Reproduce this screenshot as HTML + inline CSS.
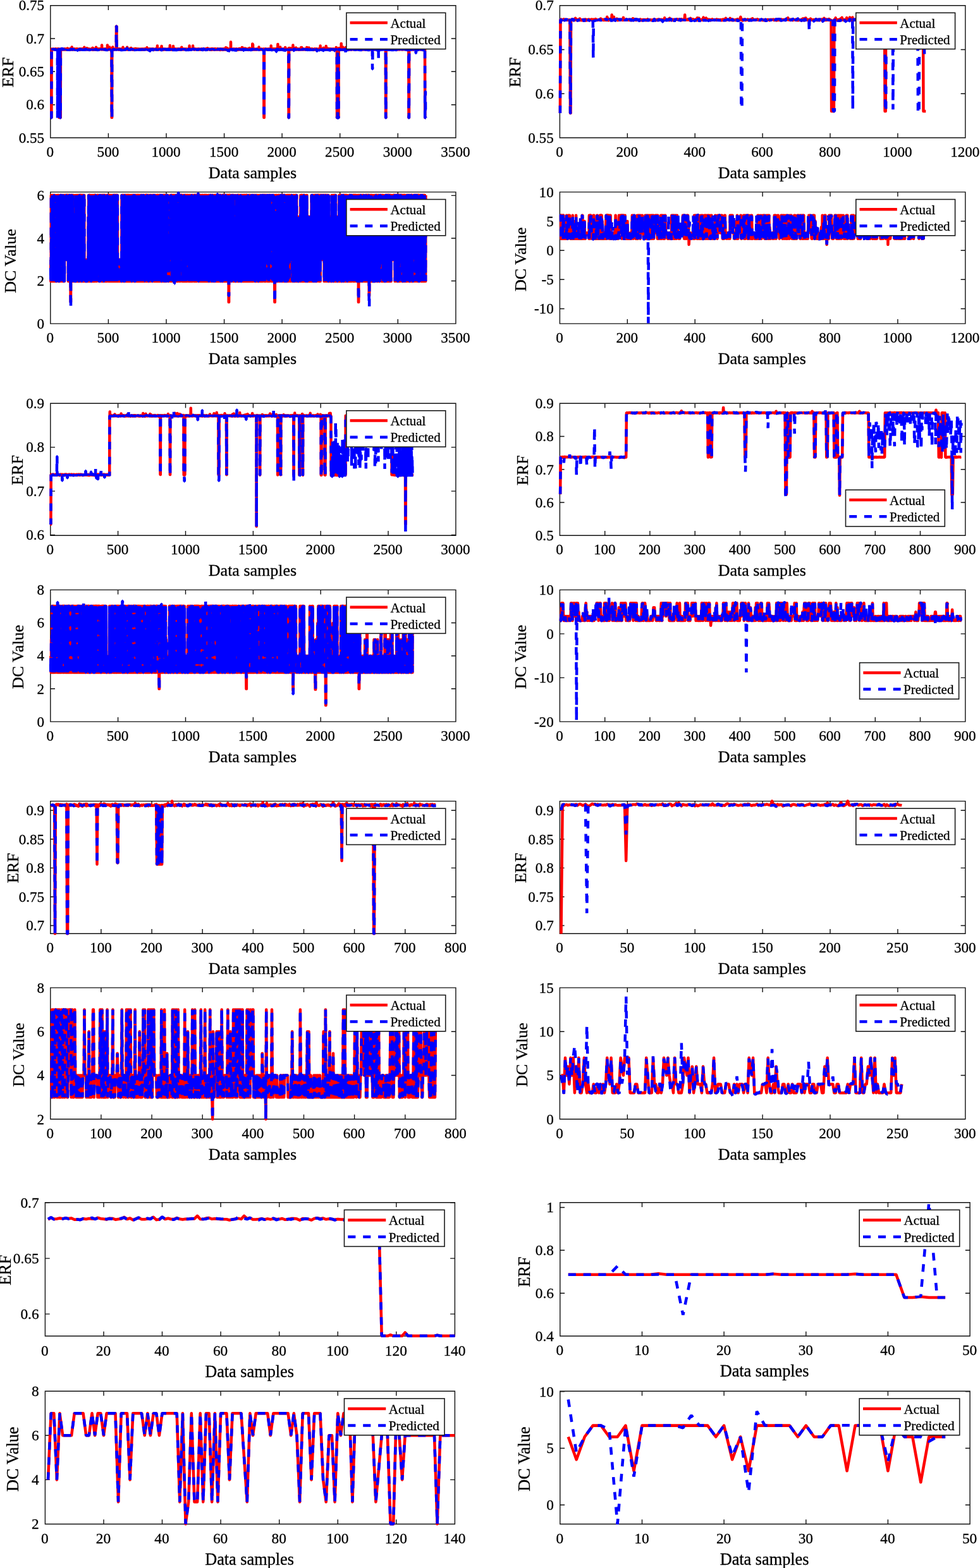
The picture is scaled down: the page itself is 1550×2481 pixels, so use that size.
<!DOCTYPE html>
<html><head><meta charset="utf-8"><title>Actual vs Predicted</title>
<style>html,body{margin:0;padding:0;background:#fff}svg{display:block}text{stroke:#000;stroke-width:0.3px}</style></head>
<body><svg width="1550" height="2481" viewBox="0 0 1550 2481" font-family='"Liberation Serif", "DejaVu Serif", serif'>
<rect width="1550" height="2481" fill="#fff"/>
<clipPath id="c0"><rect x="77.5" y="6.4" width="645.7" height="213.9"/></clipPath>
<path d="M79.8 8.7H720.9V218H79.8ZM79.8 218v-7.2 M79.8 8.7v7.2M171.4 218v-7.2 M171.4 8.7v7.2M263 218v-7.2 M263 8.7v7.2M354.6 218v-7.2 M354.6 8.7v7.2M446.1 218v-7.2 M446.1 8.7v7.2M537.7 218v-7.2 M537.7 8.7v7.2M629.3 218v-7.2 M629.3 8.7v7.2M720.9 218v-7.2 M720.9 8.7v7.2M79.8 218h7.2 M720.9 218h-7.2M79.8 165.7h7.2 M720.9 165.7h-7.2M79.8 113.3h7.2 M720.9 113.3h-7.2M79.8 61h7.2 M720.9 61h-7.2M79.8 8.7h7.2 M720.9 8.7h-7.2" fill="none" stroke="#111" stroke-width="1.4"/>
<g clip-path="url(#c0)" fill="none" stroke-width="4.5">
<path d="M80 186.1h1.4l.2-108l.2-.6l.2 1.1l.2-.5h.2l.1-.5l.2 .7l.2-.3l.2 .3l.2-.3l.2-.2l.1 .5l.2-.7l.2 .1l.2 .1l.2-.1l.2 .5l.1-.2l.2 .3l.2-.2l.2-.3l.2 .4l.2-.1l.1 .1h.4l.2-.2l.2 .3l.2-.4l.1-.4l.2 .2l.2 .3l.2 .3l.2-.1l.2-.8l.1 .6l.2 .2l.2-.3l.2-.6l.2 .6l.2-.1l.1 .1l.2 .2l.2 .2l.2-.2l.2-.1l.2-.2l.1-.1h.2l.2 .2l.2-.2l.2 .5l.2-.6l.1 .2l.2 .3l.2-.3l.2 .2l.2-.4l.2-.1l.1-.2l.2 1.1h.2l.2-.3l.2-.2l.2-.2l.1 108.4h.4l.2-108.4l.2 .2l.2-.2l.1 .3h.2l.2-.1l.2 108.2h.5l.2-108.2h.2l.2-.3h.2l.2 .3l.1 .2l.2 .1l.2-.4l.2 .2l.2 .1l.2-.1l.1 .2l.2-.4l.2 .3l.2-.5l.2 .3l.1-.1l.2 .5l.2-.4l.2-.2l.2 .6l.2-.2l.1-.1l.2 .4l.2-.5l.2-.2l.2 .5l.2-.3l.1 .5l.2-.4l.2 .5l.2-.9l.2 .2l.2 .2l.1 .2l.2-.6l.2-.2l.2 1.2l.2-1l.2-.1l.1 .4l.2 .5l.2-.7l.2 .3l.2 .2l.2 .2l.1-.6l.2-.1l.2 .5l.2-.4l.2 .5l.2-.6l.1 .3h.4l.2-.3h.2l.2 .1l.1 .1l.2-1.5l.2 1.4l.2 .1l.2-.1l.2 .3l.1 .6l.2-1l.2-.4l.2 .5l.2 .2h.5l.2 .3l.2-.2l.2 .2l.2-.4l.1 .2l.2-.3l.2 .2l.2-.3l.2 .2l.2-.6l.1 1.3l.2-.4l.2-.5l.2-.5l.2 .9l.2-.1h.1l.2-.4l.2 .5l.2-.3l.2 .3l.2 .3l.1-.5l.2-.1l.2-.2l.2-3.2l.2 3.8l.2-.4l.1-1.6l.2 1.7l.2 .1l.2-.4l.2 .3l.2-.5l.1 .2l.2 .2l.2 .7l.2-.7h.2l.2-.1h.1l.2 .4l.2-.4l.2 .5l.2-.8l.2 1l.1 .1h.2l.2-.2h.2l.2-.9l.1 .7l.2 .3l.2-.8l.2 .6l.2 .2l.2-.7l.1 .1l.2 .3l.2-.6l.2 .4l.2-.4l.2 .3l.1-.3l.2 .4l.2 .5l.2-1.2l.2 .9l.2-.1l.1 .2l.2-.2l.2-.1h.2l.2-.1l.2-.4l.1 .6l.2 .4l.2-.1l.2-.1l.2 .3l.2-.8l.1 .4h.2l.2-.1l.2 .4l.2-.2l.2-.4h.1l.2 .3l.2-.7l.2 1l.2-.3h.2l.1 .8l.2-1.5l.2 .5l.2 .4l.2-1l.2 .5h.1l.2 .4l.2-.3l.2 .6l.2-.8l.2 .4l.1-.2l.2-.3l.2 .3h.4l.2 .3l.1-.5l.2-.2l.2 .2h.2l.2 .6h.2l.1 .1l.2-.8l.2 .5l.2-.6l.2 .7l.2-.1l.1-.2l.2-.2l.2 .3l.2-.1l.2 .1l.2-.1l.1 .4l.2-.3h.2l.2-3.2l.2 3l.2 .4l.1-.2l.2 .1l.2-.3l.2-.1l.2 .6l.2-.5l.1-.5l.2 1.1l.2-.2l.2 .1l.2-.2l.2-.6l.1 .5l.2 .2l.2-.4l.2 .4l.2-.6l.1 .3l.2-.4l.2 .7l.2-2l.2 1.5l.2 .1l.1 .2l.2 .2l.2 .1l.2-.3l.2 .2l.2-.3l.1 .3l.2-.4l.2-.1l.2 .5l.2-.6l.2 .5l.1-.5l.2 .2l.2-.2l.2 .7l.2-.3l.2-.5l.1 .7l.2 .4h.2l.2 .2l.2-.2l.2-.5l.1-.5l.2 .5l.2-.2l.2 .1h.5l.2-.2l.2 .5l.2-.6h.2l.2 .3l.1-.3l.2 .5l.2-.1l.2-.2l.2 .1l.2 .1l.1 .1h.2l.2-.5l.2 .9l.2-2.8l.2 2.3l.1-.4l.2 .1l.2 1.1l.2-1.1l.2 .1l.2 .1l.1 .1l.2-.4l.2 .4l.2-.7l.2 .4l.2-.5l.1 .9l.2 .3l.2-.7l.2-.1l.2 .3l.2 .5l.1-.4l.2-.3l.2 .2h.4l.2 .3l.1-.2l.2 .3l.2-1l.2 .7l.2-3.4l.2 3.6l.1-.6l.2 .9l.2-.9l.2 .3l.2-.7l.2 1.1l.1-.4l.2-.1l.2-.3l.2 .5l.2-.1l.2 .7l.1-.5l.2-.4l.2-.2l.2 .5l.2-.8l.1 .1l.2 .6l.2 .7l.2-.2l.2-.3l.2-.6l.1 .3l.2 .7l.2-.5l.2-.6l.2 .6l.2 .1l.1-.9l.2 .7l.2 .1l.2-.2l.2 .1l.2 .1l.1-.5h.2l.2 .1l.2 .3l.2-.4l.2 .4l.1-.2l.2-.1h.2l.2-.3l.2 .4l.2 .7l.1-.2l.2-6.8l.2 6.6l.2-.2l.2 .3l.2-.5l.1 .4l.2-.6l.2 .6l.2-.5l.2 .2l.2 .4l.1-.6l.2 .7l.2-.1l.2-.4l.2 .4h.2l.1-.1l.2 .2l.2-.6l.2 .1l.2 .2h.2l.1-.2l.2-.4l.2 .3l.2 .4l.2-.4l.2 .3h.1l.2-.6l.2 .7h.2l.2 .5l.2-.2l.1-.6l.2 .4l.2-.4l.2 .5l.2-.1l.2-.4l.1-.3l.2 .3l.2-.2l.2-.2l.2 .3l.2-1.4l.1 1.7l.2-6.5l.2 6.6l.2-.3l.2 .7l.2-.3l.1-.4l.2 .9l.2-.4l.2-.3l.2 .5l.2-.5l.1-3.3l.2 3.4h.2l.2-.2l.2 .3l.2-.2l.1 .2l.2-3.7l.2 2.9l.2 .5h.2l.2 .4l.1-2l.2 1.9h.2l.2-.4l.2 .1l.1-.3l.2-.1l.2 .6l.2-.2l.2-.5l.2 .3l.1 .1l.2-.2l.2 .6l.2 107.9h.4l.1-107.9l.2-.1l.2-.2l.2 .2h.2l.2-.3l.1-3.4l.2 4.1l.2-.6l.2 .2l.2 .1l.2 .3l.1-.8l.2 1l.2-.2l.2-.4l.2-.5h.2l.1 .7l.2-.3l.2 .5l.2-.8l.2 .7l.2-.4l.1-.3l.2 .3l.2-.5l.2 .8l.2-.4l.2-.2l.1 .3l.2-.5l.2 .3l.2 .7l.2-1.8l.2-1.1l.1 2.3l.2-36.2h.4l.2 36.1l.2 .1l.1-.5l.2 .5l.2-.1l.2 .1l.2 .1h.2l.1-.4l.2 .1l.2 .5l.2 .1l.2-.3l.2-.4l.1 .4l.2-.6l.2 .8l.2-.3l.2 .9l.2-.6l.1-.1l.2-.3l.2-.4l.2 .6l.2-.5l.2 .3l.1-.1l.2 .4l.2-.6l.2 .8l.2-.5l.2 .5l.1-.2l.2 .3l.2-.3l.2-.2l.2 .1l.2 .4l.1-.9l.2 .4l.2-.2h.2l.2 .5l.2 .4l.1-.3l.2-.7l.2 .7l.2-.6l.2 .5l.1-.3l.2 .7l.2-1l.2 .4l.2-.3l.2-3l.1 3l.2 .3l.2-.3l.2 .8l.2-.2l.2-.5l.1 .2l.2 .1l.2-.1l.2-.2l.2 .4l.2-.4l.1 .5l.2-.2l.2-.4l.2-.1l.2 .7l.2-.6l.1 .6l.2-.6l.2 .9l.2-.3l.2-.2l.2-.1l.1-.5l.2 .2l.2-.2l.2 .1l.2 .5h.2l.1-.5l.2 .4h.2l.2 .4l.2-.4l.2-3.3l.1 3.4l.2 .2l.2-.5l.2 .3h.2l.2-.5l.1 .7l.2-.4l.2 .7l.2-.6l.2-.2l.2-.1l.1 .6l.2-.4h.2l.2 .1l.2-.1l.2-.1l.1 .1l.2 .4l.2 .1l.2-1.2l.2 .2l.2 1l.1-.6h.2l.2-.1l.2 .2l.2 .4l.2-.3l.1 .1l.2-.2l.2 .2l.2-2.1l.2 1.7l.2-.1l.1 .7l.2-.2l.2 .1l.2-.6l.2 .4l.2-.5l.1 .6l.2-.1l.2 .4l.2-.8l.2 .5l.2 .3l.1-.2l.2 .5l.2-.7l.2-.1h.2l.2-.4l.1 .6l.2-.4l.2 .2l.2 .1l.2 .6l.1-.9l.2 .4l.2-.1l.2 .4l.2-.5h.2l.1 .1h.2l.2-.4l.2 .1l.2 .1l.2-.9l.1 1.3l.2-.1l.2 .2l.2-.5l.2 .4l.2 .6l.1-.4l.2-.4l.2-.3l.2 .8l.2-.3l.2-.2l.1 .2l.2-.4l.2 .2l.2-.1l.2 .3l.2-.7l.1 .5l.2-.4l.2 .5l.2-.3l.2 .4l.2 .1l.1-.1l.2-.2h.2l.2-.5l.2 .8h.2l.1-.9l.2 .4l.2 .8l.2-.8l.2 .1l.2 .8l.1-.6l.2-.1l.2-.3h.2l.2 .2l.2-.2l.1 .3l.2 .2l.2 .1l.2-.5l.2 .8l.2-.8l.1 .5l.2-.2l.2-.3l.2-.2l.2 1l.2-.4l.1-.2l.2 .2l.2-.5l.2 .9l.2-.7l.2-.1l.1 .2l.2-.4l.2 .8l.2-.8l.2 .6l.2-.4l.1 .3l.2-.4h.2l.2 .7l.2-.4h.2l.1 .1l.2 .1l.2-.8l.2 .5l.2-.4l.2 .7l.1 .1l.2-.4l.2 .3l.2-1l.2 .7l.2-.3l.1 .4l.2 .1l.2-.1l.2-.1l.2-.2l.2 .3l.1 .2l.2 .1l.2-.3l.2-.2h.2l.1 .2l.2 .2l.2-.3l.2-.1l.2-2.6l.2 2.7l.1 .1l.2-.3l.2 .4l.2-.2h.2l.2-.1l.1-.3l.2 .3h.2l.2 .6l.2-.6l.2-.5l.1 .9l.2 .1l.2-.3l.2-.3l.2 .1l.2 .3l.1-.1l.2-.3l.2 .1l.2-.6l.2 .5l.2 .2l.1-.1l.2 .3l.2 .2l.2-.4l.2-.1l.2 .6l.1-.3h.2l.2-.2l.2 .2l.2-.3l.2 .1l.1-.3l.2 .9l.2-1h.2l.2 .5l.2-.2h.1l.2 .4l.2-.3l.2-.2l.2 .2l.2-.3l.1 .3l.2 .1l.2 .2l.2-.1h.2l.2-.7l.1 .5l.2 .4l.2-.4l.2 .1l.2 .9l.2-1.1l.1 .7l.2-.7l.2 .5l.2 .1l.2-.6l.2 .6l.1-.3l.2-.2l.2-.1l.2-.1l.2 .3l.2 .2l.1-.8l.2 .8l.2-.8l.2 .7l.2-.5h.2l.1 .7l.2-.4l.2-.2l.2 .1l.2 .2l.2-.1l.1 .2l.2 .2l.2-.6l.2-2.6l.2-2.6l.2 5.3l.1 .5l.2-.3l.2 .1l.2 .2l.2-.5l.1 .3l.2-.6l.2 .2l.2 .6l.2-.3h.2l.1 .5l.2-.8h.4l.2 .4l.2-.5l.1 .4l.2-.3l.2-.3l.2 .5l.2 .5l.2-.3l.1-.3l.2-1.4l.2 1.9l.2-.3l.2-.1l.2-.1l.1-.1l.2 .6l.2-.2l.2-.4l.2 .2l.2-.1l.1-4.7l.2 4.8l.2-.1l.2 .3l.2 .3h.2l.1-.4h.2l.2 .2l.2-.3l.2 .4l.2-.4l.1 .1l.2 .2l.2 .5l.2-1.2l.2 .4l.2 .9l.1-.7l.2-.2l.2 .1l.2-.2l.2 .5l.2-.4l.1 .1h.4l.2-.1l.2-.2l.2 .4h.1l.2-.2l.2 .1l.2-.1l.2-.1l.2-.2l.1 .4l.2 .7l.2-.7l.2-.1l.2 .1h.2l.1 .7l.2-.9l.2 .3l.2 .4l.2-.2l.2-.1l.1-.4h.2l.2-.3l.2 .3l.2 .6h.2l.1-.8l.2-.1l.2 .6l.2-.3l.2 .7l.2 .1l.1-.3l.2-.2h.6l.2-.3l.1-.3l.2 .5l.2-.7l.2 .9l.2-.1l.1-.2l.2-5.9l.2 5.6l.2 .6l.2-.6l.2 .3l.1-.7l.2 .9l.2-.1l.2-.1l.2 .8l.2-.9h.1l.2 .1l.2 .6h.2l.2-.7l.2-.2l.1-.1l.2 .8h.2l.2-.2l.2 .5l.2-.4l.1-.5l.2-.2l.2 .4l.2-.4l.2 .3l.2-4.7l.1 4.9l.2-.1l.2 .2l.2-.1l.2 .2l.2-.3l.1 .1l.2 .4l.2-.3l.2 .1l.2 .4l.2-.8l.1-.3l.2-.3l.2 .3l.2 .8l.2-.7h.2l.1 1l.2-.9l.2 .1l.2 .1h.2l.2 .1l.1-.5l.2 .6l.2-.1h.2l.2-.1l.2 .6l.1-1l.2 .4l.2-.1l.2 .1l.2 .1l.2 .1l.1-.2h.2l.2-.3l.2 .3l.2 .1l.2-.6l.1 1h.2l.2-.5l.2 .1l.2 .5l.2-.4l.1 .1l.2-.6l.2 .6l.2-.6l.2 .2l.2 .2h.1l.2-.2l.2 .9l.2-.8l.2 .2l.2-.7l.1 .8l.2-.6l.2 1.2l.2-1.1l.2 .2l.2 .2l.1-.1l.2 .1l.2-.3l.2 .2l.2 .5l.2-.5l.1-3.3l.2 3.3l.2-.1l.2 .2l.2-.2h.1l.2 .2l.2-.4l.2 .6l.2-.3l.2-.2l.1 .3l.2 .3l.2-.6l.2 .5l.2-.2l.2 .1l.1-.2l.2 .1h.2l.2-.3l.2-.4l.2 .7l.1-.3l.2 .3l.2-.2l.2-.3l.2 .4l.2 .2h.3l.2-.2l.2-.3l.2 .7l.2-.1h.1l.2 .2l.2-.9l.2 .4l.2-.6l.2 1l.1-.8l.2 .6l.2-.1l.2 .2h.2l.2 .1l.1-.5l.2 .5l.2-.3l.2-.1l.2-.2l.2 .1h.1l.2-.1l.2 .2l.2-.1l.2 .4l.2-.1l.1-.8l.2 .6l.2 .2l.2-.7l.2 .5l.2 .2l.1 .2l.2-.7l.2-5.2l.2 5.6l.2-.3l.2 .1l.1 .1h.2l.2-.4l.2-.3l.2 .9l.2-.4l.1-.4l.2 .2l.2 .6l.2-.1l.2 .1l.2 .1l.1-.1l.2-.3l.2 .3l.2-.5l.2 .2l.2 .2l.1-.4l.2 .2h.2l.2-.2l.2 .1l.2 .2l.1-.3l.2 .2l.2-5.4l.2 5.1h.4l.1 .4l.2-.4l.2 .4l.2 .2h.2l.1-.4l.2 .7l.2-.6l.2 .3l.2-.4l.2 .4l.1-.8l.2 .3l.2 .7l.2-1l.2 .6l.2 .2l.1 .1l.2-.5l.2-.3l.2 .7l.2 .1h.2l.1-.8h.2l.2 .6l.2-.3l.2 .2h.2l.1-.3l.2 .1l.2 .1l.2 .2l.2-.4l.2 .4l.1-.1l.2-.1l.2 .5l.2-.3h.2l.2-.2l.1 .4l.2 .1l.2-.9l.2 .1l.2 .1l.2-.3l.1 .4l.2 .2l.2-.2l.2 .8l.2-.3l.2-.6l.1 .3l.2 .4l.2-.6l.2-.1l.2 .1l.2 .2l.1 .2l.2-.3l.2-.1l.2 .3l.2-.3l.2 .1h.1l.2 .7l.2-1l.2-.2l.2 .7l.2 .3l.1-.6l.2 .3l.2 .2l.2-.7l.2 .8l.2-.6l.1 .6l.2-.9l.2 .3l.2 .3l.2-.2l.2-.1l.1-.1h.2l.2 .1l.2 .3l.2-.3l.2 .6l.1-.7h.2l.2-.2l.2 .7l.2-.3l.2-.2l.1 .2l.2 .2l.2-.2l.2 .1l.2-.3l.2 .5l.1-.3h.2l.2-.2l.2 .3l.2-.1l.1 .1h.4l.2 .1l.2-1l.2 1.1l.1 .1l.2-.1h.2l.2-.2l.2-.5l.2-.1l.1 .5l.2 .9l.2-.9l.2 .5l.2-2.2l.2 2.1l.1-.5l.2 .4l.2-.5l.2 .1l.2 .3l.2-.1l.1-.3l.2 .4l.2-.4l.2 .3l.2-.1l.2-.2l.1-.1l.2 .2l.2 .2l.2-.2l.2 .7l.2-1l.1 .9l.2-.7l.2 .5l.2-.4l.2 .2l.2-.1l.1 .3l.2 .5l.2-.8l.2 .3h.4l.1-.8l.2 .8l.2-.3l.2 .4l.2-.8l.2 .7l.1 .6l.2-1.7l.2 1.2l.2-.7l.2 .1l.2 .1l.1 .3l.2-.2l.2-.3l.2 .5l.2-.2l.2-.2l.1 .3l.2 .1l.2-.6l.2 .4l.2 .1l.2 .2l.1 .1l.2-.6h.2l.2 1l.2-.5l.2-.5l.1-.5l.2 .1l.2 .4l.2-.2l.2 .6l.2-.4l.1 .7l.2-.2l.2-.3l.2-.6l.2 .4l.2 .2l.1 .1l.2 .4l.2-.6l.2 .3l.2-.2l.2 .4l.1-.4l.2 .6l.2-.7l.2-.2l.2 .1l.2-.4l.1 .6l.2-.1h.2l.2 .5l.2-1l.1 .4l.2 .4l.2 .2l.2-.5l.2-.1l.2 .2h.1l.2 .1h.2l.2-.4l.2-.1l.2 .9l.1-.5l.2 .5h.2l.2-.6l.2 .4l.2 .8l.1-1.2l.2-.2l.2-.3l.2 .8l.2-.6l.2 1.3l.1-.5l.2-.5h.2l.2-.2l.2 .1l.2 .3l.1-.5l.2 .3l.2-.4l.2 .8l.2-.3l.2 .2l.1-.4l.2 .3l.2 .1l.2 .3l.2-.5l.2-.3l.1 .1l.2 1.2l.2-.4l.2-1.2l.2 .7h.2l.1-.4l.2 .3l.2 .3l.2-.2l.2-.6l.2 1l.1-.8l.2 .5h.2l.2-.7l.2 .8l.2-.5l.1 .4l.2 .3l.2-.4l.2-.4l.2 .4l.2-.2l.1 .1l.2-2.6l.2 2.8l.2-.2l.2 .7l.2-.5l.1 .4l.2-.6h.2l.2 .3l.2-.5l.2 .2l.1-1.8l.2 2l.2-.3l.2-.2l.2 .6h.2l.1-.6l.2 1.1l.2 .1l.2-.3l.2-.6h.2l.1-.1l.2 .2l.2-.5h.2l.2 .1l.2 .7l.1-.4l.2 .4l.2-.2l.2 .2l.2-.3l.1-.2l.2 .2l.2 .4l.2 .1l.2-.3h.2l.1-.5l.2 .4l.2-.1l.2-11.4l.2 11l.2-.1l.1 .3l.2 .3l.2-.6l.2 .3l.2 .3l.2-.4l.1 .2l.2 .5l.2-.6l.2 .1l.2 .7l.2 .1l.1-.8l.2-.1h.2l.2 .6l.2-.3l.2-.3l.1 .7l.2-.5l.2-.1l.2-.2l.2 1l.2-.8l.1-.6l.2 .9l.2-.1l.2-.4l.2 .5l.2-.6l.1 .2l.2 .7l.2-.6l.2 .5l.2-.7l.2 .8h.1l.2-.2l.2-.1l.2-.6l.2 .4l.2-.1l.1-.3l.2 .6h.4l.2-.5l.2-.2l.1 .4l.2 .3l.2-.1l.2 .2l.2-.6l.2 .6l.1-.2l.2 .2l.2 .3l.2 .2l.2-.5l.2-.4l.1 .2l.2-.1l.2 .3h.4l.2-.4l.1-.6l.2 .7l.2 .4l.2-.8l.2 .7l.2-.5l.1 .3l.2-.1l.2-1.1l.2 1.3h.2l.2-.3l.1 .1l.2 .1l.2 .1l.2-.4l.2-.2l.2 .7h.1l.2-.9l.2 1l.2-.6h.2l.1 .5l.2-.6l.2 .6h.2l.2 .1l.2-3.4l.1 3.1l.2-.5l.2 .6l.2-3l.2 2.3l.2 .5l.1 .3l.2-.2l.2-.5l.2 .1l.2 .4l.2 .4l.1-.7l.2-.3h.2l.2 .3l.2 .2l.2 .2h.1l.2 .3l.2-1.2l.2 .7l.2-.8l.2 .8l.1 .5l.2-2.1l.2 1.8l.2-.1l.2-.6h.2l.1 1.1l.2-.6l.2 .3l.2-.5l.2-.4l.2 .7l.1-.6l.2 .8l.2-1l.2 .9l.2-.1l.2-.2l.1 .5l.2-.9l.2 .8l.2-.5l.2 .6l.2-.5l.1 .1l.2 .1l.2-.3l.2 .5l.2-.8l.2 .4l.1 1l.2-1.6l.2 .5l.2-.3l.2 .5l.2 .7l.1-.6l.2 .3l.2-.4l.2-2.1l.2 2l.2 .6l.1-.5l.2 .1l.2-.3l.2 .7l.2-.4l.2-.6l.1 .8l.2-.6l.2-.1l.2 .4l.2-.3h.2l.1-.2l.2 .6l.2-.1l.2-.3l.2 .5l.2-.2l.1 .2l.2 .5l.2-.8l.2-.5l.2 .7l.2-8.7l.1 8.7l.2 .1l.2-.3l.2-7.5l.2 6.9l.2 .4l.1 .6l.2 .1l.2-.8l.2 .3l.2 .3l.1 .1l.2-.1l.2-.6l.2 .4l.2 .4l.2-.7l.1 .2l.2 .2l.2-.3l.2 .4l.2-.5l.2 .7l.1-.1l.2 .1l.2-.3l.2 .1l.2-.1l.2-.1l.1-.2l.2 .1h.2l.2-.4l.2 .6l.2 .3l.1-.7l.2-.3l.2 .5l.2-.2l.2 .5l.2-.3l.1-.1l.2 .1l.2 .2l.2-.6l.2 .4l.2-.2l.1 .2l.2-.2h.2l.2 .3l.2-.3l.2-.4l.1 .1l.2 .3l.2-3.2l.2 3.9l.2-.9l.2 .5l.1 .5l.2-.6l.2-.2l.2 .5l.2-.8l.2 .2l.1 .8l.2-.7l.2 .2l.2 .3l.2-.1h.2l.1 .3l.2-.3l.2-.3l.2-.3h.2l.2 .7l.1-.2l.2 .2l.2-.5l.2 .8l.2-.1l.2-.2l.1-.3l.2 .2l.2-.1h.2l.2-.1l.2 .4l.1-.2l.2-.3l.2 .1l.2-.3l.2 .6l.2-.5l.1-.2l.2 .5l.2-.1l.2 108.2h.4l.1-108.6l.2 .3l.2-.1l.2 .2l.2 .4l.2-.5l.1 .3l.2 .1l.2 .1l.2-.3l.2 .2l.1-.9l.2 .2l.2 .6l.2-.3l.2-.2l.2 .4l.1-.6l.2 .3l.2 .3l.2 .5l.2-.2l.2-.4l.1 .2l.2-.1l.2 .2l.2-.3l.2 .2l.2 .4l.1-.4l.2 .1l.2 .3l.2-1l.2 .5l.2 .1l.1-.4l.2 .3l.2-.3l.2 .7l.2-.1l.2-.5l.1-.3l.2 .5l.2-.1l.2 .3l.2-.2l.2 .2l.1-.2l.2-.2l.2 .8l.2-.7l.2 .3h.2l.1-.6l.2 .3l.2-.2l.2 .8l.2-.4h.2l.1-5.6l.2 5.3l.2-.1l.2 .6h.2l.2 .1l.1-.8l.2 .5l.2-.1l.2 .1l.2 .2l.2-.4h.1l.2-.2l.2 .3l.2 .1l.2 .1l.2-.7l.1 .2l.2 .3l.2-.2l.2 .4l.2-.9l.2 .9l.1-.1h.2l.2-.7l.2 .5l.2-.3l.2 .4l.1 .4l.2-.7l.2 .5l.2 .2l.2-.3l.2-.3l.1-.4l.2 1l.2 .3l.2-1l.2 .2l.2 .3l.1-.4l.2-.1l.2-.3l.2 .6l.2-.4l.2 .5h.1l.2-.3l.2 .5l.2 .1l.2-.7l.1 .9l.2-.7l.2-1.9l.2 2.1l.2 .3l.2-8.5l.1 8.3l.2 .1l.2-.2l.2-.1l.2 .2l.2 .1l.1-.4l.2 .3l.2 .1l.2-.2l.2-.2l.2-.6l.1 .2l.2 .9h.2l.2-.4l.2-.2l.2 .2l.1-.7l.2 .3l.2-3.2l.2 3.7l.2 .2h.2l.1-.3l.2 .4l.2-.2l.2-.1l.2-.4l.2 .4l.1 .3l.2-.3l.2-.2l.2-.1l.2 .5l.2-.5l.1-.3l.2 .3l.2 .1l.2 .2l.2 .1l.2 .4l.1-.8l.2 .3l.2-.2l.2-.1l.2 .4l.2-.5l.1 .2l.2-.4l.2 .4h.2l.2 .2l.2-.6l.1 1.1l.2-.5h.2l.2 .4l.2-.3l.2 .5l.1-.8l.2 .5l.2-.5l.2-2.8l.2 3.1l.2 .3l.1-.3l.2-.3l.2 .1l.2-.2l.2 .4l.2-.7l.1 .6l.2 .1l.2-.6h.2l.2 .4l.2 .1l.1-.4l.2 .6l.2-.6l.2 .7l.2-.4h.2l.1-.4l.2 1l.2-.7l.2 .1h.2l.2 .3l.1 .1l.2-.3h.2l.2 108h.3l.2-108.3l.2-1.7l.2 1.7l.2-.1h.2l.1 .4l.2 .3l.2-.1l.2-.4l.2-1.7l.2 1.4l.1-.1l.2 .2l.2 .3l.2-.1l.2 .2l.2-.5l.1 .2l.2 .1l.2 .5l.2-.8l.2 .9l.2-.9l.1 .1l.2 .8l.2-.5l.2 .4l.2-2.5l.2 1.9l.1 .2l.2 .4l.2-.5h.2l.2 .1l.2-6.5l.1 6.6l.2-.2l.2 .1l.2-.7l.2 .6l.2 .1l.1-.2l.2 .5l.2-.5l.2-.3l.2-1.6l.2 2l.1-.2l.2 .8l.2-1l.2 .8l.2-.2l.2-.2l.1 .2l.2-.4l.2 .2l.2-.1l.2 .2l.2-.5l.1 1.1l.2-3l.2 2.5l.2 .2l.2-.1h.2l.1-.4l.2 .5l.2-.3l.2-.1l.2 .4l.2-.7l.1-.4l.2 1l.2-.5l.2 .4l.2-.3l.2 .2l.1-.7l.2 .8l.2-.4l.2 .1l.2 .5l.2 .4l.1-.9l.2-.1l.2 .4l.2 .1l.2-.5h.3l.2 .2l.2 .3l.2 .2l.2 .2l.2-.6l.1-.6l.2 .4l.2 .2l.2 .5l.2-.3l.2-.2h.1l.2-.3l.2-2.5l.2 2.6l.2 .2h.1l.2-.4l.2 .6l.2-3.1l.2 3.3l.2-.5l.1-.3l.2 .2l.2-.1l.2-.1l.2 .2l.2-.1l.1 .2l.2 .4l.2-.5l.2-.1l.2 .6l.2-.4l.1-.3l.2 .5l.2 .3l.2-.4l.2-.5l.2 .8l.1-.3l.2 .2l.2-.1l.2-.2l.2-.4l.2 .7h.1l.2 .1h.2l.2 .2l.2-.3l.2-.2h.1l.2-.4l.2 .6h.4l.2-.3l.1 .1l.2-.3l.2 .5l.2-.5h.2l.2-2.8l.1 3.3l.2-.3l.2 .3l.2-.8l.2 .5l.2-.2l.1 .7l.2 .1l.2-.7h.2l.2 .4h.3l.2-.3l.2-.2l.2 .8l.2-.7l.2-2.4l.1 2.7l.2-.1l.2 .4l.2-1.3l.2 .1l.2 .5l.1 .1l.2 .5l.2-1.1l.2 .8h.2l.2-.4l.1 .3l.2 .3l.2-.2l.2 .1l.2-.1l.2-.2h.1l.2-.2l.2 .4l.2-.3l.2-.3l.2 1l.1-.6l.2 .5l.2 .2l.2-1l.2 .1l.2 .2l.1 .3l.2-.6l.2 .9l.2-.4l.2-.2l.1-.2l.2 .9l.2 .4l.2-1h.4l.1 .4l.2-.3l.2 .5l.2-.7l.2-.1l.2 .5l.1 .4l.2-.6h.4l.2-.4l.2 .3l.1-.6l.2 .6l.2 .4l.2-.7l.2 .4l.2 .1l.1-.2h.2l.2 .6l.2-.3l.2-.6l.2 .3l.1-.1l.2-.1l.2-.3l.2 .8h.2l.2 .1l.1-.1l.2 .1l.2-.3h.2l.2-.2l.2 .6l.1-.2l.2-.3l.2-.1l.2 .9l.2-.5l.2-.1l.1 .5l.2-.8l.2-.2l.2 1l.2-.1l.2-.8l.1-.1l.2 .8l.2-.1l.2-.5l.2 .3h.2l.1-.6l.2 .4l.2 .6l.2-6l.2 5.9l.2-.7h.1l.2 .1l.2-.1l.2-.3l.2 .4l.2 .3l.1 .2l.2-.4l.2 .4l.2 .1l.2-.3l.2 .4l.1-.1l.2-.6l.2 .3h.2l.2-.1l.2 .6l.1-.7l.2 .1h.2l.2-.1l.2 .8l.2-1.3l.1-1.6l.2 2.6l.2-.5l.2 .5l.2-.4l.2-.2l.1 .6l.2-.7l.2 .2h.4l.1-.1l.2-.2l.2 .1l.2 .1l.2 .4l.2-.3l.1 .3l.2 .2l.2-.4l.2 .3l.2-.7l.2 .4l.1-4.9l.2 4.6l.2 .4h.2l.2-.5l.2 .8l.1-.1l.2-.3l.2-.3l.2 .2l.2 .4h.2l.1-.9l.2 .5l.2 .3l.2-.1l.2-1.3l.2 .8l.1 .9l.2-.4l.2-.3l.2 .3l.2-.5l.2-.2l.1 .6l.2-.1l.2 .1l.2-.3l.2-.2l.2 .2l.1 .6l.2-.6l.2 .5l.2-.8l.2 .4l.2-.2l.1 .4h.2l.2-.2l.2 .2l.2-.5l.2 .8l.1-.5l.2 .4l.2-.5l.2 .8l.2-.9l.2 .5l.1 .3l.2-.6l.2 .2l.2-.1l.2-.3l.2 .7l.1-.1l.2-.2l.2-.2l.2 .4h.2l.2-.5h.1l.2-.2l.2 .6l.2 .7l.2-1l.2-.1l.1 .7l.2-.5h.4l.2 .2l.2-.1l.1-.2l.2 .7l.2-.8l.2 .4l.2-.4l.2 .5l.1 .3l.2-.9l.2-.1l.2 1.1l.2-.2l.2-.5l.1 .4l.2-.6l.2 .5l.2-3.3l.2 3l.2 .8l.1-.6l.2-.8l.2 .5l.2 .5l.2 107.8h.9l.2-107.8l.1-.3l.2 108.1h1.1l.2-108.5l.2-1.4l.2 1.6l.2 .6l.1-.2l.2-.1h.2l.2-.1l.2-.1l.2 .1l.1-.2l.2 .3l.2-.5l.2 .4l.2 .2l.2 .2l.1-2.6l.2 2.3l.2-.5l.2 .8l.2-.7l.2 .3l.1-9.1l.2 9.5l.2-.6l.2 .8l.2-.5h.2l.1-.1l.2-.2l.2-2.7l.2 2.8l.2 .5l.2-.4l.1-.2l.2-3.3l.2 3.4l.2-2.3l.2 2.5l.2-.1h.1l.2 .6l.2-.2l.2-.6l.2 .8l.2-1l.1 .8l.2-.4l.2-.2l.2 .4l.2-.6l.2 .8l.1-.7l.2 .2l.2 .1l.2-.3l.2 .1l.2 .6l.1-.9l.2 .2l.2 .2l.2-3l.2 2.7l.2-.1l.1 .3l.2 .5l.2-.4l.2-.2l.2 .5l.2 .2l.1-.4l.2-.1h.2l.2-.3l.2 1.1l.2-.8l.1 .1h.2l.2-.1l.2-.2l.2 .1l.2 .2h.1l.2-.1l.2 .1l.2-.4l.2 1l.1-.2l.2-.9l.2 .3h.2l.2-.2l.2 1l.1-1.1l.2 .8h.2l.2-.6l.2 .6l.2-.5l.1-.3l.2 .7h.2l.2-.4l.2-2.5l.2 2.6l.1 .6l.2-1l.2 .3l.2 .9l.2-.4h.2l.1-.1l.2-.3l.2 .3l.2-.6h.2l.2 .4l.1 .3l.2-.3l.2-.1l.2-.3l.2 .5l.2-.1l.1 .3l.2-.2l.2-.5l.2-.1l.2 .6h.2l.1 .1l.2 .3l.2-.6l.2-.1h.2l.2 .2l.1-.2l.2 .1l.2-.3l.2 .3l.2-.4l.2 .1l.1 .3l.2 .5l.2-.6l.2 .1l.2-.5l.2 .3l.1 .6l.2-.1l.2-.5l.2 .3l.2 .4l.2-.6h.1l.2 .2l.2-.3l.2 .3l.2-.6l.2 .9l.1-.6h.2l.2-.1l.2 .4l.2 .1l.2-.7l.1 .4l.2 .4l.2-.5l.2-.2l.2 .3l.2 .4l.1-.5l.2 .8l.2-.8h.2l.2 .3l.2-.1h.1l.2 .2l.2 .1l.2-.1l.2 .1l.2-.7l.1 .9l.2-1l.2 .7l.2 .1l.2-.1l.1 .2l.2 .3l.2-.9l.2 .3l.2 .2l.2 .2l.1-.2l.2 .2l.2-.8l.2 1l.2-.3h.2l.1-.5l.2 .1l.2 .1h.2l.2-.1l.2 .3l.1-.4l.2 .6l.2-.6l.2 .3l.2-.5l.2 .8l.1-.3l.2 .1l.2-.5l.2 .7l.2-.7l.2 .1h.1l.2 .4l.2-.4l.2-.4l.2 .8l.2-.3l.1 .2l.2 .2l.2-.1l.2-.4l.2 .2l.2 .7l.1-.9l.2 .3l.2-.4l.2 .5l.2-.9l.2 1l.1-.6l.2 .6l.2-.4l.2 .4l.2-.7l.2 .4l.1-.5l.2 .5l.2 .5l.2-.3l.2-.1l.2-.6l.1-.4l.2 .9l.2-.1l.2-.3l.2 .7l.2-.2l.1-.3l.2 .1l.2 .1l.2 .3l.2-.4l.2-.1l.1 .4l.2-.2l.2-.7l.2 .5l.2-1.8l.2 2.3l.1-.1l.2-.1l.2 .1l.2 .2l.2 .1l.2-.5l.1-.3l.2 .1h.2l.2-.1l.2 .5h.2l.1-.1l.2 .2l.2-.4l.2 .3l.2-1.8l.2 1.9l.1-.5l.2-.3l.2 .9l.2-.2h.2l.2-3l.1 2.7l.2-.1l.2 .4l.2-.1l.2-.2h.1l.2 .4l.2-1l.2 .8l.2-.1l.2 .2l.1-.1l.2 .2l.2-.8l.2 1.1l.2-.6l.2-.2l.1 .7l.2-.7l.2-.2l.2 .3l.2 .1h.2l.1 .1l.2-.3l.2 .4l.2-.3l.2 .2l.2 .1l.1 .1l.2-.5l.2 .4l.2-.6l.2 .4h.2l.1 .3h.2l.2-.5l.2 .2h.2l.2-.2h.1l.2 .3l.2-1l.2-.1l.2 .8l.2 .6l.1-.1l.2-.5l.2 .4l.2-.2l.2 .6l.2-.8l.1-.2l.2 .8l.2-.3h.2l.2 .7l.2-.7l.1 .1l.2 .2l.2-.1l.2-.4h.4l.1 .3h.2l.2-.3l.2 .2l.2-.4l.2-.1l.1 .5l.2 .4l.2-.6l.2 .3l.2-2.4l.2 2l.1 .5l.2-.7l.2-.1l.2 .4l.2-.1l.2 .3l.1 .1l.2-.6l.2 .3l.2 .1h.2l.2-.3l.1 .3l.2 .1h.2l.2-.1l.2 .1l.2-.1l.1 .1h.2l.2-.7l.2 .6l.2-.6l.2 .9l.1-.6l.2 .3l.2-.6l.2 .7l.2-.7l.1 .8l.2-.2l.2 .3l.2-.3h.2l.2 .3l.1 .3l.2-.9l.2 .1l.2 .4l.2 107.9h.3l.2-108.2h.2l.2 .2l.2-.1l.2-.2l.1 .4h.2l.2-.2l.2-.2l.2 .3l.2-.4l.1 .3l.2 .2l.2-.3l.2 .5l.2 .2l.2-.7l.1 .6l.2-.3l.2-.5l.2 .2l.2 .3l.2-.2l.1 .4l.2-.1l.2-.3l.2-.2l.2 .2h.2l.1 .2l.2-.2l.2-.3l.2-.1l.2 .3h.3l.2-.1l.2 .3h.2l.2 .1h.2l.1-.8l.2 .3l.2 .5l.2-.2l.2-.1l.2 .1l.1 .3l.2-.8l.2 .9l.2-.7l.2 .3l.2 .2l.1-.2l.2 .6l.2-.7l.2-.2l.2 .4l.2-.2l.1 .9l.2-.7l.2 .3l.2-.7l.2 .2l.2 .1h.1l.2 .1l.2-.4l.2 .6l.2-.6l.2 .1l.1-.1l.2 .4l.2-.5l.2 .1l.2 .1l.2-.2l.1 .5l.2-.1l.2-.4l.2-.3l.2 1.2l.2-.8l.1 .7l.2-.5l.2 .3l.2-.3l.2 .2l.1-.2l.2-.1l.2 .3l.2-.3l.2 .3l.2-.3l.1-.2l.2 .3h.2l.2 .6l.2-.3h.2l.1-.2l.2 .4h.2l.2-.4l.2-.1l.2-.2l.1-.2l.2 .3l.2 .3l.2-.3l.2 .4l.2-.3l.1-.5l.2-1.8l.2 2.5l.2-.4l.2 .4l.2 .1l.1 .3l.2-.7l.2 .1l.2-.2h.2l.2 .4l.1-.4l.2-.3l.2-.1l.2 .4l.2 .2h.2l.1 .1l.2 .2l.2-.7l.2 .2l.2 .2l.2-.4l.1 .2l.2 .7l.2-.8l.2 .5l.2 .3l.2-.5l.1 .2l.2 .1l.2-.7l.2 .5h.2l.2 .1h.1l.2-.2l.2 .2l.2-1.1l.2 1.3l.2-.4l.1 .2l.2 .1h.2l.2-1.9l.2 1.4l.2-.1l.1 .2l.2 .3l.2-.7h.4l.2-2.9l.1 3.3h.8l.2 .3l.1-.5l.2-.1l.2 .3l.2 .2l.2-.1l.2-.3l.1 .4l.2-.2l.2 .4l.2-.3l.2 .5l.2-.1l.1-1l.2 .6l.2-.3l.2 1.2l.2-.7l.2-.1l.1 .2l.2-.3l.2 .4l.2-.7l.2 .2l.1 .5l.2 107.8h.4l.2-108.5l.2 .7l.1-.1l.2-.5l.2 .7l.2-.6l.2 .4l.2-3.7l.1 3.3l.2 .1l.2 .3l.2-.2l.2-.4l.2 .4l.1-.2l.2-.3l.2-.1l.2 .1l.2 .4h.2l.1-2.5l.2 2.7l.2-.1l.2 .4l.2-.6l.2 .3l.1-.5h.2l.2-.1l.2 .7l.2-.2l.2 .2l.1 .3l.2-.3h.2l.2-.6l.2 1.2l.2-1l.1 .3h.4l.2-.3l.2 .2l.2-.8l.1 .7l.2 .2h.2l.2-.1l.2-.5l.2 .3l.1-.3l.2 .9l.2-.3l.2-.1h.2l.2-.2l.1-.2l.2 .5l.2 .8l.2-.6l.2 .1l.2-.6l.1-.5l.2 .6l.2-.5l.2 .5l.2-.3l.2 .3l.1-.2l.2 .6l.2-.2l.2-.6l.2 .2l.2 .7l.1-.8h.2l.2 .5l.2-.2l.2 .3l.2-.3h.1l.2 .2l.2-.1l.2 .1l.2-.3l.2 .4l.1-.3h.2l.2 .3l.2-.1l.2-.2l.2-.4l.1 .7l.2-.2h.2l.2 .5l.2-.5l.1-.3h.2l.2 .4l.2-.3l.2 .3l.2-.2l.1-.2l.2 .5l.2-.4l.2 .7l.2-.8l.2 .8l.1-.5h.2l.2-.3l.2-.3l.2 .6h.2l.1 .3l.2-.5l.2-.1l.2-.1l.2 .7h.2l.1-.6h.2l.2 .9l.2-.4l.2 .5l.2-.7l.1-.1h.2l.2-.1h.2l.2 .2l.2 .5l.1-.6l.2-.2l.2 .7l.2-.1l.2 107.8h1.4" stroke="#f00" stroke-linejoin="round"/>
<path d="M80 186.6h1.4l.2-108.7l.2 1.8h.2l.2-2l.2-1l.1 1.3l.2 .2l.2-.6l.2-1l.2 2.2l.2 .8l.1-3.2l.2 .5l.2 3l.2-2.3l.2 .4l.2 .6l.1 1.2l.2 .3l.2-1l.2-.5l.2-2l.2 3.5l.1-2.8l.2 1l.2-.7l.2-1.4l.2 2.8l.2-.7l.1 2.1l.2-1.1l.2-2.6l.2-.5l.2 2.1l.2 .3l.1-.6l.2 .2l.2-2.2l.2 3.7l.2 .7l.2-1l.1 .7l.2-1.7h.2l.2 1.8l.2-1.7l.2 .3l.1-.6l.2 1l.2-.2l.2-.2l.2 107.8l.2-106.8l.1 106.8l.2-108.2l.2 .2l.2 108l.2-107.7l.2 107.7l.1-108.1l.2 1l.2 107.1l.2-108.1l.2 .9l.2-3.4l.1 110.6h.4l.2-110.4l.2 4.4l.2 106l.1-106.5l.2-1l.2-.2l.2 107.7h.5l.2-108.9l.2-.2l.2 .2l.2 2.4l.2-4.1l.1 .1l.2 3l.2-.1l.2 1l.2-2.2l.2 .7l.1-.6l.2 1.1l.2 1l.2-.4l.2-.4l.1-.9l.2 .5l.2-1.2l.2 .1l.2-.3l.2 .8l.1-1.8l.2-.4l.2 3.1l.2 .6l.2-2.1l.2 .2l.1-.2l.2 1.5l.2 .6l.2-1l.2-2.2l.2 2.2l.1-1l.2 1.4l.2 .4l.2-.1l.2 1.6l.2-1.7l.1-1.8l.2 1l.2 1l.2-.9l.2-.4l.2-.7l.1 1.8l.2-.8l.2-.4l.2-.8l.2 2.6l.2-1l.1 1.7l.2-1.1l.2-1.4l.2-1.6l.2 2.3l.2 .2l.1 .7l.2 .4l.2-.6l.2-1.7l.2 3.1l.2-2.2l.1 .6l.2 .4l.2-1.5l.2 1.2l.2 .4l.2-.6l.1 1.1l.2 .1l.2-1l.2 .4l.2-2.3l.2 1.1l.1 1.2l.2-1.2l.2-.9l.2 .1l.2-1.3l.2 2.9l.1-2.4l.2 1.9l.2-.5l.2 1.1l.2 .2l.2-3.3l.1-.1l.2 1.9l.2-.7l.2 .8l.2-1.6l.2 3.9l.1-4l.2 3.8l.2-3.7l.2-.7l.2 3.9l.2-.6l.1-.8l.2-1l.2 3.5l.2-2.3l.2-1l.2-.1l.1 .2l.2 1.2h.2l.2 .2l.2-3.2l.2 3.7l.1-1.5l.2 .7l.2-.2l.2-.6l.2 1.1l.2-.7l.1 .5l.2-1.3l.2 1.3l.2-.6l.2 .1l.1-2.2l.2 .1l.2 3.5l.2-.5l.2 .8l.2-1.3l.1-.3l.2 .7l.2-1.2l.2 1l.2-.5l.2 2.1l.1-2.9l.2 1.9l.2-.6l.2-1.3l.2 2.4l.2-2.8l.1 .8h.2l.2 2l.2-.1l.2-1.6l.2 .4l.1 .3l.2-.5l.2 .9l.2-.9l.2-.8l.2 1.7l.1-.1l.2-.8l.2 .4l.2-.5l.2-.1l.2 2l.1-3.8l.2 2.1l.2-.3l.2 1.4l.2-1.1l.2 .1l.1 .9l.2-1l.2 1.5l.2-4.3l.2 2.3l.2-.3l.1 .2l.2 1.3l.2-1l.2 2.5l.2-1.3l.2-1.8l.1 1l.2 2.1l.2-.8l.2-2.6l.2 3l.2-2.1l.1 2.2l.2-3.2l.2 .4l.2-.4l.2 1.4l.2-.8l.1 .2l.2 1.7l.2-1.6l.2 .9l.2 .6l.2-.1l.1-2.6l.2 .4l.2 1.3l.2 2l.2-3.1l.2-.6l.1 .6l.2 1l.2 1.4l.2-1.6l.2 1l.2-.2l.1-.8l.2 .7l.2-.9l.2-1l.2 2.8l.2-2l.1-.2l.2 .9l.2 2l.2-1.4l.2-3.5l.2 1.7l.1 2.2l.2-.9h.2l.2-.6l.2-.2l.1-.6l.2 .8l.2 1.1l.2-2l.2 1.9l.2-1.5l.1-1.5l.2 2l.2 2l.2-2.6l.2 .3l.2 1.6l.1-1.9l.2 .7l.2 1.3l.2-1.5l.2 .4l.2 1.9l.1-2.3l.2 2.1l.2-2.4l.2 2.2l.2-2.2l.2 .4l.1 1.8l.2-2.2l.2-.7l.2 3l.2-.7l.2 .2l.1-.8l.2-2.1l.2 1.7l.2-1.6l.2 1.8l.2-1.6l.1 2.1l.2-.2l.2 1.4l.2-2.8l.2 1.1l.2 .4l.1 .6l.2-1.9l.2 .3l.2 1.6l.2-2.8l.2 1.6l.1 .2l.2-2.3l.2 2.2h.2l.2 .3l.2-3h.1l.2 1.4l.2 1.3l.2 .6l.2-1.3l.2 .5l.1 1.8l.2-3.1l.2 1.9l.2-1.3l.2 .8h.2l.1 1.4l.2-.5l.2-.2l.2-.8l.2-.4l.2 .7l.1 .6l.2-2.1l.2 1.2l.2-.5l.2 .1l.2 1.4l.1-.3l.2-1.7l.2-1.2l.2 1.7l.2 1.3l.2-2.2l.1 3.3l.2-.9l.2-2.5l.2 2l.2-2.2l.2 3.7l.1-1.2l.2-1.2l.2 .2l.2-.1l.2 .3l.2 .7l.1-1.8l.2 1.9l.2 .6l.2-1.3l.2 2.4l.1-3.5l.2 .4l.2 .7l.2 .7l.2 1.3l.2-.1l.1-2.8l.2 .7l.2-.3l.2 .6l.2-.5l.2 2.1l.1-2.5l.2 .3l.2-.6l.2 .9l.2 1.3l.2-1.7l.1 1.9l.2-2.5l.2 .7l.2 1.2l.2-1.2l.2-1.4l.1 2.9l.2-3.1l.2 1.9l.2-1.2l.2 1l.2-.3l.1-1.5l.2 1.9l.2 .4l.2-.4l.2-1.1l.2 1.5l.1 .9l.2-.8l.2-1l.2 .7l.2-.5l.2 1.4l.1-2.5l.2 1.2h.2l.2 .4l.2-.7l.2 .8l.1 .1l.2-1.1l.2 1.2l.2-.2l.2 1.5l.2-1.3l.1 1.1l.2-.3l.2-.3l.2-3l.2 .9l.2 .9l.1 .1l.2-1.1l.2 3.8l.2-1l.2-1.3l.2 .8l.1 .6l.2-1l.2-1.2l.2-.4l.2 1.2l.2-.4l.1-.4l.2 3.2l.2-3.2l.2 3.1l.2-2.8l.2-.2l.1-.1l.2 1.4l.2-1.4h.2l.2-.4l.2 2.9l.1-.8l.2-1.4l.2 .7l.2-1.1l.2 .3l.2 .3l.1-.3l.2 .3l.2 1.2l.2-1.6l.2 1.3l.2-2.5l.1 .6l.2 2l.2-1l.2 1.8l.2-1.7l.2-1.7l.1 1.6l.2-.9l.2-.3l.2 1.2l.2-1.1l.1 1.5l.2-.5l.2 2l.2-.9l.2-.4l.2-1l.1 1.9l.2-1.5l.2 2l.2 106.3h.4l.1-107.2l.2-.7l.2-1.2l.2 1.8l.2-1.3l.2 .6l.1 1l.2-.2l.2-1.8l.2 1.6l.2-1.6l.2 .9l.1 1l.2-.9l.2-2.5l.2 2.3l.2 1l.2-1.3l.1 .8l.2 1.2l.2-2l.2 1.5l.2-2.5l.2 .1l.1 .5l.2 .8l.2 1l.2-1.3l.2 1.2l.2-2.1l.1 2.8l.2-3.3l.2 1.8l.2 .7l.2 .5l.2-2l.1 .2l.2-36.5h.4l.2 36.9l.2 1.5l.1-1.2l.2 .8l.2-2.5l.2 1l.2 1l.2 .1l.1-1.8l.2 1.9l.2-.5l.2-.8l.2 1.5l.2-2.4l.1 1.2l.2-1.5l.2 1.8l.2-2.5l.2 2l.2 .3l.1 1.7l.2-1.8l.2 1.9l.2-1.3l.2 .1l.2-1.4l.1 1.4l.2-.1l.2 .6l.2-.5l.2 .2l.2-2.7l.1 3.1l.2 .3l.2-.6l.2-2l.2 3.5l.2-3.8l.1 2.7h.2l.2 .4l.2-2l.2 1.3l.2-1l.1 .2l.2 2.5l.2-2.4l.2-.5l.2 1.9h.1l.2-1.4l.2-1.9l.2 .2l.2-.4l.2 3l.1-1.6l.2 1.2l.2-1.4l.2 .9l.2 2l.2-2.8l.1 3.1l.2-4.9h.2l.2 3.3l.2-.7l.2-.2l.1-.3l.2-.3l.2 2.6l.2-.7l.2-2.2l.2 .5l.1 1.3l.2 .7l.2-1.9l.2 .9l.2-1.6l.2-.1l.1 .4l.2 .4l.2 .1l.2-.7l.2 1.8l.2 1l.1-2.5l.2 .4h.2l.2 .5l.2 2.3l.2-5h.1l.2 3.1l.2-1.6l.2 .9l.2-.2l.2-.1l.1-.8l.2 2l.2-1.6h.2l.2 3.3l.2-4.2l.1 .9l.2 1.5l.2-.8l.2-.5l.2 .9l.2-.9l.1 3l.2-2.6l.2-1.1l.2 .4l.2 .7l.2 1.1l.1-1l.2 1.5l.2-1.5l.2 .3l.2-.8l.2-1l.1 .6l.2 2l.2 .1l.2-.1h.2l.2 .2l.1-3.5l.2 .8l.2 2.2l.2-.8l.2-2.4l.2 4.5l.1-2.5l.2-1.8l.2 2.1l.2 .8l.2-2.1l.2-1l.1 2.7l.2-1.6l.2 2.5l.2-1.4l.2-.4l.2 1.2l.1 .1l.2-1.3l.2-.3l.2 2.2l.2-.5l.1-1.2l.2 2.3l.2-.6l.2-1.6l.2-.5l.2 .6l.1 .4l.2-2l.2 1.7l.2 .8l.2 1.8l.2-3l.1 1.1l.2-.1l.2-.3l.2 .9l.2-1.5l.2 .7l.1-2.7l.2 3.3l.2-1.1l.2 1l.2-1.5l.2 1.8l.1-1.1h.2l.2-.4l.2 2.7l.2-2.9l.2 .6l.1-1.3l.2 2.3l.2-.8l.2 1l.2-.1l.2-1.7l.1 .1l.2 .8l.2-.4l.2-.2l.2-.5l.2 .2l.1-1.4l.2 2.1l.2-1.7l.2 2.1l.2-1l.2 .3l.1-.6l.2 .9l.2-2l.2 4.3l.2-3.3l.2 .2l.1-.1l.2-1.1l.2 .5l.2 3.1l.2-2.9l.2 1.8l.1-.8l.2-.2l.2 1.5l.2 .6l.2-1.8h.2l.1 .9l.2 .4l.2-1.1l.2 .3l.2-.2l.2-2.2l.1 1.4l.2-.8l.2 2.2l.2-2.5l.2 1.8l.2-.2l.1 .1l.2-.3l.2 2.2l.2-1.8l.2-.8l.2-.8l.1 1.1l.2 1.3l.2 .8l.2-2l.2 2.5l.2-1.9l.1-.8l.2 .5l.2 .4l.2 1.9l.2-2.1l.2-1.3l.1 1.5l.2 .2l.2-1l.2-.3l.2-.2l.2 2l.1-.4l.2-.9l.2-.8l.2-.5l.2 2.3l.1-1.7l.2-.5l.2 1.2l.2 .6l.2 .8l.2-2.3l.1 1.2l.2-1.7l.2-.4l.2 3.6l.2-1l.2-.4l.1 1.1l.2-.3l.2-2.6l.2 2.4l.2-1l.2 2.5l.1-1.4l.2 .1h.2l.2-.8l.2 .1l.2 1.5l.1-1.1l.2-1.5l.2 2.2l.2-3.7l.2 .9l.2 2l.1 2h.2l.2-1.6l.2-.1l.2 .3l.2-3.1l.1 .9h.2l.2 1.9l.2-1.8l.2 1l.2-.1l.1-.4l.2-2l.2 4.2l.2-1.5l.2 1.9l.2-2.8l.1 .5l.2-2.3l.2 1.8l.2 2.4l.2-.3l.2-3.5l.1 4.6l.2-3.6l.2 2.2l.2-.8l.2-.3l.2 1.4l.1-.5l.2-.8l.2-2.1l.2 1.2l.2 1.7l.2-.9l.1 .9l.2-1.1l.2 1.4l.2-.8l.2-2.4l.2 3.4l.1-2.3l.2 1.2l.2-1.1l.2 1l.2-.2h.2l.1-1.6l.2 .4l.2 1l.2-1.5l.2 .3l.2 .1l.1-.1l.2 2.9l.2-3.5l.2 3.4l.2-1.3l.2-.9l.1 3.2l.2-2.5l.2-1.1l.2 .9l.2-.6l.2 1.5l.1 1.2l.2-1.9l.2 1.5l.2-1.1l.2 .7l.1-1.3l.2 1.3l.2-.5l.2-3l.2 2.5l.2 .2l.1-1.6l.2 .8l.2-1l.2 1.1l.2 .1l.2 .7l.1-2l.2 1.3l.2 .4l.2-2.4l.2 4.8l.2-1.7l.1-1.7l.2 1.9l.2-.1l.2-1.5l.2 .6l.2-.7l.1 1.5l.2-.7l.2 .6l.2 .5h.2l.2-2l.1 3.4l.2-2.1l.2 .8l.2-1.6l.2 .8l.2-1.1l.1 .2l.2 2.6l.2-2.7l.2 1.1l.2-.5l.2 .3l.1-.9l.2-1.9l.2 2.6l.2-2.6l.2 3.2l.2-.3l.1-1.8l.2 1.2l.2-.6l.2 .4l.2-1.5l.2 3.5l.1-.5l.2-1.6l.2-2l.2 3.2l.2-1.3l.2-1.5l.1 1l.2-1.4l.2 4.3l.2-.5l.2 1l.2-1.7l.1-.9l.2 1.3l.2-1.3h.2l.2 1.1l.2-1.4l.1 1.3l.2 .2l.2-2.2l.2-.9l.2 1.1l.2 1.7l.1-1.2l.2-.5l.2 .5l.2 .8l.2 2.3l.2-3.3l.1 .8l.2-.1l.2 .8l.2 1.8l.2-2.3l.2-1.5l.1 .5l.2 1.5l.2-.8l.2 .5l.2 1.9l.2-2.5l.1-1.5l.2-.5l.2 2.5l.2-1l.2 2.8l.1-.7l.2-1.9l.2-.1l.2 2.4l.2-.8l.2-.1l.1-1.8l.2 1.2l.2-.3l.2-1.3l.2 .7l.2 1.8l.1-1.3l.2 1.3l.2-1.3l.2-1.3l.2 .4l.2 .2l.1 .3l.2-.6l.2 .8l.2-.6l.2 .7l.2-.4l.1 .3l.2-.8l.2-.1l.2 1.8l.2 .6l.2-1l.1-2.4l.2 1.4l.2 3.3l.2-3.3l.2 1.9l.2-1.2l.1 1.9l.2 .7l.2-4.5l.2 .8l.2-.6l.2 1.1l.1 2.4l.2-4.1l.2 4.9l.2-2.4l.2 .7h.2l.1 1.7l.2-.8l.2-1.2l.2-2.1l.2 2.7l.2-1.7h.1l.2-.5l.2 1.8l.2-2.1l.2 2.7l.2-2l.1 1.5l.2 .1l.2-.2l.2 1.1l.2-.7l.2-1.5l.1-.4l.2 .9l.2-1.3l.2 3l.2-1.7l.2-.9l.1-.2l.2 1l.2-2.5l.2 2.2l.2 1.6l.2-1.6l.1 2l.2-2.9l.2 1.6l.2 .1l.2-.8l.2 .4l.1 2.2l.2 .2l.2-2.1l.2-.6l.2-.4l.2 .9l.1 .7l.2-1.1l.2 1.1l.2-1l.2 1.8l.2-1.4l.1 1.8l.2-4.3l.2 2.6l.2-1.6l.2 1.6l.2-.5l.1-.1l.2 1l.2-.4l.2-.1l.2-1.1l.1 1.6l.2-1.3l.2-.3l.2 1.5l.2-.9l.2-.6l.1 .1l.2 .2l.2-1.4l.2 2.9l.2-3.4l.2 3.5l.1-.4l.2-1.5l.2-1.8l.2 3.5l.2 .7l.2-1.7l.1 .6l.2-2.9l.2 1.8l.2 1.3l.2-1.8l.2 .2l.1 2.5l.2-4.2l.2 1.9l.2 .6l.2 .1l.2-2.3l.1 1.8l.2 .1l.2 2.4l.2-1.4l.2 1.2l.2-2.1l.1-.4l.2 3.1l.2-2.3l.2 1.8l.2-2.6l.2 .1l.1 1.8l.2-1.3l.2-.3h.2l.2-2.1l.2 2l.1 1.9l.2-1.6l.2-.1l.2 .3l.2 .2l.2-1.4l.1-1.2l.2 .6l.2 2.5h.2l.2-1.5l.2 .4l.1-2.1l.2 1.8l.2 1.6l.2 .7l.2-1.9l.2-1.8l.1 2.9l.2-.9l.2-.2l.2 .9l.2-1.9l.2-.3l.1 1.5l.2 2.1l.2-1.5l.2-.5l.2-.2l.2 .1l.1-.1l.2 .9l.2-.8l.2-.9l.2 1.7l.2-1.5l.1 .1l.2-.5l.2 1.4l.2 1.9l.2-2.7l.2-1.4l.1 .1l.2 .7l.2-.9l.2 2.4l.2-1.5l.2 1.8l.1-.1l.2-1.1l.2 .9l.2 .6l.2-1.9l.1 .7l.2-1.4l.2 3.1l.2-1l.2 .1l.2-.3l.1-1.1l.2 2.1l.2-2.5l.2 1.8l.2-1.9l.2-.4l.1-.4l.2 3.3l.2-.8l.2-1.3l.2-.2l.2 1.6l.1-1.4l.2 .8l.2 .7l.2 .1l.2-2.1l.2 1.5l.1 .3l.2-2.6l.2 2l.2 1.6l.2-1.5l.2 .4l.1 .1l.2-.8l.2 2.9l.2-2.8l.2 1.4l.2-1.7l.1-.1l.2 3.2l.2-3.1l.2-.1l.2 .4l.2 1.2l.1-2.3l.2 .4l.2 2.1l.2-1.3l.2-1.4l.2 .3h.1l.2 1.5l.2-1.6l.2-.4l.2-.6l.2 1.6l.1 .3l.2-.1l.2 .7l.2-.1h.2l.2 .6l.1-.6l.2 .2l.2-.7l.2 .6l.2-.5l.2-.1l.1 .2l.2-2.2l.2 1.4l.2 2.9l.2-.3l.2-2.6l.1-.2l.2 1.6l.2-.6l.2 .4l.2 .1l.2-1.1l.1 2l.2-.3l.2-1.6l.2 1.6l.2-.8l.2-.4l.1 2.7l.2-3.1l.2 .8l.2-2.2l.2-.3l.2 4.3l.1-1.8l.2 .5l.2-.4l.2 1.2h.2l.2 1l.1-1.5l.2-1.3h.2l.2-2l.2 .8l.1 2.9l.2-1l.2-1.9l.2 .9l.2 .5l.2 1.6l.1-1.1l.2 2.3l.2-4.1l.2 .8l.2 .1l.2 1l.1 1.1l.2-1.3l.2-.9l.2-1l.2 2.3l.2 1.2l.1-2.4l.2-.4l.2 1.2l.2-.8l.2-1.4l.2 2.5l.1-1.1l.2 .1l.2-.2l.2 .5l.2-.9l.2 1.3l.1 1.7l.2-2.2h.2l.2 .5l.2 .3l.2-.7l.1 2l.2-3.2l.2 1.8h.2l.2 .1l.2 1.2l.1-2l.2 .2l.2-.9l.2 .9l.2-.1l.2-1.9l.1 2.5l.2-.5l.2 .8l.2-.2l.2-.4l.2 1.7l.1-1.4l.2-.9l.2-.7l.2 .6l.2-1.6l.2 1.5l.1 1.5l.2-.5l.2-1.4l.2-.9l.2 .7l.2 .7l.1-1.1l.2 1.2l.2 .1l.2-.7l.2 1l.2 .6l.1 1.1l.2-.6l.2-1.2l.2 .5l.2-2.3l.2 3.1l.1 1.5l.2-1l.2-.7l.2 .3l.2-.5l.2-.9l.1 .6l.2 .2l.2-.7l.2 .7l.2-1.3l.2 .7l.1 .4l.2-.9l.2 1.6l.2-.5l.2 .7l.2-.8l.1 .4l.2-.7l.2 1.1l.2 .1l.2-3.2l.2-.6l.1 .7l.2 1.6l.2 2.5l.2-3.4l.2 1.2l.1 .4l.2-1.1h.2l.2-1.2l.2-.6l.2 2l.1 1.1l.2-.9l.2 1.7l.2-1.1l.2 .8l.2-2.3l.1-.4l.2 1.8l.2-.9l.2 .2l.2-.5l.2 .9l.1-1.2l.2 1.8l.2-1.8l.2-.2l.2 1.4l.2-.5l.1 .4l.2-.6l.2-.1l.2 .5l.2 .6l.2-1.2l.1 .4l.2-2l.2 3.7l.2-3.4l.2 1.7l.2-.4l.1 1.6l.2-.2l.2-.9l.2 .4l.2 1.6l.2-1.7h.1l.2 .6l.2-1.7l.2-.2l.2 2.3l.2-.6l.1 .3l.2-.8l.2-1l.2 .7l.2 .7l.2 .4l.1-2.4l.2 .3l.2 .9l.2 2l.2-2.5l.2 .9l.1 1.3l.2-2.7l.2 1l.2 2.1l.2-1.2l.2-.1l.1 .4l.2-1.3l.2-.5l.2 1.6l.2-2.7l.2 2l.1-1.8l.2 1.5l.2-.6l.2-.5l.2 2.4l.2-2l.1 2.2l.2-.9l.2-.1l.2-.9l.2 3l.2-2.2l.1 .2l.2 1.9l.2 .1l.2-1.7l.2 1.4l.2-2l.1 1.5l.2-.7l.2 .2l.2-1l.2-.2l.2 2.9h.1l.2-3.3l.2 2.1l.2-1.7l.2 .1l.1 .2l.2 .1l.2-.4l.2 1.8l.2-1.4l.2-.4l.1-.4l.2 .1l.2 1l.2-.4h.2l.2 1l.1-1l.2-.1l.2 .7l.2-.6l.2-1.1l.2 2l.1-3.2l.2 2.3l.2-.5l.2-.5l.2 .8l.2 1.1l.1-.5l.2-1l.2 .3l.2 3l.2-4.5l.2 2.3l.1 .4l.2-1.4l.2 1.6l.2-1.5l.2 1.6l.2-.9l.1-.1l.2-1.1l.2 .3l.2 1.1l.2 2.1l.2-1.5l.1-1.4l.2-.4l.2 2.1l.2-1.4l.2 .5l.2-2l.1 .3l.2 .9l.2 2.8l.2 2.2h.2l.2-4.6l.1 1.8l.2-3.1l.2-.4l.2 2.1h.2l.2 .2l.1-.5l.2-.7l.2-1.1l.2 1.7l.2 .1l.2-1.6l.1 2.9l.2-2.4l.2-.1l.2 .4l.2 1.5l.2-1.4h.1l.2-1.3l.2 2.2l.2-1l.2 2.1l.2-1.6l.1 .3l.2 .7l.2-.3l.2-2.6l.2 1.6l.2 .5l.1 1.4l.2-.7l.2-1l.2 .1l.2-1.4l.2 1.7l.1 .2l.2-.2l.2-.1l.2 .2l.2-.3l.2-.6l.1-.7l.2 2l.2 1l.2-2.2l.2-1.1l.1 1.9l.2-.9l.2 1.6l.2-1l.2 .7l.2-.1l.1 .3l.2-.2l.2-.1l.2-.6h.2l.2-.9l.1 1.2l.2 1l.2-.8l.2 1l.2-2.4l.2-.1l.1 2.7h.2l.2-2.9l.2 1.9l.2-.6l.2 2.6l.1-3.9l.2-.7l.2 1.7l.2 1.5l.2-3l.2 1.7l.1 .5l.2-2.6l.2 3.4l.2-1.8l.2 2.1l.2-2.3l.1 1.5l.2 .8l.2-3.7l.2 2.2l.2 1.2l.2 .7l.1-.9l.2-2.2l.2 1.4l.2 1.2l.2-3.1l.2 3l.1-1.1l.2-.6l.2 .6l.2-.3l.2 2.7h.2l.1-2.9l.2 1.7l.2-2.2l.2 2l.2 .7l.2-1.6l.1 .3l.2-.5l.2-1.7l.2 2.6l.2-.6l.2-1.5l.1 1.7l.2 .7l.2-1.4l.2-.4l.2 3.1l.2-1.7l.1-1.5l.2 .1l.2 .2l.2 .6l.2 1.3l.2-1.3l.1-2.1l.2 .9l.2 3.3l.2-1.2l.2 .1l.2-2.2l.1 .2l.2-1.2l.2 .6l.2 2.7l.2-1.4l.2 .8l.1 1.1l.2-2.6l.2-.3l.2 1.5l.2-2.2l.2 .3l.1 1.8l.2 .1l.2-1.5l.2-.1l.2 1.8l.2-.5l.1-1.1l.2-1.1l.2 1.4l.2-1.1l.2 1.1l.1 1.6l.2-2.1l.2-1.3l.2 3.6l.2-2.4l.2 2.6l.1-.5l.2-1.5l.2-1l.2 1.4l.2 .9l.2-1.9l.1 .5l.2 .4l.2 2.2l.2-1.9l.2 1l.2 .9l.1-1.5l.2-2.5l.2 1.3l.2 .9l.2-.1l.2 .2l.1-.6l.2 .8l.2 .9l.2-.5l.2-1.4l.2 .1l.1 1.8l.2-1.1l.2-.8l.2 1.6l.2-2.8l.2 2.9l.1-.6l.2-2.3l.2 2.4l.2 1.2l.2-.8l.2-.1l.1-1.8l.2 .7l.2 .5l.2-.1l.2-.3l.2-1.3l.1 1.9l.2 .5l.2-.6l.2 .2l.2-.9l.2 .8h.1l.2 .4l.2 .1l.2-.3l.2-.9l.2-.4l.1 .4l.2 2l.2-3l.2-1.2l.2 2.8l.2 .9l.1-1.5l.2-1l.2 1.8l.2-1.3l.2 .8l.2-1.5l.1 .9l.2 .2l.2 2.2l.2-1.3l.2-.9l.2-2.1l.1 1.6l.2 .3l.2 1.9l.2-1.1l.2 2.1l.2-.5l.1-.6l.2-.2l.2-.4l.2 107.5h.4l.1-108.9l.2 1.8l.2-.8l.2 .1l.2 .7l.2-1.6l.1 1.5l.2-1.3l.2 1.1l.2-.7l.2 .7l.1-2.6l.2 .9l.2-1.5l.2 4.1l.2-3.6l.2 1.5l.1-.2l.2 .7l.2-.1l.2 .4l.2-1.4l.2 1.1l.1-.9l.2 .5l.2-1.8l.2 1.8l.2-1l.2 1.8l.1 .4l.2-1.2l.2 .5h.2l.2 .3l.2 .1l.1-2.6l.2 3l.2-1.2l.2 2.7l.2-3.4l.2 .4l.1-.6l.2 2l.2 1l.2-1.4l.2-2.9l.2 2.6l.1-.5l.2 .7l.2-1.3l.2 2.1l.2-1.2l.2-.2l.1-1.2l.2-.5l.2 4.5l.2-2.2l.2 1.5l.2-1l.1-1.6l.2-.5l.2-.1l.2 3.6l.2-.7h.2l.1-.6l.2-.9l.2-.5l.2 .6l.2 .4l.2-1.9l.1 2.5l.2-.8l.2 1.1l.2-.8l.2-1.3l.2 2.8l.1-1.3l.2-.1l.2-.2l.2-.5l.2 .6l.2 .2l.1-.7l.2 .1l.2 1.6l.2 .2l.2-1.3l.2-1.5l.1 1l.2 .7l.2-2l.2 3.6l.2-3.4l.2 .1l.1-.4l.2 1.3l.2 .2l.2 .4l.2-2.3l.2 2.7l.1-1.7l.2-.3l.2 .6l.2 3.8h.2l.2-3.8l.1 .5l.2 .4l.2 .3l.2-2l.2-.7l.1 .2l.2 1.8l.2 1.7l.2-1.3l.2-1.2l.2 .4l.1 .6l.2 .9l.2-.8l.2-1.6l.2 2.2l.2-.6l.1-1.3l.2 2l.2 .8l.2-2.6l.2-.2l.2 .6l.1 1.9l.2-1.6l.2-1.9l.2 3.5l.2-2l.2 1l.1-.9l.2 1.6l.2 .5l.2-2.5l.2 .4l.2-.1l.1 2l.2-2.2l.2-1l.2 2.1l.2-1l.2 1l.1-1.6l.2 2l.2-.9l.2-1.1l.2 .5l.2 1.6l.1-1.1l.2-2.5l.2 2.6l.2-2.6l.2 3l.2 .2l.1-1.1l.2-1l.2 2.5l.2-.8l.2-2.4l.2 2.4l.1-1.7l.2-1l.2 4.7l.2-2.4l.2 2.6l.2-.4l.1-1.8l.2-1.7l.2 2.1l.2-2.4l.2 1.8l.2-.4l.1 .3l.2-1.3l.2 1.4l.2-1.6l.2 2.5h.2l.1-.8l.2 1.1h.2l.2-2l.2 .5l.2 1.4l.1-2.6l.2 2.1l.2-1l.2 1.7l.2-.9l.2-1.7l.1-.3l.2 2.7l.2-.6l.2-.1l.2 .2l.2-1.6l.1 1.3l.2-1.9l.2 3.4l.2-2.4l.2-.6l.2 2l.1-.5l.2 .9l.2-.4l.2 107.2h.3l.2-110.1l.2 .7l.2 2l.2-.5l.2 1.3l.1 .5l.2-2.9l.2 .4l.2 .2l.2-1.3l.2 1.6l.1 .1l.2-.1l.2-1.4l.2 2.9l.2-1.3l.2-2.5l.1 2.1l.2 .8l.2-2.7l.2 2.1l.2-1.3l.2 1.7l.1-1.3l.2 1.4l.2-1.1l.2-.5l.2 2.5l.2-.6l.1-1.3l.2-.3l.2 1.2l.2-1.4l.2-.9l.2 2.3l.1 .7l.2-1.6l.2 .6l.2-.3l.2-1.1l.2 1.6l.1-1.4h.2l.2 1.8l.2 1.2l.2 .1l.2-3.6l.1-.9l.2 2l.2-.1l.2-.3l.2 1.2l.2-.4l.1 .9l.2-1.4l.2-.3l.2 .1l.2 2.1l.2-2.8l.1 .8l.2 .7l.2-.1l.2 1.5l.2-1.3h.2l.1-1.5l.2 1.3l.2 .2l.2-.2h.2l.2 .8l.1-1.2l.2 1.4l.2-.5l.2 1.4l.2-2.1l.2 .2l.1 1.3l.2-.7l.2-1.8l.2 1.6l.2 1.6l.2-3.8l.1 .4l.2 1.6l.2 .5l.2 .5l.2-1h.2l.1 1.6l.2-1.8l.2-.1l.2-.8l.2 1l.2 2.4l.1-2l.2 1.2l.2-1.7l.2 .6l.2-1.1l.2-.2l.1 .7l.2 1.9l.2-2.9l.2 2.9l.2-1.4l.1 1.2l.2-1.4l.2-1.9l.2 .8l.2 .5l.2 .8l.1-.9l.2 2.5l.2-.5l.2-2.4l.2 1.4l.2-2l.1 3l.2-3.1l.2 1.3l.2-.5l.2 .4l.2-2.1l.1 3.8l.2-.4l.2-.1l.2-2.8l.2 1.4l.2 .6l.1 1.9l.2-2.9l.2-.1l.2-1l.2 2.4l.2 .6l.1-1l.2 .4l.2 1l.2-2.6l.2-1l.2 1.4l.1 1.2l.2 .5l.2-1.2l.2 1.7l.2-2.1l.2 1.1l.1 .5l.2-1.2l.2 .4l.2 .5l.2-1.3l.2 1.5l.1 .4l.2 .8l.2-4.4l.2 3.7l.2-1.7l.2-.9l.1 3.5l.2-1.5l.2-1.9l.2 1.6l.2-1.6l.2 1.5l.1-.5l.2-1.4l.2 3.1l.2 .7l.2-3.3l.2-1.2l.1 2.6l.2-.4l.2 .9l.2-1.6l.2 .1l.2 .1l.1 2.1l.2-.9l.2-.8l.2-1.3l.2 2.7l.2 1.1l.1-3h.2l.2 1.1l.2 .9l.2 1.3l.2-2.4l.1-.5l.2 1.2l.2-.6l.2 1.1l.2-.8l.2-.1l.1 .7l.2-.5l.2 .4l.2-2l.2 .4l.2 1.8l.1 .4l.2-2.6l.2 .2l.2 1.2l.2 1l.1 .3l.2-.9l.2-.7l.2 .4l.2-1.2l.2 1.3l.1-.2l.2-2.9l.2 3.2l.2-1l.2 1.2l.2-2.1l.1 2.3l.2-1.1l.2-.1l.2-1.5l.2 2.9l.2-1.1l.1 1.4l.2-3.1l.2 .2l.2 .4l.2 2.2l.2-2.7l.1 1l.2-1.4l.2 1.6l.2-1.1l.2 1.6l.2-.7l.1 .6l.2 .6l.2-1.6l.2-.1l.2 3.4h.2l.1-4.6l.2 .4l.2 1.5l.2 .2l.2-1.4l.2 1.5l.1-2l.2 .7l.2 .3l.2 1.5l.2-1.5l.2 2.2l.1-2.1l.2 .9l.2 1.3l.2-.1l.2-1.5l.2 .6l.1-1l.2 .3l.2 1.4l.2-.9l.2-1l.2 .5l.1 .4l.2-1.3l.2-.2l.2 .5l.2 2.2l.2-1l.1-.8l.2 2.5l.2-2.6l.2 .9l.2-2.2l.2 1.2l.1 .6l.2-.4l.2 1.2l.2-1.6l.2-1.2l.2-.2l.1 2.1l.2 .7l.2-2.1l.2 1.6l.2-.1l.2 1l.1-2.3l.2 3.9l.2-.2l.2-1.5l.2-.6l.2 .9l.1-.2l.2-1.4l.2-1.5l.2 3.8l.2-2.5l.2 .3l.1-1.2l.2 2.7l.2 .1l.2-.4l.2 .2l.1-.7l.2-1.1l.2 1.4l.2-.1l.2-1.9l.2 2.9l.1-1.2l.2 .6l.2 1.1l.2-1.8l.2 .4l.2-.3l.1-.3l.2 1.7l.2-1.3l.2 .4l.2 .1l.2-1.2l.1 1.7l.2-.8l.2 .2l.2-.8l.2-2.3l.2 2.7l.1-.9l.2 .5l.2 1.4l.2-.2l.2-2.3l.2 1.3l.1 .7l.2-1.1l.2 1.4l.2-1.6l.2 .8l.2-.5l.1 2.1l.2-2.2l.2-1.5l.2 .4l.2 1.2l.2 .7l.1-.2l.2 .8l.2-1.4l.2 1.6h.2l.2-1.2l.1-.8l.2-.2l.2 .9l.2-.7l.2-.5l.2 1.8l.1-.2l.2 .6l.2-.6l.2-1.7l.2 2.7l.2-3.8l.1 3.9l.2-1.9l.2-1l.2-.2l.2 1.5l.2-2l.1 2l.2-1.7l.2 1l.2-.2l.2 1.2l.2-.7l.1-.4l.2 .8l.2 2l.2-1.7l.2-.1l.2 .6l.1-3.3l.2 2.9l.2 1.4l.2-1.9l.2 1.4l.2-1.3l.1-.4l.2 2.3h.2l.2-2.3l.2-1l.2 1.6l.1 1l.2-1.7l.2 1.5l.2-.2l.2-2.7l.2 1.9l.1-.2l.2-.3l.2 .1l.2 1.1l.2-1.4l.2 1.4l.1-1.4l.2 2l.2-1.6l.2 1.1l.2 107.3h.9l.2-108.7l.1 3l.2 105.7h1.1l.2-108.3l.2-1l.2 .9l.2 .5l.1-1l.2-1.5l.2 3l.2-1l.2 .3l.2 2.5l.1-4.3l.2 .3l.2 1l.2 .2l.2-.1l.2 .3l.1 .2l.2 1.1l.2-1.5l.2 .8l.2-.6l.2-1.5l.1 2.4l.2-.7l.2 1.7l.2-2.3l.2 .3l.2 .6l.1 .4l.2-2.4l.2 1.5l.2 1.7l.2-1.8l.2 .4l.1-.8l.2 .6l.2-.4l.2 1.1l.2-1.4l.2-.3l.1-1.5l.2 4.7l.2-1.5l.2-.9l.2 1.2l.2-1.4l.1 .4l.2 1.5l.2-1.5l.2 2.1l.2-1.9l.2 .8l.1-1.6l.2 2.4l.2-3.9l.2 1.6l.2 .7l.2-.8l.1-1.1l.2 1.6l.2 5.6h.2l.2-5.2l.2 .8l.1-.7l.2-.6l.2 .2h.2l.2 1h.2l.1-2l.2 1.6l.2 1.9l.2-2.8l.2 1.2l.2-2.3l.1 1.2l.2-.7l.2 1.1l.2 1.8h.2l.2-1.3l.1-2l.2 .6l.2 1.7l.2 1.3l.2-3.1l.1 .3l.2 1.5l.2-1.8l.2-1.5l.2 3.7l.2-2l.1 .5l.2-.5l.2 3.1l.2-4.4l.2 3.6l.2-2.4l.1 .8l.2-.1l.2-2.2l.2 4.1l.2-1.8l.2 .5l.1 .9l.2-.4l.2 .1l.2-.8l.2 1.2l.2-1.1l.1 1.2l.2-.8l.2-1.6l.2 .4l.2 1.1l.2-.7l.1 1.1l.2-2.2l.2 .9l.2 .2l.2-1.5l.2 1.2h.1l.2-.5l.2 1.9l.2-2.2l.2-.5l.2 2.1l.1-.5l.2 .3l.2-.3l.2-.8l.2 1.2l.2 1.1l.1-1.5l.2 1.1l.2-2.2l.2 1.2l.2 1l.2-1.8l.1 2.7l.2-.9l.2-.5l.2 .1l.2-1.6l.2 1.5l.1-.5l.2-.7l.2 .1l.2 2.6l.2-2.1l.2-1.4l.1 .2l.2 1.5l.2-.8l.2-1.1l.2 2l.2-.4l.1 1.7l.2-2.4l.2-.9l.2 1.5l.2 1.6l.2-1l.1 1.1l.2-2.2l.2 .1l.2 .9l.2-2.2l.2 1l.1 2.5l.2 .4l.2-2.9l.2-.1l.2 2.3l.2-.6l.1 1.5l.2-4.6l.2 3.8l.2-1.5l.2 .8l.2-.7l.1-.5l.2 2.2l.2 .6l.2-3.1l.2 2.2l.1-1l.2-1.3l.2 3.2l.2-3.2l.2 .8l.2-1.7l.1 1.7l.2 .1l.2-.6l.2-1.6l.2 1.3l.2 .3l.1 .1l.2 1.9l.2-.3l.2-2.8l.2 1.3l.2 1.8l.1-1.4l.2 .7l.2-.5l.2-1.6l.2 2.1l.2-.4l.1-.5l.2 .2l.2 1l.2-1.4l.2-.2l.2 .8l.1-2.9l.2 4.3l.2-1.2l.2-.1l.2-2.9l.2 3.3l.1-.5l.2-2.4l.2 2.7l.2-.5l.2 2.3l.2-4.5l.1 2.8l.2-.6l.2-.7l.2 1.9l.2-1.7l.2-.5l.1 2.9l.2-3.1l.2 1l.2 1.3l.2-1.6l.2 .2l.1 .9l.2-1.4l.2 1.4l.2-1.5l.2-.3l.2 .4l.1 .8l.2-.2l.2 .6l.2-.8l.2 .6l.2-.1l.1-.4h.2l.2-.8l.2 1.8l.2 1.6l.2-2.8l.1 1.1h.2l.2-.6l.2 .2l.2-1.5l.2 .8l.1 .9l.2 .2l.2 .1l.2-1.2l.2 2.8l.2-3.4l.1 1.2l.2 .5l.2-2.1l.2 1l.2-.6l.2 1.6l.1-2.1l.2 1.7l.2-.2l.2-1l.2 1.2l.2 1.6l.1-2.2l.2 1.1l.2-.7l.2-2.6l.2 3.7l.2-1.1l.1 1.3l.2 29.3h.2l.2-31.9l.2 .6l.1-.4l.2-1.5l.2 2.6l.2 1.4l.2-.9l.2-.9l.1 .1l.2-.7l.2 2.5l.2-2.8l.2 .2l.2 1.6l.1-.3l.2 .2l.2-2.5l.2 2.5l.2-.7l.2 1.7l.1-2.6l.2 .6l.2 .6l.2 .1l.2 .7l.2-.4l.1-.2l.2-.9l.2-1.4l.2 2.1l.2 1l.2-.1l.1-1.8l.2-.8l.2-.4l.2-.1l.2 2.5l.2-.6l.1 .7l.2-.1l.2-.1l.2-.7l.2-.4l.2 1.5l.1-.9l.2 .4l.2 .8l.2 .6l.2-1.4l.2-.5l.1-.7l.2 14.9h.2l.2-15.2l.2 1l.2 1.8l.1-1.4l.2-.3l.2 .2l.2-1.3l.2 1.9l.2-.9l.1-2l.2 2.1l.2 .4l.2-1.8l.2 2l.2 1.3l.1-2.3h.2l.2 1.5l.2-.6l.2 .1l.2 .5l.1-.5l.2-.4l.2 2l.2-2.4l.2 .3l.2-2l.1 2.9l.2-.5l.2 .3l.2 .9l.2-.3l.2-1.5l.1 .2l.2-.9l.2 1.6l.2 .8l.2-1.8l.2 .3l.1 .8l.2-1.2l.2 1.1l.2 1.1l.2-2.4l.2 2.1l.1-1.9l.2 1.3l.2-1.6l.2-.3l.2 2.4l.1-1.2l.2-.4l.2-2.2l.2 3.8l.2-3.7l.2 1.5l.1 1.8l.2-2.5l.2 3.3l.2-3l.2 109.4h.3l.2-106.8l.2-1.1l.2 2l.2-2.4l.2 .1h.1l.2 1.7l.2-1.9l.2-1.6l.2 1.1l.2-.1l.1 .1h.2l.2 .9l.2-1.3l.2 2.5l.2-1.1l.1 .7l.2 .1l.2-.2l.2-1.4l.2-.2l.2-1l.1 1.6l.2-.1l.2 .8l.2-.7l.2-1.6l.2 1.8h.1l.2 2.2l.2-1.7l.2 1.6l.2-2.6l.2 2.3l.1-3.5l.2 2.1l.2 1.5l.2-.8l.2 .7l.2-2.3l.1 .3h.2l.2 .7l.2-1.7l.2 .8l.2 1.6l.1-.4l.2-2.5l.2 3.6l.2-1l.2-2.1l.2 2.7l.1-1.6l.2 .7l.2 1.9l.2-1.5l.2-.5l.2-.8l.1 1.1l.2-.2l.2 .6l.2-1.9h.2l.2 .7l.1-.7l.2-.6l.2 1.8l.2-1.4l.2 1.3l.2-1l.1-.5l.2 .9l.2 .2l.2 1l.2 1.1l.2-3.6l.1 1.1l.2 1l.2-1.4l.2 2l.2-.5l.2-1.7l.1 3.5l.2-2.8l.2 .1l.2-1.4l.2 1.3l.1 1.8l.2-3l.2 .9l.2-.8l.2-1l.2 3.6l.1-1.8l.2 1.1l.2 .1l.2-.9l.2-.7l.2 2.5l.1-2.7l.2 .5l.2 2.4l.2-1.6l.2 1.4l.2-.4l.1 .1l.2-1.1l.2-.4l.2 .8l.2-1.6l.2 2.1l.1-1.7l.2-.1l.2-1.2l.2 2.5l.2-2.4l.2 .3l.1 2.3l.2-.5l.2-.7l.2 .6l.2-.7l.2 .2l.1 1.3l.2-2.3l.2 1.3l.2 .4l.2-.1l.2-1.3l.1 .4l.2-.8l.2 .8l.2-.3l.2 .7l.2 1.5l.1-1.4l.2 1.1l.2-1.7l.2-.6l.2 1.6l.2-.4l.1 .9l.2 .9l.2-1.9l.2 1.4l.2 1.4l.2-2.5l.1 .3l.2-2.3l.2 2.6l.2-1.5l.2 .7l.2 1.4l.1-1.9l.2 .9l.2 .7l.2-1.2l.2-.2l.2 .1l.1-1.9l.2 1.5l.2 1.1l.2 1.3l.2-1l.2-1.7l.1-.2l.2-.9l.2-.3l.2 1.9h.2l.2 1l.1-.9l.2-.2l.2 1.5l.2 1.1l.2-2.4l.2-1.8l.1 2.6l.2-1.4l.2 .5l.2-1l.2 2.9l.2 1.2l.1-3.9l.2-.5l.2 3.6l.2-1l.2-.1l.2 .6l.1 1.3l.2-1.4l.2 .2l.2-1.6l.2-2.2l.1 .4l.2 110.2h.4l.2-108.1l.2 .5l.1-.5l.2-2l.2 3l.2-.3l.2-1.2l.2 .3l.1 .8l.2 .3l.2-.9l.2 .5l.2 1.7l.2-4.1l.1 2.7l.2-1.8l.2 1.7l.2 1.1l.2-3.5l.2 2.4l.1-1.2l.2-.5l.2 .3l.2 .1l.2 2.1l.2-3.9l.1 1.8l.2 1.3l.2-.4l.2-.3l.2 1.7l.2-1.2l.1-.6l.2 .3l.2-1.3l.2 1.7l.2 .4l.2-1.7l.1 1.5l.2-1.7l.2-.2l.2 1.4l.2 .4l.2-1l.1 .4l.2 1l.2-1l.2 .1l.2 .2l.2-.5l.1-2.4l.2 4l.2-.9h.2l.2-2.2l.2 1.3l.1-.3l.2-.8l.2 6.9h.2l.2-6.7l.2 3.4l.1-4.6l.2 2.2l.2 .9l.2-1.3l.2-1.1l.2 .6l.1 .7l.2 .6l.2-1.6l.2 3l.2-1.3l.2-.7l.1 .7l.2 .6l.2 .1l.2 .1l.2-.5l.2-.3l.1-.7l.2 1.7l.2 1.2l.2-2.2l.2-1.5l.2 1.2l.1 .9l.2-.3l.2 .5l.2-2.3l.2-.3l.2 .8l.1-1.7l.2 3.6l.2-2.2l.2 .8l.2 1.2l.1-2l.2 .1l.2 2.1l.2-1.9l.2 2.2l.2-1.8l.1 .5l.2-1.1l.2 1.4l.2-1l.2 2.2l.2-1.3l.1 1.1l.2-1l.2-.4l.2-.5l.2 1l.2-2.1l.1 1.9l.2 .8l.2-3l.2 1.1l.2 .7h.2l.1-.8l.2-.3l.2 .1l.2 3.5l.2-3.2l.2 1.2l.1-2.2l.2 2.7l.2-1l.2 .1l.2-1.1l.2 1.8l.1-1l.2 1.9l.2-1.9l.2-1l.2 109.3h.3l.2-41.9h.2l.2 41.9h.5" stroke="#00f" stroke-dasharray="12 11.6" stroke-linejoin="bevel"/>
</g>
<g font-size="23.1" fill="#000">
<g text-anchor="middle">
<text x="79.3" y="248.1">0</text>
<text x="170.9" y="248.1">500</text>
<text x="262.5" y="248.1">1000</text>
<text x="354.1" y="248.1">1500</text>
<text x="445.6" y="248.1">2000</text>
<text x="537.2" y="248.1">2500</text>
<text x="628.8" y="248.1">3000</text>
<text x="720.4" y="248.1">3500</text>
</g><g text-anchor="end">
<text x="70.1" y="225.7">0.55</text>
<text x="70.1" y="173.4">0.6</text>
<text x="70.1" y="121">0.65</text>
<text x="70.1" y="68.7">0.7</text>
<text x="70.1" y="16.4">0.75</text>
</g></g>
<g font-size="26" fill="#000" text-anchor="middle">
<text x="399.5" y="281.7">Data samples</text>
<text transform="translate(21.4 114.4) rotate(-90)">ERF</text>
</g>
<rect x="547.9" y="20.3" width="156.8" height="57.3" fill="#fff" stroke="#1c1c1c" stroke-width="1.6"/>
<path d="M553.6 36.1h59.3" stroke="#f00" stroke-width="4.5" fill="none"/>
<path d="M553.6 62.3h59.3" stroke="#00f" stroke-width="4.5" stroke-dasharray="12 11.7" fill="none"/>
<g font-size="21" fill="#000"><text x="617.4" y="43.8">Actual</text><text x="617.4" y="69.8">Predicted</text></g>
<clipPath id="c1"><rect x="883.1" y="6.4" width="646" height="213.9"/></clipPath>
<path d="M885.4 8.7H1526.8V218H885.4ZM885.4 218v-7.2 M885.4 8.7v7.2M992.3 218v-7.2 M992.3 8.7v7.2M1099.2 218v-7.2 M1099.2 8.7v7.2M1206.1 218v-7.2 M1206.1 8.7v7.2M1313 218v-7.2 M1313 8.7v7.2M1419.9 218v-7.2 M1419.9 8.7v7.2M1526.8 218v-7.2 M1526.8 8.7v7.2M885.4 218h7.2 M1526.8 218h-7.2M885.4 148.2h7.2 M1526.8 148.2h-7.2M885.4 78.5h7.2 M1526.8 78.5h-7.2M885.4 8.7h7.2 M1526.8 8.7h-7.2" fill="none" stroke="#111" stroke-width="1.4"/>
<g clip-path="url(#c1)" fill="none" stroke-width="4.5">
<path d="M885.9 178.9l.6-147.6l.5 .9l.5-1.6l.6 1.5l.5-.4l.5-.6l.6 .7l.5-.1h.5l.6-.6l.5-.8l.5 1l.6 .5l.5-.7l.6 .5l.5-.3l.5-.5l.6 .8l.5-.3l.5 .4l.6-.3l.5-.2l.5 .5l.6-.3h.5l.5 .2l.6 .2l.5 .1l.5-.5l.6 147.5h.5l.5-146.6l.6-1l.5-.2l.5-.4l.6 .4l.5 .6l.5-.4l.6-.2l.5 .3l.5-.4l.6 1.1l.5-1.5l.6 .1l.5-2l.5 2.3l.6 .3l.5 .4l.5-.4l.6-.4l.5 .6h.5l.6-.2l.5-.2l.5-.3l.6 .8l.5-.5l.5-1.6l.6 2.6l.5-.6l.5-.1l.6-.1l.5-.1l.5 1l.6-.9l.5 .3l.5 .3l.6-.8l.5-.1l.5 .6l.6-.6l.5 .5l.6-.2l.5 .5l.5-1.2l.6 1.8l.5-1.1l.5-.3l.6 1.2l.5-.8l.5-.1l.6-.3l.5-.2l.5 .7l.6 .4l.5-1.2l.5 .1l.6 .7l.5-.3l.5-.1h.6l.5 .1l.5-.5l.6 1.3l.5-1.1l.5 .2l.6 .3l.5-.6l.5 1.5l.6-1.5l.5 .3l.6 .7l.5-.7l.5 .3l.6-1.2l.5 .3l.5 .6l.6 .5l.5-.1l.5-.1l.6 .1l.5 .2l.5-.1l.6-.2l.5 .1l.5 .1l.6 .1l.5-1.5l.5 1.7l.6-2.4l.5 1.6l.5 .3l.6-.3l.5-.1l.5-.2l.6 .2l.5 .7l.6-.9l.5 1.2l.5-.6l.6 .1l.5 .2l.5-.6l.6 .3l.5-.5l.5 1l.6-.9l.5 .1l.5-4.3l.6 5.1l.5-.5l.5 .6l.6 .2l.5-2.3l.5 1l.6-.3l.5 .9l.5-.5h.6l.5 .1l.5 .2l.6 .1l.5-8l.5 7.6l.6 .1l.5-.3l.6 .6l.5-.8l.5-3.8l.6 5l.5-.9l.5 .6l.6 .3l.5-.5l.5-.3l.6 .2l.5-.1l.5-1.5l.6 1.4l.5-.3l.5 1.4l.6-.9l.5-.2l.5 .5l.6 .2l.5-.6l.5 .3l.6 .2l.5-.8l.5-.1l.6 .5l.5 .3l.5-.4l.6-.1h.5l.6 .9l.5-4.2l.5 3.5l.6-.2l.5-.1l.5 .1l.6 .8l.5-.2l.5 .2l.6-1.3l.5 .7l.5-.1l.6-.2l.5 .5l.5 .4l.6-.3l.5-.1l.5-.7l.6 .2l.5 .9l.5-.8h.6l.5 .7l.5-.4l.6 .8l.5-.9l.5 .2l.6 .5l.5-.3l.6-2.3l.5 2.2l.5-.3l.6-.1l.5 .6l.5-.3l.6-1l.5 .9l.5 .4l.6-.4l.5 .6l.5-1.1l.6 .3l.5-.3l.5 .1l.6 .2l.5-.2l.5 .3l.6 .4l.5 .1l.5-.2l.6 .9l.5-1.9l.5 1.5l.6-.7l.5 .6l.5 .3l.6-.9l.5 .1h.6l.5-.3l.5 .5l.6-.5h.5l.5 .3h.6l.5-.3l.5 .2l.6-.1l.5 1.1l.5-1l.6-.2l.5 .3l.5-.2l.6-.7l.5 .8l.5-.3l.6 .7h.5l.5-.2l.6 .2l.5-.4l.5 .4l.6-.3l.5 .5l.5 .1l.6-.4l.5 .2l.6-.2h.5l.5-.1l.6-.6l.5-.2l.5 .3l.6 .5l.5-.8l.5 1.2l.6 .3l.5-1l.5 .1l.6 .1l.5-.1l.5 .7l.6-.2l.5-1l.5 .1l.6 .7l.5-1.1l.5 1.3l.6-.3l.5-.3l.5 .6l.6-.3l.5-.1l.6 .1l.5-.6l.5 .2l.6 .7l.5-.2l.5-.4l.6 .1l.5 .3l.5-.5l.6-.1l.5-2.7l.5 2.7l.6 1h.5l.5-.9l.6 .6h.5l.5-.3l.6 .2l.5-.4l.5 .7l.6-.4l.5-1.5l.5 1.3l.6 .8l.5-3.3l.5 2.3l.6-.4l.5 .5l.6 .4l.5-.9l.5 .3l.6 1.1l.5-1.1l.5 .4l.6-.6l.5 .7l.5-.5l.6 .2l.5-.1l.5 .2l.6 .2l.5-.2l.5-.3l.6 .1l.5-.5l.5 .5l.6-.1l.5-.6l.5 .9l.6-.2l.5 .5l.5-.3l.6-.7l.5 .6l.5-.5l.6 1.1l.5 .1l.6-.7l.5 .7l.5-1.7l.6 .6l.5 1l.5-.4l.6 .1l.5-.4l.5 .2l.6-.4l.5-.2l.5 .7l.6-8l.5 7.7l.5 .3l.6-.6l.5 .6l.5-.4l.6 .2l.5 .2l.5 .1l.6-.5l.5-.8l.5 .8l.6 .4l.5-.4l.5 .3l.6 .5l.5-.6l.6-2.3l.5 2.5l.5 .4l.6-.7l.5-.6l.5 .4h.6l.5-.6l.5 .3l.6 .4l.5 .4l.5-.2l.6 .1l.5-.4l.5 .8l.6-1l.5 .5l.5 .3l.6-.5l.5 1.2l.5-3.9l.6 3.3l.5-.6l.5 .5l.6-.8l.5-2.1l.5 2.5l.6 .5l.5-.8l.6 .6l.5-.3l.5 .4l.6 .3l.5-.4l.5-.6l.6 .9l.5 .2l.5-2.9l.6-1.4l.5 4.1l.5-.2l.6-.3l.5 .2l.5-.2l.6-.4l.5 .5l.5-2.9l.6 2.6l.5 .3l.5 .4h.6l.5 .1l.5-1.3l.6 .8l.5-.2l.5-.1l.6 .7l.5-.7l.6 .5l.5 .7l.5-.8l.6 .4l.5-.4l.5-.2l.6-.9l.5 1.2l.5-.1l.6-.3l.5 .1l.5 .2l.6 .4l.5-.1l.5-.3l.6 .4l.5-.2l.5 .2l.6-1l.5 1.1l.5-1.4l.6 1l.5 .2l.5 .1l.6-.8l.5-.1l.5 .8l.6-.5l.5 .2h.6l.5-.2l.5-.2l.6 1.1l.5 .1l.5-1l.6 .1l.5-.3l.5 1l.6-.3l.5-1l.5 1.2l.6-.7l.5 .4l.5-.1l.6 .4l.5-1.1l.5-2.1l.6 3.1l.5-.1l.5-.9l.6 .4l.5-.2l.5 .3l.6-.1l.5-.1l.5-.4l.6 .5l.5 .7l.6-1.1l.5-1.9l.5 2.9l.6-.4l.5 .3l.5-1.3l.6 1l.5 .7l.5-.9l.6 .5l.5-.9l.5 .4l.6 .8l.5-.5l.5 .3l.6-.2h.5l.5 .5l.6-.9l.5 .5h.5l.6-.7l.5-.5l.5 1.1l.6-1.1l.5 1.7l.6-1.1l.5 .4l.5-.2l.6 .4l.5-.1l.5-3.1l.6-1.7l.5 4.3l.5-.8l.6 1.3l.5-.2l.5 .6l.6 .4l.5-1.7l.5 1.2l.6-.3l.5-.3l.5-.4l.6 .3l.5-.7l.5 .9l.6 .7l.5-.9l.5 .1l.6 .3l.5-.2l.5 .1l.6-.9l.5 1l.6 .3l.5-.7l.5 .9l.6-1h.5l.5 .6l.6-.2l.5 .1l.5-1l.6 .5l.5 .7h.5l.6-2.5l.5 2l.5 .3l.6-.4l.5 .2l.5-.5l.6 .2l.5 .2l.5-.1l.6 .5l.5-.8l.5 .2l.6 .4l.5-.2l.5 .2l.6-1.2l.5 1.2l.6-.4l.5 .1l.5 .4l.6-.3l.5 .1l.5-.2h.6l.5-.2h.5l.6 .5h.5l.5 .1l.6 .1l.5 .3l.5-.9l.6 .2l.5 .1l.5 .6l.6-.1l.5 .5l.5-1.1l.6-.3l.5 .1l.5 .2l.6 .5l.5-.5h.5l.6-.3h.5l.6 .4l.5-.1l.5-.3l.6 .1l.5 .3l.5 .8l.6-.6l.5-.6l.5 .2l.6-.3l.5 .5l.5-.1l.6-.3h.5l.5 .1l.6-.3l.5-.1h.5l.6 1.3l.5-.5l.5-.1l.6 .1l.5 .5l.5-1.2l.6 .9l.5-.4l.5 1l.6-.8l.5-.1l.6 .3l.5-.7l.5-.7l.6 1.4h.5l.5-1.1l.6 .5l.5 .3l.5 .4l.6-.8l.5 .2l.5-.5l.6 1l.5-.3h1.1l.5-.5l.5 .1l.6 .6l.5-.3l.5 .1l.6-.5l.5 .5l.5 .4l.6-.4l.5-.1l.5-.4l.6-.1h.5l.6 .4l.5-3l.5 2.9l.6 .3l.5 .2l.5-.4l.6-.1l.5-.2l.5 .8l.6 .3l.5-.9l.5 .6l.6-.8l.5 .9l.5-.2l.6 .5l.5-1.6l.5 1l.6-.2l.5 .2l.5-.1l.6-.4l.5 .3h.5l.6-.5l.5 1.1l.6-1.1l.5-.2l.5 1.3l.6-.7l.5 .7l.5 .3l.6-.5l.5-.6l.5-.1l.6 .5l.5 .2l.5-.2l.6 .1h.5l.5 .7l.6-.9h.5l.5-1l.6 .6l.5 .4l.5-2l.6 1.8l.5 .4l.5 .6l.6-.6l.5-.2l.5-2.7l.6 2.9l.5-3.2l.6 3l.5-.1l.5-.2l.6 .3l.5-.3l.5 .6l.6-.7l.5 .3l.5 .6l.6-.5l.5-.1l.5 .5l.6-.8l.5-1.4l.5 1.5l.6 .6l.5-.5l.5-.2l.6 .5l.5-.1l.5 .2l.6-.4l.5 .1l.5-.2l.6 .2l.5 .5l.5 .1l.6-.4l.5-.4l.6-.7l.5 .5l.5 .7l.6 .6l.5-1.1l.5 .2l.6 .5l.5-.9l.5 .4l.6 .2l.5 .6l.5-1.2l.6 .4l.5 .1l.5 .3l.6-.2l.5-.7l.5 .3l.6-.6l.5 .4l.5 .3l.6-.3l.5 .3l.5 .7l.6-3.2l.5 2.5l.5 .5l.6-.2l.5 .3l.6-1.2l.5 1.3l.5-.2h.6l.5-.8l.5-.1l.6 .7l.5-.4l.5 .6l.6-.4l.5-1.1l.5 .7l.6 .4l.5 .6l.5-.5l.6 .5l.5 .3l.5 143.9h3.8l.5-145l.5-.2l.6-.4l.5 .7l.6-3l.5 3.6l.5-.6l.6 .5l.5 .2l.5-.5l.6-.4l.5 .4l.5 .3l.6-.5l.5 .6l.5 .1l.6-1.2l.5 .5l.5-.7l.6-.9l.5 1.3l.5 .5l.6-1.2l.5-2.5l.5 3.8l.6-.4l.5 .1l.5 .3l.6-.6l.5 .1l.5-.1l.6 .2l.5 .5h.6l.5-.5l.5 .6l.6-1.1l.5-2.6l.5 3.6l.6-.7l.5 .4l.5-.5l.6 .4l.5-.6l.5 .9l.6 .7l.5-4.7l.5 4.5l.6-.9l.5-.6l.5 .9l.6 .5l.5-.9l.5 .1l.6-3.6l.5 3.6l.5 .2l.6 .5l.5-.8l.5 .5l.6 .2l.5-.3l.6-.8l.5-.1l.5 .2l.6 .8l.5 .2l.5-.5l.6 .2l.5-.2l.5 .6l.6-.1l.5 .1l.5-.8l.6-.1l.5 .7l.5-.5l.6-.1l.5 .6l.5-.3l.6-.3l.5 .7l.5-.9l.6 .6l.5-.1l.5 .1l.6 .5l.5-.7l.5 .1l.6 .2l.5-.1l.6-.3l.5 .3l.5 .1l.6-.2l.5-.3l.5 .3l.6 .3l.5-.6l.5 .4l.6-.3l.5 .3l.5 .3l.6 .1l.5-.1l.5-.3l.6 .8l.5-1.1l.5-.3l.6 .6l.5 .4l.5 .2l.6-.8l.5-.1l.5 .2l.6-.3l.5 .6l.6-.2l.5-.2l.5 .2l.6-.3h.5l.5 .3l.6 .3l.5-.1l.5-.8l.6 1l.5-.5l.5 .4l.6-1.4l.5 1.3l.5-.6l.6 .7l.5-1.7l.5 1.9l.6-.7l.5 .6l.5-.8l.6 .8l.5-.3l.5 .5l.6-.5l.5-.2l.5-.7l.6 1.7l.5-1.2l.6 .2l.5 .3l.5-.2l.6-.3l.5 145h1.1l.5-144.6l.5-.4l.6 .6l.5-.2l.5-.2l.6-.1l.5-.1l.5 .3l.6 .8l.5-1.2l.5-.1l.6-.1l.5 .4l.5-.2l.6 .4l.5 .4l.5-.4h.6l.5-.5l.5-1.3l.6 1.9h.5l.6-.2h.5l.5-.6l.6 .8l.5-.7l.5 1.1l.6-.3l.5-1l.5 .5l.6 .2l.5-.2l.5 .3l.6-.1l.5-.1h1.1l.5 .4l.5-.4l.6 .4l.5-.5l.5 .3l.6-.2h.5l.5 .4l.6-.1l.5-.1l.5-.3l.6-.2l.5 .4l.6 .3l.5-.4l.5 .1l.6-.3l.5-.2l.5-.3l.6 1.5l.5-.5l.5-.2l.6-.3h.5l.5-1.8l.6 1.8l.5 .5h.5l.6-.3l.5 .6l.5-1.1l.6 .9l.5 .2l.5-.6l.6 .9l.5-.6l.5-.1l.6-.6l.5-.8l.5 1.2l.6 .6l.5-.6l.6-.2l.5 .7l.5-.5l.6-.5l.5 .4l.5 .5l.6-.1l.5 .5l.5-.5l.6 .1l.5-.9l.5 1.3h.6l.5-.8l.5-.1l.6 .4l.5-.3l.5-.2h.6l.5 .2l.5-.1l.6 .9l.5-1l.5 .3l.6 .4l.5-.2l.5-.1l.6 .1l.5-.1l.6 .1l.5 .4l.5 144.2h3.8" stroke="#f00" stroke-linejoin="round"/>
<path d="M885.9 178.9l.6-147l.5-.6l.5-1.5l.6 4.6l.5-1.8l.5 .7l.6-.4l.5-2.2l.5-.3l.6 1.5l.5-1.9l.5 2.6l.6-.2l.5-1l.6-.4l.5 .8l.5 1.3l.6-2.3l.5-1.6l.5 2.9l.6-.5l.5 1.5l.5-1.5l.6 1.3l.5-1.5l.5-2l.6 1.5l.5 1.7l.5-2.1l.6 148.4h.5l.5-147.7l.6 1.9l.5-1.1l.5 .9l.6-4.1l.5 2l.5 2.2l.6-.5l.5-1.1l.5 1l.6-1.1l.5-.2l.6 2.5l.5-2.9l.5-1.4l.6 1.9l.5-.5l.5 1.6h.6l.5-1.1l.5 1.6l.6 1l.5-3.3l.5 2l.6-1.2l.5 .1l.5-.4l.6-.2l.5 .1l.5 1.1l.6-1.5l.5 1.6l.5-1l.6 1.4l.5-1l.5 1.3l.6-3.1l.5 1.4l.5 1.5l.6 1.5l.5-1.5l.6-2.8l.5 2.7l.5-2.3l.6 1.7l.5 .2l.5 1l.6-1.9l.5-1l.5 .3l.6 .4l.5 2.2l.5-1.6l.6 1.7l.5-.4l.5-1.7l.6 2l.5-2.1l.5 1.1l.6-2.5l.5 2.3l.5-.9l.6-.7l.5 .6l.5-.1l.6 3.3l.5 57.5l.5-57.7l.6-1.3l.5 1.8l.6-2.2l.5 .4l.5-.6l.6 1.1l.5-1.2l.5 .8l.6-.7l.5-1.4l.5 3.8l.6-2.6l.5 .1l.5 2l.6-1.6l.5-2.6l.5 1.5l.6 1.3l.5-1.8l.5 .5l.6 2.3l.5-1.3l.5-.4l.6-.1l.5-.5l.5 .5l.6-.1l.5 .8l.6-.2l.5 .2l.5-1.4l.6 .9l.5 .6l.5-1.8l.6-1.9l.5 3.1l.5-2l.6 2.5l.5-1l.5-1l.6-.3l.5-1.3l.5 3.5l.6-.8l.5-1.8l.5 .1l.6 3l.5-1.2l.5-1.4l.6-.3l.5 3l.5-1.8l.6 3.3l.5-4.2l.5-1.1l.6 4l.5-1.2l.6 1.7l.5-1.4l.5-1.4h.6l.5 .2l.5 2.5l.6-.7l.5-3.8l.5 2.3l.6 .9l.5-1l.5 1.2l.6-1l.5 1.2l.5-.1l.6 1.3l.5-4.7l.5 1.5l.6 .1l.5-.3l.5 1.4l.6 1.3l.5-2.2l.5-.3l.6 .2l.5 1.3l.5 1.6l.6-3.2l.5 .5l.6 .7l.5 .2l.5-.1l.6 .6l.5 1.2l.5-1.9l.6 .5l.5-1.1l.5 .9l.6-.8l.5 2.1l.5-2.3l.6-2.2l.5 2.9l.5-1l.6-.3l.5 .7l.5 .1l.6 2.6l.5-1.1l.5-3.3l.6 1.9h.5l.5-2.4l.6 5.1l.5-3.9l.5 .6l.6 3.6l.5-1.8l.6-1.5l.5 1.6h.5l.6-1.9l.5 1.1l.5-.5l.6 .5l.5-.4l.5-.2l.6-2.4l.5 2.2l.5 1.6l.6-1.6l.5 .2l.5-2.4l.6 4.8l.5-3l.5 .6l.6-1.8l.5 3.6l.5 .3l.6-2.2l.5-.7l.5 .6l.6-.3l.5 .9l.5-1.4l.6 1.2l.5 .9l.6-2.8l.5 3.3l.5 1l.6-1.7l.5-.3l.5-.1l.6 .3l.5-.9l.5 1l.6 .7l.5-3.2l.5 2.2l.6-1.7l.5 1.2l.5-.4l.6-1.5l.5 4.8l.5-4.2l.6 1.5l.5-1.1l.5 1.8l.6-.6l.5 .2l.5 1.3l.6-1.4l.5-2.6l.5 .7l.6-.2l.5 2.3l.6-.1l.5 .4l.5 2.2l.6-2.5l.5 .7l.5-2.2l.6-.1l.5 .7l.5 1.8l.6-.4l.5-2.7l.5 1.4l.6-.9l.5 2l.5-2l.6 1.8l.5 .3l.5-1.1l.6 1.4l.5 .6l.5-3.5l.6 .9l.5 1.6l.5-.6l.6-1.6l.5 2.3l.6 2.1l.5-5.6l.5 4.8l.6-1.4l.5 2.2h.5l.6-3.3l.5 2.3l.5-2.7l.6 1.1h.5l.5-1.1h.6l.5-1l.5 3.8l.6-.9l.5-2l.5-.1l.6 1.8l.5 1l.5-1.7l.6 2.8l.5-.5l.5-3.9l.6 3.4l.5-4.6l.5 2.6l.6-.2l.5-2.4l.6 1.5l.5 1.7l.5 .4l.6 .1l.5 1.9l.5-3.3l.6 .5l.5 1l.5-2.2l.6 2l.5 1.7l.5-1l.6-1.4l.5-.5l.5-2.2l.6 3.2l.5-1.3l.5-.7l.6 .6l.5 .4l.5 2l.6-1l.5-3.4l.5 2.6l.6 .3l.5 1.6l.5-2l.6-2.1l.5 3.3l.6 .4l.5-1.2l.5 .6l.6 .3l.5-3.8l.5 1.8l.6 3l.5-1.8l.5-1.4l.6 1.7l.5-1.6l.5 2.8l.6-2.4l.5 .8l.5-.8l.6 .9l.5 .8l.5-1.5l.6-.1l.5-.2l.5 2.8l.6-1.2l.5-.4l.5 .1l.6 .1l.5-.6l.5-1.8l.6-.5l.5 .8l.6 .8l.5 3.5l.5-1.8l.6-1.7l.5 2.1l.5-2.9l.6 2.5l.5-1.1l.5 .8l.6-1l.5 2.4l.5-1.6l.6 .8l.5 .3l.5 .8l.6-3.7l.5 2.9l.5-2.5l.6 1.2l.5-.8l.5 .6l.6 .1l.5 1.7l.5-4.7l.6 1.5h.5l.5 4.1l.6-1.7h.5l.6-1.2l.5 1.2l.5-1.8l.6 .7l.5-1l.5-.4l.6 2.7l.5-.3l.5 .4l.6-2.4l.5 1.3l.5 .5l.6 1.1l.5-2.2l.5 .5l.6-.2l.5 .7l.5 1.5l.6-3.8l.5 1.7l.5-.3l.6 1.4l.5-2.9l.5 3l.6-.5l.5 .6l.5 .3l.6-2.6l.5 1.7l.6 .8l.5-1.2l.5 .2l.6-.5l.5 .9l.5-1.2l.6 2.7l.5-1.1l.5-2.2l.6-.2l.5 3.6l.5-3l.6 .6l.5-1.6l.5 3l.6-2l.5-.6l.5 3l.6-.9l.5-2.3l.5 1.7l.6-1.6l.5 1l.5 2.1l.6-2l.5-.4l.5 1.3l.6-2.2l.5 3.3l.6-1.8l.5 .4l.5 .7l.6 .8l.5 .7l.5-1l.6-1.4l.5 .5l.5-.6l.6 .1l.5 .4l.5-1l.6-.8l.5 3.2l.5-2.4l.6 2.6l.5-5.2l.5 4.2l.6-.7l.5-1.8l.5 .6l.6-.7l.5-.7l.5 2.4l.6-3.1l.5 3.6l.5-.5l.6-1.6l.5 3.9l.6-1.8l.5-.6l.5-1.4l.6 2.1l.5-2.2l.5 2.6l.6-2.8l.5 .3l.5 1.8l.6-.3l.5-.2l.5 .3l.6 .3l.5-2.7l.5 1.3h.6l.5 2.7l.5-2.1l.6-1.5l.5 1.3l.5 .9l.6-.6l.5-1.2l.5 1.3l.6 2.5l.5-1.7l.6-1.2l.5 2.3l.5-2.1l.6-.7l.5-2.2l.5 .8l.6 1.5l.5 3l.5 137.2h1.1l.5-141.2l.6 2.7l.5-2.1l.5 .7l.6-1l.5 1.5h.5l.6-2.4l.5 1.2l.5 .4l.6 .5l.5-.7l.5 .9l.6-1l.5 1l.5 2.2l.6-.1l.5-1.3l.6-3.8l.5 .9l.5 2.5l.6 .5l.5-.4l.5-.4l.6-2l.5 2.5l.5 1.3l.6-1.4l.5 1l.5-3.8l.6 2.3l.5-.3l.5 .2l.6 2.6l.5-3l.5-.4l.6 1.3l.5-1.1l.5 1l.6-.3l.5-1.3l.5 1.7l.6-1.3l.5 .6l.5 .1l.6 .7l.5 .3l.6-1l.5-1.7l.5 1.2l.6-1.2l.5 1.7l.5 2.2l.6-3.9l.5 1.8l.5-1.7l.6 .5l.5-.1l.5 .5l.6 3.5l.5-4l.5 .8l.6-.7l.5-.2l.5 .8l.6-.4l.5 2.9l.5-2.2l.6-.8l.5 .1l.5 2.1l.6 1.3l.5-1.7l.5-.9l.6-.3l.5-1.9l.6 .6l.5 2.7l.5-1.9l.6 1.5l.5-1.7l.5 2l.6-2.7l.5 2.6l.5-.3l.6 .8l.5-2.5l.5 1.1l.6-.5l.5-.5l.5 2.3l.6-3.5l.5 1.2l.5 .8l.6 .3l.5 .3l.5 .4l.6-2l.5 1l.5 .3l.6 .8l.5-1.1l.5-2.5l.6 2.1l.5 3.4l.6 .1l.5-3.8l.5 2.9l.6-2.3l.5-.5l.5-.1l.6-1.8l.5 3.3l.5-.8l.6 1.1l.5 1l.5-.7l.6-3.2h.5l.5 3.2l.6-2.3l.5 1.4l.5-1.5l.6 2.5l.5-1.7l.5 .3l.6 1.4l.5-.5h.5l.6-.8l.5-2.3l.5 .1h.6l.5 1.4l.6-.5l.5 2.7l.5-1.4l.6-1.5l.5 1l.5 1.5l.6-1.6l.5 .3l.5 .1l.6 1l.5-1.7l.5 1.2l.6 .8l.5-1.1l.5-.8l.6-1.1l.5 .3l.5 4.1l.6-4l.5 .7l.5 .2l.6-1.3l.5-.4l.5 1.4l.6 1.1l.5 .6l.6-1.1l.5-.3l.5 1.5l.6-3.3l.5 .2l.5 1l.6-1.5l.5 1.4l.5 1.8l.6-1.8l.5-1.4l.5 3l.6 1.4l.5-3.1l.5 3.7l.6-.9l.5-1.9l.5 1l.6-2.9l.5 2.3l.5-.8l.6-.7l.5 1.5l.5-.7l.6 3.3l.5-5.2l.5 2.6l.6 .4l.5 .6l.6-1.2l.5 1.1l.5-1.1l.6 1.2l.5 1.1l.5-.9l.6 .1l.5-1.7l.5 .4l.6 17.8l.5-18.1l.5 1.3l.6-.8l.5 .4l.5-1l.6 1.8l.5-1l.5-.2l.6 1.5l.5-1.6l.5 .1l.6-1.3l.5 2.8l.5 .5l.6 .2l.5-2.5l.5 1l.6 .7l.5-1.7l.6-.9l.5-1.4l.5 .9l.6 2.6l.5-2.9l.5 3l.6-1.6l.5-.5l.5 3.1l.6-2.2h.5l.5-2.6l.6 3.6l.5-1.9l.5 1.3l.6-.3l.5 1.4l.5-2.7l.6-.4l.5 .1l.5 4.1l.6 .2l.5-2.5l.5-1.7l.6 .5l.5 1.4l.5 .6l.6-3.3l.5 .4l.6 3l.5-.9h.5l.6-2.9l.5 1.8l.5-.6l.6 2.8l.5-1.6l.5 .5l.6-.3l.5-.4l.5 .7l.6 1.4l.5-3.1l.5 2.9l.6-.2l.5 1.4l.5-3l.6 .3l.5 1.1l.5 .3l.6-1.5l.5 144.8h2.1l.6-145.7l.5 .8l.6-1.8l.5 .9l.5 1.7l.6-2l.5 1.1l.5 1.2l.6 .2l.5-.5l.5 2.3l.6-1.7l.5-.3l.5 1.4l.6-.9l.5 .2l.5 .7l.6-1.9l.5-.5l.5-.2l.6-1.1l.5 1.8l.5 .4l.6-.6l.5-1.8l.5-.4l.6 3l.5-1.4l.5 .8l.6-1l.5 3.6l.6-2.2l.5 2l.5 .2l.6-3.3l.5 1.8l.5-3.1l.6 .7l.5-.7l.5 .6l.6 1.8l.5-1.1l.5 2.6l.6-.4l.5-2.4l.5-1.8l.6 2.2l.5 1.9l.5-1.5l.6-1l.5-.6l.5 1.3l.6-2.2l.5 144.1l.5-142.3l.6 1.1l.5-3.3l.5 3.4l.6-.2l.5 .8l.6-1.6l.5 2.8l.5-3.2l.6 3.1l.5-3.2l.5 2.9l.6-.2l.5-.7l.5-1.3l.6 .6l.5 1l.5-1.1l.6-1.1l.5 3.4l.5-4.3l.6 1.8l.5 2.7l.5-3l.6 .5l.5 .4l.5-.2l.6 .1l.5-1.6l.5 .7l.6-.6l.5 1.2l.5-2.1l.6 2l.5-1l.6 1h.5l.5-1.5l.6 .1l.5 1.1l.5-.1l.6 .7l.5-1.4l.5 .4l.6-.7l.5 .9l.5 .3l.6-1.2l.5 1.4l.5-1.3l.6-.4l.5-.6l.5 1.8l.6-.2l.5-.8l.5 1l.6-.6l.5 .6l.5 .3l.6 .9l.5-1.2l.6-.6l.5 .4l.5 .7l.6-.7l.5-1.7l.5 2.1l.6 .8l.5-3.2l.5 3l.6-2.7l.5 1.2l.5 2.7l.6-1.7l.5 .1h1.1l.5-1.2l.5 .4l.6-1.4l.5 2.1l.5-.2l.6-1l.5 1l.5 .5l.6-1.1l.5 1.9l.5 .1l.6-.9l.5-1.3l.6-.4l.5 2.5l.5-.6l.6-1.2l.5 .1l.5 145.1h1.1l.5-144.6l.6 .7l.5-2.4l.5 .1l.6 1.8l.5-2l.5 .3l.6 .4l.5 1l.5-1.2l.6 2.1l.5-.2l.5-.4l.6-1.1l.5-1l.5 4.3l.6-2.3l.5 .8l.5-1.6l.6 2.5l.5 140l.6-141.1l.5-2.7l.5 3.7l.6-2.4l.5-1.6l.5 .5l.6 3.3l.5 .1l.5 .5l.6-2.7l.5 2.6l.5-4.5l.6 1.4l.5-.9l.5 2.6l.6-.4l.5-.3l.5 2h.6l.5-2.1l.5 .7l.6-.4l.5 1.5l.5-2.4l.6-1l.5 1.3l.5 1.2l.6-1.8h.5l.6 .8l.5 1.6l.5 1.4l.6-5.2l.5 1.9l.5 1.2l.6 .4l.5 1.9l.5-4.3l.6 1.6l.5-.5l.5 .5h.6l.5-.9l.5 2.6l.6-.9l.5-1.7l.5-.8l.6 1l.5-.1l.5 1.9l.6-.3l.5-1.3l.5 .2l.6 .4l.5-.2l.5 2.2h.6l.5-3.1l.6 .8l.5 1.2l.5-1.5l.6-2.4l.5 3.6l.5-1.4l.6 .6l.5 .8l.5 .2l.6-2.6l.5 2.3l.5 1.7l.6-4.9l.5 3.4l.5-2l.6 148.4h1.6l.5-147.7l.5-.2l.6 2.6l.5-.9l.5-2.3l.6-1.6l.5 1.8l.5 3.8l.6-4.4l.5 3.9l.6-1.1l.5-1.2l.5-.3l.6 .5l.5 .2l.5 53.4l.6-51.8l.5-2.4l.5-1.1l.6 .5" stroke="#00f" stroke-dasharray="12 11.6" stroke-linejoin="bevel"/>
</g>
<g font-size="23.1" fill="#000">
<g text-anchor="middle">
<text x="884.9" y="248.1">0</text>
<text x="991.8" y="248.1">200</text>
<text x="1098.7" y="248.1">400</text>
<text x="1205.6" y="248.1">600</text>
<text x="1312.5" y="248.1">800</text>
<text x="1419.4" y="248.1">1000</text>
<text x="1526.3" y="248.1">1200</text>
</g><g text-anchor="end">
<text x="875.7" y="225.7">0.55</text>
<text x="875.7" y="155.9">0.6</text>
<text x="875.7" y="86.2">0.65</text>
<text x="875.7" y="16.4">0.7</text>
</g></g>
<g font-size="26" fill="#000" text-anchor="middle">
<text x="1205.3" y="281.7">Data samples</text>
<text transform="translate(822.7 114.3) rotate(-90)">ERF</text>
</g>
<rect x="1353.8" y="20.3" width="156.8" height="57.3" fill="#fff" stroke="#1c1c1c" stroke-width="1.6"/>
<path d="M1359.5 36.1h59.3" stroke="#f00" stroke-width="4.5" fill="none"/>
<path d="M1359.5 62.3h59.3" stroke="#00f" stroke-width="4.5" stroke-dasharray="12 11.7" fill="none"/>
<g font-size="21" fill="#000"><text x="1423.3" y="43.8">Actual</text><text x="1423.3" y="69.8">Predicted</text></g>
<clipPath id="c2"><rect x="77.5" y="301.6" width="645.7" height="212.8"/></clipPath>
<path d="M79.8 303.9H720.9V512.1H79.8ZM79.8 512.1v-7.2 M79.8 303.9v7.2M171.4 512.1v-7.2 M171.4 303.9v7.2M263 512.1v-7.2 M263 303.9v7.2M354.6 512.1v-7.2 M354.6 303.9v7.2M446.1 512.1v-7.2 M446.1 303.9v7.2M537.7 512.1v-7.2 M537.7 303.9v7.2M629.3 512.1v-7.2 M629.3 303.9v7.2M720.9 512.1v-7.2 M720.9 303.9v7.2M79.8 512.1h7.2 M720.9 512.1h-7.2M79.8 444.5h7.2 M720.9 444.5h-7.2M79.8 377h7.2 M720.9 377h-7.2M79.8 309.4h7.2 M720.9 309.4h-7.2" fill="none" stroke="#111" stroke-width="1.4"/>
<g clip-path="url(#c2)" fill="none" stroke-width="4.5">
<path d="M80 411h.2l.1 34l.2-34l.2 34l.2-136l.2 136h.3l.2-34l.2 34l.2-34l.2-102l.2 136l.1-136l.2 34l.2 102l.2-68l.2 68l.2-34l.1 34l.2-136l.2 102l.2 34l.2-68l.2-68l.1 102l.2 34l.2-34l.2-102h.7l.2 102l.2 34l.2-136l.2 68l.1 34l.2 34l.2-34h.2l.2 34h.2l.1-34l.2-102l.2 34l.2 102h.2l.2-34l.1 34h.2l.2-34l.2 34l.2-34h.2l.1-102h.6l.2 102l.2-102l.1 102l.2-34l.2 34h.2l.2 34h.2l.1-136l.2 136l.2-136h.4l.2 102l.1-68l.2 102h.9l.2-68l.2 68l.2-136h.2l.2 68l.1-68l.2 136l.2-136h.4l.2 102l.1-102h.6l.2 34l.2 68l.1-34l.2 68h.2l.2-136h.5l.2 68l.2 68l.2-34l.2-102h.1l.2 102h.2l.2 34h.4l.1-136h.2l.2 136l.2-34l.2 34h.2l.1-136h.2l.2 102h.2l.2-102h.2l.1 102h.6l.2-102l.2 68l.1-68l.2 102h.2l.2-102h.2l.2 102h.1l.2-102l.2 102l.2-102l.2 102l.2-102h.3l.2 102l.2-102l.2 102h.3l.2-102l.2 136l.2-136h.4l.1 102l.2 34h.2l.2-136h.4l.1 102l.2 34l.2-136h.2l.2 136h.2l.1-136h.2l.2 102l.2 34l.2 33h.3l.2-169l.2 68l.2-68l.2 136l.2-136h.1l.2 102l.2-102h.4l.2 136h.1l.2-136l.2 102h.2l.2 34l.2-136l.1 102l.2-102l.2 136l.2-34l.2 34l.2-136l.1 102l.2 34h.2l.2-68l.2 68h.2l.1-34h.2l.2-68h.2l.2 68l.1-68l.2 102h.2l.2-136l.2 136h.3l.2-34l.2 34h.2l.2-34l.2 34l.1-136h.2l.2 68l.2-68l.2 102l.2 34l.1-34h.2l.2-68l.2 102h.2l.2-136l.1 136l.2-34l.2-102l.2 136h.2l.2-136l.1 68l.2-34l.2 102l.2-34l.2 34h.2l.1-136l.2 136h.2l.2-136h.2l.2 102l.1-102l.2 34l.2 68l.2-102l.2 136l.2-136l.1 136l.2-136h.2l.2 102l.2-102l.2 102l.1-102l.2 136l.2-34l.2-102h.2l.2 136h.1l.2-136l.2 102l.2 34l.2-136l.2 102l.1-102l.2 102h.4l.2 34l.2-136h.5l.2 136l.2-136h.2l.1 102l.2-34l.2 68l.2-136l.2 136l.2-34l.1 34h.2l.2-34h.2l.2 34h.2l.1-34l.2 34h.9l.2-34h.4l.2 34h.1l.2-34l.2 34h.7l.2-34l.2 34h.2l.2-34h.5l.2 34l.2-102l.2 102l.2-136h.1l.2 136l.2-68l.2-68l.2 136l.2-34l.1-102l.2 136l.2-136l.2 68l.2-68l.2 68l.1-68l.2 102l.2-34l.2 68l.2-68l.2 34l.1-102h.2l.2 136h.6l.1-136l.2 68h.2l.2 34l.2 34l.2-34l.1-102h.2l.2 68l.2 68l.2-136l.2 102l.1-68l.2 102l.2-34h.4l.2 34l.1-136l.2 136l.2-102h.2l.2-34l.2 136h.1l.2-136l.2 102l.2 34l.2-136l.2 136l.1-136l.2 136l.2-34l.2-102l.2 102l.2-102l.1 102l.2-102h.2l.2 102l.2 34l.2-34h.1l.2 34l.2-68l.2 68l.2-34l.2-34l.1-68h.4l.2 102h.2l.2-102l.1 102l.2-102h.4l.2 68l.1 34l.2-68l.2-34l.2 68l.2 34h.2l.1 34h.4l.2-136h.2l.2 136h.1l.2-136l.2 102h.2l.2 34h.2l.1-136l.2 34l.2-34h.2l.2 102l.2-68l.1 68h.4l.2-102l.2 34l.2 102l.1-136h.4l.2 68l.2 68l.2-136h.3l.2 102h.2l.2-102l.2 136l.1-136l.2 102l.2 34l.2-136l.2 102l.2 34h.1l.2-136l.2 136l.2-136h.2l.2 136l.1-34l.2-102l.2 102l.2-102l.2 102l.2-68l.1 102l.2-136h.2l.2 68l.2 34h.2l.1-68l.2 102l.2-34l.2 34l.2-34h.2l.1-102l.2 136h.6l.2-34l.1-102h.2l.2 102h.2l.2-102l.2 68h.1l.2-68l.2 136l.2-136l.2 136l.2-68l.1-68l.2 68l.2 34l.2-102h.2l.2 34l.1 102l.2-136l.2 136l.2-136h.2l.2 136l.1-68l.2-68l.2 136h.9l.2-136h.7l.2 136l.2-68l.2 68l.2-34l.1-102l.2 102l.2 34h.2l.2-34l.2-102h.7l.2 136l.2-34l.1-102h.4l.2 102l.2 34l.2-136l.1 136l.2-136l.2 136l.2-136l.2 102l.2-102l.1 136l.2-34l.2 34l.2-136h.2l.2 102l.1-102h.2l.2 136l.2-68l.2-68l.2 34l.1 102l.2-136l.2 136l.2-136l.2 102l.2 34l.1-136l.2 136l.2-136l.2 34l.2-34h.2l.1 102l.2 34h1.1l.2-34h.6l.1 34l.2-34l.2 34l.2-34l.2 34l.2-34l.1 34l.2-34l.2 34h.7l.2-34h.4l.2 34l.2-34h.3l.2 34l.2-34l.2 34l.2-136h.1l.2 136l.2-34l.2-102h.2l.1 68l.2 68l.2-34l.2-102l.2 102l.2-102h.1l.2 102l.2 34l.2-136l.2 102l.2-34l.1 68h.2l.2-34l.2-102l.2 136l.2-136h.5l.2 136h.2l.2-34l.1 34l.2-34l.2-102l.2 136l.2-136l.2 102l.1 34l.2-136l.2 102h.4l.2-102h.1l.2 136l.2-136l.2 136l.2-34h.2l.1-102l.2 136l.2-136l.2 102l.2 34l.2-136h.3l.2 136l.2-136l.2 102l.2-102l.1 68l.2 68l.2-136l.2 68l.2 34l.2-68l.1 68l.2 34l.2-136l.2 136h.4l.1-136h.2l.2 102l.2-102l.2 102h.2l.1 34h.2l.2-68l.2 34l.2 34l.2-136l.1 102h.2l.2 34h.2l.2-136l.2 102l.1-102l.2 136l.2-136l.2 136h.4l.1-34h.4l.2-102l.2 68l.2-68h.1l.2 102l.2-102l.2 136l.2-34l.1-102l.2 68l.2 68h.2l.2-136h.3l.2 136l.2-136l.2 68l.2 68h.2l.1-102l.2-34l.2 34l.2 102l.2-136l.2 136l.1-136l.2 102l.2 34l.2-34h.2l.2-102h.1l.2 102l.2-102l.2 136l.2-136l.2 34h.1l.2 102l.2-136l.2 68l.2-68l.2 136l.1-136h.2l.2 34l.2 102l.2-136l.2 68l.1 68l.2-102l.2-34l.2 136l.2-68l.2-34l.1-34l.2 136l.2-34l.2-102h.5l.2 34h.2l.2 102l.2-136l.2 102l.1 34l.2-136h.4l.2 136l.2-136l.1 102l.2-102l.2 136l.2-34l.2 34h.2l.1-34l.2-102l.2 102l.2 34l.2-136h.3l.2 102l.2 34l.2-136l.2 136l.2-136h.3l.2 68l.2 34l.2 34h.2l.1-34h.2l.2 34l.2-136h.2l.2 136l.1-102l.2-34l.2 34l.2 68l.2-102l.2 68l.1-34l.2-34l.2 136l.2-136l.2 136l.1-136l.2 136l.2-136l.2 102l.2-102l.2 136l.1-136h.4l.2 68h.2l.2 68l.1-136h.2l.2 102h.2l.2-102l.2 68l.1 68h.2l.2-136l.2 68h.2l.2 34l.1 34l.2-136l.2 102h.4l.2 34l.1-136h.2l.2 136h.2l.2-34l.2-102l.1 102l.2-102l.2 102h.2l.2-102h.2l.1 102h.2l.2-68l.2 68l.2 34h.2l.1-136l.2 136h.4l.2-136h.2l.1 102l.2 34l.2-34l.2-102l.2 68l.2-68h.5l.2 102l.2 34l.2-136h.3l.2 136l.2-136h.7l.2 136l.2-68l.2-68h.3l.2 34h.2l.2 68l.2 34l.2-136l.1 34l.2 68h.2l.2 34h.2l.2-136l.1 136l.2-34l.2-102l.2 136l.2-136l.2 102l.1-102h.4l.2 136l.2-136l.1 102h.4l.2-102l.2 102h.2l.1 34h.2l.2-102l.2-34l.2 136l.2-136l.1 34l.2-34l.2 102l.2 34h.2l.2-136h.3l.2 136l.2-34l.2 34l.2-136l.1 136l.2-136h.2l.2 68l.2 68h.2l.1-68l.2-68l.2 136l.2-136h.7l.2 136h.2l.2-136l.2 102l.1 34l.2-102l.2 68l.2 34l.2-136l.2 102l.1-102l.2 136h.2l.2-136l.2 136l.2-136l.1 102l.2-102l.2 136h.2l.2-136h.9l.2 136h.3l.2-102l.2 68l.2 34h.4l.1-34h.2l.2-34l.2-68h.2l.2 102l.1-102l.2 102h.4l.2-102h.2l.1 102h.2l.2 34h.4l.2-34l.1 34l.2-68h.2l.2 34h.4l.1-34h.6l.2 34l.1-34l.2 34l.2-34h.2l.2-68l.2 34l.1 102l.2-34l.2-68l.2-34h.2l.2 102l.1-102l.2 34l.2-34l.2 34l.2 102l.2-136l.1 136l.2-34l.2-102h.4l.2 102h.3l.2-102l.2 102l.2 34h.3l.2-136l.2 136h.2l.2-136l.2 102l.1-102l.2 136h.4l.2-34h.2l.1-102l.2 136h.2l.2-136h.2l.2 68l.1 68h.2l.2-68l.2 68l.2-136h.3l.2 34l.2-34l.2 68l.2 68h.3l.2-102l.2-34l.2 34l.2 102l.2-136h.1l.2 102l.2-34l.2 68l.2-102l.2 102l.1-34l.2-102l.2 34l.2 68l.2-102l.2 34l.1-34l.2 102l.2-102h.2l.2 136h.5l.2-136h.6l.1 136l.2-136l.2 68l.2 34l.2-102h.2l.1 34l.2-34h.2l.2 102l.2-102l.2 102l.1-102h.2l.2 34l.2-34l.2 102l.1 34l.2-68l.2 34l.2-102l.2 136l.2-102l.1 34l.2 68l.2-136l.2 68l.2 34l.2-102l.1 136l.2-102l.2 102l.2-34h.2l.2-102h.1l.2 136l.2-34l.2-102l.2 136l.2-34l.1-102l.2 136l.2-102l.2-34h.2l.2 136l.1-136l.2 136h.2l.2-68l.2 68l.2-34l.1-102l.2 68l.2-34l.2-34l.2 136l.2-136h.3l.2 136l.2-136l.2 102h.2l.1-68l.2 68l.2-102h.2l.2 102l.2 34l.1-34l.2-102l.2 102h.2l.2 34l.2-34l.1-102l.2 102l.2 34l.2-102l.2-34l.2 102l.1 34l.2-34l.2-102l.2 102l.2 34l.2-136l.1 136l.2-68l.2 34l.2 34l.2-34l.2 34l.1-68l.2 68l.2-136h.4l.2 136l.1-136h.2l.2 136h.6l.1-136h.2l.2 68l.2 34l.2-102h.2l.1 102h.8l.1 34l.2-136l.2 68l.2-68l.2 102l.2-102l.1 136l.2-136h.2l.2 136l.2-34l.2 34l.1-136l.2 68l.2 68l.2-136h.2l.2 136l.1-136l.2 136l.2-136l.2 102l.2 34l.2-34l.1-34l.2 68l.2-136l.2 102h.2l.2-102h.7l.2 34h.2l.1-34l.2 136l.2-136l.2 136h.2l.2-102l.1 34h.2l.2-68l.2 136h.4l.1-68l.2 34l.2-102l.2 102l.2 34l.2-136l.1 102h.2l.2 34l.2-136l.2 34l.2 102l.1-34l.2-102l.2 136h.7l.2-34l.2-102h.4l.2 102l.1-102l.2 136l.2-136l.2 136l.2-136l.2 136l.1-34h.2l.2-68l.2 68l.2 34l.2-68l.1-68l.2 102l.2-102l.2 102h.4l.1-102l.2 136l.2-102l.2 34l.2-68l.2 136l.1-136l.2 102l.2-102l.2 136l.2-136l.1 102l.2 34h.4l.2-136l.2 102h.1l.2-102l.2 68l.2-68l.2 136h.3l.2-34h.2l.2-102l.2 102h.2l.1 34l.2-34l.2-34l.2 68l.2-136h.2l.1 68l.2 34l.2-102l.2 136h.2l.2-136h.1l.2 102l.2 34l.2-102l.2 68l.2-102l.1 136l.2-68l.2 68l.2-136h.2l.2 34l.1-34h.4l.2 136l.2-34l.2-102l.1 136l.2-34l.2-102l.2 102l.2-34l.2 68h.1l.2-136h.2l.2 136l.2-136h.2l.1 102l.2-102l.2 136h.2l.2-136l.2 68l.1 34h.2l.2 34h.2l.2-34h.2l.1 34l.2-136l.2 136h.2l.2-136l.2 102l.1 34l.2-34l.2 34h.2l.2-136l.2 136l.1-136l.2 102l.2 34l.2-136l.2 68l.2 68l.1-34l.2-68l.2 68l.2 34l.2-34h.3l.2-102h.2l.2 68l.2-68l.2 136l.1-102l.2-34l.2 136l.2-68l.2 34l.1 34l.2-136l.2 102l.2-34l.2 68l.2-34h.1l.2-102l.2 136l.2-136l.2 136l.2-136h.1l.2 34l.2 68h.2l.2-102l.2 102l.1 34l.2-136h.2l.2 136h.2l.2-136l.1 102l.2 34l.2-136l.2 136l.2-34l.2-34l.1 34l.2 34h.2l.2-34l.2 34l.2-136l.1 136h.6l.2-136l.2 102l.1-102h.2l.2 136l.2-102l.2-34l.2 136l.1-136l.2 68l.2 34l.2-102l.2 136l.2-136l.1 136l.2-68l.2 68l.2-34l.2 34l.2-136h.1l.2 136h.2l.2-136h.7l.2 68l.2 68l.2-136l.2 68l.1 34l.2 34h.2l.2-34l.2-102l.2 34l.1-34l.2 102l.2-102l.2 136h.2l.2-68l.1 68l.2-136l.2 136l.2-34l.2-102l.2 102l.1-34l.2-68l.2 169h.4l.2-169l.1 102l.2-102l.2 136l.2-34l.2-102l.1 136l.2-136l.2 136l.2-136l.2 102l.2-102l.1 136h.6l.2-34l.2 34h.1l.2-136h.2l.2 102l.2 34h.2l.1-136l.2 102l.2-68l.2-34l.2 34l.2-34l.1 68l.2 34h.2l.2-102h.2l.2 102l.1 34l.2-136l.2 136l.2-136l.2 136l.2-102l.1 68l.2 34h.2l.2-34h.7l.2 34l.2-136h.2l.2 102h.1l.2 34h.4l.2-34l.2 34l.1-34h.2l.2-34l.2-68l.2 68l.2 68l.1-34h.2l.2-34l.2 34h.2l.2-102h.3l.2 136l.2-136l.2 102h.2l.1 34l.2-136l.2 136l.2-136l.2 102l.2-102l.1 136h.2l.2-34l.2-68l.2-34l.2 136l.1-102l.2 68l.2 34h.4l.2-136l.1 136l.2-68l.2 68l.2-136h.2l.2 136h.1l.2-136l.2 136h.2l.2-102l.1 102h.2l.2-102l.2-34l.2 136l.2-136l.1 34l.2-34l.2 102h.2l.2-34l.2 68l.1-34l.2 34l.2-136l.2 102l.2 34l.2-136l.1 136h.2l.2-34l.2-102l.2 68l.2-68l.1 102l.2-102l.2 34l.2 102l.2-136l.2 136l.1-34l.2-68l.2-34l.2 102l.2 34l.2-136h.1l.2 102h.2l.2-102l.2 68l.2-68l.1 136l.2-136l.2 136l.2-34l.2-102l.2 68l.1-68l.2 34l.2-34l.2 136l.2-34h.2l.1 34l.2-34l.2-102h.2l.2 68l.2 68l.1-34h.2l.2 34l.2-34h.2l.2-102l.1 102l.2-102l.2 102l.2-102l.2 136l.2-102l.1 102h.2l.2-136l.2 68l.2 34l.2 34l.1-136h.2l.2 136l.2-34h.2l.2 34h.1l.2-136h.2l.2 102l.2 34l.2-34l.1-102h.8l.2 136l.1-136h.2l.2 102l.2 34l.2-136h.2l.1 68l.2 68l.2-34h.2l.2-102h.1l.2 102h.2l.2-68h.2l.2-34l.1 136l.2-34l.2-102l.2 68l.2 34l.2 34h.3l.2-136l.2 68l.2-68h.2l.1 34l.2 102l.2-34h.2l.2 34l.2-34l.1-102h.2l.2 136l.2-136l.2 136h1.1l.2-136h.1l.2 68l.2 68h.4l.2-136l.1 102l.2 34l.2-68l.2 68l.2-102l.2 68l.1-68l.2-34l.2 102l.2 34l.2-34l.2-34l.1 68l.2-136h.2l.2 136l.2-136h.2l.1 34l.2 68h.2l.2 34h.2l.2-136l.1 102l.2-34l.2-34l.2-34h.2l.2 102l.1-34l.2 68l.2-136l.2 34l.2 102l.2-136h.5l.2 34l.2-34h.2l.1 102l.2-102h.2l.2 102h.2l.2-34l.1 68l.2-136l.2 136l.2-136l.2 102l.2 34l.1-136h.2l.2 102l.2-102l.2 136l.1-34h.2l.2-68l.2 68l.2 34l.2-136l.1 102l.2-102l.2 68l.2 34h.2l.2-102h.1l.2 102h.2l.2 34l.2-136h.5l.2 136l.2-34l.2 34h.2l.1-34l.2-34l.2-68h.2l.2 136l.2-136h.1l.2 34l.2-34h.2l.2 68l.2 68h.1l.2-102l.2-34l.2 102h.2l.2-102h.3l.2 34l.2-34l.2 102h.2l.1-68h.2l.2 102l.2-34l.2 34l.2-136l.1 136l.2-34l.2-102h.9l.2 136l.2-102l.2 68h.2l.1-102h.2l.2 136l.2-68l.2-68l.2 68l.1 34l.2 34l.2-136h.2l.2 102l.2 34h.1l.2 33h.4l.2-67l.2-68l.1-34h.4l.2 102l.2-68l.2-34h.1l.2 136h.2l.2-34l.2 34h.2l.1-136l.2 34l.2-34l.2 68l.2 68l.1-34l.2 34h.2l.2-136l.2 102l.2-68l.1 102h.6l.2-136h.2l.1 102l.2-102l.2 136l.2-136l.2 136l.2-68l.1 34l.2 34l.2-102l.2 102l.2-136h.3l.2 136h.2l.2-34l.2-102h.5l.2 102h.2l.2-102h.3l.2 136l.2-34l.2 34h.2l.2-34l.1-102h.4l.2 34l.2 34l.2 68l.1-136l.2 102l.2-102l.2 68l.2 34l.2-102l.1 136l.2-34l.2 34l.2-34h.2l.2-102l.1 136l.2-136h.2l.2 136h.2l.2-136l.1 136h.4l.2-102l.2 68l.2 34h.1l.2-136l.2 102l.2 34l.2-68l.2 34l.1 34h.2l.2-136h.2l.2 136h.3l.2-34l.2-102l.2 68l.2 68l.2-136l.1 136l.2-34l.2-102l.2 34l.2 68l.2-34l.1-34l.2 102l.2-136l.2 102h.3l.2-102l.2 102l.2-102l.2 102l.2-102h.1l.2 136l.2-68l.2 68l.2-34h.3l.2-102l.2 102h.2l.2-34l.2 68l.1-136h.2l.2 34l.2-34l.2 102h.3l.2-102h.2l.2 136h.2l.2-34l.1-34l.2 34h.2l.2 34h.2l.2-136h.1l.2 102l.2 34h.4l.2-136l.1 102l.2-34l.2 68l.2-136l.2 136h.7l.2-102l.2-34l.2 136h.3l.2-68l.2-68l.2 68l.2 68l.1-136l.2 136h.2l.2-136l.2 136h.2l.1-136h.2l.2 102h.2l.2 34l.2-102l.1 68l.2 34h.2l.2-102l.2 102h.3l.2-102h.2l.2 34l.2 68h.5l.2-34h.2l.2-68l.2 102h.1l.2-102l.2 102l.2-68h.4l.1-34l.2 68l.2 34h.2l.2-136l.2 102l.1 34l.2-34l.2 34l.2-136l.2 136l.1-102l.2-34l.2 136l.2-136l.2 102l.2-102l.1 102h.2l.2-102h.2l.2 136l.2-34h.5l.2 34l.2-136l.2 136l.1-68l.2-68l.2 136l.2-136h.2l.2 136l.1-102l.2 34l.2-68h.2l.2 102l.2-102l.1 102l.2 34h.4l.2-34h.2l.1 34h.2l.2-34h.4l.2 34h.1l.2-34l.2 34l.2-34l.2-102l.2 136l.1-136h.2l.2 136l.2-68l.2 68h.3l.2-68l.2 68l.2-34h.2l.2-68h.5l.2 68l.2 34l.2-102l.1 102l.2-102h.2l.2 102l.2-34l.2-34l.1 34l.2-68l.2 102l.2-68l.2 68l.2-34l.1-68h.2l.2 102l.2-102l.2 102l.2-102l.1 68l.2 34l.2-102l.2 102l.2-136h.3l.2 102l.2 34l.2-136h.5l.2 34l.2 102l.2-136h.2l.1 136h.4l.2-136l.2 34l.2 102l.1-68l.2 34l.2-102l.2 34l.2 68l.2 34h.1l.2-136l.2 34l.2 102l.2-136l.2 136l.1-136l.2 136l.2-136l.2 136h.2l.2-34l.1-102h.4l.2 136l.2-136l.2 136h.1l.2-136l.2 68l.2-68l.2 34l.2 102h.1l.2-136l.2 102l.2-102h.2l.2 102l.1-102l.2 68l.2-68l.2 102l.2-102l.2 68l.1-68h.4l.2 102l.2 34h.2l.1-136l.2 136l.2-136l.2 102h.2l.2-102l.1 68l.2 68l.2-136l.2 136l.2-68l.2-68l.1 102l.2-102l.2 102h.2l.2-102h.2l.1 68l.2 34h.2l.2-102l.2 102l.2-102l.1 102l.2-68l.2 68l.2-34l.2-68l.2 102l.1-34l.2 34l.2-102h.2l.2 102l.2-102h.1l.2 34l.2-34h.6l.1 136h.2l.2-136h.2l.2 136l.1-34h.2l.2-102l.2 102l.2-102h.2l.1 102l.2-102h.2l.2 136l.2-34l.2 34l.1-136l.2 136l.2-136l.2 102l.2-68l.2 68l.1-102h.4l.2 102l.2 34l.2-136l.1 136l.2-102l.2 102l.2-136h.4l.1 68l.2 68h.2l.2-136l.2 136h.3l.2-68l.2-34l.2 102h.4l.1-102l.2 68l.2 34h.2l.2-102h.2l.1 68l.2-68l.2 102l.2-34l.2-34l.2-34l.1 102l.2-102l.2 102h.7l.2-136l.2 136l.2-136l.2 34l.2 102l.1-34l.2-34l.2-68l.2 102l.2 34h.2l.1-34l.2-34l.2-68l.2 136h.2l.2-34l.1-102l.2 102h.2l.2-102l.2 136h.3l.2-136l.2 136l.2-34l.2-102l.2 102h.1l.2-102l.2 102l.2 34l.2-136h.2l.1 136l.2-68l.2 68l.2-34l.2-68l.2 68h.1l.2 34h.6l.1-102h.2l.2 102h.2l.2-102h.2l.1 102l.2-102h.2l.2 68l.2 34h.5l.2-34l.2-34l.2 34l.2 34l.1-136l.2 102l.2-102l.2 102l.2 34l.2-136l.1 136l.2-136l.2 136l.2-136l.2 102l.2-102l.1 136l.2-136l.2 136l.2-102l.2 68l.2 34l.1-136l.2 136h.2l.2-136h.2l.2 136h.1l.2-34l.2 34l.2-34l.2-102h.2l.1 34l.2 102l.2-68l.2-68h.7l.2 136h.2l.2-136l.2 68l.1-68l.2 136l.2-68l.2 34l.2-102l.2 136l.1-34l.2-102l.2 136l.2-34h.4l.1-102l.2 102l.2-102l.2 68l.2 68l.2-136l.1 102l.2 34l.2-34l.2-102h.2l.2 34l.1 102l.2-34l.2-102l.2 136h.2l.2-34h.1l.2 34h.4l.2-34l.2 34h.1l.2-34h.4l.2-34l.1 68h.2l.2-34h.2l.2-102l.2 136l.1-136l.2 136l.2-68l.2-68h.2l.2 136l.1-136l.2 136l.2-34l.2-102h.2l.2 102l.1 34l.2-34h.2l.2-102l.2 136l.2-136h.1l.2 136l.2-136h.2l.2 102h.3l.2-34l.2-34l.2 68l.2-102l.2 102l.1-102l.2 68l.2 68h.2l.2-68l.2-68l.1 136l.2-136l.2 136l.2-136l.2 136l.2-102l.1-34l.2 136l.2-34l.2 34l.2-136l.2 102l.1-102l.2 102l.2-102l.2 34l.2 68l.2-102h.1l.2 102l.2 34l.2-136l.2 136l.2-34l.1-102l.2 136l.2-34l.2 34h.2l.2-102l.1 102h.2l.2-136l.2 136l.2-34l.2-68l.1-34l.2 102l.2-68l.2-34l.2 68l.2 101h.3l.2-67l.2-102l.2 34l.2-34l.1 34l.2 68l.2-102l.2 136l.2-34h.2l.1 34h.2l.2-34l.2-102h.2l.1 136l.2-136h.4l.2 136l.2-136l.1 136l.2-34h.4l.2-34l.2-68l.1 136h.4l.2-34l.2-102l.2 34l.1 68l.2-102h.4l.2 136h.3l.2-136h.2l.2 102l.2-68l.2 68l.1-102h.2l.2 102l.2 34l.2-68l.2 68l.1-68l.2 34l.2-34l.2 68l.2-34l.2-102l.1 136h.6l.2-136l.2 136l.1-136h.2l.2 68l.2-68l.2 136h.2l.1-34l.2 34l.2-136l.2 102l.2-102l.2 68h.1l.2 68l.2-136l.2 136l.2-102l.2-34h.1l.2 136l.2-136h.4l.2 34l.1-34h.2l.2 159h.4l.2-23l.1-136l.2 102l.2-34l.2 68h.2l.2-34l.1-68l.2-34h.2l.2 68l.2-68l.2 136l.1-68h.2l.2-68l.2 68l.2 68l.2-136h.1l.2 34l.2-34h.2l.2 102h.2l.1 34l.2-68l.2 68l.2-34l.2-102l.1 34l.2 68l.2 34h.6l.1-34l.2 34l.2-68l.2-68l.2 102h.2l.1 34h.2l.2-68l.2 34h.2l.2-102l.1 136h.4l.2-136l.2 136h.2l.1-68l.2 34l.2-102h.2l.2 102h.2l.1-102l.2 102l.2-102h.2l.2 136h.5l.2-136l.2 136h.2l.2-34l.1-102l.2 102h.2l.2 34l.2-136l.2 34l.1 68l.2 34h.4l.2-136l.2 136l.1-136h.2l.2 136h.6l.1-102l.2 34l.2 34l.2-102h.2l.2 34l.1-34h.2l.2 68l.2-68l.2 68l.2 34l.1-102h.2l.2 136h.9l.2-136l.2 102h.2l.2-102l.1 136h.2l.2-136l.2 102l.2 34l.2-136l.1 102l.2 34h.2l.2-34l.2 34h.2l.1-102l.2 34l.2 68h.2l.2-34l.1 34h.2l.2-102l.2 102l.2-34l.2-102h.1l.2 136l.2-136h.2l.2 136h.2l.1-136h.2l.2 136l.2-136l.2 136l.2-136h.1l.2 136l.2-136h.2l.2 102l.2-68l.1-34h.2l.2 136l.2-136l.2 136l.2-136h.1l.2 68l.2-68l.2 136l.2-136l.2 136l.1-136h.4l.2 136l.2-136h.2l.1 136h.4l.2-136h.2l.2 136l.1-136l.2 102l.2-102l.2 136h.4l.1-102l.2-34l.2 136l.2-102l.2 34h.2l.1 34h.2l.2-102l.2 102l.2-68l.2 68h.3l.2-34l.2 34h.2l.2-102l.1 102h.2l.2-34l.2-68h.4l.1 102l.2-102l.2 102l.2-102l.2 102l.2-68l.1-34l.2 102l.2-102h.2l.2 102l.2 34l.1-136l.2 68l.2 68l.2-136h.2l.2 34l.1 68h.2l.2-102h.2l.2 102h.1l.2-102h.2l.2 102l.2 34l.2-136h.1l.2 34l.2-34l.2 136l.2-136l.2 68l.1-34l.2 102h.4l.2-136h.5l.2 136l.2-136l.2 102h.2l.1 34l.2-34l.2-102l.2 68l.2-68l.2 136l.1-34l.2-102l.2 136l.2-136l.2 34l.2 68l.1-102h.6l.2 102l.2-34l.1-68h.2l.2 102h.2l.2-102l.2 34l.1-34l.2 136l.2-136h.2l.2 102l.2-102l.1 136h.4l.2-34l.2 34h.2l.1-136l.2 136l.2-34l.2-102l.2 136l.2-136l.1 136l.2-34l.2-102l.2 136l.2-136l.2 102l.1-102h.2l.2 136h.2l.2-136l.2 34l.1 68l.2 34l.2-136l.2 68l.2 68l.2-34l.1-68l.2 34l.2 68l.2-34l.2 34l.2-136l.1 102l.2-102h.2l.2 136l.2-136l.2 102h.1l.2-102h.4l.2 102l.2-68l.1 68l.2-102h.2l.2 136h.2l.1-102l.2-34l.2 136l.2-136h.4l.1 136l.2-136l.2 136h.4l.2-136l.1 102l.2 34h.2l.2-102l.2 68l.2 34l.1-136h.2l.2 102l.2-102h.2l.2 136l.1-136l.2 34l.2-34l.2 102l.2-68l.2-34l.1 136h.2l.2-136l.2 136l.2-34l.2 34h.5l.2-102l.2 68l.2-34l.1-68l.2 102l.2-102h.4l.2 34l.1 102l.2-34l.2-102h.2l.2 102l.2-102l.1 102l.2-102h.4l.2 136l.2-136h.1l.2 102l.2-102l.2 68l.2-68h.2l.1 102h.2l.2-102h.4l.2 136l.1-102l.2-34h.2l.2 102l.2-102l.2 136h.1l.2-136l.2 136l.2-102l.2-34l.2 136l.1-136l.2 136h.2l.2-136l.2 136l.2-136l.1 34l.2-34l.2 136h.4l.2-68l.1 34l.2-102l.2 102h.2l.2-34l.1-68l.2 102l.2-102h.2l.2 136l.2-136l.1 68l.2 34l.2-68l.2 102l.2-136h.3l.2 136l.2-34l.2-102h.2l.2 136l.1-136h.2l.2 102h.2l.2-102l.2 68l.1 68l.2-34h.2l.2-102l.2 136l.2-136h.3l.2 136l.2-136l.2 68l.2 68l.1-102l.2-34l.2 102l.2-102l.2 102l.2 34l.1-102l.2 68h.2l.2 34l.2-136" stroke="#f00" stroke-linejoin="round"/>
<path d="M80 424l.2 21h.1l.2-34h.2l.2-102l.2 136l.2-68l.1 68l.2-68l.2 68l.2-34l.2-102l.2 136l.1-136l.2 34l.2 102l.2-68l.2 68l.2-34l.1 34l.2-136l.2 102l.2 34l.2-68l.2-68l.1 102l.2 34l.2-34l.2-102h.7l.2 102l.2 34l.2-136l.2 68l.1 34l.2 34l.2-34h.2l.2 34h.2l.1-34l.2-102l.2 34l.2 102h.2l.2-34l.1 34h.2l.2-34l.2 34l.2-34h.2l.1-102h.6l.2 102l.2-102l.1 102l.2-34l.2 34h.2l.2 34h.2l.1-34l.2 34l.2-136h.4l.2 102l.1-68l.2 102h.4l.2-102l.2 102h.1l.2-68l.2 68l.2-136h.2l.2 68l.1-68l.2 136l.2-136h.2l.2 136l.2-34l.1-102h.6l.2 34l.2 68l.1-34l.2 68h.2l.2-136h.5l.2 68l.2 68l.2-34l.2-102h.1l.2 102h.2l.2 34h.4l.1-136h.2l.2 136l.2-34l.2 34h.2l.1-34l.2-102l.2 102h.2l.2-102h.2l.1 102h.6l.2-102l.2 68l.1-68l.2 102h.2l.2-102h.2l.2 102h.1l.2-102l.2 102l.2-102l.2 102h.2l.1-102h.2l.2 102l.2-102l.2 102h.3l.2-102l.2 136l.2-136h.4l.1 102l.2 34l.2-102l.2-34h.4l.1 102l.2 34l.2-136h.2l.2 136h.2l.1-136h.2l.2 102l.2-34l.2 110h.3l.2-178l.2 68l.2-68l.2 136l.2-136h.1l.2 102l.2-102h.4l.2 136h.1l.2-136l.2 102h.2l.2 34l.2-102l.1 68l.2-102l.2 136l.2-34l.2 34h.2l.1-34l.2 34h.2l.2-68l.2 68h.2l.1-34h.2l.2-68h.2l.2 68l.1-68l.2 102h.2l.2-136l.2 136h.3l.2-34l.2 34h.2l.2-136l.2 136l.1-136h.2l.2 68l.2-68l.2 102l.2 34l.1-34h.2l.2-68l.2 102h.2l.2-136l.1 136l.2-34l.2-102l.2 102l.2 34l.2-136l.1 68l.2-34l.2 102l.2-34l.2 34h.2l.1-136l.2 136h.2l.2-136h.2l.2 136l.1-136l.2 34l.2 68l.2-102l.2 136l.2-136l.1 136l.2-136h.2l.2 102l.2-102l.2 102l.1-102l.2 136l.2-34l.2-102h.2l.2 136h.1l.2-136l.2 102l.2 34l.2-136l.2 102l.1-102l.2 102h.4l.2 34l.2-136h.5l.2 136l.2-136h.2l.1 102l.2-34l.2 68l.2-136l.2 136h.7l.2-34l.2 34l.2-34h.1l.2 34h.9l.2-34h.4l.2 34h.1l.2-34l.2 34h.2l.2-34l.2 34h.1l.2-34l.2 34l.2-34h.2l.2 34l.1-34h.4l.2-68l.2 102l.2-136h.1l.2 136l.2-68l.2-68l.2 136l.2-34l.1-102l.2 136l.2-136l.2 68l.2-68l.2 68l.1-68l.2 102l.2-34l.2 68l.2-68l.2 34l.1-102h.2l.2 136h.6l.1-136l.2 68h.2l.2 34l.2 34l.2-34l.1-102h.2l.2 68l.2 68l.2-136l.2 102l.1-68l.2 102l.2-34h.4l.2 34l.1-136l.2 136l.2-102h.2l.2-34l.2 136h.1l.2-136l.2 102l.2 34l.2-136l.2 136l.1-136l.2 136l.2-34l.2-102l.2 102l.2-102l.1 102l.2-102h.2l.2 102l.2 34l.2-34h.1l.2 34l.2-68l.2 68l.2-34l.2-34l.1-68h.4l.2 102h.2l.2-102l.1 102l.2-102h.4l.2 68l.1 34l.2-68l.2-34l.2 68l.2 34h.2l.1 34h.4l.2-136h.2l.2 136h.1l.2-136l.2 102h.2l.2 34h.2l.1-136l.2 34l.2-34h.2l.2 102l.2-68l.1 68h.4l.2-102l.2 34l.2 102l.1-136h.4l.2 68l.2 68l.2-136h.3l.2 102h.2l.2-102l.2 136l.1-136l.2 102l.2 34l.2-136l.2 102l.2 34h.1l.2-136l.2 136l.2-136h.2l.2 136l.1-34l.2-102l.2 102l.2-102l.2 102l.2-68l.1 102l.2-136l.2 68h.2l.2 34h.2l.1-102l.2 136l.2-34l.2 34l.2-34h.2l.1-102l.2 136h.6l.2-34l.1-102h.2l.2 102h.2l.2-102l.2 68h.1l.2-68l.2 136l.2-136l.2 136l.2-68l.1-68l.2 68l.2 34l.2-102h.2l.2 34l.1 102l.2-136l.2 136l.2-136h.2l.2 136l.1-68l.2-68l.2 136h1.1l.2-136h.5l.2 136l.2-68l.2 68l.2-34l.1-102l.2 102l.2 34h.2l.2-34l.2-102h.7l.2 136l.2-34l.1-102h.4l.2 102l.2 34l.2-136l.1 136l.2-136l.2 136l.2-136l.2 102l.2-102l.1 136l.2-34l.2-34l.2-68h.2l.2 102l.1-102h.2l.2 136l.2-68l.2-68l.2 34l.1 102l.2-136l.2 136l.2-136l.2 102h.2l.1-102l.2 136l.2-136l.2 34l.2-34h.2l.1 102l.2 34h1.1l.2-34h.6l.1 34l.2-34l.2 34h.4l.2-34h.3l.2 34h.7l.2-34h.8l.1 34l.2-34l.2 34h.4l.2-136h.1l.2 136l.2-34l.2-102h.2l.1 68l.2 68l.2-34l.2-102l.2 102l.2-102h.1l.2 102l.2 34l.2-136l.2 102l.2-34l.1 68h.2l.2-34l.2-102l.2 136l.2-136h.5l.2 136h.2l.2-34l.1 34l.2-34l.2-102l.2 136l.2-102l.2 68l.1 34l.2-136l.2 102h.4l.2-102h.1l.2 136l.2-136l.2 136l.2-34h.2l.1-102l.2 136l.2-136l.2 102l.2 34l.2-136h.3l.2 136l.2-136l.2 102l.2-102l.1 68l.2 68l.2-68h.2l.2 34l.2-68l.1 68l.2 34l.2-136l.2 136h.4l.1-136h.2l.2 136l.2-136l.2 102h.2l.1 34h.2l.2-68l.2 34l.2 34l.2-136l.1 102h.2l.2 34h.2l.2-136l.2 102l.1-102l.2 136l.2-136l.2 136h.4l.1-34h.4l.2-102l.2 68l.2-68h.1l.2 102l.2-102l.2 136l.2-34l.1-102l.2 68l.2 68h.2l.2-136h.3l.2 136l.2-136l.2 68l.2 68h.2l.1-102l.2-34l.2 34l.2 102l.2-136l.2 136l.1-136l.2 102l.2 34l.2-34h.2l.2-102h.1l.2 102l.2-102l.2 136l.2-136l.2 34h.1l.2 102l.2-136l.2 68l.2-68l.2 136l.1-136h.2l.2 34l.2 102l.2-136l.2 68l.1 68l.2-102l.2-34l.2 136l.2-68l.2-34l.1-34l.2 136l.2-34l.2-102h.5l.2 34h.2l.2 102l.2-136l.2 102l.1 34l.2-136h.4l.2 136l.2-136l.1 102l.2-102l.2 136l.2-34l.2 34h.2l.1-34l.2-102l.2 102l.2 34l.2-136h.3l.2 136h.2l.2-136l.2 136l.2-136h.3l.2 68l.2 34l.2 34h.2l.1-34h.2l.2 34l.2-136h.2l.2 136l.1-102l.2-34l.2 34l.2 68l.2-102l.2 68l.1-34l.2-34l.2 136l.2-136l.2 136l.1-136l.2 136l.2-136l.2 102l.2-102l.2 136l.1-136h.4l.2 68h.2l.2 68l.1-136h.2l.2 136l.2-34l.2-102l.2 68l.1 68h.2l.2-102l.2 34h.2l.2 34l.1 34l.2-136l.2 102h.4l.2 34l.1-136h.2l.2 136h.2l.2-34l.2-102l.1 102l.2-102l.2 102h.2l.2-102h.2l.1 102h.2l.2-68l.2 68l.2 34h.2l.1-136l.2 136h.4l.2-136h.2l.1 102l.2 34l.2-34l.2-102l.2 68l.2-68h.5l.2 102l.2 34l.2-136h.3l.2 136l.2-136h.4l.1 34l.2-34l.2 136l.2-68l.2-68h.3l.2 34h.2l.2 68l.2 34l.2-136l.1 34l.2 68h.2l.2 34h.2l.2-136l.1 136l.2-34l.2-102l.2 136l.2-136h.7l.2 136l.2-136l.1 102h.4l.2-102l.2 102h.2l.1 34h.2l.2-102l.2-34l.2 136l.2-136l.1 34l.2-34l.2 102l.2 34h.2l.2-136h.3l.2 136l.2-34l.2 34l.2-136l.1 136l.2-136h.2l.2 68l.2 68h.2l.1-68l.2-68l.2 136l.2-136h.2l.2 34l.1-34h.2l.2 68l.2 68l.2-136l.2 102l.1 34l.2-102l.2 68l.2 34l.2-136l.2 102l.1-102l.2 136h.2l.2-136l.2 136l.2-136l.1 102l.2-102l.2 136h.2l.2-136h.9l.2 136h.2l.1-136l.2 34l.2 68l.2 34h.4l.1-34h.2l.2-34l.2-68h.2l.2 102l.1-102l.2 102h.4l.2-102h.2l.1 102h.2l.2 34h.4l.2-34l.1 34l.2-68h.2l.2 34h.4l.1-34h.6l.2 34l.1-34l.2 34l.2-34h.2l.2-68l.2 34l.1 102l.2-34l.2-68l.2-34h.2l.2 102l.1-102l.2 34l.2-34l.2 34l.2 102l.2-136l.1 136l.2-34l.2-102h.4l.2 102h.3l.2-102l.2 102l.2 34h.3l.2-136l.2 136h.2l.2-136l.2 102l.1-102l.2 140h.4l.2-38h.2l.1 34h.4l.2-136l.2 102l.2-34l.1 68h.2l.2-68l.2 68l.2-136h.3l.2 34l.2-34l.2 68l.2 68h.3l.2-102l.2-34l.2 34l.2 68l.2-34l.1-68l.2 102l.2-34l.2 68l.2-102l.2 102l.1-34l.2-106h.4l.2 4l.2 34l.1-34l.2 102l.2-102h.2l.2 136h.5l.2-136h.6l.1 136l.2-136l.2 68l.2 34l.2-102l.2 102l.1-68l.2-34h.2l.2 102l.2-102l.2 102l.1-102h.2l.2 34l.2-34l.2 102l.1 34l.2-68l.2 34l.2-102l.2 136l.2-102l.1 34l.2 68l.2-136l.2 68l.2 34l.2-102l.1 136l.2-102l.2 102l.2-34h.2l.2-102h.1l.2 136l.2-34l.2-102l.2 136l.2-34l.1-102l.2 136h.2l.2-136l.2 68l.2 68l.1-136l.2 136h.2l.2-68l.2 68l.2-34l.1-102l.2 68l.2-34l.2-34l.2 102l.2-102h.3l.2 136l.2-136l.2 102h.2l.1-68l.2 68l.2-102h.2l.2 102l.2 34l.1-34l.2-102l.2 102h.2l.2 34l.2-34l.1-102l.2 102l.2 34l.2-102l.2-34l.2 102l.1 34l.2-34l.2-102l.2 102l.2 34l.2-136l.1 136l.2-68l.2 34l.2 34l.2-34l.2 34l.1-68l.2 68l.2-136h.4l.2 136l.1-136h.2l.2 136h.6l.1-136l.2 136l.2-68l.2 34l.2-102h.2l.1 102h.8l.1 34l.2-136l.2 68l.2-68l.2 102l.2-102l.1 136l.2-136h.2l.2 136l.2-34l.2 34l.1-136l.2 68l.2 68l.2-102l.2-34l.2 136l.1-136l.2 136l.2-136l.2 102l.2 34l.2-34l.1-34l.2 68l.2-136l.2 102h.2l.2-102h.7l.2 34l.2-37h.3l.2 3l.2 136h.2l.2-102l.1 34h.2l.2-68l.2 136h.4l.1-68l.2 34l.2-102l.2 102l.2 34l.2-136l.1 102h.2l.2 34l.2-136l.2 34l.2 34l.1 34l.2-102l.2 136h.7l.2-34l.2-102h.4l.2 102l.1-102l.2 136l.2-136l.2 136l.2-136l.2 136l.1-34h.2l.2-68l.2 68l.2 34l.2-68l.1-68l.2 102l.2-102l.2 102h.4l.1-102l.2 136l.2-102l.2 34l.2-68l.2 136l.1-136l.2 102l.2-102l.2 136l.2-136l.1 102l.2 34h.4l.2-136l.2 102h.1l.2-102l.2 68l.2-68l.2 136h.3l.2-34h.2l.2-102l.2 102h.2l.1 34l.2-34l.2-34l.2 68l.2-136h.2l.1 68l.2 34l.2-102l.2 136h.2l.2-136h.1l.2 102l.2 34l.2-102l.2 68l.2-102l.1 136l.2-68l.2 68l.2-136h.2l.2 34l.1-34h.4l.2 136l.2-34l.2-102l.1 136l.2-34l.2-102l.2 102l.2-34l.2 68h.1l.2-136h.2l.2 136l.2-136h.2l.1 102l.2-102l.2 136l.2-34l.2-102l.2 68l.1 34h.2l.2 34h.2l.2-34h.2l.1 34l.2-136l.2 136h.2l.2-136l.2 102l.1 34l.2-34l.2 34h.2l.2-136l.2 136l.1-136l.2 102l.2 34l.2-136l.2 68l.2 68l.1-34l.2-68l.2 68l.2 34l.2-34h.3l.2-102h.2l.2 68l.2-68l.2-2h.3l.2 138l.2-68l.2 34l.1 34l.2-136l.2 102l.2-34h.2l.2 34h.1l.2-102l.2 136l.2-136l.2 136l.2-136h.1l.2 34l.2 68h.2l.2-102l.2 102l.1-102h.4l.2 136h.2l.2-136l.1 102l.2 34l.2-136l.2 136l.2-34l.2-34l.1 34l.2-68l.2 102l.2-34l.2 34l.2-136l.1 136h.6l.2-136l.2 102l.1-102h.2l.2 136l.2-102l.2-34l.2 136l.1-136l.2 102h.2l.2-102l.2 136l.2-136l.1 136l.2-68l.2 68l.2-34l.2 34l.2-136h.1l.2 136h.2l.2-136h.7l.2 68l.2 68l.2-136l.2 68l.1 34l.2 34h.2l.2-34l.2-102l.2 34l.1-34l.2 102l.2-102l.2 136h.2l.2-68l.1 68l.2-136l.2 136l.2-34l.2-102l.2 102l.1-34l.2-68l.2 159h.4l.2-159l.1 102l.2-102l.2 34l.2 68l.2-102l.1 136l.2-136l.2 136l.2-136l.2 102l.2-102l.1 136h.6l.2-34l.2 34h.1l.2-136h.2l.2 102l.2 34h.2l.1-136l.2 102l.2-68l.2-34l.2 34l.2-34l.1 68l.2 34h.2l.2-102h.2l.2 102l.1 34l.2-136l.2 136l.2-136l.2 136l.2-102l.1 68l.2 34h.2l.2-34h.7l.2 34l.2-136h.2l.2 102h.1l.2 34h.4l.2-34l.2-34l.1 34l.2-34h.2l.2-68l.2 68l.2 68l.1-34h.2l.2-34l.2 34h.2l.2-102h.3l.2 136l.2-136l.2 102h.2l.1 34l.2-136l.2 136l.2-136l.2 102l.2-102l.1 136h.2l.2-34l.2-68l.2-34l.2 136l.1-102l.2 68l.2 34l.2-34l.2 34l.2-136l.1 136l.2-68l.2 68l.2-136h.2l.2 136h.1l.2-136l.2 136h.2l.2-102l.1 102h.2l.2-102l.2-34l.2 136l.2-136l.1 34l.2-34l.2 102h.2l.2-34l.2 68l.1-34l.2 34l.2-136l.2 102l.2 34l.2-136l.1 136h.2l.2-34l.2-68l.2 34l.2-68l.1 102l.2-102l.2 34l.2 102l.2-136l.2 136l.1-34l.2-68l.2-34l.2 102l.2 34l.2-136h.1l.2 102h.2l.2-102l.2 68l.2-68l.1 136l.2-136l.2 136l.2-34l.2-102l.2 68l.1-68l.2 34l.2-34l.2 136l.2-34l.2 34h.1l.2-34l.2-102h.2l.2 68l.2 68l.1-34h.2l.2 34l.2-34h.2l.2-102l.1 102l.2-102l.2 102l.2-102l.2 136l.2-102l.1 102h.2l.2-136l.2 68l.2 34l.2 34l.1-136h.2l.2 136l.2-34h.2l.2 34l.1-102l.2-34h.2l.2 102l.2 34l.2-34l.1-102h.8l.2 136l.1-136h.2l.2 102l.2 34l.2-136h.2l.1 68l.2 68l.2-34h.2l.2-102h.1l.2 102h.2l.2-68h.2l.2-34l.1 136l.2-34l.2-102l.2 68l.2 34l.2 34h.3l.2-34l.2-34l.2-68h.2l.1 34l.2 102l.2-34h.2l.2 34l.2-34l.1-102h.2l.2 136l.2-136l.2 136h1.1l.2-136h.1l.2 68l.2 68h.4l.2-136l.1 102l.2 34l.2-68l.2 68l.2-102l.2 68l.1-68l.2-34l.2 102l.2 34l.2-34l.2-34l.1 68l.2-136h.2l.2 68l.2-68h.2l.1 34l.2 68h.2l.2-68l.2 102l.2-136l.1 102l.2-34l.2-34l.2-34h.2l.2 102l.1-34l.2 68l.2-136l.2 34l.2 102l.2-136h.5l.2 34l.2-34h.2l.1 102l.2-102h.2l.2 102h.2l.2-34l.1 68l.2-136l.2 136l.2-136l.2 102l.2 34l.1-136h.2l.2 102l.2-102l.2 136l.1-34h.2l.2-68l.2 68l.2-68l.2-34l.1 102l.2-102l.2 68l.2 34h.2l.2-102h.1l.2 102h.2l.2-68l.2-34h.5l.2 136l.2-34l.2 34h.2l.1-34l.2-34l.2-68h.2l.2 136l.2-136h.1l.2 34l.2-34h.2l.2 68l.2 68h.1l.2-102l.2-34l.2 102h.2l.2-102h.3l.2 34l.2-34l.2 102h.2l.1-68h.2l.2 102l.2-34l.2-68l.2-34h.1l.2 34l.2 34l.2-68h.7l.2 136l.2-102l.2 68h.2l.1-102h.2l.2 136l.2-102l.2-34l.2 68l.1 34l.2 34l.2-136h.2l.2 34l.2 102h.1l.2 33h.4l.2-67l.2-68l.1-34h.4l.2 102l.2-68l.2-34h.1l.2 136l.2-102l.2 68l.2 34h.2l.1-136l.2 34l.2-34l.2 68l.2-34l.1 68l.2 34h.2l.2-136l.2 102l.2 34h.7l.2-136h.2l.1 102l.2-102l.2 136l.2-136l.2 136l.2-68l.1 34l.2 34l.2-102l.2 102l.2-136h.3l.2 136h.2l.2-34l.2-102h.5l.2 102h.2l.2-102l.2 34l.1-34l.2 136l.2-34l.2 34h.2l.2-34l.1-102h.4l.2 34l.2 34l.2 68l.1-136l.2 102l.2-102l.2 68l.2 34l.2-102l.1 136l.2-34l.2 34l.2-34l.2-102h.7l.2 136h.2l.2-136l.1 136h.4l.2-102l.2 68l.2 34h.1l.2-136l.2 102l.2 34l.2-68l.2 34l.1 34h.2l.2-136h.2l.2 136h.3l.2-34l.2-102l.2 68l.2 68l.2-136l.1 136l.2-34l.2-102l.2 34l.2 68l.2-34l.1-34l.2 102l.2-136l.2 102l.2-102l.1 102l.2-102l.2 102l.2-102l.2 102l.2-102h.1l.2 136l.2-68l.2-34l.2 68h.3l.2-102l.2 102h.2l.2-34l.2-34l.1-34h.2l.2 34l.2-34l.2 102h.3l.2-102h.2l.2 102l.2 34l.2-34l.1-34l.2 34h.2l.2 34h.2l.2-136h.1l.2 102l.2 34l.2-68l.2 68l.2-136l.1 102l.2-34l.2 68l.2-136l.2 136h.3l.2-68l.2 68l.2-102l.2-34l.2 136h.3l.2-68l.2-68l.2 68l.2 68l.1-34l.2 34h.2l.2-136l.2 136h.2l.1-136h.2l.2 102h.2l.2 34l.2-102l.1 68l.2 34l.2-68l.2-34l.2 102h.3l.2-102h.2l.2 34l.2 68h.5l.2-34h.2l.2-68l.2 102h.1l.2-102l.2 102l.2-68h.4l.1-34l.2 68l.2 34h.2l.2-136l.2 102l.1 34l.2-34l.2 34l.2-136l.2 136l.1-102l.2-34l.2 136l.2-136l.2 102l.2-102l.1 102h.2l.2-102h.2l.2 136l.2-34h.7l.2-102l.2 136l.1-68l.2-68l.2 136l.2-136h.2l.2 136l.1-102l.2 34l.2-68h.2l.2 136l.2-136l.1 102l.2 34h.4l.2-34l.2-68l.1 102h.2l.2-34h.4l.2 34h.1l.2-34l.2 34l.2-34l.2-102l.2 136l.1-136l.2 34l.2 102l.2-68l.2 68h.3l.2-68l.2 68l.2-34h.2l.2-68h.5l.2 68l.2 34l.2-102l.1 102l.2-102h.2l.2 102l.2-34l.2-34l.1 34l.2-68l.2 102l.2-68l.2 68l.2-34l.1-68h.2l.2 102l.2-102l.2 102l.2-102l.1 68l.2 34l.2-102l.2 102l.2-136h.3l.2 102l.2 34l.2-136h.5l.2 34l.2 102l.2-136h.2l.1 136h.4l.2-136l.2 34l.2 102l.1-68l.2 34l.2-102l.2 34l.2 68l.2 34h.1l.2-136l.2 34l.2 102l.2-136l.2 136l.1-136l.2 136l.2-136l.2 136h.2l.2-34l.1-102h.4l.2 136l.2-136l.2 136h.1l.2-136l.2 68l.2-34h.2l.2 102h.1l.2-136l.2 102l.2-102h.2l.2 102l.1-102l.2 68l.2-68l.2 102l.2-102l.2 68l.1 34l.2 34l.2-136l.2 102l.2 34h.2l.1-136l.2 136l.2-136l.2 102h.2l.2-102l.1 68l.2 68l.2-68l.2 68l.2-68l.2 34h.1l.2-102l.2 102h.2l.2-102h.2l.1 68l.2-68l.2 102l.2-102l.2 102l.2-102l.1 102l.2-68l.2 68l.2-34l.2-68l.2 102l.1-34l.2 34l.2-102h.2l.2 102l.2-102h.1l.2 34l.2-34h.6l.1 136h.2l.2-136h.2l.2 136l.1-34h.2l.2-102l.2 102l.2-102h.2l.1 102l.2-102h.2l.2 136l.2-34l.2 34l.1-136l.2 136l.2-136l.2 102l.2-68l.2 68l.1-102h.4l.2 102l.2 34l.2-136l.1 136l.2-102l.2 102l.2-136h.4l.1 68l.2 68h.2l.2-136l.2 136l.2-136l.1 136l.2-68l.2-34l.2 102h.4l.1-102l.2 68l.2 34h.4l.2-102l.1 68l.2-68l.2 102l.2-34l.2-34l.2-34l.1 102l.2-102l.2 102h.7l.2-136l.2 136l.2-136l.2 102l.2 34l.1-34l.2-34l.2-68l.2 102l.2 34h.2l.1-34l.2-34l.2-68l.2 136h.2l.2-34l.1-102l.2 102h.2l.2-102l.2 136h.3l.2-136l.2 136l.2-34h.5l.2-102l.2 102l.2 34l.2-136h.2l.1 136l.2-68l.2 68l.2-34l.2-68l.2 68h.1l.2 34h.6l.1-102h.2l.2 102h.2l.2-102h.2l.1 102l.2-102h.2l.2 68l.2 34h.5l.2-34l.2-34l.2 34l.2 34l.1-136l.2 102l.2-102l.2 102l.2 34l.2-136l.1 136l.2-136l.2 136l.2-136l.2 102l.2-102l.1 136l.2-136l.2 136l.2-102l.2 68l.2 34l.1-136l.2 136h.2l.2-136h.2l.2 136h.1l.2-34l.2 34l.2-34l.2-102h.2l.1 34l.2 102l.2-68l.2-68h.7l.2 136h.2l.2-136l.2 68l.1-68l.2 136l.2-68l.2 34l.2-102l.2 136l.1-34l.2-102l.2 136l.2-34h.4l.1-102l.2 102l.2-102l.2 68l.2 68l.2-136l.1 102l.2 34l.2-34l.2-102h.2l.2 34l.1 102l.2-34l.2-102l.2 136h.2l.2-34h.1l.2 34h.4l.2-34l.2 34h.1l.2-34h.4l.2-34l.1 68h.2l.2-34h.2l.2-102l.2 136l.1-136l.2 136l.2-68l.2-68h.2l.2 136l.1-136l.2 136l.2-34l.2-102h.2l.2 102l.1 34l.2-34h.2l.2-102l.2 136l.2-136h.1l.2 136l.2-136h.2l.2 102h.3l.2-34l.2-34l.2 68l.2-102l.2 102l.1-102l.2 68l.2 68h.2l.2-68l.2-68l.1 136l.2-136l.2 136l.2-136l.2 136l.2-102l.1-34l.2 136l.2-34l.2 34l.2-136l.2 102l.1-102l.2 102l.2-102l.2 34l.2 68l.2-102h.1l.2 102l.2 34l.2-136l.2 136l.2-34l.1-102l.2 136l.2-34l.2 34h.2l.2-102l.1 102h.2l.2-136l.2 136l.2-136l.2 34l.1-34l.2 102l.2-68l.2-34l.2 68l.2 98h.3l.2-64l.2-102l.2 34l.2-34l.1 34l.2 68l.2-102l.2 136l.2-34h.2l.1 34h.2l.2-34l.2-102h.2l.1 136l.2-136h.4l.2 136l.2-136l.1 136l.2-34h.4l.2-34l.2-68l.1 136h.4l.2-34l.2-102l.2 34l.1 68l.2-102h.4l.2 136l.2-136l.1 136l.2-136h.2l.2 102l.2-68l.2 68l.1-102h.2l.2 102l.2 34l.2-68l.2 68l.1-68l.2 34l.2-34l.2 68l.2-34l.2-102l.1 136h.6l.2-136l.2 136l.1-136h.2l.2 68l.2-68l.2 136h.2l.1-34l.2 34l.2-136l.2 102l.2-102l.2 68h.1l.2 68l.2-136l.2 136l.2-102l.2-34h.1l.2 136l.2-136h.4l.2 34l.1-34h.2l.2 177h.4l.2-41l.1-136l.2 102l.2-34l.2 68h.2l.2-34l.1-68l.2-34h.2l.2 68l.2-68l.2 136l.1-68h.2l.2-68l.2 68l.2 68l.2-136h.1l.2 34l.2-34h.2l.2 102h.2l.1 34l.2-68l.2 68l.2-34l.2-102l.1 102h.2l.2 34l.2 5h.4l.1-73l.2 68l.2-68l.2 34h.4l.1 34h.2l.2-68l.2 34h.2l.2-102l.1 136h.4l.2-136l.2 136h.2l.1-68l.2 34l.2-102h.2l.2 102h.2l.1-102l.2 102l.2-102h.2l.2 136h.5l.2-136l.2 136h.2l.2-34l.1-102l.2 102h.2l.2 34l.2-136l.2 34l.1 68l.2 34h.4l.2-136l.2 136l.1-136h.2l.2 136h.6l.1-102l.2 34l.2 34l.2-102h.2l.2 34l.1-34h.2l.2 68l.2-68l.2 68l.2 34l.1-102h.2l.2 136h.9l.2-136l.2 102h.2l.2-102l.1 136h.2l.2-136l.2 102l.2 34l.2-136l.1 102l.2 34h.2l.2-34l.2 34h.2l.1-102l.2 34l.2 68h.2l.2-34l.1 34h.2l.2-102l.2 102l.2-102l.2-34h.1l.2 136l.2-136h.2l.2 136h.2l.1-136h.2l.2 136l.2-136l.2 34l.2-34h.1l.2 136l.2-136h.2l.2 102l.2-68l.1-34h.2l.2 136l.2-136l.2 68l.2-68h.1l.2 68l.2-68l.2 136l.2-102l.2 102l.1-136h.2l.2 68l.2 68l.2-136h.2l.1 136h.4l.2-136h.2l.2 136l.1-136l.2 102l.2-102l.2 136h.4l.1-102l.2-34l.2 136l.2-102l.2 34h.2l.1 34h.2l.2-102l.2 102l.2-68l.2 68h.3l.2-34l.2 34h.2l.2-102l.1 102h.2l.2-34l.2-68h.4l.1 102l.2-102l.2 102l.2-102l.2 68l.2-34l.1-34l.2 102l.2-102h.2l.2 102l.2 34l.1-136l.2 68l.2 68l.2-136h.2l.2 34l.1 68h.2l.2-102h.2l.2 34l.1 68l.2-102h.2l.2 102l.2 34l.2-136h.1l.2 34l.2-34l.2 136l.2-136l.2 68l.1-34l.2 102h.4l.2-136h.5l.2 136l.2-136l.2 102h.2l.1 34l.2-34l.2-102l.2 68l.2-68l.2 136l.1-34l.2 34h.2l.2-136l.2 34l.2 68l.1-102h.6l.2 102l.2-34l.1-68h.2l.2 102h.2l.2-102l.2 34l.1-34l.2 136l.2-136h.2l.2 102l.2-102l.1 136h.4l.2-34l.2 34h.2l.1-136l.2 136l.2-34l.2-102l.2 136l.2-136l.1 136l.2-34l.2-102l.2 136l.2-136l.2 102l.1-102h.2l.2 136h.2l.2-136l.2 136l.1-34l.2-68l.2-34l.2 68l.2 68l.2-34l.1-68l.2 34l.2 68l.2-34l.2 34l.2-136l.1 102l.2-102h.2l.2 136l.2-136l.2 102h.1l.2-102h.4l.2 102l.2-68l.1 68l.2-102h.2l.2 136h.2l.1-102l.2-34l.2 136l.2-136h.4l.1 136l.2-136l.2 136h.2l.2-102l.2-34l.1 102l.2 34h.2l.2-102l.2 68l.2 34l.1-136h.2l.2 102l.2-102h.2l.2 136l.1-136l.2 34l.2-34l.2 102l.2-68l.2-34l.1 136h.2l.2-136l.2 136l.2-34l.2 34h.5l.2-102l.2 68l.2-34l.1-68l.2 102l.2-102h.4l.2 34l.1 102l.2-34l.2-102h.2l.2 102l.2-102l.1 102l.2-102h.4l.2 136l.2-136h.1l.2 102l.2-102l.2 68l.2-68h.2l.1 102h.2l.2-102h.4l.2 136l.1-136h.4l.2 102l.2-102l.2 136h.1l.2-136l.2 136l.2-102l.2-34l.2 136l.1-136l.2 136h.2l.2-136l.2 136l.2-136l.1 34l.2-34l.2 136h.4l.2-68l.1 34l.2-102l.2 102h.2l.2-34l.1-68l.2 102l.2-102h.2l.2 136l.2-136l.1 68l.2 34l.2-68l.2 102l.2-136h.3l.2 136l.2-34l.2-102h.2l.2 136l.1-136h.2l.2 102h.2l.2-102l.2 68l.1 68l.2-34h.2l.2-102l.2 136l.2-136h.3l.2 136l.2-136l.2 68l.2 68l.1-102l.2-34l.2 102l.2-102l.2 102l.2 34l.1-102l.2 68h.2l.2 34l.2-136" stroke="#00f" stroke-dasharray="12 11.6" stroke-linejoin="bevel"/>
</g>
<g font-size="23.1" fill="#000">
<g text-anchor="middle">
<text x="79.3" y="542.2">0</text>
<text x="170.9" y="542.2">500</text>
<text x="262.5" y="542.2">1000</text>
<text x="354.1" y="542.2">1500</text>
<text x="445.6" y="542.2">2000</text>
<text x="537.2" y="542.2">2500</text>
<text x="628.8" y="542.2">3000</text>
<text x="720.4" y="542.2">3500</text>
</g><g text-anchor="end">
<text x="70.1" y="519.8">0</text>
<text x="70.1" y="452.2">2</text>
<text x="70.1" y="384.7">4</text>
<text x="70.1" y="317.1">6</text>
</g></g>
<g font-size="26" fill="#000" text-anchor="middle">
<text x="399.5" y="575.8">Data samples</text>
<text transform="translate(24.7 413) rotate(-90)">DC Value</text>
</g>
<rect x="547.9" y="315.5" width="156.8" height="57.3" fill="#fff" stroke="#1c1c1c" stroke-width="1.6"/>
<path d="M553.6 331.3h59.3" stroke="#f00" stroke-width="4.5" fill="none"/>
<path d="M553.6 357.5h59.3" stroke="#00f" stroke-width="4.5" stroke-dasharray="12 11.7" fill="none"/>
<g font-size="21" fill="#000"><text x="617.4" y="339">Actual</text><text x="617.4" y="365">Predicted</text></g>
<clipPath id="c3"><rect x="883.1" y="301.6" width="646" height="212.8"/></clipPath>
<path d="M885.4 303.9H1526.8V512.1H885.4ZM885.4 512.1v-7.2 M885.4 303.9v7.2M992.3 512.1v-7.2 M992.3 303.9v7.2M1099.2 512.1v-7.2 M1099.2 303.9v7.2M1206.1 512.1v-7.2 M1206.1 303.9v7.2M1313 512.1v-7.2 M1313 303.9v7.2M1419.9 512.1v-7.2 M1419.9 303.9v7.2M1526.8 512.1v-7.2 M1526.8 303.9v7.2M885.4 488.5h7.2 M1526.8 488.5h-7.2M885.4 442.3h7.2 M1526.8 442.3h-7.2M885.4 396.2h7.2 M1526.8 396.2h-7.2M885.4 350h7.2 M1526.8 350h-7.2M885.4 303.9h7.2 M1526.8 303.9h-7.2" fill="none" stroke="#111" stroke-width="1.4"/>
<g clip-path="url(#c3)" fill="none" stroke-width="4.5">
<path d="M885.9 340.8h1.1l.5 36.9l.6-36.9l.5 36.9l.5-9.2h.6l.5-27.7l.5 36.9l.6-36.9l.5 27.7l.5 9.2l.6-9.2h.5l.6 9.2l.5-9.2h.5l.6 9.2l.5-36.9l.5 27.7h.6l.5 9.2h.5l.6-36.9h2.1l.5 27.7l.6 9.2h1.6l.5-9.2l.5 9.2l.6-9.2l.5-27.7l.5 36.9h.6l.5-27.7l.5 18.5l.6-9.2l.5 9.2l.6 9.2l.5-9.2l.5 9.2l.6-36.9l.5 27.7l.5 9.2l.6-9.2l.5 9.2l.5-9.2l.6 9.2l.5-9.2l.5 9.2l.6-9.2l.5 9.2h.5l.6-9.2h1l.6 9.2l.5-27.7l.5 27.7l.6-36.9h.5l.5 18.5l.6-9.3l.5 27.7l.5-27.7l.6 27.7l.5-27.7l.6 18.5l.5 9.2h.5l.6-9.2h4.2l.6 9.2l.5-36.9l.5 36.9h.6l.5-36.9l.5 27.7l.6-27.7l.5 9.2l.5 18.5l.6 9.2h2.1l.5-36.9h.6l.5 18.5l.6 9.2l.5 9.2h.5l.6-9.2l.5 9.2l.5-9.2h.6l.5-27.7h.5l.6 36.9h.5l.5-27.7l.6 27.7h1.6l.5-36.9l.5 9.2l.6-9.2h.5l.5 36.9l.6-36.9l.5 18.5l.5-9.3l.6 27.7l.5-9.2l.6 9.2h.5l.5-9.2l.6 9.2h.5l.5-9.2l.6 9.2l.5-18.4l.5-18.5h.6l.5 36.9l.5-36.9l.6 9.2l.5-9.2l.5 27.7l.6-27.7l.5 27.7l.5 9.2h.6l.5-36.9h1.1l.5 36.9h.5l.6-9.2l.5 9.2h.5l.6-9.2h1.6l.5 9.2h.6l.5-9.2h1.1l.5-27.7l.5 36.9h.6l.5-9.2h1.1l.5 9.2l.5-9.2l.6 9.2l.5-27.7l.5-9.2l.6 27.7l.5-18.5h.5l.6-9.2h1l.6 27.7l.5-27.7l.5 36.9l.6-9.2l.5-27.7l.6 27.7l.5-27.7h.5l.6 36.9h1l.6-36.9l.5 27.7h1.1l.5 9.2l.5-18.4l.6 18.4l.5-27.7l.5 27.7h.6l.5-9.2l.5 9.2h1.6l.6-9.2l.5 9.2h.5l.6-9.2l.5 9.2l.5-9.2l.6-27.7h.5l.6 27.7l.5 9.2l.5-27.7l.6-9.2h1l.6 18.5l.5 9.2l.5 9.2h.6l.5-18.4l.5 9.2l.6 9.2l.5-36.9l.5 27.7l.6 9.2l.5-9.2l.5-27.7h1.1l.5 27.7l.6-9.2l.5 18.4l.5-36.9l.6 9.2l.5 18.5l.5-18.5l.6 18.5l.5-27.7l.6 27.7h1l.6 9.2h1.6l.5-9.2l.5-27.7l.6 36.9l.5-27.7l.5 27.7l.6-36.9h.5l.5 36.9l.6-36.9l.5 36.9l.5-9.2l.6-27.7h.5l.5 36.9l.6-18.4l.5-18.5l.5 18.5l.6 18.4h.5l.5-36.9h1.1l.6 36.9l.5-36.9l.5 9.2l.6-9.2l.5 36.9l.5-9.2h1.6l.6-27.7l.5 18.5l.5-18.5h.6l.5 27.7l.5-27.7l.6 36.9l.5-36.9l.5 36.9l.6-9.2l.5-18.5l.5 27.7l.6-27.7l.5 18.5l.5-9.2l.6 18.4l.5-36.9h.6l.5 36.9l.5-36.9h.6l.5 27.7h.5l.6-27.7l.5 36.9h1.6l.5-36.9h.6l.5 18.5l.5 9.2h2.2l.5 9.2l.5-9.2l.6 9.2h.5l.5-9.2h.6l.5 9.2h1.6l.6-9.2l.5 9.2l.5-36.9l.6 36.9l.5-36.9h1.1l.5 18.5l.5-18.5l.6 36.9l.5-36.9l.5 27.7l.6 9.2l.5-36.9h.5l.6 9.2l.5 27.7l.5-36.9h.6l.5 9.2l.5 18.5h1.1l.5 9.2l.6-9.2h.5l.5 9.2l.6-9.2h3.7l.6-27.7l.5 27.7l.5-27.7l.6 27.7l.5 9.2l.5-36.9h1.1l.5 36.9l.6-18.4l.5 9.2l.5 9.2l.6-36.9l.5 9.2l.5-9.2h.6l.5 27.7l.5-18.5l.6 37l.5-9.3h1.6l.6-9.2h.5l.5 9.2h.6l.5-9.2h1.6l.5 9.2h1.1l.5-36.9l.6 36.9l.5-36.9h1.6l.5 27.7l.6-27.7l.5 36.9l.5-36.9h.6l.5 36.9l.5-9.2l.6-27.7l.5 36.9h1.6l.6-18.4l.5 18.4l.5-36.9l.6 27.7l.5 9.2l.5-36.9h.6l.5 27.7l.5 9.2h1.1l.5-9.2l.6-27.7h1l.6 36.9l.5-36.9h.5l.6 27.7l.5 9.2l.5-27.7l.6-9.2h.5l.5 36.9l.6-36.9h1l.6 27.7l.5 9.2h1.1l.5-36.9l.6 9.2l.5-9.2l.5 36.9h.6l.5-9.2h.5l.6 9.2l.5-9.2h1.1l.5 9.2h.5l.6-36.9l.5 9.2l.5 18.5h.6l.5-9.2l.5 9.2l.6 9.2l.5-36.9l.5 18.5l.6-9.3l.5-9.2h1.6l.6 27.7h1l.6-27.7h1.6l.5 18.5l.5 18.4l.6-18.4l.5 18.4l.5-9.2l.6 9.2l.5-18.4l.5-18.5h.6l.5 27.7h1.1l.5 9.2l.5-9.2h1.6l.6 9.2l.5-9.2h1.6l.6 9.2l.5-36.9l.5 27.7l.6-27.7h.5l.5 18.5l.6-18.5l.5 18.5l.5-18.5l.6 27.7h1.6l.5 9.2l.5-9.2l.6 9.2h.5l.5-9.2h.6l.5-18.5l.5 9.3l.6 18.4l.5-36.9l.5 9.2l.6 27.7l.5-27.7l.6 18.5l.5-18.5l.5 9.3l.6 9.2h1l.6-27.7h.5l.5 36.9h.6l.5-9.2h2.1l.6-27.7h.5l.5 36.9l.6-36.9l.5 36.9h.5l.6-36.9l.5 9.2h.5l.6-9.2h1l.6 36.9h1.1l.5-36.9l.5 9.2l.6 18.5l.5-18.5l.5 27.7l.6-9.2h.5l.5-27.7l.6 36.9l.5-36.9l.5 36.9h1.1l.5-9.2h1.6l.6 9.2h.5l.5-9.2l.6 9.2l.5-9.2l.5 9.2h.6l.5-9.2l.5 9.2l.6-9.2l.5-27.7l.6 36.9l.5-9.2l.5-27.7l.6 36.9h1l.6-18.4l.5-9.3l.5-9.2l.6 36.9h.5l.5-9.2h1.1l.5-27.7l.6 27.7l.5-27.7h.5l.6 27.7l.5 9.2l.5-36.9l.6 36.9h1.6l.5-36.9l.5 36.9l.6-9.2l.5-18.5l.6-9.2l.5 36.9l.5-27.7l.6-9.2l.5 36.9l.5-18.4l.6 9.2l.5 9.2h.5l.6-9.2h2.1l.5 9.2l.6-9.2h1l.6 9.2l.5-36.9h1.1l.5 9.2l.5-9.2l.6 36.9l.5-9.2h1.6l.6-27.7h.5l.5 18.5l.6 9.2h.5l.5 9.2l.6-9.2h1l.6-18.5l.5-9.2l.5 9.2l.6-9.2l.5 18.5l.5 18.4l.6-36.9l.5 18.5l.5 9.2l.6 9.2l.5-36.9l.5 9.2h.6l.5 27.7l.5-9.2l.6-27.7l.5 36.9h.5l.6-36.9l.5 36.9l.6-36.9h.5l.5 9.2l.6 9.3l.5-9.3l.5 27.7l.6-36.9l.5 9.2l.5 18.5l.6-27.7l.5 9.2l.5-9.2l.6 27.7l.5 9.2l.5-9.2h.6l.5 9.2l.5-9.2l.6 9.2h.5l.5-36.9l.6 36.9l.5-36.9l.5 18.5l.6 18.4l.5-9.2l.6 9.2h.5l.5-9.2l.6-27.7l.5 27.7l.5-27.7h.6l.5 27.7l.5-27.7l.6 27.7h.5l.5 9.2l.6-36.9l.5 36.9l.5-36.9h.6l.5 9.2l.5-9.2l.6 36.9l.5-36.9h.5l.6 36.9l.5-36.9l.5 27.7l.6 9.2l.5-9.2h1.1l.5 9.2h1.1l.5-9.2h.6l.5 9.2h.5l.6-27.7l.5 18.5l.5-27.7l.6 9.2l.5-9.2h2.1l.6 27.7l.5 9.2h1.1l.5-27.7l.5-9.2l.6 27.7l.5-27.7h1.1l.5 36.9h.5l.6-27.7l.5 18.5l.6 9.2h.5l.5-9.2h.6l.5 9.2l.5-9.2l.6 9.2h2.6l.6-9.2h.5l.5 9.2l.6-9.2l.5-9.2l.5 18.4h.6l.5-36.9l.5 36.9l.6-9.2h.5l.5 9.2h.6l.5-9.2l.5-27.7h1.1l.6 36.9h.5l.5-9.2l.6 18.5l.5-9.3l.5-9.2h.6l.5 9.2l.5-9.2l.6 9.2l.5-36.9l.5 27.7l.6-27.7l.5 18.5l.5-18.5h1.6l.6 27.7l.5 9.2l.5-9.2l.6 9.2h1l.6-9.2h1l.6-27.7h1.1l.5 18.5l.5-18.5l.6 36.9l.5-9.2l.5-9.2l.6 18.4l.5-36.9l.5 27.7l.6 9.2l.5-27.7l.5-9.2l.6 36.9l.5-18.4l.5 9.2l.6-27.7l.5 27.7l.5 9.2l.6-36.9l.5 18.5h1.1l.5 9.2l.5-27.7l.6 27.7l.5 9.2l.5-9.2h.6l.5 9.2l.6-9.2h.5l.5 9.2l.6-36.9h.5l.5 9.2l.6-9.2l.5 36.9l.5-9.2h2.7l.5 9.2h.6l.5-9.2h.5l.6-27.7l.5 36.9l.5-9.2l.6 9.2l.5-36.9h1.1l.5 36.9l.5-9.2h2.7l.6-27.7h1l.6 9.2l.5-9.2l.5 36.9l.6-9.2l.5 9.2l.5-27.7l.6 9.3l.5 18.4l.5-36.9h.6l.5 36.9l.5-36.9l.6 27.7l.5-27.7l.5 9.2l.6 9.3l.5 9.2l.5-27.7l.6 9.2l.5-9.2h.5l.6 36.9l.5-9.2h2.7l.5 9.2l.6-9.2l.5 9.2h1.1l.5-9.2l.5 9.2h.6l.5-9.2l.5-27.7l.6 36.9l.5-27.7l.5 18.5l.6-27.7h.5l.5 27.7h.6l.5 9.2h1.1l.5-9.2h.6l.5 9.2h1.1l.5-9.2l.5 9.2l.6-9.2l.5 9.2l.5-9.2l.6 9.2l.5-9.2h.5l.6-27.7l.5 27.7l.5-27.7l.6 27.7l.5-27.7l.5 18.5h.6l.5-18.5l.5 36.9h.6l.5-9.2l.5 9.2h.6l.5-9.2h1.1l.5 9.2l.6-36.9h.5l.5 27.7h.6l.5-27.7l.5 27.7l.6 9.2l.5-36.9l.5 27.7l.6 9.2l.5-36.9l.5 36.9l.6-36.9l.5 46.2l.5-18.5l.6-27.7l.5 9.2l.5 27.7l.6-36.9l.5 27.7l.5 9.2l.6-9.2l.5-18.5l.5-9.2l.6 9.2l.5 9.3l.5-18.5h.6l.5 18.5l.6 9.2h1l.6 9.2l.5-9.2h1.1l.5 9.2h.5l.6-9.2l.5 9.2l.5-9.2h.6l.5-18.5l.5 27.7l.6-9.2l.5-9.2l.5 18.4l.6-27.7l.5 27.7l.5-9.2l.6 9.2l.5-27.7l.5 27.7h.6l.5-36.9l.5 27.7l.6-9.2l.5 18.4h.6l.5-36.9l.5 27.7l.6-9.2l.5 18.4h.5l.6-27.7l.5-9.2h1.1l.5 27.7h3.2l.5 9.2h.6l.5-9.2l.5 9.2l.6-9.2l.5 9.2h.5l.6-9.2h.5l.5-18.5l.6-9.2h1.6l.5 36.9l.6-36.9l.5 27.7l.5-18.5l.6 18.5h.5l.5-9.2l.6-18.5l.5 27.7l.5-27.7h1.1l.5 27.7h.6l.5-27.7l.5 27.7l.6 9.2l.5-36.9l.5 27.7l.6-27.7h1.6l.5 18.5l.5-18.5l.6 36.9h.5l.6-9.2h.5l.5 9.2l.6-9.2h2.1l.5-18.5l.6 18.5" stroke="#f00" stroke-linejoin="round"/>
<path d="M885.9 341.1l.6 .1l.5-.9l.5 38l.6-37.3l.5 37.2l.5-9.2l.6-1l.5-28.1l.5 38.1l.6-37.3l.5 27.1l.5 9.3l.6-8.2l.5-1l.6 9.8l.5-8.3l.5-.6l.6 9.6l.5-38l.5 27.5l.6-.1l.5 10.1l.5 .2l.6-37.1l.5 36.7l.5-36.4l.6-.7l.5-.5l.5 29.7l.6 7.3h.5l.5 1.6l.6-4.1l.5-6.7l.5 9.6l.6-7.9l.5-28.9l.5 37l.6-.4l.5-26.9l.5 18.9h.6l.5-10.2l.6 19.2l.5-10l.5 8.2l.6-34.5l.5 26.7l.5 7.4l.6-7.9l.5 8.2l.5-8l.6 8.2l.5-8.9l.5-18.5l.6 20.1l.5 7.4l.5 1l.6-8.9l.5-28.6l.5 19.5l.6 18.9l.5-28.6l.5 27l.6-35.9l.5-.8l.5 17.9l.6-8.1l.5 27.7l.5-27.2l.6 27.5l.5-28l.6 20.2l.5 7.3l.5-1.2l.6-8l.5 .1l.5 .5l.6-1l.5 .7l.5-1.6l.6 1h.5l.5 .1l.6 9.8l.5-26.1l.5 26.2l.6-.9l.5-35l.5 26l.6-27.7l.5 9.1l.5 18.8l.6 9.1l.5 .5l.5-1.1l.6 1.8l.5-.1l.5-37.1l.6 9.2l.5 17.3l.6 .7l.5 8.4l.5 1.6l.6-9.9l.5-18.2l.5 27.1l.6-9.3l.5-27.7l.5 .6l.6 35.5l.5 1.2l.5-28.5l.6 27l.5 .3l.5 1.9l.6-2.3l.5-35.4l.5 8.5l.6-8.8l.5 .1l.5 36.9l.6-37.3l.5 18.2l.5-7.9l.6 28.3l.5-10.1l.6 9.8l.5-.3l.5-10.7l.6 9.6l.5 1l.5-9.3l.6 9.2l.5-18.6l.5-18.6l.6-.2l.5 36.3l.5-17.6l.6 19.6l.5-38.3l.5 27.9l.6-27.5l.5 8.3l.5 29.7l.6-.6l.5-37.1l.5-1.8l.6 38.8l.5-.4l.5-.6l.6-9l.5-16.8l.5 26l.6-8.8l.5-9.9l.6 8.9l.5 .5l.5 9.9l.6 1.3l.5-11.2l.5-.2l.6 .1l.5-26.2l.5 36.2l.6 .8l.5-10.6l.5 .6l.6-.8l.5 9.9l.5-8.6l.6 9.2l.5-29.2l.5 27.7l.6-8.4l.5 10l.5-28.1l.6-10.2l.5 .6l.5 .3l.6 26.4l.5-27.2l.5 37.8l.6-8.8l.5-30l.6 28.4l.5-26.6l.5-.8l.6 37.3l.5 .9l.5-1.1l.6-36.6l.5 27.2l.5 .8l.6-.9l.5 .1l.5-9.5l.6 19.3l.5-29.1l.5 28.8l.6-1.8l.5-7.8l.5 9.4l.6 .6l.5-10.6l.5 8.7l.6-8.3l.5 9.8l.5-.2l.6-10.3l.5 10.6l.5-9.5l.6-27.3l.5-.8l.6 27.8l.5 9.3l.5-27.6l.6-8.9l.5-.5l.5 .5l.6 19.5l.5-11.1l.5 29l.6-1.3l.5-18.1l.5 9l.6 9.8l.5-35.5l.5-1.3l.6 37.9l.5-11.2l.5-8.8l.6-16.7l.5-1.8l.5 28.2l.6-7.5l.5 17.2l.5-37l.6 8.5l.5 18.7l.5-16.9l.6 16.2l.5-26.5l.6 26.9l.5 .9l.5-1.1l.6 9.8l.5 .8h.5l.6-29l.5 18.6l.5-27l.6 36.1l.5-28.3l.5 28.9l.6-36.1l.5-1.9l.5 38.2l.6-37.1l.5 37.8l.5 132.7l.6-170.9l.5 .7l.5 36.2l.6-17.9l.5-18.3l.5 19.2l.6 16.5l.5 .6l.5-38l.6 .3l.5 1.2l.6 36.2l.5-35.9l.5 8.6l.6-10.4l.5 37.9l.5-9.3l.6 1l.5-.5l.5-.1l.6-28.2l.5 19.5l.5-18.6l.6-1.9l.5 27.8l.5-27.1l.6 38l.5-36.8l.5 36.6l.6-1.2l.5 .4h.5l.6-27.5l.5 18l.5-8.2l.6 17.8l.5-35.3l.6-.2l.5 36.3l.5-37.6l.6 .7l.5 26.8l.5 .1l.6-27.8l.5 37.8l.5-.9l.6-8.4l.5 8.7l.5-34.8l.6-2.2l.5 18.9l.5 8.7l.6 .6l.5-.6h.5l.6 1l.5 8.9l.5-7.8l.6 7.5l.5-36.6l.5 26.6l.6 9.9l.5 .5l.5 .7l.6-1.5l.5 .8l.6-9.5l.5 9.4l.5 .3l.6-.8l.5-37.5l.5 19.9l.6-19.1l.5 18.2l.5-17.8l.6 35.9l.5-36.6l.5 28l.6 9.4l.5-36.5l.5 .3l.6 7.9l.5 28.5l.5-37.6l.6 1.3l.5 8.7l.5 16.8l.6-27.2l.5 37.6l.5-.6l.6-8.9l.5-.4l.5 10.3l.6-7.9l.5-1.3l.6-18.8l.5 18.6l.5-1l.6 10.6l.5-9.9l.5 1.1l.6-29.3l.5 29.3l.5-29.7l.6 28.2l.5 10.8l.5-38.4l.6-.8l.5 19.9l.5-10l.6 9.9l.5 8.9l.5 8.9l.6-37.5l.5 8.5l.5-6.4l.6-.3l.5 27.2l.5-18.8l.6 9.9l.5 17l.5-25.8l.6 28l.5-1.4l.6-7.7l.5-1.6l.5 9.6l.6 1.2l.5-10.1l.5-.7l.6-.5l.5 .2l.5-26.7l.6 36.6l.5 .7l.5-29.9l.6 29.4l.5-37.8l.5-.2l.6 1.5l.5-1.1l.5 27.4l.6-28l.5 37.4l.5-37.8l.6 .5l.5 38.2l.5-10l.6-8l.5 19.1l.5-2.8l.6 1.2l.5 .3l.6-18.8l.5-.4l.5-16.8l.6 25.7l.5 9.9l.5-37l.6 8.9l.5 18.9l.5 9.9l.6 .2l.5-1.8l.5-8.4l.6-27.1l.5 .2l.5-.9l.6 36.2l.5-36.3l.5 .6l.6 27.8l.5 7.4l.5-24.1l.6-10.7l.5-.3l.5 19l.6-19.3l.5-.9l.5 .8l.6 29.1l.5 9.1l.6-.9l.5-.7l.5-37l.6 10.4l.5-10.2l.5 37.8l.6-35.9l.5 25.9l.5-27.2l.6 35.9l.5-7.4l.5-1.2l.6 .1l.5 9.8l.5 .5l.6-38.3l.5 28.2l.5-1.2l.6 1.8l.5-10.6l.5-7l.6 25.4l.5-35.6l.5 17.7l.6-9.4l.5-9.1l.5 .9l.6-1.1h.5l.6 28.1l.5-.2l.5 .9l.6-28.3l.5-.1l.5 1.1l.6-.7l.5 17.6l.5 19l.6-18.6l.5 19.4l.5-10.7l.6 10.3l.5-18.7l.5-17.8l.6-1.1l.5 28l.5 .7l.6-1.4l.5 9.8l.5-9l.6-1l.5 1.1l.5 .3l.6 7.1l.5-7.8l.5-.7l.6 .2l.5 1.7l.6 8.3l.5-37.1l.5 28.1l.6-28.3l.5-.6l.5 19.7l.6-18.9l.5 18.6l.5-18.6l.6 28.1l.5-.9l.5 1.6l.6-28.1l.5 37.1l.5-10.2l.6 8.7l.5-.1l.5-9.3l.6 1.7l.5-10.1l.5-.7l.6 19.2l.5-37.4l.5 9.1l.6 28.3l.5-18.1l.6 9.1l.5-19.8l.5-8.3l.6 28.2l.5 .1l.5-1.2l.6-7.7l.5-19.7l.5 35.8l.6 1.5l.5-8.4l.5 9.7l.6-11.1l.5 1.4l.5-1l.6-28.8l.5 19.4l.5 18.9l.6-36.9l.5 36.2l.5 1.1l.6-18.7l.5-10.1l.5-.3l.6-8l.5-1.1l.5 .6l.6 38.2l.5-1.2l.6 .1l.5-36.8l.5 9l.6 17.4l.5-8l.5 18l.6-10l.5-26.2l.5 .9l.6 8.9l.5-9l.5 35.1l.6-.4l.5 1.3l.5-10.6l.6 1.5l.5-.8l.5 .1l.6 .9l.5 8.8l.5-9.9l.6 10.8l.5-10.1l.5 9.7l.6-36.9l.5 26.7l.5 10.3l.6-10.8l.5-27l.6 37.6l.5-8.7l.5-29.2l.6 37.2l.5 1l.5-1.1l.6-17.9l.5 7.8l.5-26.9l.6 37.9l.5-.5l.5-10.4l.6 .2l.5 1.2l.5-26.9l.6 25.8l.5-26.3l.5-2.1l.6 30.1l.5 8.6l.5-38.4l.6 37.9l.5-19l.5 18.3l.6 2.4l.5-37.8l.5 35.8l.6-9l.5-17.8l.6-8.8l.5 26.8l.5-18.9l.6-9.2l.5 38.3l.5-18.9l.6 8l.5 9.3l.5 .4l.6-8.5l.5-1l.5 .8l.6 1.2l.5-.3l.5 9.6l.6-10.8l.5-.6l.5 .3l.6 9.4l.5-35.9l.5 35.7l.6-35.7l.5 8.9l.5-10.2l.6 37.1l.5-17.2l.5 8.4l.6 .2l.5-.1l.6-27.3l.5-.2l.5 18.3l.6 8.2l.5-.2l.5-17.4l.6 18.1l.5-.2l.5 1l.6-19.5l.5 28.1l.5-26.6l.6-10.4l.5 18.6l.5 18.9l.6-36.5l.5 18.4l.5 9.1l.6 6.5l.5-33.9l.5 8.6l.6-.4l.5 27.1l.5-35.5l.6 .6l.5 35.8l.5 1.3l.6-37.2l.5 35l.6-36.3l.5-1l.5 11.2l.6 8.7l.5-9.9l.5 27.2l.6-36.3l.5 9.6l.5 19.2l.6 8l.5-26.1l.5-11l.6 28l.5 9.1l.5-8.9l.6-1.4l.5-27.3l.5 27.5l.6 11.2l.5-1.2l.5-35.7l.6 36l.5-36.9l.5 18.3l.6 18.2l.5-9.2l.6 9.6l.5-.4l.5-8l.6-28.9l.5 27l.5-25.8l.6-1.4l.5 28.8l.5-28.6l.6 28.9l.5-1.4l.5 10.3l.6-38.1l.5 19.1l.5-18.4l.6-.3l.5 10.2l.5-9.2l.6 36.4l.5-37.2l.5 .3h.6l.5 .6l.5 26.5l.6 9.6l.5-8.7l.5-.5l.6-.4l.5 9.7l.6-.4l.5-.3l.5-9.1l.6 .6l.5 11.1l.5-2.3l.6-35.3l.5 26.7l.5-18.5l.6-.9l.5-8.8l.5 .6l.6-.1l.5-.7l.5 1.6l.6-2.5l.5 39l.5 .1l.6 .1l.5-30.1l.5-6.9l.6 26.9l.5-26.6l.5-1.8l.6 1.1l.5 36.8l.5 .2l.6-28.4l.5 18.2l.6 9.1l.5 .4l.5-17.4l.6 8.3l.5-8l.5-.4l.6 17.7l.5 .1l.5 .1l.6 .4l.5 .5l.5-.5l.6-9.7l.5 9.7l.5-.6l.6-8.9l.5-9.2l.5 18.1l.6 1l.5-9.5l.5 9.5l.6-11.5l.5 1l.5-18.3l.6 29.6l.5-10.5l.5-29.4l.6 1.2l.5 .6l.6 35.9l.5-1.1l.5-7.4l.6 18.2l.5-8.9l.5-9.4l.6 1l.5 9.4l.5-38.4l.6 37.8l.5-37l.5 27.5l.6-27.7l.5 18.6l.5-18.2l.6-1.4l.5 1l.5-.6l.6 26.5l.5 11.4l.5-11.2l.6 10.8l.5-.8l.5 .6l.6-10.3l.5-1.1l.5 1.7l.6-27.8l.5 28.1l.6-29.1l.5 21.5l.5-19.8l.6 36.6l.5-9.3l.5-10.4l.6 19.1l.5-35.8l.5 26.2l.6 10.8l.5-17.2l.5-1.8l.6-17.6l.5 17.5l.5 .3l.6 .3l.5 8.5l.5 9.3l.6-36.9l.5 18.3l.5 .1l.6 .6l.5-.9l.5-17.2l.6 27.1l.5 8.5l.5-8l.6-1l.5 9l.6 .1l.5-8.6l.5 8.3l.6-36.5l.5 2.4l.5 7.5l.6-9.5l.5 37.7l.5-9.5l.6-19.8l.5 19.4l.5-.5l.6-1.1l.5 2.2l.5 8.7l.6-8.7l.5 9.2l.5-29l.6-9l.5 38.4l.5-11.4l.6 9.8l.5-36.9l.5 .1l.6 .1l.5 37l.5-9l.6-.7l.5-1l.6 2.1l.5-.9h.5l.6-27.7l.5 1.3l.5-.9l.6 36.8l.5-36.6l.5 36.2l.6-37.5l.5 37.9l.5-27.7l.6 .5l.5 27.1l.5-36.3l.6-1.3l.5 38.2l.5-37l.6 26.5l.5-27.3l.5 8.1l.6 10.6l.5 19.2l.5-10.3l.6-17.2l.5-9.6h.5l.6 37l.5 .8l.6-10.9l.5 .3l.5-.4l.6 .9l.5-1.1l.5 10.6l.6-10.9l.5 9.3l.5 2.5l.6-2.9l.5-8.6l.5 9.9l.6 .1l.5-36.6l.5-1.7l.6 37.3l.5-25.8l.5 17.5l.6-9.6l.5-18.5l.5 19.8l.6 8.2l.5 8.8l.5 1.3l.6-.9l.5-8l.6-1.1l.5 8.7l.5-.1l.6 .3l.5-9.2l.5 9.3l.6-10.7l.5 10.3l.5-8.9l.6 8l.5-6.9l.5-1.4l.6-27.5l.5 28.5l.5-28.1l.6 38.7l.5-39.5l.5 20.3l.6-.7l.5-18.6l.5 35.2l.6-27l.5 18.3l.5 10.7l.6-.1l.5-10.9l.5-7.5l.6 8.9l.5 9.5l.6-38.7l.5 1.8l.5 27.2l.6 .4l.5-27.5l.5 10l.6 26.5l.5-36.8l.5 26.2l.6 10.4l.5-38.7l.5 37.8l.6-36l.5 36.6l.5-9.6l.6-27.8l.5 10.5l.5 26.9l.6-35.9l.5 26.5l.5 9.9l.6-9l.5-18.8l.5-8.1l.6 7.8l.5 10.6l.5-18.7l.6 .1l.5 17.5l.6 7.8l.5 .5l.5 .6l.6 10.6l.5-10.6l.5 .1l.6 .2l.5 8.8l.5 .1l.6-37.3l.5 37.9l.5-9.3l.6 .7l.5-19.1l.5 28.6l.6-10.2l.5-8.7l.5 18.9l.6-27.5l.5 27.1l.5-10.1l.6 8.7l.5-27.8l.5 27.8l.6 .9l.5-19.4l.5 9.8l.6-9.5l.5 19.2l.6 .6l.5-37.7l.5 28.1l.6-8.9l.5 18l.5-.4l.6-28.5l.5-8.7h1.1l.5 27.6l.5-.4l.6 1l.5-1.2l.5 1.1l.6-.2l.5 11.3l.5-3.2l.6 2.2l.5-10.2l.5 8.6l.6-9.2l.5 9.9l.5-.3l.6-9.7l.5 1.2l.5-20l.6-8.7l.5 1.3l.6-1.4l.5 .5l.5 36.2l.6-37.1l.5 28.1l.5-18.1l.6 19.4l.5-.2l.5-9.3l.6-19.3l.5-.7l.5 1.8l.6 1l.5-1.4l.5 27.5l.6-.6l.5-27.5l.5 35.8l.6 1.3l.5-35.3l.5 8.2l.6-9.9l.5 1.7l.5 17.5l.6-18.8l.5 18.9l.5-19.1l.6 36l.5 2.5l.6-10.4l.5-1.6l.5 11.3l.6-9.2l.5-.1l.5-1.7l.6 2l.5-1.8l.5-18.1l.6 18.7" stroke="#00f" stroke-dasharray="12 11.6" stroke-linejoin="bevel"/>
</g>
<g font-size="23.1" fill="#000">
<g text-anchor="middle">
<text x="884.9" y="542.2">0</text>
<text x="991.8" y="542.2">200</text>
<text x="1098.7" y="542.2">400</text>
<text x="1205.6" y="542.2">600</text>
<text x="1312.5" y="542.2">800</text>
<text x="1419.4" y="542.2">1000</text>
<text x="1526.3" y="542.2">1200</text>
</g><g text-anchor="end">
<text x="875.7" y="496.2">-10</text>
<text x="875.7" y="450">-5</text>
<text x="875.7" y="403.9">0</text>
<text x="875.7" y="357.7">5</text>
<text x="875.7" y="311.6">10</text>
</g></g>
<g font-size="26" fill="#000" text-anchor="middle">
<text x="1205.3" y="575.8">Data samples</text>
<text transform="translate(831.9 410.4) rotate(-90)">DC Value</text>
</g>
<rect x="1353.8" y="315.5" width="156.8" height="57.3" fill="#fff" stroke="#1c1c1c" stroke-width="1.6"/>
<path d="M1359.5 331.3h59.3" stroke="#f00" stroke-width="4.5" fill="none"/>
<path d="M1359.5 357.5h59.3" stroke="#00f" stroke-width="4.5" stroke-dasharray="12 11.7" fill="none"/>
<g font-size="21" fill="#000"><text x="1423.3" y="339">Actual</text><text x="1423.3" y="365">Predicted</text></g>
<clipPath id="c4"><rect x="77.5" y="635.9" width="645.7" height="213.7"/></clipPath>
<path d="M79.8 638.2H720.9V847.3H79.8ZM79.8 847.3v-7.2 M79.8 638.2v7.2M186.6 847.3v-7.2 M186.6 638.2v7.2M293.5 847.3v-7.2 M293.5 638.2v7.2M400.4 847.3v-7.2 M400.4 638.2v7.2M507.2 847.3v-7.2 M507.2 638.2v7.2M614 847.3v-7.2 M614 638.2v7.2M720.9 847.3v-7.2 M720.9 638.2v7.2M79.8 846.5h7.2 M720.9 846.5h-7.2M79.8 777.1h7.2 M720.9 777.1h-7.2M79.8 707.6h7.2 M720.9 707.6h-7.2M79.8 638.2h7.2 M720.9 638.2h-7.2" fill="none" stroke="#111" stroke-width="1.4"/>
<g clip-path="url(#c4)" fill="none" stroke-width="4.5">
<path d="M80 829.4l.2 .2l.2-.8l.3-77.5l.2-.1l.2-.4l.2 .7l.2-.1l.2-.2l.2 .1l.3 .3l.2-.3l.2 .1l.2-.3l.2 .6l.2-.2l.2-.6l.2-.2l.3 1l.2-.6l.2 .4h.4l.2-.1l.2-.4l.3 .1l.2 .1l.2 .2l.2-.1h.2l.2-.3l.2 .4l.3-.1h.4l.2-.1h.2l.2-.3l.2 .4l.2-.5l.3 .5l.2 .1l.2-.2h.4l.2-.3h.2l.3 .2l.2 .3l.2-.1l.2-.4l.2 .3l.2 .4l.2-.2h.3l.2-.5l.2 .4l.2-.7l.2 .5l.2 .1l.2 .2l.2-.4l.3 .3l.2 .2l.2-.4l.2 .2l.2-.4l.2 .4l.2 .8l.3-1.1l.2 .8l.2-1h.2l.2 .6l.2 .2h.2l.3-.6l.2 .3l.2 .1l.2-.1l.2-.6l.2 .5l.2-.2h.7l.2 .5l.2-.2l.2 .2h.2l.2-.6l.3 .5l.2-.1l.2 .1h.2l.2-.4l.2 .4h.2l.3-.3h.2l.2-.1l.2 .2l.2 .5l.2-.6h.2l.3-.1l.2 .5l.2-.9l.2 1l.2-.5l.2 .1l.2 .2l.2-.4l.3 .3l.2 .6l.2-.3l.2-.5l.2-.5l.2 1.1l.2-.4l.3-.4l.2 .2l.2 .3l.2 .3l.2 .1l.2-.3l.2-.1l.3 .5l.2-.2l.2-.5l.2 .2l.2 .1l.2-.1l.2 .1l.2-.5l.3-.2l.2-.1l.2 .4l.2-.1l.2-.1l.2-.1l.2 .1h.3l.2 .5l.2 .3l.2-.7l.2 .3h.2l.2 .2l.3 .1l.2-.7l.2 .2l.2 .5l.2-.5l.2 .1l.2-.1l.3-.5l.2 .7l.2 .3l.2-.4l.2 .2l.2-.3l.2 .1h.2l.3 .2l.2-.3l.2 .3l.2-.3l.2 .2l.2 .3l.2-.5l.3 .4l.2-.6l.2 .2h.2l.2 .1l.2 .1l.2 .6l.3-1l.2 .6l.2-.5l.2 .4l.2-.1h.2l.2 .2l.2-.2l.3-.2l.2 .3l.2 .2l.2-.2l.2-.2l.2-.3l.2 .1l.3 .2l.2 .3l.2-.5l.2 .3h.2l.2-.3l.2 .1h.3l.2 .5l.2-.2l.2 .3l.2-.5h.2l.2-.2l.2 .2l.3 .2l.2-.7l.2 .8l.2 .1l.2-.2l.2-.3l.2 .3h.3l.2 .2l.2-.8l.2 .6l.2 .2l.2-.3l.2 .2l.3-.2l.2-.4l.2 .5l.2-.1l.2 .1l.2-.1l.2-.3l.3 .1l.2 .3l.2 .1l.2-.2l.2-.3l.2 .3h.2l.2 .5l.3-.8l.2 .7l.2-.1l.2-.2l.2-.2h.2l.2 .3l.3-.2l.2 .1l.2 .4l.2-.5l.2 .1l.2-.3l.2 .2l.3-.3l.2 .1l.2-.1l.2-.1l.2 .2l.2 .2l.2-.4l.2 .6l.3-.2l.2-.3l.2 .3l.2-.2l.2 .4l.2-.1l.2-.3h.3l.2-.2l.2 .4l.2-.1l.2-.1h.2l.2 .5l.3-.2l.2-.5l.2 .7l.2-.5l.2 .3l.2-.4l.2 .5l.2-.3l.3 .6l.2-.5l.2-.3l.2 .7l.2-.8l.2 .6l.2-.2l.3 .7l.2-1l.2 .5l.2-.1l.2 .2l.2-.1l.2-.6l.3 .5l.2-.4l.2 .3l.2-.1l.2 .2l.2-.3l.2-.6l.3 .6h.2l.2 .3l.2-.4l.2-.1l.2 .8l.2-.1l.2-.9l.3 .4l.2 .1l.2-.1l.2-.1h.2l.2 .3l.2-.6l.3 .6l.2 .2l.2-.1l.2-.1l.2 .1l.2-.1l.2-.1l.3 1l.2-.7l.2-.5l.2 .1l.2 .3h.2l.2-.5l.2 .4l.3 .1l.2-.7l.2 .7l.2-.3l.2 .2l.2-.1l.2 .3h.3l.2-.6l.2 .7l.2-.4l.2 .4l.2-.3h.2l.3 .4l.2-.8l.2 .4l.2-.4l.2 .6l.2-.5l.2-.4l.2 .6l.3 .2l.2-.3l.2 .1l.2 .1h.2l.2 .1l.2-.3l.3 .3l.2 .1l.2-.5l.2 .3l.2-.8l.2 .8l.2 .2l.3-.1l.2-.2l.2 .3l.2 .1l.2-.8l.2 .8l.2-.8l.3 .4l.2 .4l.2-.8l.2 .5l.2 .2l.2-.3l.2-.3l.2 .2l.3-.1l.2-.2l.2 .4h.2l.2 .1l.2 .4l.2-.4l.3-.5l.2 .9l.2-.8l.2 .3l.2 .3l.2-.3l.2-.4l.3 .6l.2-.4l.2-.1l.2 .6l.2-.4h.2l.2 .3l.2-.3l.3 .3h.2l.2 .2l.2-.5l.2 .3h.2l.2 .2h.3l.2-.1l.2-.4l.2 .4l.2-.6l.2 .2l.2 .1l.3 .4l.2-.9l.2 1l.2-.6l.2-.3l.2 .5l.2 .1l.2-.1l.3-.3l.2-.1l.2 .2l.2 .5l.2-.2l.2-.2l.2 .4l.3-.3l.2-.7l.2 1l.2-94.1l.2 .6l.2-6.7l.2 6.5l.3 .4l.2-.4l.2-.4l.2 .2h.2l.2 .4l.2-.2l.3-.1l.2-.1l.2-.2l.2 .6l.2-.7l.2 .5h.2l.2 .3l.3-.3h.2l.2 .3l.2-.3l.2-.1l.2 .2l.2-.4l.3 .5l.2-.5l.2 .3l.2-.2l.2 .7l.2-.6l.2 .1l.3-.3l.2 .6l.2-.7l.2 .7l.2-.7l.2-2.1l.2 2.7l.2-.8l.3 .9l.2-.3l.2-.1l.2-.1l.2 .1l.2-.2l.2 .1l.3 .1l.2 .3l.2-.2l.2-.3l.2 .6l.2-.4l.2 .6l.3-.4l.2 .3l.2-.8l.2 .9l.2-.5l.2-.2h.2l.2-.1h.3l.2 .1l.2-.1l.2 .3h.2l.2 .4l.2-.5l.3-.3l.2 .6l.2 .1l.2-.4l.2-.3h.2l.2 .8l.3-.6l.2 .3l.2-.2l.2 .7l.2-.9l.2 .4l.2-.2l.3 .1l.2-3.5l.2 3.3l.2 .3h.2l.2-.3l.2 .2l.2 .1l.3-.4l.2 .4l.2-.1l.2-.3h.2l.2-.1l.2-.1l.3 .4l.2 .3l.2-.7l.2 .1l.2 .4l.2-.2l.2 .3l.3 .3l.2-.7l.2 .2h.2l.2-.4l.2 .1l.2 .5l.2 .2l.3 .2l.2-.5l.2 .1l.2-.2h.2l.2 .2h.2l.3 .3l.2-.8l.2 .5l.2-.3l.2 .3l.2-.2l.2-.1l.3 .2l.2 .2l.2-.9l.2 .7l.2-.2l.2 .2l.2-2.6l.3 2.2l.2 .2l.2 .1l.2 .7l.2-.7l.2-.2l.2 .2l.2 .1l.3-.4l.2 .3l.2-.1l.2-.1h.2l.2 .6l.2-.4l.3 .3l.2 .3l.2-.6l.2 .5l.2-.3l.2 .6l.2-.5l.3-.1l.2-.1l.2 .1l.2 .1h.2l.2-.7l.2 .6l.2-.1l.3-.6l.2 1l.2 .1l.2-.3l.2-.1l.2 .2l.2-.3h.3l.2 .4l.2-.5l.2 .5l.2-.6l.2 .1l.2-.6l.3 .4l.2 .3l.2-.1h.2l.2 .3l.2 .2l.2-.8l.2-.1l.3 .6l.2-.1l.2 .1l.2-.4l.2-.1l.2 .6l.2-.2l.3 .1l.2-.2l.2-.2h.2l.2 .3l.2 .2l.2-.4h.3l.2 .3l.2-.2h.2l.2-.2l.2 .2l.2-.1l.3 .1l.2 .3l.2-.4l.2 .1l.2-.2l.2 .6l.2-.2l.2-.2l.3 .5l.2-.4l.2 .1h.2l.2-.1l.2 .6l.2-.7h.3l.2-.2l.2-.1l.2 .3l.2-.2l.2 .9l.2-.8l.3-.2l.2 .1l.2 .2l.2 .2h.2l.2-.2l.2-.1h.2l.3 .2l.2 .3l.2-.9l.2 .8l.2 .5l.2-1.1l.2 .1l.3 .2l.2-.2l.2-3.7l.2 4.2l.2-.3l.2 .4l.2-.2l.3 .1l.2-.3l.2-.2l.2 .4l.2-.3l.2 .7l.2-.2l.2-.5l.3-.1h.4l.2 .7l.2-.3l.2 .6l.2-.7l.3-3.2l.2 3.2l.2 .2l.2-.4h.2l.2 .1l.2 .2l.3-.2h.4l.2-.1l.2 .2l.2 .4l.2-.4l.3-.2l.2 .3l.2-.2l.2 .2l.2-.5l.2 .2l.2 .1l.2-.2h.3l.2 .2l.2-.2l.2 .1l.2 .1l.2 .1l.2 .3l.3-.4h.2l.2 .3l.2-3.1l.2 2.9l.2 .3l.2-.2l.3-.1h.2l.2-2l.2 1.9l.2 .5l.2-.3l.2-.3l.2 .3l.3-.3l.2-.1l.2 .4l.2 .5l.2-.9l.2-.1l.2 .8l.3-.5h.2l.2 .5l.2-.3l.2-.5l.2 .3h.2l.3-.3l.2 .5l.2 .3l.2-.8l.2 .6l.2-.3l.2-.3l.2 .3h.3l.2 .2l.2-.3l.2-.5l.2 .8l.2 .2l.2-.4l.3 .2l.2-.2h.2l.2-.1l.2 .1h.2l.2-.3l.3 .6l.2-.3h.2l.2 .4l.2-.1l.2-.2l.2 .1l.3-.5l.2 .3l.2-.8l.2 .9h.2l.2-.7l.2 .8l.2-.8l.3 1.5l.2-.7l.2-.6h.2l.2 .3l.2 .3l.2-.1l.3-.3l.2 .1l.2-.1l.2 .4l.2-.4l.2-.1l.2 92.9l.3 .6l.2-93.4l.2 .5l.2 .1l.2 .3l.2-.8l.2-.4l.2 .6l.3 .6l.2-.7l.2 .1h.2l.2-.6l.2 .2l.2-.1l.3 .7l.2-.4l.2 .4l.2-.6l.2 .6l.2-.6l.2 .3h.3l.2 .4l.2-.6l.2 .7l.2-.1l.2-.1l.2-.8l.2 .5l.3 .2l.2-.3l.2-.5l.2 .7l.2 .2h.2l.2-.3l.3-.4l.2 .5h.2l.2 .2l.2 .1l.2-.7l.2 .2h.3l.2 .5l.2-.5h.2l.2-.3l.2 .1l.2 .4l.3-.2h.2l.2 .2l.2 .2l.2-.5l.2-.4l.2-2.1l.2 2.3l.3 .5h.2l.2-.1l.2 .1l.2-.3l.2-.1l.2 1.1l.3-1l.2 .1l.2-.3l.2 .7l.2-.3l.2 93.1l.2 .1l.3-93.6l.2 .7l.2-.1l.2-.3l.2 .5l.2-.5l.2-.1l.2 .1l.3 .5l.2-.2l.2-.1l.2-.2l.2 .1l.2 .2l.2 .3l.3 .1l.2-.3h.2l.2-.1l.2 .1l.2-.2l.2 .1l.3-.2l.2 .1l.2-.2l.2 .4h.2l.2 .1l.2-.4l.2-.2l.3-.1l.2 .3l.2 .1l.2-.3l.2-3.9l.2 4.4l.2-.5l.3-1.8l.2 2.5l.2-.4l.2 .2l.2-.2l.2 .2l.2-.2l.3 .1l.2-.1l.2-.2l.2 .1l.2 .1l.2-.3l.2 .6l.3-.4l.2-3.9l.2 3.8l.2-.2l.2 .6l.2-.6l.2 .5l.2-.5l.3 .3l.2-.2l.2 .5l.2-.2l.2 .5l.2-2.1l.2 1.3l.3 .1l.2-.2l.2 .2l.2 .1l.2-2.5l.2 2.7l.2-.4l.3 .2l.2-.1l.2 .2l.2 .1l.2 .1l.2-.2l.2-.3l.2 .7l.3-.5l.2-1l.2 1l.2 .1l.2-.2l.2 .2l.2-.1h.3l.2 .3l.2-.6l.2 .3l.2-.3l.2 .3l.2-.3l.3 .3l.2-.8l.2 .5l.2-.1l.2 .4l.2 93.8l.2-.3l.2-.2l.3 .1l.2 .2h.2l.2 .2l.2-.3l.2-.3l.2-93.4h.3l.2 .3l.2-.1h.2l.2-.1h.4l.3 .2l.2-.1l.2-.4l.2 .1l.2 .9l.2-.7h.2l.3-.1l.2 .8l.2-.1l.2-.3l.2-.2l.2 .4l.2-.7l.2 .1l.3 .1l.2-.1l.2 .6l.2-.3l.2 .6l.2-.9l.2-.1l.3 .3l.2 .3l.2-.2l.2-.3l.2 .6l.2-.4l.2-.1l.3 .4l.2-.1l.2-.5l.2 .1l.2-.1l.2 .3l.2-12l.2 12.1l.3-3.1l.2 3.1l.2-.2l.2-.3l.2 .4l.2-.5l.2 .9l.3-.3l.2-.1l.2 .6l.2-.1l.2-.4l.2-.1l.2-.1l.3 .1l.2 .1l.2 .3l.2-.4l.2-.4l.2 .3l.2 .3l.2-.2l.3-.1l.2-.2l.2 .5l.2-.3h.2l.2 .2h.2l.3 .1l.2-.2h.2l.2 .4l.2-.3l.2-.5l.2 .4l.3 .6l.2-1l.2 .5l.2-.1l.2-.1l.2 .2l.2 .2l.3-.1l.2-.2h.2l.2 .1l.2-.6l.2 .5l.2-.2l.2-.3l.3 .5l.2 .1h.2l.2-.1l.2-.5l.2 .2l.2 .4l.3 .1l.2-.4l.2-.3l.2 .7l.2-.6l.2 .3l.2 .1l.3 .1l.2 .1h.2l.2-.5l.2 .7l.2-.3l.2-.1l.2 .3l.3-.1l.2 .2l.2-.5h.2l.2 .5l.2-.7l.2 .6l.3 .3l.2-.1l.2-.6l.2 .8l.2-.6l.2-.1l.2-.2l.3 .3l.2-.4l.2 .5l.2-.4l.2 .5l.2-.3l.2 .1l.2-.1l.3-.6l.2 .6h.6l.2 .7l.2-.9l.3 .6l.2 .2l.2-.6l.2 .4l.2-.4l.2-.3l.2 .3l.3 .3l.2-.3l.2-.5l.2 .5l.2-.4h.2l.2 .8l.3-.6l.2 .6l.2-.5h.2l.2 .2l.2 .4l.2-.3l.2-.1l.3-.2l.2 .2l.2-.2l.2 .2l.2 .4l.2-.4l.2-.4l.3 .6h.2l.2 .3l.2-1.1l.2 .8l.2-.5l.2 .2l.3 .1l.2-2.4l.2 1.8l.2 .1l.2 .3l.2 .3l.2-.6l.2 .3l.3 .1l.2-.1l.2 .4l.2-.5l.2 .3h.2l.2 .3l.3-.4l.2-.1l.2 .6l.2-.5l.2-.1l.2-.2h.2l.3 .5l.2-.5l.2 .2l.2 .2l.2 .2l.2-.5h.2l.2 .4l.3-.2l.2-3.5l.2 3.8h.2l.2-.4l.2 .1l.2-.1l.3 .1h.2l.2-.2l.2 .7l.2-.7l.2 .6l.2-.3l.3-.1h.2l.2-.1l.2 .4l.2-.7l.2 .2l.2 .1l.3-4.9l.2 5.2l.2 .3h.2l.2-.6l.2 .9l.2-1.2l.2 .3l.3-1l.2 1.3l.2 .3l.2-.4l.2-.2l.2-.2l.2 94.1l.3-.6l.2 .2l.2 .1l.2-.1l.2-93.4l.2-.5l.2 .1l.3 .2l.2 .5l.2-.2l.2-.3l.2 .2l.2 .3l.2-.8l.2-.1l.3 .5l.2 .2l.2-.1l.2 .3l.2 .1l.2-.4l.2 .1l.3-.3l.2-.6l.2 .7l.2 .1h.2l.2-.1l.2-.3l.3 .4l.2-.2l.2 .5h.2l.2-.2l.2-.3l.2 .5l.2-.6l.3 .6l.2-.3h.2l.2-.4l.2 .7h.2l.2-.2l.3-.3l.2-3.4l.2 4l.2-.1l.2 .1l.2-.8l.2 .3h.3l.2 .7l.2-.6l.2 .1l.2-.3l.2 .7l.2-.9l.3 93.6l.2 .1l.2-92.9l.2-.9l.2 .4h.2l.2 .1l.2 .1l.3-.1h.2l.2-.3l.2 .2l.2 .3l.2-.2l.2-.3l.3 .5l.2-.2l.2-.3l.2 .2l.2 .2l.2-.3l.2-.1l.3 .1l.2 .2l.2-.5l.2 .9l.2-.5l.2-.1l.2 .5l.2-.1h.3l.2-.2h.2l.2-.1l.2-.2l.2 .5l.2-.2l.3-.1l.2 .7l.2-.5l.2 .4l.2-.2h.2l.2-.6l.3 .5l.2-2.5l.2 2.1l.2 .3l.2 .3l.2-.7l.2 .1l.2 .3l.3 .4l.2-.3l.2-3.5l.2 2.9l.2 .7l.2-.5l.2-.1l.3 .3h.2l.2-.3l.2 .1l.2 .7l.2-.7l.2 .9l.3-.5l.2-.4l.2 .8l.2-.8l.2-.3l.2 .6l.2 .5l.3-1l.2 .7l.2 .1h.2l.2-.2l.2 .1l.2-.8l.2 .8l.3 .3l.2-.1l.2-.3l.2-.6l.2 .9l.2-.4l.2-.2l.3 .3h.4l.2-.2l.2 .3l.2-.6l.2 .9l.3-.8h.2l.2 .3l.2-5l.2 4.6l.2 .6l.2-.2l.2 .2l.3-.3l.2 .3h.2l.2-.4l.2 .2l.2-.1l.2-.4l.3 1l.2-.4l.2-.1l.2-.4l.2 .7l.2-.3l.2-.2l.3 .5l.2-.2l.2-.1l.2 .1l.2-.3l.2-.1l.2 .4l.2-.3h.3l.2 .2l.2 .2l.2-.7l.2 .8l.2-.4l.2-.2l.3 1l.2-.6l.2 .4l.2-.5l.2-.2l.2-1.3l.2 1.4l.3-.1l.2 .4l.2-.2l.2 .3l.2-.5l.2 .2l.2-.4h.3l.2-1.6l.2 1.9h.6l.2 .1l.2-.3l.3 .1h.2l.2-2.4l.2 2.2l.2 .7l.2-.6l.2 .1l.3 .4l.2-.4l.2-.5l.2 .6l.2 .2l.2-.2l.2-.1l.3-.3l.2 .5l.2-.3l.2 .2l.2-.3l.2 .2l.2 .4l.2-.5l.3-.1l.2 .4l.2 .5l.2-.3l.2-.3l.2-.1l.2 .3l.3-.4l.2 .4l.2 .2l.2-.5l.2 .3l.2-.5l.2 .1l.3 .4l.2-4l.2 3.8l.2-.3l.2 .3l.2 .1l.2-.3l.3 .1l.2 .3h.2l.2 .5l.2-.6l.2 .1l.2-.3l.2 .3h.7l.2-.1l.2 .1l.2-.5l.2 .4l.3-.1h.2l.2 .4l.2 .2l.2-.2l.2-.2l.2-.1l.3 .3l.2-.5l.2 .3l.2 174.8l.2-174.7l.2 .6l.2-1h.2l.3-.5l.2 .6h.2l.2-.4l.2 1.2l.2-.3l.2 .1l.3-.6l.2 .1l.2-.2l.2 .6l.2-.2l.2-.2h.2l.3 .1l.2-.4l.2 .5l.2-.1h.2l.2-.3l.2 93.9h.2l.3-93.4l.2 .2l.2-.4l.2 .1l.2 .4l.2-.4l.2-.2l.3-.4l.2 .4l.2-.4l.2 .4l.2-.4l.2 .7l.2 .1l.3-.3h.2l.2-2l.2 1.8l.2 .4l.2-.4l.2 .3l.3-.7l.2 .6h.2l.2-.6l.2 .9l.2-.9l.2 .4l.2 .2h.3l.2-.1l.2-.1l.2 .3l.2-.3l.2-.1l.2 .2l.3-.4l.2 .6l.2-.2l.2-.3l.2 .2l.2-.3l.2 .1l.3 .6l.2-.7l.2 .5l.2-.4l.2 .3l.2-.3l.2 .9l.2-.8l.3 .2l.2-.5h.2l.2 .1l.2 .4l.2-.1l.2 .3l.3-.2l.2-.1l.2-.1l.2-.2l.2 .6l.2-.3l.2-.1l.3 .2l.2 .4l.2-.3h.2l.2 .2l.2-.4l.2 .2l.2-.1l.3-3.5l.2 3.5l.2-.2h.2l.2 .1h.2l.2-.1l.3 .3l.2-.4l.2-.1l.2 .4l.2-.4l.2 .2h.2l.3-.3l.2 .8l.2-.6l.2 .4l.2-.2l.2 .7l.2-.9l.3-.1l.2-2.8l.2 2.7l.2 .6l.2-.1l.2 .3l.2-.4l.2-2.7l.3 2.8h.2l.2 .3l.2-.4l.2 .2l.2-.5l.2 .4l.3-.1h.2l.2-.2l.2-.1l.2 .4l.2 .3l.2-.3l.3 .1l.2-.3l.2 .3l.2-2l.2 1.9h.2l.2 .3l.2-.6l.3 .5l.2 .3l.2-.3l.2-.1h.2l.2-.2l.2 93.7l.3-.2l.2-93.6l.2 .5l.2-.1l.2-.6l.2 .3l.2-.1l.3 .2h.4l.2 .2l.2-.5l.2 .6l.2-.1l.2 .1l.3-.8l.2 .7l.2-.5l.2 .7l.2-1l.2 93.3l.2 .7l.3-.4l.2-92.7l.2-.2l.2-.5l.2 .4l.2 .1l.2-.1l.3 .1l.2 .1l.2-.5l.2 .8l.2-.4l.2-.1l.2-.3l.3 .2l.2 .2l.2 .5l.2-1.4l.2 1l.2-.4l.2 .5l.2-2l.3 2.1l.2-.3l.2-.1l.2 .3l.2-.5l.2 .2l.2-.3h.3l.2 .4l.2 .2l.2-.2l.2-.4l.2 .7l.2-.7l.3 .7l.2-.6h.2l.2 .4l.2 .2l.2-.4l.2-.2l.2 .5l.3-.5l.2 .1l.2 .4l.2 .2l.2-.5l.2 .1l.2 .3l.3-.2l.2-.8l.2 .4h.2l.2 .4l.2-.2l.2-.3l.3 .5l.2-.1h.4l.2-.3l.2 .4l.2-.3h.7l.2 .5l.2-.1l.2 .2l.2-.6l.2-.1h.3l.2-.3l.2 .5l.2-.3l.2 .2l.2-.2l.2 .5l.3-.2l.2 .2l.2 .1l.2 .3l.2-.9l.2 .2l.2-.7l.3 .7l.2-.1l.2 .4l.2-.6l.2 .5l.2-.7l.2-.1l.2 1.2l.3 93l.2 .2l.2-93.5l.2 .1l.2-.5l.2-.2l.2 .3l.3-.3l.2-3.9l.2 3.9l.2-.1l.2 .7l.2-.7l.2 .7h.3l.2-.5l.2 .5h.2l.2-.5l.2 .3l.2 .1l.2 .1h.3l.2-.3l.2 .1l.2 .1l.2-.7l.2 .4l.2 .5l.3-.4l.2 .2h.2l.2-.7l.2 .2l.2 .3l.2-.3l.3 .8l.2-.6l.2-.1l.2 .5l.2 .2l.2-.6l.2 93.5l.2 .1l.3-.1l.2-93.4l.2-.2l.2-.2l.2 .6l.2-.5l.2 .5l.3 .1l.2-.2l.2-.2h.2l.2 .2l.2 .2l.2-.5l.3 .3h.2l.2 .2l.2-.7l.2 .6l.2 .2l.2-3.2l.3 2.9l.2 93.1h.2l.2 .8l.2-93.9l.2-.7l.2 .5h.2l.3-.1l.2-.1l.2 .3l.2-.2h.2l.2 .2l.2 .1l.3-.3l.2 .2l.2 .3l.2 .1l.2-.3h.2l.2-.4l.3 .4h.2l.2 .1l.2-.2l.2-.1l.2-.1l.2 .4l.2-.3l.3-.1l.2 .7l.2-.5l.2 .3l.2-.1l.2-.1h.2l.3 .2l.2-.3l.2-.1l.2 .2l.2 .3l.2-.2l.2-.6l.3 .3l.2 .3l.2 .2l.2-.4h.2l.2-.5l.2 1l.2-.6l.3-.1h.2l.2 .7l.2-.6l.2 .1h.2l.2-4l.3 4.3l.2-.4l.2 .4l.2 .2l.2-.3l.2-.2l.2-.4l.3 .6l.2-.5l.2 .6l.2-.1l.2 .3l.2-.4h.2l.3-.3l.2 .4l.2-.2l.2 .4l.2-.3l.2-.5l.2 .8l.2-.3l.3-.3l.2 .1l.2 .2l.2 .1l.2 .2l.2-.7l.2 .8l.3-.3l.2 .2l.2-.2l.2 .3l.2-.4l.2-.2l.2 .4l.3-.2h.2l.2 .1l.2-.6l.2 .8l.2-.2l.2-.4l.2 .2l.3 .1l.2-.3l.2 .9l.2-.7l.2-.3l.2 .7l.2-1.1l.3 .7h.2l.2-.1l.2-2.2l.2 1.7l.2 1l.2-.1l.3-.4h.2l.2 .5l.2-.6l.2 .6l.2-.2h.2l.2-.2l.3 .1l.2-.1l.2-.1h.2l.2 .4l.2-.1l.2-.5l.3 .2l.2-1.9l.2 2.4l.2 .6l.2-1.1l.2-.5l.2 94.6l.3-.6l.2-2.3l.2 2.9l.2-94.3l.2 .3l.2 .3l.2-.4l.3 .2l.2-.3l.2-.2l.2 .5l.2-.2l.2-.3l.2 .8l.2-.4l.3 .3l.2-.5l.2 .6l.2-.4l.2 .2l.2-.2l.2 .2l.3 .5l.2-.2l.2-.8h.2l.2 93.9l.2-.2l.2 .4l.3-.1l.2 .2l.2-93.7l.2-.6l.2 .8l.2-.6l.2 .1h.2l.3 .6l.2-.1l.2-.6l.2 .8l.2-.5l.2 .1l.2-.1l.3-.3l.2 .4l.2-.4h.2l.2 .7l.2-.4l.2 .1l.3-.1l.2 .2l.2-.2l.2-.4l.2 .3l.2 .4l.2-.4l.2-.1l.3 .6l.2-4.2l.2 3.9l.2-.3l.2 .3l.2-3.8l.2 3.5h.3l.2 .3l.2-4.3l.2 4l.2-.1l.2 .3h.2l.3 93.7l.2 .3l.2-1l.2 .4l.2-1.8l.2 1.8l.2-.3l.3 .2l.2-.3l.2 .8l.2-.4h.2l.2-.4l.2 .2h.2l.3-.2l.2 .2l.2 .6l.2-.8l.2 .2l.2 .2l.2-.2l.3-.3l.2 .2l.2 .3l.2-.2l.2 .4l.2-.4l.2 .2l.3-.2l.2 .7l.2-.1l.2-1.2l.2 .8h.2l.2-.2l.2 .2l.3-.1l.2 .5l.2-.4h.2l.2 .5l.2-.1l.2-.7l.3 .5h.2l.2-.4l.2 .3l.2 .5l.2-.5l.2-.1l.3 .1l.2-.5l.2 .2l.2 .4l.2-1l.2 .8l.2 .4l.2-.3l.3 .2l.2-.1l.2-.2l.2 .2l.2-.5l.2 .2l.2 .2h.3l.2-3.5l.2 3.4l.2 .2l.2-.4l.2 .7l.2-.6h.5l.2-3.9l.2 4.2l.2-.4l.2 .7l.2-.3l.3 .1l.2-.5l.2 .8l.2-.9l.2-3.1l.2 3.5l.2 .3l.2-.3l.3-.8l.2 1.3l.2-.5l.2-.3l.2 .1h.2l.2 .2l.3-.1l.2 .3l.2-.6l.2 .5h.2l.2-.4l.2 .3l.3-.4l.2 .4l.2 .1l.2-.1h.4l.2-93.6h.2l.3 .1l.2-.2l.2 .1l.2-.2l.2 .3l.2 .1l.2-.1l.3-.5h.2l.2 .4l.2 .3l.2-.4l.2-.2l.2-.1l.3 .3l.2 .5h.2l.2-.2l.2-.5l.2 .5l.2-.3l.2 .6l.3-4l.2 3.4l.2 .4l.2-.2l.2 .1l.2-.2l.2 .2l.3 .1l.2-.2l.2 .2l.2-.3l.2 .2l.2 .1h.2l.3-.1l.2-.1h.2l.2 .3l.2-.2l.2-.1l.2-.2l.3-.2l.2 .3l.2-.3l.2-.1l.2 .3l.2-.4l.2 1l.2-.5l.3 .1l.2 .1l.2 .1h.2l.2-.3l.2 .3l.2-.2l.3 .2l.2-.9l.2 .6l.2 .3l.2 .2l.2 .3l.2-.5l.3-.4l.2 .4l.2-.1l.2-.4l.2 .4l.2-.2l.2 .1l.2-.2l.3 .2l.2 .2l.2-.1l.2-.4l.2 .1h.2l.2-.3l.3 .6l.2-.4l.2 .8l.2-.6l.2 .2l.2-.1l.2 .1l.3-.6l.2 .4l.2-.2l.2 .4l.2-.2l.2 .1l.2 .2l.2-.2l.3-.2l.2-.3l.2 .4l.2 .4l.2-.7l.2 .5l.2-.3l.3 .4l.2-.3l.2-.1l.2 .1l.2-.2l.2 .5l.2-.6l.3 .7l.2-.8l.2 .1l.2 .2l.2 .6l.2-.6l.2 .3h.3l.2-.2l.2-.4l.2 .5l.2 .4l.2-.1l.2-.5l.2 .3h.3l.2-.6l.2 .5h.2l.2 .3h.4l.3-.4l.2-.4l.2 .7l.2-.3l.2-.1l.2 .5l.2-.2l.3-2.8l.2 2.6l.2 .3h.2l.2 .3l.2-.5l.2-.1l.2-.1l.3 .2l.2-.5l.2 .9l.2-.3l.2 .3l.2-.6l.2-.2l.3 .3l.2-.3l.2 .1l.2 .6l.2-.2h.4l.3 .3l.2-.1l.2-.9l.2-5.2l.2 5.8l.2-.1l.2 .8l.2-.3h.3l.2-.3l.2-.2l.2-.3l.2 .6l.2-.1l.2 .3l.3-.3l.2 .3l.2-.7l.2 .2l.2 .1l.2 .1l.2-.2l.3 .1l.2 .3l.2-.1l.2-.4l.2 .3l.2 .3l.2-.6l.3-.3l.2 .4l.2 .4l.2-.2l.2-.3h.2l.2 .1h.2l.3-.1h.2l.2 .4l.2 .4l.2-.6l.2-.2l.2-.2l.3 .6l.2-.1l.2 .2l.2-.1l.2-.5l.2-.4l.2 .6l.3-.1l.2-.1l.2 .5l.2-.3l.2-.3l.2 .8l.2-.8l.2-.1l.3 .1l.2 .1l.2 .4l.2-2.2l.2 2.7l.2-.3l.2-.5l.3 .1h.6l.2 .4l.2-.7l.2 .4l.3 .1l.2-.2l.2 .2l.2-.2l.2 .3h.2l.2 .3l.2-.2l.3-.2l.2 .1l.2-.8l.2 .5l.2-3.4l.2 3.2l.2-.1l.3 .2l.2 .5l.2-.1l.2-.5l.2 .7l.2-.2l.2 .2l.3-.3l.2 .2l.2-.2l.2-.2l.2 .5l.2-1.1l.2 .5l.3 .3l.2-.5l.2 .2l.2 .1h.2l.2 .1l.2 .1l.2-.1l.3-.2l.2 .1l.2-.1l.2 .2l.2-.2l.2-.1l.2 .4l.3 .1l.2-.6l.2 .4l.2-.2l.2 .2l.2 .3h.2l.3-.4l.2 .2h.4l.2-.6l.2 .2h.2l.2 .2l.3 .6l.2-.8l.2-.4l.2 .5l.2-.2l.2 .7l.2-.4l.3-.1l.2-.1l.2 .3l.2-.2l.2 .6l.2-.2l.2-.1l.3-.2l.2-.1l.2 .5l.2-.5l.2-1.8l.2 1.9l.2-.4l.2 .1h.3l.2 .3l.2 .3l.2-.1l.2-.4l.2-.2l.2 .5l.3-.4l.2 .9l.2-.5l.2-.2h.2l.2 .2l.2 .2l.3-.1l.2-.2l.2-.2l.2 .4l.2 .1l.2-.3l.2-.5l.3 .7l.2 .2l.2-.4l.2-.1l.2 93.6l.2-.3l.2 .2h.2l.3-97.7l.2 97.3l.2 .1l.2 .1l.2 .2h.4l.3 .1l.2-.2l.2 .3l.2-.4l.2 .2h.2l.2 .1l.3 .3l.2-.3l.2 .3l.2-.5l.2 .1l.2-.1l.2-.1l.2-.3l.3 .9l.2-.4h.2l.2-.1l.2-.3l.2 .5l.2-.5l.3 .2l.2 .8l.2-.1l.2-.3l.2-.2l.2-.2l.2-.1l.3-.1l.2 .1l.2 .7l.2-.6l.2 .2h.2l.2-.1l.3 .3l.2-.4l.2 .2l.2 .3l.2-.3l.2 .2l.2-.1l.2-.5l.3 .3l.2-.2l.2 .2l.2 .7l.2-1.1l.2 .5l.2 .1l.3 .8l.2-1l.2 .7l.2-.9l.2 .6l.2-.3l.2 .1l.3 .1l.2-.1l.2-.5l.2 .7l.2-.2l.2-.4l.2 .6l.2-.1l.3 .1h.2l.2-.5h.2l.2 .3h.2l.2 .4h.3l.2-.2l.2-.3l.2-.3l.2 .1l.2 .8l.2-.5l.3-.2l.2 .4l.2-.4l.2 .6l.2-.2h.2l.2-.4h.2l.3 .5l.2-.4l.2 77.8l.2 .2l.2 .1l.2-77.6l.2-.4l.3 .1l.2-.6l.2 .6l.2-.1l.2 .6l.2-.9l.2 .5l.3-.7l.2 .6l.2-.4l.2-.1l.2 .1l.2 .3l.2-.2l.3 .1l.2 .3l.2 .2l.2-.1l.2-.1l.2-.4l.2 .4l.2-.3h.3l.2 .2l.2-.3l.2 .2l.2 .1l.2-.1h.2l.3 .4l.2-.7l.2 .8l.2-.6l.2-.2l.2-.1l.2 .2l.3-.2l.2 .1l.2 .5l.2-.9l.2 .5l.2 .7l.2-.4l.2-.5l.3 .5l.2-.2l.2 .5l.2-.5l.2-.4" stroke="#f00" stroke-linejoin="round"/>
<path d="M80 827.9l.2-.3l.2 2.1l.3-78.9l.2 1.7l.2-1.2l.2-.7l.2 1.1l.2-.2l.2 1.1l.3-1.6l.2-.1l.2 1.9l.2-2.3l.2 .9l.2 .6l.2-1.8l.2 1l.3-1.7l.2 2.6l.2-.5l.2-.1l.2 2l.2-3.1l.2 1.2l.3 .3l.2-.8l.2 .1l.2 .4l.2 .8l.2-1.3l.2 .3l.3-.4l.2 .5l.2 1.9l.2-1.7l.2 .7l.2 1.1l.2-1.3l.2-1.5l.3 2.2l.2-.3l.2-1.4l.2 2.3l.2-2.5l.2 .1l.2 2.1l.3-31h.2l.2 30.6l.2-3.4l.2 3l.2 .3l.2-1.5l.3-.7l.2 1.5l.2-.7l.2-1.1l.2 .9l.2-.5l.2 2.3l.2-1.1l.3-1.1l.2 1.8l.2-.6h.2l.2-2.4l.2 2l.2 .1l.3-.8l.2 1.7l.2 .1l.2-.7l.2-1.9l.2 1h.2l.3 .1l.2 .5l.2 .3l.2-1.2l.2 .4l.2 .3l.2 .4l.3-.2l.2-1.2l.2 .9l.2 9.1h.2l.2-7.4l.2-2.6l.2 2.2l.3-2.4l.2 .2l.2 1.6l.2-1l.2-.6l.2 2.3l.2 .3l.3-2.7l.2 7.3h.2l.2-7.1l.2 2.1l.2-1.1l.2-.9l.3 1.9l.2-1.2h.2l.2 .2l.2 .5l.2-.7l.2 .4l.2-1l.3 1.5l.2-2l.2 1.5l.2-1.7h.2l.2 2l.2-1.3l.3 .4l.2 .1l.2-.5l.2 .6l.2 5h.2l.2-4.9l.3-1l.2 1.9l.2-1.6l.2-.5l.2 2.5l.2-.2l.2-1.9l.2 .6l.3 2.1l.2-3.4l.2 1.2l.2 2l.2-.8l.2-.8l.2 .2l.3-.7l.2 .6h.2l.2 .3h.2l.2-.6l.2 .8l.3-1.3l.2 .6l.2 2l.2-2.4l.2-.2l.2-1.4l.2 1.7l.3 .8l.2 .9l.2-1l.2-.8l.2-.4l.2 1.7l.2 .4l.2-1.7l.3 1.8l.2-.1l.2-1.6l.2 .2l.2 .1l.2-.1l.2 2.2l.3-1.8l.2 .2l.2-.7l.2 1.3l.2-.9l.2 .1l.2 1.8h.3l.2-2.6l.2 .1l.2-.1l.2 .2l.2 .6l.2-.8l.2 1l.3-.4l.2 .6l.2 1.2l.2-.5l.2-1.3l.2-1l.2 1.4l.3-.6l.2 .7l.2 1l.2-1.3l.2-.3l.2 .3l.2 .2l.3-.7l.2 .1l.2-.3l.2 .2l.2 .2l.2 .1l.2 .3l.2 .8l.3-1.8l.2 1.2l.2-1.3l.2 .5l.2 .2l.2 .9l.2 .8l.3-3.2l.2 2.7l.2-.8l.2-.1l.2 .2l.2 .2l.2 .3l.3-1.3l.2 .2l.2 .3l.2-.2l.2 .7l.2-.9l.2 .8l.3-1.6l.2-.1l.2 .8l.2 1.2l.2 .1l.2-1.1l.2-1.1l.2 1.8l.3-.7l.2-.9l.2 2l.2-1.8l.2-.5l.2 1.5l.2 .7l.3 .2l.2-1.6l.2 .8l.2-1.4l.2 .1l.2 .3l.2 .5l.3 .1l.2-.3l.2-1.3l.2 2.6l.2-1.9l.2 1.4l.2-1l.2 1.9l.3-7.6h.2l.2 6.6l.2 1.1l.2-1.2l.2 .5l.2-.6l.3-1.5l.2 1.2l.2 1.8l.2 .5l.2-1.9l.2 1.2l.2-2l.3 1l.2-.7l.2-1l.2 .5l.2 1l.2 .5l.2-2l.2 1.2l.3-.4l.2 .4l.2-1l.2 1l.2 .4l.2-1.3l.2 1l.3-.9l.2-.1l.2 1.4l.2-1.4l.2 .3l.2-.6l.2 1.3l.3-.4l.2 .1l.2-.8l.2 2.4l.2-6.2h.2l.2 4.5l.3-.4h.2l.2 2.1l.2-1.2l.2-1.5l.2 3.3l.2-2.6l.2 1.3l.3-.4l.2-.6l.2-.9l.2 .9l.2-1.2l.2 .8l.2 .5l.3-1.1l.2-.1l.2 1.2l.2 2.3l.2-3.1l.2 3.2l.2-.5l.3-.8h.2l.2-2.1l.2 .1l.2 .4l.2 .3l.2 2.1l.2-.2l.3-1.7l.2-9.4h.2l.2 10.5l.2-.9h.4l.3 5.7h.2l.2-6.3l.2-.1l.2 2.9l.2-1.9l.2-.6l.3-.4l.2 1.9l.2 .3l.2-.1l.2 5.6h.2l.2-5.6l.2-1.1l.3-.9l.2 1.4l.2 .3l.2-2.5l.2 2.4l.2-.2l.2-.6l.3-.1l.2-.4l.2 1.8l.2-1.2l.2 .6l.2 .6l.2-3l.3 1.7l.2-.5l.2 .3l.2 .7l.2-11.7h.2l.2 11h.3l.2-.3l.2 .7l.2-.1l.2 1.1l.2-2.6l.2 1.5l.2-.5l.3-.3l.2 1.1l.2 .4l.2-.9l.2 .1l.2-.8l.2 2.1l.3 .4l.2-1.6l.2 .2l.2-.3l.2 1.2l.2-.6l.2-2.4l.3 1.8l.2 .7l.2 3.4h.2l.2-2.7l.2-1.4l.2-.7l.2 2.1l.3 .6l.2-2l.2-.8l.2-1.2l.2 .8l.2-.9l.2 2.6l.3-.9l.2 1.6l.2-1.2l.2-1.5l.2 1.5l.2 .2l.2-1.1l.3 1.3l.2-.7l.2-.4l.2 1.9l.2-2.6l.2 .2l.2 .8h.2l.3 .3l.2 .1l.2-.1l.2-1.6l.2 .6l.2 .3l.2 1.9l.3-2.1l.2 .5l.2 2.3l.2-93.5l.2-1.7l.2 .2l.2 .6l.3-2.4l.2 1.6l.2-.8l.2 1.7l.2-1.6l.2-.3l.2 1.8l.3-2.2l.2 1.5l.2-.6l.2-.2l.2 1.7l.2-2.4l.2 3.4l.2-2.8l.3 1.1l.2 .1l.2 .7l.2-1l.2-2.2l.2 .3l.2 1.5l.3 2.1l.2-1l.2 .2l.2 .6l.2-1.6l.2 .7l.2-.6l.3-1.1h.2l.2 2.5l.2-.8l.2-1.1l.2-1.3l.2 .7h.2l.3-.1l.2-.7l.2 1.5l.2-.4l.2 .9l.2 .8l.2-.4l.3-1.2l.2 1.7l.2-1.1l.2 .9l.2-.7l.2-1.6l.2 1.7l.3 1.1l.2-2.6l.2 1.1l.2-.3l.2 1.5l.2-2.4l.2 2.4l.2-.1l.3-2.1l.2 2.1l.2-.1l.2-1.5l.2 1.8l.2-1.8l.2-1l.3 1.2l.2-.5l.2 1l.2-1.6l.2 1.3l.2 1.3l.2-2.5l.3 .8l.2-.7l.2 3.1l.2-1.3l.2-1.6l.2 2.1l.2 .1l.3-.3l.2-1.4l.2 .5h.2l.2 2.1l.2-1.8l.2-.7l.2 .7l.3-.6l.2 .1l.2 .7l.2 .2l.2-.2l.2-1.7l.2 .5l.3 .2l.2 1.6l.2-.2l.2-.8l.2 .6l.2 .8l.2-.4l.3-.5l.2-.6l.2-.1l.2 1.2l.2-1.5l.2 2.2l.2-2l.2 .1l.3 .3l.2 .6l.2-.4l.2-.3l.2-.2l.2 .5l.2 .2l.3 1l.2-1.6l.2-1h.2l.2 .5l.2-.1l.2 .2l.3-.4l.2 .4l.2 1.1l.2-1l.2-.7l.2 2.4l.2-1.1l.3-.7h.4l.2 .5l.2-8.8h.2l.2 8.4l.2-.1l.3 1.3l.2-1.7l.2 .1l.2 1.9l.2-.3l.2-.4l.2-.1l.3-.9l.2-1.4l.2 1l.2 1.8l.2-.5l.2 .3l.2-.1l.3 .1l.2-.3l.2 .2l.2-.5l.2 .1l.2-2l.2 1.8l.2-1.1l.3-.9l.2 3.1l.2-1.6l.2 .6l.2-.9l.2 2.5l.2-1l.3-.7l.2 1.6l.2-2.1l.2-1.5l.2 2.1l.2-1.2l.2 1.9l.3-1.3l.2-.5l.2 .4l.2 .2l.2 .7l.2-.8l.2 2.6l.2-1.5l.3-.9l.2 .1l.2-.9l.2 1.6l.2-2.2l.2 .7l.2 .6l.3 1.1l.2 .2l.2-1.5l.2 1.9l.2-1.2l.2-.1l.2-.2l.3 .5l.2-1.3l.2 2l.2-2.7l.2 .4l.2 .1l.2 2.1l.3-1.1l.2-.7l.2 .5l.2 .4l.2 .3l.2 .7l.2-.5l.2-1.5l.3 .3l.2 1.1l.2 1.1l.2-.7l.2-.2l.2 .2l.2-2.8l.3 .9l.2 .8l.2 .4l.2-.2l.2-.1l.2-.3l.2 1.6l.3-2.7l.2 3.2l.2-1.2l.2-1.1l.2 1.7l.2 .8l.2-.6l.2-.7l.3-.4l.2-2.1l.2 1.3l.2-.3l.2 .5l.2 1l.2-1.2l.3-.1l.2 1.1l.2-.9l.2-.4l.2 3.1l.2-1.2l.2-.7l.3 1.9l.2-2.1l.2-1.1l.2 1.6l.2 .9l.2-1l.2-1.9l.2 2h.3l.2-.6l.2-.6l.2 1.4l.2-.5l.2-.9l.2 .3l.3-.8l.2 1.9l.2-2l.2-.6l.2 .4l.2 1.6l.2-.9l.3-1.2l.2 3l.2-.8l.2 .3l.2-1.1l.2 .4h.2l.3-.2l.2-.3l.2 .4l.2 .9l.2-1.6l.2-.6l.2 1.6l.2 .3l.3-1.7l.2 1.8l.2-1.4l.2 1.4l.2-.1l.2-.2l.2 .1l.3 .4l.2 1.4l.2-3.4l.2-.3l.2 1.3l.2 1.7l.2-2.6l.3 .8l.2-1.1l.2 1.7l.2-.3h.2l.2 1.2l.2-.7l.2 .5l.3-.5l.2 .6l.2-.4l.2-1.5l.2 .8l.2 .8l.2-1.2l.3-.5l.2 1.6l.2 .5l.2 .6l.2-2l.2 .2l.2 2.2l.3-2.9l.2-.7l.2 .9l.2-1.2l.2 2.1l.2 1.2l.2-1.8l.2 .8l.3-.5l.2 .4l.2 1.8l.2-1.1l.2-.4l.2-.6l.2-.7l.3-.4l.2 .8l.2 .1l.2 .5l.2 .7l.2-.8l.2-.2l.3 .7l.2 .1l.2-1.2l.2 .5l.2-1.5l.2 1.8l.2 .5l.3-.3l.2-2.1l.2 1.4l.2 1.1l.2-1.5l.2 1.5l.2-.4l.2-.3l.3-.7l.2 1.6l.2-2.1l.2 1.3l.2 .4l.2-.8l.2-.7l.3-1.1l.2 3.1l.2-1.2l.2 .4l.2-1.2l.2-.3l.2 94.5l.3-1.3l.2-92.3l.2-1.3l.2 2l.2-2.1l.2 3.6l.2-.7l.2-1.9l.3-.5l.2 2.3l.2-.8l.2-.7l.2 .9l.2-1.7l.2 2l.3-2.2l.2-.2l.2 1.2l.2 1.1l.2-.6l.2 .6l.2 .1l.3 1.1l.2-3.7l.2 2.2h.2l.2 .4l.2-.7l.2-.1l.2 1.9l.3-3.1l.2 1h.2l.2 1.4l.2-1.1l.2 .2l.2-1.8l.3 2.1l.2-.9l.2 .6l.2 .1l.2-.2l.2 1.2l.2-1.7l.3-.5l.2 .2h.2l.2 .8l.2-.8l.2 .6l.2-.3l.3-.7l.2 .4l.2 .2l.2 1.5l.2 .8l.2-1.9l.2-.3l.2 .1l.3-.1l.2 1l.2 1.2l.2-2.5h.2l.2-.1l.2-.8l.3-.2l.2 .9l.2-.6l.2 .7l.2 1.3l.2 93l.2 .7l.3-93.9l.2-.7l.2 .3l.2-.2l.2 1.4l.2-.4l.2-1l.2-.7l.3-1.2l.2 3.5l.2-.5l.2-1.5l.2 .7l.2 7.7h.2l.3-7l.2-.1l.2-.6l.2-.5l.2-.2l.2-.3l.2 1.2l.3-.9l.2 .4l.2-1.5l.2 .3l.2 .6l.2-7.4h.2l.2 6.6l.3 2.6l.2-.2l.2-1.4l.2-.8l.2 1.4l.2 .3l.2 .1l.3-.9l.2 .1l.2-.2l.2 2l.2-2.6l.2 2l.2-.5l.3-.7l.2-.5l.2 .9l.2 1.2l.2-2l.2 .7l.2-.2l.3 .4l.2-.6l.2-.6l.2 .7l.2-.1l.2 1l.2-.7l.2 .9l.3 1l.2-1.7l.2 .5l.2 .2l.2 .3l.2-1.3l.2 .7l.3-1.3l.2 2.4l.2-2.6l.2 1.4l.2-.7l.2 .6l.2-.4l.3-.9l.2 .4l.2 1.2l.2-.9l.2 .7l.2 1.3l.2-1.5l.2-.8l.3-1h.2l.2 2.3l.2 .3l.2 .6l.2-1.2l.2 .9l.3-3l.2 1.7l.2-1.1l.2 .3l.2 .4l.2-.5l.2-.8l.3 .3l.2-.4l.2 2.1l.2-.3l.2-.2l.2 92.5l.2 1.8l.2-1.2l.3 .3l.2 10.1h.2l.2-9.6l.2-.4l.2 .3l.2-92.8l.3-2.3l.2 2.6l.2-1.7l.2 .5l.2-1.1l.2 .5l.2 .5l.3-1.2l.2 1.4l.2 .3l.2-.7l.2 .1l.2 .6l.2-1.6l.3-.8l.2 1.4l.2 1.6h.2l.2-.6l.2-.4l.2 .9l.2-1.4l.3 1.1l.2-1l.2 .5l.2-1.1l.2 1.8l.2-2.5l.2 2.2l.3-.8l.2 .5h.2l.2 .6l.2-.6l.2-.8l.2 1.2l.3-.8l.2-.3l.2 .6l.2 1.7l.2-.8l.2-1.9l.2 .4l.2 .3l.3-.5l.2 1.3l.2-1.7l.2 .3l.2 1.2l.2-.6l.2 .5l.3-.2l.2-1.2l.2 1.3l.2 1l.2-2.7l.2 1l.2-1.5l.3 2l.2 .7l.2-.5l.2-1.6l.2-.1l.2 .3l.2 .3l.2 .2l.3-.4l.2 1.6l.2-.9l.2 .4l.2-1l.2-.6l.2 1.8l.3 1.9l.2-1.7l.2 .6l.2-.5l.2-1.4l.2 1.6l.2 1l.3-2.5l.2 .2l.2-1.2l.2 1.6l.2 .7l.2-1.8l.2 1.9l.3-.4l.2-.3l.2 1.2l.2-3.1l.2 3.5l.2-.1l.2 5.2h.2l.3-7.2l.2 .4l.2-1.5l.2 2.4l.2-1.8l.2-.1l.2 .8l.3 .8l.2-.8l.2 1.3l.2-1.4l.2 .3l.2 .7l.2-.4l.3 .4l.2-2.1l.2 .6l.2 2.8l.2-1.4l.2-1.3l.2 .9l.2-.6l.3 .8l.2 .3l.2-1.3l.2 2.1l.2-.1l.2-3.2l.2 2.2l.3-1.3l.2 1l.2-8.6h.2l.2 9.1l.2-1l.2 .9l.3-.5l.2 .9l.2-1.5l.2 2.3l.2-.8l.2 .3l.2-.8l.2-1.1l.3 .3l.2 .9l.2-.9l.2 1l.2 .5l.2-.1l.2 .6l.3-.7l.2-1.5l.2 2.3l.2-2l.2 .2l.2-.4l.2 1.1l.3 .7l.2-1l.2 .8l.2-1.6l.2 .5l.2 .3h.2l.3 .6l.2-2.3l.2 2.8l.2-.5l.2 .2l.2-.3l.2-1.2l.2-.3l.3 .6l.2 .9l.2 1.5l.2-2.7l.2 .7l.2-.3l.2-.3l.3-.5l.2 1l.2-.8l.2 1.9l.2-1.8l.2 1.4l.2-.9l.3 .2l.2-.2l.2-1.3l.2 1l.2 .7l.2 .3l.2 .7l.2-1.5l.3 1.3l.2-1.7l.2 .5l.2 .6l.2-.9l.2 1.1l.2-.1l.3-.6l.2 .3l.2-1.4l.2 .6l.2 1.3l.2-2.2l.2 1.3l.3-.5l.2 .5l.2-1l.2 .6l.2-.5l.2 1l.2 .3l.2-.8l.3 1.6l.2 .6l.2-1.3l.2-.4l.2-.6l.2 .1l.2 .6l.3-1.4l.2 .7h.2l.2-1.1l.2 1.7l.2-1l.2 2.4h.3l.2-1.7l.2 .6l.2-.3h.2l.2 .5l.2 .3l.3-.9l.2 1.1l.2-.5l.2-.4l.2 .8l.2-.2l.2-1.3l.2-.2l.3 .7l.2 .2l.2-1.6l.2 2.4l.2-1.2l.2-.9l.2 94.8l.3-2.1l.2 11.4h.2l.2-9.6l.2-93.3l.2 1.6l.2-3.5l.3 .9l.2 2.2l.2 1l.2-.8l.2-1.7l.2-.6l.2 .8l.2 .2l.3-.4l.2 .7l.2 1.1l.2 .2l.2-1.7l.2 .8h.2l.3-1.3l.2 1l.2-.5l.2 2.2l.2-1.6l.2-1.4l.2 .7h.3l.2 .2l.2-.3l.2-.6l.2 2l.2-1.2h.2l.2-.2l.3-1.2l.2 2.3l.2 .2l.2-2.7l.2 2.6l.2-.9l.2 .8l.3 5.8h.2l.2-6.4l.2-.9l.2 1.2l.2-2.2l.2 1.7l.3-.5l.2 1.1l.2-.1l.2-2.3l.2 1.5l.2 .5l.2-1.2l.3 94.6l.2-.9l.2-92.1l.2-.7l.2-.3l.2 .9l.2 .1l.2-2.1l.3 .4l.2 2.4l.2-3.2l.2 2l.2 .2l.2 .8l.2-1.6l.3-.4l.2 1l.2-.7l.2 2.1l.2-1.6l.2 .6l.2-.2l.3-.8l.2-.3l.2 .8l.2-1.1l.2 .7l.2-1l.2 1.3l.2-1.2l.3 2.4l.2-1.7l.2 .9l.2 .4l.2 1.4l.2-.2l.2-2.9l.3 1.7l.2-1.5l.2-.2l.2 1.4h.2l.2-.1l.2-.7l.3 .9l.2-.8l.2 1.3l.2-3l.2 1.5l.2 1.7l.2-1.5l.2-.2l.3 .3l.2 1.7l.2-1.3l.2-.8l.2-.8l.2 .8l.2-1.1l.3 2.5l.2-1l.2-.4l.2-1.3l.2 2.6l.2 .1l.2-1h.3l.2 .6l.2 .4l.2-.6l.2-.3l.2 2l.2-1.2l.3-2.4l.2 1l.2 1.6l.2-10.3h.2l.2 10l.2-.5l.2 .9l.3-1.4l.2 .9l.2-.9l.2 1.5l.2-.5l.2-2.4l.2 2.8l.3 .4l.2-1.5l.2 .8l.2-1.3l.2 .1l.2 .4l.2 .2l.3-.3l.2 1.3l.2-1.2l.2-.9l.2 .9l.2-.3l.2-.4l.2 2.1l.3-1.4l.2 1.3l.2-1.4l.2 1.1l.2-.9l.2 1.2l.2-1.4l.3-.8l.2 .8l.2-.2l.2 .9l.2 1.4l.2-3.2l.2 .1l.3 1.1l.2 1.8l.2-1.2l.2-.4l.2-1.6l.2 2.9l.2 .2l.2-.6l.3-1.2l.2 .5l.2 1.1l.2-.4l.2-1.6l.2-.4l.2 .9l.3-.8l.2 1.7l.2 .4h.2l.2-1.8l.2 2.4l.2-1.3l.3-1.2l.2 .3l.2 .6l.2-1l.2 1.5l.2-1.8l.2 7h.3l.2-7.2l.2 1l.2 1l.2-.7l.2 .9l.2-.4l.2-.6l.3 .1l.2-.5l.2 .8l.2-.5l.2 1.3l.2-1.3l.2 .8l.3-.1l.2 .2l.2 .9l.2-1.4l.2-.3l.2-.3l.2 .2l.3 1.3l.2-2.6l.2 1.1l.2 1.3l.2-1.9l.2-4.9h.2l.2 7.1l.3 .2l.2-2.6l.2 1.3l.2-1l.2 .9l.2-1.2l.2 2.5l.3-1.7l.2 1.7l.2-.6l.2-2l.2 2.8l.2-2.2l.2 .4l.3 1.5l.2-1.1l.2 .5l.2-1l.2 .9l.2 .1l.2-.6l.3 .7l.2-1.2l.2 .7l.2-.6l.2 1.1l.2-1.1l.2-1.4l.2 1.7l.3 .3l.2 .5l.2 .2l.2-1.1l.2 1.3l.2-.3l.2-1.2l.3 .3l.2-.1l.2-1.8l.2 1.8l.2 .9l.2-1l.2 .6l.3 .3l.2-.6l.2 1.4l.2 174.6l.2-174.4l.2-1.8l.2-.2l.2 .2l.3-.8l.2 2.2l.2-1.7l.2-1.5l.2 3.8l.2-1.1l.2-.7l.3-.1l.2 .5l.2-1.7l.2 1.3l.2-.4h.2l.2 .9l.3 1.6l.2-1.2l.2-.4l.2-1.3l.2 1.4l.2-1.8l.2 94.7h.2l.3-93.8l.2-.9l.2 2l.2-2.6l.2 2.5l.2 .9l.2-1.5l.3-.7l.2 1.2l.2-.8l.2 .6l.2-.5l.2-.5l.2 .8l.3-1l.2 .9l.2-.7l.2 .4l.2 1.9h.2l.2-1.3l.3 1.7l.2-1.8l.2 .3l.2-1.2l.2 .1l.2 1.8l.2-.1l.2 .2l.3-.5l.2 .3l.2-1.5l.2 .7l.2-.6l.2 .3l.2-.7l.3-.1l.2 1.8l.2 .5l.2-.9l.2-1.8l.2 1.3l.2 .3l.3-1.2l.2 2.3l.2-2.7l.2 2.6l.2-1.4l.2 .1l.2 1.1l.2-1.2l.3 .9l.2-.9l.2-.9l.2 1.8l.2-2.4l.2 1.4l.2-.6l.3 .2l.2 .7l.2-1l.2-.2l.2 1.6l.2-1.6l.2 .3l.3 .3l.2-1.1l.2 2.1l.2-1l.2 1.1l.2-.5l.2-1.8l.2 2.6l.3-1.3l.2-.5l.2-.4l.2 .5l.2 1.2l.2-.7l.2-1.9l.3 2l.2 1.5l.2-1.2l.2-1.1l.2 1.5h.2l.2-1l.3 .6l.2 .2l.2 .4l.2-1.1h.2l.2-1.1l.2 1.2l.3 1.6l.2-.9l.2-1.7l.2 1l.2-8.6h.2l.2 8.9l.2-.2l.3-.5l.2 2.1l.2-2.9l.2 .5l.2 2.1l.2-1.3l.2-.5l.3 2.2l.2-2.9l.2 1.6l.2-1.1l.2 .2l.2 2.1l.2 .4l.3-2.4l.2 2l.2-3l.2 1.2l.2 .4l.2-.2l.2-.6l.2 .2l.3 .4l.2-.3l.2 .6l.2 .3l.2-.2l.2 1.4l.2 91.9l.3-.5l.2-93.2l.2 1.5l.2-1.5l.2 1.5l.2-.5l.2-.7l.3-.5l.2-1.1l.2-.7l.2 1.5l.2 .6l.2-1.3l.2 1.2l.2 .4l.3-1.5l.2 .6l.2 1.3l.2-.2l.2-.2l.2 92.7h.2l.3 1.5l.2-95.6l.2 .1l.2 .9l.2 1.1l.2-1l.2-.2l.3 .6l.2 1.1l.2-1.1h.2l.2 .6l.2-.9l.2-.4l.3 1.3l.2-.6l.2-.1l.2 .6h.2l.2 .1l.2-1l.2-2.1l.3 1.3l.2-1.1l.2 1.3l.2 .9l.2-1.3l.2 1.9l.2-.1l.3-2.6l.2 1.4l.2 1.1l.2 .7l.2-.2l.2-1.8l.2 .7l.3-.1l.2 1.1l.2-.5l.2-.6l.2 .6l.2-.1l.2-1.4l.2-.5l.3 .7l.2-.2l.2-.6l.2 2.3l.2 .3l.2-2l.2-1.1l.3 1.4l.2 .6l.2 1.1l.2-2.2l.2-4.9h.2l.2 6.1l.3 .6l.2-.8l.2 .7l.2-.6l.2-.2l.2-.3l.2-.2l.2 .8l.3-.7l.2 1.7h.2l.2-.5l.2 .5l.2-1.4l.2-.7l.3 .3l.2 1.7l.2-1.6l.2 1.1l.2-.7l.2-1.2l.2 2.8l.3-1l.2 .6l.2 .3l.2 .7l.2-2.6l.2 .6l.2 .3l.3-.4l.2 .1l.2 .2l.2-1.1l.2 .4l.2-.7l.2 .4l.2 .4l.3 105.8h.2l.2-105.5l.2 .6l.2-1.2l.2-.7l.2 2l.3-1.5l.2-.6l.2 1.1l.2 .6l.2-1.1l.2 .9l.2-1.4l.3 2.1l.2-1.3l.2-.5l.2 .2l.2 2.4l.2-1.1l.2-.3l.2 .6l.3-2.5l.2 2.3l.2-.9l.2 2.2l.2-.1l.2-2.5l.2 .3l.3 .4l.2 .4l.2-.6l.2 .4l.2 1.3l.2-.9h.2l.3-.7l.2 .7l.2 .2l.2-.4h.2l.2 .6l.2 92.5l.2 2l.3-.8l.2-94.5l.2 .8l.2-2l.2 .4l.2 1.2l.2-.3l.3-1.4l.2 2.7l.2-1.9l.2-.1l.2 .5l.2 .9l.2-1.2l.3 .3l.2 .5l.2 1.3l.2-1.1l.2-2.5l.2 1.9l.2 .7l.3-.8l.2 94.7l.2-1.3l.2-.6l.2-92.7l.2-.2l.2-.6l.2-.3l.3 .7l.2 1.9l.2-2.4l.2 2.2l.2-2.2l.2 .8l.2 .8l.3-.5l.2-.9l.2-.4l.2 .9l.2 .4l.2-1.1l.2 .7l.3 .2h.2l.2-.9l.2 1.3l.2-1.3l.2 .8l.2 1.3l.2-.5l.3-1.1h.2l.2 .7l.2-1.4l.2 1.4l.2 1.6l.2-1.4l.3-1.9l.2 .9l.2 .5l.2 .2l.2-.9l.2 .9l.2 .1l.3-1l.2 .9l.2-.4l.2-.2l.2 2.3l.2-2.4l.2 .7l.2-.1l.3-.1l.2 1.7l.2-1l.2-.9l.2-.4l.2-1h.2l.3 .7l.2-.4l.2 1.3l.2 1.7l.2-1.9l.2-.2l.2 .3l.3 .6l.2-1.3l.2 1.2l.2-.7l.2 1.2l.2-.7l.2-.4l.3 .4l.2-.6l.2 1.1l.2-.7l.2-1l.2 .6l.2-.1l.2 1.3l.3-1.3l.2-.3l.2 2l.2-1.2l.2 .6l.2 .2l.2-.3l.3 1.2l.2-3.2l.2-.5l.2 1.1l.2 1.9h.2l.2-1.5h.3l.2 .3l.2 .9l.2 .3l.2-.9l.2-1.4l.2 2.3l.2-.9h.3l.2-.7l.2 1.3l.2-.6l.2-.7l.2-1l.2 .6l.3 1.7l.2 1.2l.2-1.7l.2-2l.2 1.7l.2 1.2l.2-1.9l.3-.5l.2 .3l.2 1l.2-2.2l.2 2.5l.2 .3l.2-.3l.2-.6l.3-.6l.2 .6l.2-.4l.2 1.9l.2-.6l.2 1.3l.2-.3l.3-.4l.2-1.8l.2-.7l.2-.1l.2 1.3l.2 .3l.2 92.8l.3 .4l.2-1.3l.2 3.2l.2-95.2l.2 .3l.2-.5l.2-.7l.3 .5l.2 .7l.2-.6l.2-.5l.2 1.5l.2 1.1l.2-2.1l.2 1.6l.3-3.6l.2 2l.2 .7l.2-1.8l.2 .2l.2 1.5l.2-.3l.3-1l.2 1.9l.2 .9l.2-1.6l.2 94l.2-.4l.2 .4l.3-1.2l.2-.9l.2-91.6l.2 .3l.2-.9l.2-.3l.2 2.1l.2-2.4l.3-.7l.2 .8l.2 2.2l.2-1.7l.2-1h.2l.2 1.8l.3-.4l.2-1.1l.2 .1l.2 1.4h.2l.2 .3l.2-1.4l.3-.5l.2 .8l.2-1.3l.2 .9l.2 .4l.2 .1l.2 .6l.2-2.1l.3 .5l.2 1.4l.2-1.5l.2-1.2l.2 1.2l.2 1.2l.2 .5l.3-1.8l.2 2.6l.2-3.4l.2 3.4l.2-2.6l.2-.3l.2 .6l.3 91.8l.2-23.5l.2 28.5l.2-10.4l.2-7.3l.2 17.7l.2-6.7l.3 6.7h.2l.2-26.6l.2-2.1l.2-30.7l.2 46l.2 13.4l.2-13.5l.3 13.5l.2-51.8l.2 17.4l.2 8.8l.2-23.5l.2 49.1l.2-3.2l.3-18.2l.2 10.6l.2-36.7l.2 5.4l.2-14.5l.2 22.8l.2-11.7l.3 4.7l.2 32.6l.2-19.4l.2-11.1l.2-48.8l.2 31.9l.2 29l.2-54l.3 29.9l.2 46.3l.2-38.4l.2-5.9l.2 43.1l.2-25.6l.2 3.6l.3 17.6l.2-26.8l.2 .2l.2-20.5l.2 40.2l.2-18l.2-12.4l.3 47.3l.2-15.7l.2 12.7l.2-9.1l.2 8l.2-46.6l.2-.1l.2 39.2l.3-24l.2 29.8l.2-6.1l.2 11.9h.2l.2-27.5l.2-5.9l.3-4.3l.2 24.3l.2-2.6l.2 4.6l.2 7.7l.2 .4l.2-43l.3 13.7l.2 7.1l.2 25.5l.2-47.8l.2 34l.2-1.9l.2 15.7l.3-10.3l.2 1.6l.2 8.7h.2l.2-59.3l.2 20.7l.2 38.6l.2-53.3l.3 23.7l.2-14.3l.2 20.6l.2-21.5l.2 13.8l.2 5.2l.2 25.8l.3-24.1l.2-39.5l.2 38.5l.2-7.2l.2 29.6l.2-16.4l.2-19l.3 38.1l.2-38.7l.2-7.2l.2 45.9l.2-20.8l.2 20.8l.2-94.6l.2-1.8l.3 1.2l.2-1.1l.2 .4h.2l.2 .2l.2-.7l.2-.3l.3 16.5l.2-15l.2-2.1l.2 .4l.2-.3l.2 73.7l.2-73.8l.3 1.9l.2-1.2l.2 70.1l.2-70.2l.2-.5l.2 1.8l.2-1.2l.2-.4l.3 1.5l.2-2.6l.2 2.3l.2 16.8l.2 .1l.2-15.6l.2-2l.3 .2l.2 1.6l.2-2.4l.2 .4l.2-.5l.2 .6l.2-.2l.3 .2l.2 49.2l.2-49.5l.2 1.1l.2 .2l.2-.3l.2 78.4l.3-79.2l.2 40.8l.2-41.6l.2 27l.2-25.3l.2-1.6l.2 .9l.2 1.2l.3 .9l.2-2.1l.2-1.6l.2 2.5l.2-1.9l.2 1.8l.2 .3l.3 .5l.2 30.4l.2-31.3l.2 .3l.2 82.7l.2-82.2l.2 .9l.3-2.8l.2 .4l.2-.5l.2 1.6l.2-.3l.2-1.9l.2 87.1l.2-87.2l.3 2.9l.2-.7l.2-1h.2l.2-.3l.2 1.2l.2-.5l.3 .4l.2 1.1l.2-2.2l.2 64.7l.2-63.4l.2-2l.2 52.2l.3 9.8l.2-60.4l.2-.9l.2 2.4l.2-1.8l.2 46.9l.2-48.5l.2 15l.3 64.7l.2-80.1l.2 47.6l.2-32.4l.2 52.4l.2-28.5l.2-38.5l.3 1.4l.2 84.8l.2-8.9l.2-75.1l.2-.8l.2 76.2l.2-51l.3-25.2h.2l.2 27.3l.2-26.4h.2l.2 68.9l.2-68.3l.3-1.7l.2 .5l.2 1.4l.2-.9l.2 30.6l.2-31.5l.2 .7l.2-2.1l.3 2.2l.2 42.6l.2 11.7l.2-56.2l.2 2.2l.2-1.9l.2 .6l.3 .8h.2l.2 13.3l.2-13.6l.2-.2l.2 .4l.2 1l.3-2.2h.2l.2 .9l.2-1.2l.2 .8l.2 .4l.2 .1l.2 22.4l.3 53.6l.2-75.4l.2 82.8l.2-36.9l.2-45.8l.2 .3l.2-.5l.3 .2l.2-1.4l.2-1.1l.2 3l.2 .1l.2-1.2l.2-1l.3 .6l.2 .6l.2 18.5l.2-17.7l.2 68.6l.2-69.1l.2-1.6l.2 .2l.3-.2l.2 .1l.2 .4l.2 1.5l.2 31l.2-32.7l.2-.7l.3 .2l.2 .8l.2 52.2l.2-52.6l.2 .9h.2l.2 .4l.3-1.5l.2 .9l.2 .1l.2 1.2l.2-2.4l.2-.2l.2 .5l.3 .7l.2 .3l.2 1l.2-1.3l.2 35.4l.2-36.9l.2 22.4l.2-20.1l.3-1.5l.2 1.1l.2-1.2l.2 36l.2-33.6l.2-2.3l.2 1.4l.3 15.7l.2-16.6l.2 1l.2 57.5l.2-59.1l.2 1.5l.2 10.1l.3-11l.2 .5l.2-.3l.2 82.3l.2-2.3l.2-80.7l.2 .3l.2 .7l.3-.2l.2 75.2l.2-76l.2 1.5l.2 .7l.2-2.6l.2 .4l.3 1.4l.2-.9l.2 22.8l.2-23.4l.2 19l.2 37l.2-55.9l.3 59l.2-57.3l.2-.1l.2 42.3l.2-44.6l.2 1.7l.2 10l.2 62.1l.3-72l.2 .5l.2-.8l.2-.4l.2 .3l.2 .9l.2 .1l.3-1.7l.2-.6l.2 1.7l.2 1l.2-1l.2 45.8l.2-46.6l.3 15.6l.2-14.2l.2-1l.2 .3l.2 .6l.2 15.2l.2-14.7l.3 56.6l.2-18.8l.2-39.5l.2 1.6l.2-2l.2 50l.2-48.1l.2-.9l.3-.5l.2 1l.2-.2l.2-1.7l.2 1l.2 .4l.2 1.3l.3-1.2l.2 9l.2-9.4h.2l.2 46.4l.2-38.2l.2-8.5l.3-.1l.2 2.1l.2-1.7l.2 84l.2-82.4l.2-1.3l.2-1.5l.2 1.2l.3 1.1l.2 66.8l.2-65.8l.2 16.3l.2-19.4l.2 .4l.2 1.9l.3-.6l.2-2.5l.2-.2l.2 1.2l.2 .2l.2 66.8l.2-67.3l.3 2.6l.2-2.5l.2 2.6l.2-1.2l.2 .2l.2-.4l.2 68.1l.2-67.1l.3-1.1l.2 .1l.2 .1l.2-.4l.2 .5l.2 .7l.2 .3l.3-1.9l.2 17.7l.2 26.3l.2-41.9l.2-1l.2-.4l.2 1.1l.3-2.5l.2 69.3l.2-5.9l.2-62.9l.2 1.2l.2-.5l.2 .3l.3 .5l.2 18.7l.2-17.4l.2 72.6l.2-7.1l.2 22.4l.2-3.1l.2 6.8l.3-27.9l.2 18.7l.2 2.2l.2-56.1l.2 7.8l.2 29.7l.2 27l.3-27.1l.2 7.7l.2-8.3l.2 20.8l.2 5.3l.2-16.2l.2-8l.3 22.4l.2-9.7l.2 4.6l.2-27.6l.2 3.4l.2 14.1l.2 14.1l.2-28l.3 5.3l.2 2.7l.2 21l.2-6.6l.2-50.4l.2 50.1l.2-22.6l.3 4.6l.2 17.9l.2 8.2l.2-26.1l.2-23.2l.2-8.9l.2 61.6l.3-34.5l.2 4.3l.2 2l.2-4.3l.2 22.2l.2 10.3h.2l.3-12.9l.2-9.1l.2 22l.2-10.9l.2-8.2l.2-30.6l.2 49.7h.2l.3-46.4l.2 21.4l.2 22.7l.2-46.5l.2 38.1l.2-14.2l.2-8.6l.3 33.5l.2-10.9l.2-7.1l.2-2.4l.2-1.3l.2-18.6l.2 16.4l.3-20.3l.2 37.1l.2 7.1l.2-36.1l.2 11.7l.2 15.5l.2 8.9h.2l.3-27.6l.2 3.8l.2-25.7l.2 45.8l.2-9.3l.2-1.4l.2-50.7l.3 52.1l.2-11.5l.2 17.3l.2-16.6l.2 9.1l.2 11.2l.2-11l.3-13.2l.2 19.4l.2 8.3l.2-65.8l.2 65.8l.2-14.3l.2 14.3h.2l.3-27.3l.2 27.3l.2-23.6l.2 113.2l.2-101.9l.2-15.4l.2-12.3l.3 25.4l.2 14.6l.2-26.4l.2 26l.2 .4l.2-58l.2 58l.3-6.6l.2 4.4l.2-9.3l.2 11.5l.2-12.5l.2-.2l.2 4.2l.3-56.3l.2 13.7l.2 17.9l.2 15.1l.2-40.8l.2 51.6l.2-31.6l.2-7.9l.3 27.1l.2 19.7l.2-20.8l.2 11.3l.2 9.5l.2-6.1l.2 6.1l.3-39.7l.2 15.2l.2-26.4l.2 12.6l.2 38.3l.2-48.1l.2 16.3l.3 14.6l.2-13.2l.2-9.2l.2-22.1l.2 61.7l.2-28.7l.2 28.7l.2-49.1l.3 38.6l.2-21.4l.2 23.1l.2-7.6l.2 16.4" stroke="#00f" stroke-dasharray="12 11.6" stroke-linejoin="bevel"/>
</g>
<g font-size="23.1" fill="#000">
<g text-anchor="middle">
<text x="79.3" y="877.4">0</text>
<text x="186.1" y="877.4">500</text>
<text x="293" y="877.4">1000</text>
<text x="399.9" y="877.4">1500</text>
<text x="506.7" y="877.4">2000</text>
<text x="613.5" y="877.4">2500</text>
<text x="720.4" y="877.4">3000</text>
</g><g text-anchor="end">
<text x="70.1" y="854.2">0.6</text>
<text x="70.1" y="784.8">0.7</text>
<text x="70.1" y="715.3">0.8</text>
<text x="70.1" y="645.9">0.9</text>
</g></g>
<g font-size="26" fill="#000" text-anchor="middle">
<text x="399.5" y="911">Data samples</text>
<text transform="translate(36 744) rotate(-90)">ERF</text>
</g>
<rect x="547.9" y="649.8" width="156.8" height="57.3" fill="#fff" stroke="#1c1c1c" stroke-width="1.6"/>
<path d="M553.6 665.6h59.3" stroke="#f00" stroke-width="4.5" fill="none"/>
<path d="M553.6 691.8h59.3" stroke="#00f" stroke-width="4.5" stroke-dasharray="12 11.7" fill="none"/>
<g font-size="21" fill="#000"><text x="617.4" y="673.3">Actual</text><text x="617.4" y="699.3">Predicted</text></g>
<clipPath id="c5"><rect x="883.1" y="635.9" width="646" height="213.7"/></clipPath>
<path d="M885.4 638.2H1526.8V847.3H885.4ZM885.4 847.3v-7.2 M885.4 638.2v7.2M956.7 847.3v-7.2 M956.7 638.2v7.2M1027.9 847.3v-7.2 M1027.9 638.2v7.2M1099.2 847.3v-7.2 M1099.2 638.2v7.2M1170.5 847.3v-7.2 M1170.5 638.2v7.2M1241.7 847.3v-7.2 M1241.7 638.2v7.2M1313 847.3v-7.2 M1313 638.2v7.2M1384.3 847.3v-7.2 M1384.3 638.2v7.2M1455.5 847.3v-7.2 M1455.5 638.2v7.2M1526.8 847.3v-7.2 M1526.8 638.2v7.2M885.4 847.3h7.2 M1526.8 847.3h-7.2M885.4 795h7.2 M1526.8 795h-7.2M885.4 742.8h7.2 M1526.8 742.8h-7.2M885.4 690.5h7.2 M1526.8 690.5h-7.2M885.4 638.2h7.2 M1526.8 638.2h-7.2" fill="none" stroke="#111" stroke-width="1.4"/>
<g clip-path="url(#c5)" fill="none" stroke-width="4.5">
<path d="M886.1 782.2l.7-59l.7 .1l.8 .2l.7 .3l.7-.7h.7l.7 .5l.7-.6l.7 .4l.7-.6l.8 .4l.7 .2l.7-.4l.7 .3h2.1l.7-.1l.8-.1l.7 .1l.7-.3l.7 .7l.7-.2l.7-.3l.7 .4l.7-.5l.8 .2l.7 .1l.7-.1l.7 .2l.7 .2l.7-.5h.7l.7 .2h.8l.7 .4l.7-.2l.7-.1l.7-.1l.7-.3l.7 .4l.7 .1l.8-.4l.7 .2l.7 .3l.7-.6l.7 .5l.7-.1l.7 .1l.7-.3l.8-.1l.7 .3l.7-.2l.7 .2l.7-.6l.7 .2l.7 .4l.7-.2l.8-.1l.7 .1l.7 .3l.7-.2l.7-.1h.7l.7 .3l.7-.3l.8 .3l.7 .2l.7-.4l.7-.2l.7 .1l.7-.2l.7-.1l.7 .3l.8 .2l.7-.1l.7 .3l.7-.3h1.4l.7-.2l.8 .6l.7-.6l.7 .3l.7-.3l.7 .2l.7 .2l.7-.4l.7 .4l.8-.3l.7 .2h.7l.7-.1l.7-.4l.7 .3l.7 .1l.7-.3l.8 .3l.7 .1l.7 .1l.7-.2h.7l.7 .1l.7 .3l.7-.4h.8l.7 .1l.7 .1h.7l.7-.1l.7-.4l.7 .3l.7 .3l.8-.4l.7 .2l.7-.6l.7 .6l.7-.1h.7l.7-.1l.7 .1h1.5l.7 .1h.7l.7 .2l.7-.2h2.2l.7-.1l.7-.1l.7 .2l.7-.1l.7-.1l.7 .2l.7-.1l.8-.1l.7 .5l.7-.5l.7 .2l.7 .7l.7-.9l.7 .4l.7-.5l.8 .4l.7-70.2l.7-.2l.7 .3l.7 .1l.7-.2l.7-.3h1.5l.7 .2h.7l.7-.2l.7 .1l.7 .3l.7-.3l.8 .3h.7l.7-.2l.7 .1l.7-.2l.7 .1l.7 .1h.7l.8 .1l.7-.1l.7-.3l.7 .2l.7 .1h.7l.7 .1l.7-.1l.8 .3l.7-.5l.7 .2l.7-.2h.7l.7 .1l.7 .3h.7l.8-.4h.7l.7 .4h.7l.7-.5l.7 .2l.7-.4l.7 .3h.8l.7 .2h.7l.7 .3l.7 .2l.7-.8l.7 .1l.7 .3l.8-.4l.7 .6l.7-.7l.7 .3l.7-.3l.7 .7l.7-.6l.7 .1l.8 .1l.7 .2l.7-.2h.7l.7 .2l.7 .1h.7l.7-.1l.8-.4h.7l.7-.1l.7 .3l.7 .4l.7-.2l.7 .1l.8-.2l.7-.3l.7 .3h.7l.7-.2h1.4l.7 .4l.8-.1h.7l.7-.3l.7 .1l.7 .3l.7-.6l.7 .5l.7-.1h.8l.7 .1l.7-.1l.7-.1h1.4l.7 .2h.7l.8-.4l.7 .3l.7-.3l.7 .2l.7-.5l.7 .6l.7 .3l.7-.3l.8-.3l.7-.1h.7l.7 .2l.7-.2l.7 .6l.7-.1h.7l.8-.3l.7-.1l.7 .2h.7l.7 .1l.7-3.1l.7 3l.7-.3l.8 .2h.7l.7-.1l.7 .1l.7 .3l.7-.5l.7 .4l.7-.1l.8 .1l.7-.2l.7 .2l.7-.1l.7-.3l.7 .5l.7 .2l.7-.6l.8 .2l.7-.1h.7l.7 .2l.7-.1l.7 .4l.7-.3l.7-.1l.8 .3l.7-.1l.7-.1l.7-.1l.7 .1l.7-.3l.7 .1h.8l.7 .5l.7-.3l.7-.1l.7 .1l.7-.1l.7 .2h.7l.8-.1l.7-.1l.7 .1h.7l.7-.2h2.1l.8 .1l.7 .1l.7-.4l.7 .3l.7-.1l.7 .3l.7 .1h.7l.8-.2l.7 70.2l.7-.4l.7-69.8h.7l.7-.4l.7 .4l.7 70.1l.8-.7l.7 .5l.7-70l.7 .1l.7-.3h.7l.7 .7l.7-.4l.8-.1l.7-.1l.7 .4l.7-.3l.7-.3l.7 .1l.7 .4l.7-.2l.8 .2l.7-.3l.7 .7l.7-.8l.7 .2l.7-.2l.7 .5l.7-.2l.8 .2l.7-.4l.7 .1l.7-8.2l.7 8.1l.7 .6l.7-.5h.7l.8-.2l.7 .1l.7 .3l.7-.1l.7-.3l.7 .4l.7-.2l.7 .2l.8-.4h.7l.7 .2l.7 .2l.7-.1h1.4l.8-.1l.7 .3h.7l.7-.1l.7-.3l.7 .4l.7-.3l.7-.1l.8 .5l.7 .1l.7-.1l.7-.4h.7l.7 .1l.7 .2l.7-.3l.8 .4l.7-.4l.7 .1h.7l.7-.3l.7 .5h.7l.7-.3l.8-.2l.7 .5h.7l.7-.2l.7 69.9l.7 .3l.7-.4l.7-70.3l.8 .5l.7 .1l.7-.6l.7 .7l.7-.5l.7 .1l.7 .5l.7-.5l.8-.1l.7 .4l.7 .4l.7-.4l.7-.5l.7 .6l.7-.4l.7 .4l.8-.1h.7l.7-.1l.7-.1l.7 .1l.7 .1l.7-.1h1.5l.7 .1h.7l.7-.2l.7-.4l.7 .5l.7-.1l.7 .2h.8l.7-.4l.7 .3l.7-.1l.7-.1l.7 .3l.7-.4l.8 .1h.7l.7 .3l.7-.2l.7 .5l.7-.5h.7l.7 .2l.8-.2l.7 .4l.7-.2l.7 .2l.7-.4l.7 .2l.7-.3l.7 .3l.8-.2l.7 .1l.7-.1l.7-.1l.7-.1h.7l.7 .6l.7-.4l.8 .3l.7-.3l.7-2.5l.7 2.4h.7l.7 .2l.7 .2l.7 .1h.8l.7-.3l.7-.1l.7-.1h.7l.7 .4l.7-.2l.7-.2l.8 .1l.7 .1l.7 .3l.7-.7l.7 .4l.7 .3l.7-.4l.7 129h1.5l.7-128.7l.7-.5l.7 .3l.7 70.4l.7-.3l.7 .5l.8-.6l.7 .2l.7-70.3l.7-.1l.7 .2l.7-.5l.7 .4l.7-.1l.8 .2h.7l.7 .1l.7-.4l.7 .1l.7-.2l.7 .5h.8l.7-.1h1.4l.7 .4l.7-.4l.7-.1h.7l.8 .1h.7l.7-.3h.7l.7 .2l.7 .1h.7l.7-.2l.8 .1h.7l.7-.2l.7 .4l.7 .1l.7-.2l.7-.4l.7 .2l.8 .5l.7-.5l.7 .1h.7l.7 .4l.7-.2h.7l.7-.3l.8 .3h.7l.7 .2l.7-2.9l.7 2.6l.7-.2l.7 .2l.7-.2l.8 70.4l.7-.3l.7 .2l.7-70l.7-.3l.7 .4l.7-.3h2.2l.7-.2l.7 .4l.7-.5l.7 .1l.7 .2l.7 .1l.8 .2l.7-.1h.7l.7-.2l.7-.3l.7 .7l.7-.5l.7 .1h1.5l.7 .2l.7 70l.7-.1l.7-.2l.7-69.8l.7-.3h.8l.7 .3l.7-.1l.7-.2l.7 .5l.7-.1l.7-.3h.8l.7 .3l.7 .1l.7-.4l.7-.1l.7 70.4l.7 .1l.7-.4h.8l.7 .5l.7-70.2l.7-.1l.7-.3l.7 70.1l.7 .2l.7 .4l.8-.9l.7 60.9l.7-60.7h.7l.7 .2h.7l.7 .3h.7l.8-70.1l.7 .1l.7-.2l.7 .2l.7-.5l.7-.3l.7 1.1l.7-.3l.8-.4l.7 .1l.7 .1h.7l.7-.1l.7 .2l.7-.3l.7-.1h.8l.7-.1l.7 .3h.7l.7 .4l.7-.3l.7 .2l.7-.5l.8-.1l.7 .4h.7l.7 .1l.7-.1l.7 .1l.7-.3l.7 .2l.8-.4l.7 .2l.7 .2l.7 .1l.7-.3l.7-2.4l.7 2.9l.7-.3l.8 .1l.7-.6l.7 .5l.7 .1l.7 .3l.7-.7l.7 .2l.7 .1h.8l.7-.1l.7-.1l.7 .1l.7 .2l.7-.2l.7 .5l.8-.3l.7-.1l.7 .1l.7 70l.7-.2l.7 .1l.7 .3l.7-.4l.8-.1h.7l.7 .1l.7-.1l.7 .2l.7 .6l.7-.5l.7 .2l.8-.3l.7-.1l.7 .2l.7-.3l.7 .5l.7-.4l.7 .3h.7l.8 .1l.7-.3l.7-.3l.7 .4h.7l.7-.2l.7 .3l.7-.2l.8 .1l.7 .1l.7 .1l.7-.5l.7 .2l.7 .2l.7-.4l.7-69.8l.8 .2h.7l.7-.2l.7 .1l.7-.2l.7 .3l.7 .1l.7-.3l.8-.2l.7 .3l.7-.7l.7 .1l.7 .5l.7 .1l.7-.2l.7 .2l.8-.1l.7-.1h.7l.7 .4l.7-.7l.7 .5l.7-.1l.7-.2l.8 .1h.7l.7-.1l.7 .4l.7-.3l.7-.1l.7 .2l.8-.3l.7-.1l.7 .4l.7-.3l.7 .2l.7-.2l.7 .3l.7 .3l.8-.5h.7l.7 .1l.7 .2h.7l.7-.2h.7l.7 .2l.8-.1l.7-.2l.7 .3l.7-.1l.7 .1l.7-.3l.7 .2h.7l.8-.2l.7 .1l.7 .2l.7-.4l.7 .6l.7-.1l.7-.3l.7 .1l.8-.3l.7 .2h.7l.7-.1l.7 .3l.7 .2l.7-.5l.7 .3l.8-.2l.7 .2l.7-.1l.7 .1h1.4l.7-.2l.7 .1l.8-.2l.7 .3h.7l.7 .1h.7l.7-.2h.7l.7-.1l.8-.1l.7 .1l.7 .1l.7 .1l.7-.4l.7 .2l.7 .6l.7-.6l.8-.1l.7 .3l.7-.2l.7 .1l.7-.1l.7 .1l.7-.1l.8 .1l.7-.1l.7 .2l.7-.2l.7 .2l.7 .2l.7-.4h.7l.8 .3l.7-.5l.7-4.3l.7 4.4l.7 .2l.7-.1h.7l.7-.1l.8 70.4l.7 .1l.7-.6l.7 .3l.7-.4l.7 .4l.7 .3l.7-70.4l.8-.1l.7 .1l.7 .1l.7-.1l.7 .3l.7 .1l.7-.3l.7 69.9l.8 .6l.7-.5l.7 .1l.7 .1l.7-.2h1.4l.7-.1h.8l.7-.1h.7l.7 .3l.7-.1l.7 59.3l.7-.3l.7 .2l.8-59l.7-.1l.7-.2l.7 .2l.7-.6l.7 .5l.7 .3l.7-.7l.8 .5h.7l.7-.2l.7 .2l.7-.4l.7-.1l.7 .1l.7 .3l.8 .1l.7-.2l.7-.1" stroke="#f00" stroke-linejoin="round"/>
<path d="M886.1 781.8l.7-58.7l.7-.8l.8 1l.7 .7l.7 .2l.7-1.2l.7-.8l.7 10.1l.7-8.9l.7 .3l.8-1.2l.7 1.7l.7-.4l.7-1.5l.7 1.2l.7-.2l.7-.9h.7l.8 .6l.7-.6l.7-3.2l.7 4.8l.7-.7l.7 .7l.7-.3l.7 .2l.8-.7l.7 .6l.7 4.3l.7-4.8l.7-.9l.7 1.9l.7 .4l.7-1.3l.8-.1l.7 28.3l.7-28.8l.7 .9l.7-1.1l.7 .9h.7l.7-.8l.8 .1l.7 .4l.7 16.4l.7-17.7l.7 1.5l.7-.1l.7-.1l.7 .5l.8-1.3l.7-.2l.7 .8l.7 1.6l.7-.1l.7-1.2l.7 .5h.7l.8 13.7l.7-13.7l.7-.2l.7-.2l.7-.3l.7 .1h.7l.7 1.7l.8-1.1l.7-1.3l.7 .1l.7-.4l.7 1.7l.7-.1l.7-.3l.7-.8l.8 .7l.7-47.6l.7 65.9l.7-18.4l.7 .5l.7-.9l.7 2l.8-1.4l.7 .4l.7-.6l.7-.5l.7 .9l.7-1l.7 .7l.7-.3l.8 .4l.7-.3l.7-.7l.7 1.5h1.4l.7 .4l.7-.2l.8-1.6l.7 .9l.7-.6l.7 .4l.7-1.2l.7 1l.7 .1l.7-1.2l.8 2.2l.7-.2l.7-.1l.7 .4l.7-9.8l.7 8.7l.7-.8l.7 19.3l.8-19l.7-.4l.7 1.6l.7-.8l.7-.9l.7 1.7l.7-.6l.7-.1l.8 .4l.7-.2l.7 .4l.7 .5l.7-1.4l.7 .5l.7-.6l.7 .7l.8 .3l.7 .2l.7 .1l.7-.3l.7-.7l.7-.2l.7 .1l.7 .8l.8-.6l.7-.9l.7 1.1h.7l.7-.5l.7-.3l.7 1.5l.7-.8l.8-.5l.7-68.9l.7-.9l.7 .3h1.4l.7-.2l.8 .7l.7 .3l.7-1.2l.7-.3l.7-.6l.7 1.5l.7-.5l.7 .4l.8 .3l.7-.6l.7 .4l.7-.2l.7 .5l.7 .2l.7-.4l.7-1.2l.8 .6l.7-.2l.7 .8l.7 .5l.7-1.2l.7 .7l.7 .2l.7 .1l.8-1.2l.7-.2l.7-.1l.7-.5l.7 1.8h.7l.7 .2l.7-1.8l.8 1.9l.7-.9l.7-.4l.7 1.9l.7-2l.7-.1l.7 .7l.7 .7l.8-1.3l.7 .4l.7-.5l.7 1.1l.7 .9l.7-1.2l.7-.5l.7 1.5l.8-.4l.7 .2l.7-1.3l.7 1.8l.7-2.1l.7 1.5l.7-1.2l.7 .7l.8 .3l.7-.2l.7-.6l.7 .7l.7-.5l.7 .5l.7-.5l.7 .2l.8-.9l.7 1.8l.7-1.2h.7l.7 .7l.7 .2l.7-.8l.8-.5l.7 .4l.7-.3l.7 1.7l.7-2.3l.7 .5l.7 1l.7 .4l.8-1l.7-.2l.7 .6l.7 .1l.7-.5l.7 .1l.7-.4l.7-.3l.8 1l.7-.7l.7 1.1l.7-1.4l.7 1.9l.7-.6l.7-.1l.7-1l.8 1.2l.7-1.2l.7 .4l.7-.3l.7-.6l.7 1.5l.7-.2l.7-1.5l.8 .9l.7 1.4l.7-1.7l.7 .7l.7-.3l.7-.3l.7 .9l.7-1l.8 .3l.7 1.1l.7 .2l.7-1.2l.7-.3l.7 1.3l.7-1.3l.7 .3l.8-.6l.7 .1l.7 1.5l.7-2l.7 2l.7-.3l.7 .3l.7-.3l.8-.3l.7 .1h.7l.7 .1l.7 .5l.7-1.4l.7 .4l.7-.7l.8 1.1h.7l.7-.1l.7-1.1l.7 1l.7-.3l.7-.2l.7-.2l.8 1.7l.7-1.3l.7 .8l.7-.8l.7 .1l.7 .4l.7 .2l.8-1.1l.7 1.2l.7-1.1l.7-.1l.7 .7l.7 .1l.7 .3l.7 .6l.8-1l.7 .3l.7-1.7l.7 1.9l.7-.7l.7-.3l.7-.6l.7 .5l.8 .3l.7-.6l.7 .2l.7 .7l.7 .1l.7 .7l.7-.2l.7 .9l.8-.8l.7 69.8l.7-.7l.7-68.6l.7-1.7l.7-.3l.7 .3l.7 70.4l.8-.6l.7 .8l.7-71.2l.7 1.8l.7-.9l.7 .6l.7-1.3l.7 .2l.8-.2l.7 .8l.7-.4l.7 .4l.7 1l.7-1.4l.7 .4l.7 .4l.8 .8l.7-1.5l.7 .6l.7 .9l.7-.5l.7-.7l.7 .1l.7-.2l.8-.9l.7 1.5l.7 .4l.7-.1l.7 .5l.7-1.5l.7-.1l.7-1.2l.8 1.3h.7l.7 .9h.7l.7-1.2l.7-.1l.7 .6l.7 .6l.8-.8h.7l.7 .7l.7-.8l.7 .9l.7 .1l.7-.1l.8-.2l.7-.6l.7-.1l.7-.8l.7 .7l.7 1.7l.7-1l.7 .4l.8-1.2h.7l.7 .5l.7 .9l.7-.5l.7-.3l.7-.6l.7-.6l.8 1.8l.7-.6l.7 1.1l.7 .2l.7-2.2l.7 1l.7-.2l.7-.7l.8 .7l.7-.4l.7 .6l.7-.3l.7 69.7l.7 23.6l.7-21.5l.7-72.3l.8 1.2l.7-1.4l.7-.2l.7 .3l.7 1l.7 1.2l.7-1.6l.7-.7l.8 1l.7 .5l.7-.6l.7-1.1l.7 .7l.7-.1l.7-.1l.7 .9l.8-.6l.7-.1l.7 .6l.7 .2l.7-1.4l.7-.4l.7 .5l.7 .7l.8-.6l.7 .2l.7 .3l.7 .7l.7-.2l.7-1.1l.7 .9l.7-.7l.8 .6l.7 .6h.7l.7-.4l.7 .3l.7-.4l.7-1.6l.8 .5l.7 .3l.7 1.4l.7-1.3l.7 1l.7-.3l.7-.3l.7 .1l.8 24.3l.7-25.1l.7 .9l.7-1.5l.7 1.5l.7-.4l.7 .6l.7-.8l.8 1.5l.7-.2h.7l.7-.6l.7-.7l.7 1.1l.7-1.1l.7 .6l.8-.3l.7-.3l.7 .9l.7 .7l.7 .3l.7-.7l.7-1.3l.7 1.7l.8-1.3l.7 .1l.7-.5l.7 1.4l.7-1l.7 .8l.7-.9l.7 .4l.8 .2l.7-1.1l.7 1l.7-1.1h.7l.7 .6l.7-.1l.7 129.3l.8 6.8l.7-6.2l.7-129.5l.7 .6l.7-.6l.7 69.6l.7 .1l.7 1.9l.8-1l.7-.9l.7-69.1l.7-.5l.7 1.6l.7-1.5l.7-.5l.7 .8l.8-.5l.7 .6l.7 .4l.7 32.2l.7-31.9l.7-.6l.7-.7l.8-.8l.7 1.3l.7-1.8l.7 2l.7 .5l.7-1.5l.7 .6l.7-.3l.8-.4l.7 1.2l.7-1.3l.7 1.2l.7-2l.7 2.5l.7-1.5l.7-1.1l.8 1.6l.7-.1l.7-.6l.7 1.2l.7-1.5l.7 2.5l.7-1.8l.7 .6l.8-.4l.7-.8l.7 1.2l.7-1.2l.7 .4l.7-.3l.7 2.1l.7-.7l.8-.7h.7l.7-.6l.7 1.3l.7-.8l.7-.4l.7-.2l.7 .1l.8 71.9l.7-2.4l.7 1.4l.7-71.1l.7 1.2l.7 .5l.7-1.9l.7 1l.8 .3l.7 .7l.7-.7l.7-.8l.7 1l.7-.8l.7 1.1l.7-.9l.8-1.3l.7 1.6l.7-.6l.7 1l.7 .1l.7-.8l.7-.1l.7 .9l.8 .9l.7-9.3l.7 6.8l.7 71.3l.7-.4l.7-.5l.7-69.2l.7-.5l.8 .7h.7l.7-.6l.7 .5l.7 .4l.7-1.2l.7 .3l.8 1l.7-1.2l.7 .3l.7 .2l.7-1.1l.7 70.1l.7 .7l.7 1l.8-1.3l.7-.2l.7-69.6l.7 1.2l.7-1.3l.7 70.5l.7-.2l.7 .6l.8-2.1l.7 61.8l.7-59.4l.7-1.5l.7 1.3l.7-.8l.7 .6l.7-1.7l.8-68.5l.7-.3l.7-1l.7 1.1l.7-.6l.7 1.6l.7-.1l.7-.7l.8 .1l.7 .6l.7-.9l.7 .3l.7-1l.7 1.4l.7 .2l.7-.5l.8-.1l.7-.8l.7 .1l.7 .8l.7-1.6l.7 1.1l.7-.6l.7 .9l.8-.9l.7 .5l.7 .6l.7-.5l.7-1.2l.7 .6l.7 1.1l.7-.5l.8-.5l.7-.1l.7 1.4l.7-1.7l.7 1.3l.7-.9h.7l.7 1.6l.8-1l.7 .4l.7-.9l.7 1.3l.7-1.8l.7 1.1l.7-.9l.7 .3l.8 .3l.7 1.6l.7-1.7l.7-.8l.7 .8l.7-1.1l.7 1.1l.8-.2h.7l.7 .1l.7 70.2l.7-53.4l.7-1l.7 18.8l.7 1.2l.8-11.1l.7-2.7l.7 65.8l.7-50.4l.7 13.4l.7-16.2l.7-19.9l.7 40.6l.8-18.5l.7 16l.7 10l.7-48l.7 1.8l.7 16.5l.7 9.6l.7-4.6l.8-22l.7 40l.7-32l.7 12.6l.7 9.1l.7 9.1l.7 4.5l.7-35.5l.8 40.8l.7-20.8l.7-13.8l.7 3.6l.7 7.8l.7 1.2l.7 12.4l.7-18.7l.8-34.6l.7 19.1l.7-20.5l.7 35.1l.7-18.7l.7-16.1l.7-1l.7 27l.8-27.3l.7 1.1l.7 53.6l.7-15.5l.7-38.5l.7 .5l.7-.6l.7 1.2l.8 36l.7-36.4l.7 25.3l.7 13.1l.7 14.1l.7-54.3l.7 1.9l.7 .1l.8 .4l.7 18.8l.7-19.5l.7-1.4l.7 15.6l.7-14.3l.7-.9l.8 .6l.7 21.2l.7-20.8l.7-.6l.7 1l.7 47.2l.7-48.7l.7 .2l.8 6.9l.7-6.3l.7-.5l.7 52.5l.7-52.2l.7 1.5l.7-1.1l.7-.1l.8 19.5l.7-18.4l.7 13.9l.7-15.8l.7 1.4l.7 3.7l.7-4.1l.7-1l.8 18.1l.7-18l.7 1l.7 12l.7-12.9l.7-.2l.7-.9l.7 10.6l.8-8.7l.7 49.4l.7-11.4l.7-38.7l.7 .5l.7-.8l.7 1.3l.7-.2l.8 53.7l.7-1.4l.7-15.2l.7-37.9l.7 17.9l.7 22.8l.7-40l.7-.2l.8 57.9l.7-57.4l.7 26.9l.7-27l.7-1.4l.7 1.5l.7 .3l.7-.8l.8-.2l.7-.7l.7 18.4l.7-17.8l.7 .4l.7 12.2l.7 5.2l.7-17.5l.8 19.6l.7-19.3l.7 36.6l.7-36.6l.7-1.3h.7l.7 .2l.8 .5l.7 52.5l.7-43.2l.7-7.8l.7-1.1l.7 .5l.7-.9l.7 .3l.8-1.2l.7 50.7l.7-49.6l.7 12.8l.7-13.1l.7 .7l.7-.1l.7-1.2l.8 55.1l.7-26.3l.7-23l.7 32.6l.7-26.1l.7 18.6l.7 14.6l.7 9l.8 9.9l.7-28.4l.7-32.7l.7 43.9l.7 13l.7-11.8l.7 1.6l.7-32.5l.8 25.3l.7 16.7l.7-32.7l.7-25l.7 30.7l.7-19.9l.7-10.7l.7 10.1l.8 18.5l.7-9.4l.7 15.2l.7-7.2l.7-16.8l.7 32.5l.7 109.3l.7-88.2l.8-29.8l.7 26.4l.7-24.5l.7 29.8l.7-11.8l.7 5.2l.7-36.5l.7 35.9l.8 3.5l.7-60l.7 21l.7-15.4l.7 7.1l.7 48.2l.7-20.6l.7-31.7l.8 1.4l.7 50l.7-47.3" stroke="#00f" stroke-dasharray="12 11.6" stroke-linejoin="bevel"/>
</g>
<g font-size="23.1" fill="#000">
<g text-anchor="middle">
<text x="884.9" y="877.4">0</text>
<text x="956.2" y="877.4">100</text>
<text x="1027.4" y="877.4">200</text>
<text x="1098.7" y="877.4">300</text>
<text x="1170" y="877.4">400</text>
<text x="1241.2" y="877.4">500</text>
<text x="1312.5" y="877.4">600</text>
<text x="1383.8" y="877.4">700</text>
<text x="1455" y="877.4">800</text>
<text x="1526.3" y="877.4">900</text>
</g><g text-anchor="end">
<text x="875.7" y="855">0.5</text>
<text x="875.7" y="802.7">0.6</text>
<text x="875.7" y="750.5">0.7</text>
<text x="875.7" y="698.2">0.8</text>
<text x="875.7" y="645.9">0.9</text>
</g></g>
<g font-size="26" fill="#000" text-anchor="middle">
<text x="1205.3" y="911">Data samples</text>
<text transform="translate(834.9 744.1) rotate(-90)">ERF</text>
</g>
<rect x="1337.5" y="775.2" width="156.8" height="57.8" fill="#fff" stroke="#1c1c1c" stroke-width="1.6"/>
<path d="M1343.2 791h59.3" stroke="#f00" stroke-width="4.5" fill="none"/>
<path d="M1343.2 817.2h59.3" stroke="#00f" stroke-width="4.5" stroke-dasharray="12 11.7" fill="none"/>
<g font-size="21" fill="#000"><text x="1407" y="798.7">Actual</text><text x="1407" y="824.7">Predicted</text></g>
<clipPath id="c6"><rect x="77.5" y="931.1" width="645.7" height="213.1"/></clipPath>
<path d="M79.8 933.4H720.9V1141.9H79.8ZM79.8 1141.9v-7.2 M79.8 933.4v7.2M186.6 1141.9v-7.2 M186.6 933.4v7.2M293.5 1141.9v-7.2 M293.5 933.4v7.2M400.4 1141.9v-7.2 M400.4 933.4v7.2M507.2 1141.9v-7.2 M507.2 933.4v7.2M614 1141.9v-7.2 M614 933.4v7.2M720.9 1141.9v-7.2 M720.9 933.4v7.2M79.8 1141.9h7.2 M720.9 1141.9h-7.2M79.8 1089.8h7.2 M720.9 1089.8h-7.2M79.8 1037.7h7.2 M720.9 1037.7h-7.2M79.8 985.5h7.2 M720.9 985.5h-7.2M79.8 933.4h7.2 M720.9 933.4h-7.2" fill="none" stroke="#111" stroke-width="1.4"/>
<g clip-path="url(#c6)" fill="none" stroke-width="4.5">
<path d="M80 1038h.4l.3 26h.2l.2-52l.2 26l.2 26h.2l.2-26l.3-79h.2l.2 79l.2 26h.2l.2-105l.2 105l.2-26l.3-79l.2 105l.2-78l.2-27l.2 105l.2-52l.2-53l.3 105l.2-52l.2-53h.2l.2 79l.2 26l.2-26h.7l.2-79h.2l.2 79l.2-26l.2 52l.3-26h.2l.2-79l.2 79h.2l.2-79l.2 79l.3-79l.2 105l.2-105l.2 79h.2l.2-52l.2 26l.3 26l.2 26h.2l.2-105l.2 53l.2-53h.4l.3 105l.2-26l.2-52l.2 78l.2-105h.4l.3 79l.2-79l.2 105l.2-26h.2l.2-79l.2 79l.3 26l.2-26h.4l.2 26l.2-26h.2l.3-79h.2l.2 53l.2 26l.2-79h.9l.2 105l.2-105l.2 105l.2-26l.2-79h.2l.3 105l.2-105l.2 105l.2-26l.2-79l.2 79l.2-52l.3-27h.4l.2 105l.2-26h.2l.2 26l.2-52l.3-26l.2-27h.2l.2 105h.2l.2-105l.2 105h.3l.2-52l.2 52l.2-105h.2l.2 105l.2-52l.3-53h.2l.2 105h.2l.2-105h.2l.2 105l.2-26l.3-79h.2l.2 105l.2-105h.2l.2 53l.2 52h.5l.2-105l.2 105h.2l.2-26l.2 26h.5l.2-52l.2-53l.2 79l.2 26l.2-26l.3-52l.2-27h.2l.2 105h.2l.2-105h.2l.2 79l.3-79h.2l.2 27l.2-27l.2 105h.7l.2-105l.2 105l.2-105l.2 105l.2-26h.2l.3 26l.2-52h.2l.2 26l.2-79l.2 105h.2l.2-26h.3l.2 26l.2-105h.2l.2 105l.2-26l.2 26l.3-26l.2 26l.2-26l.2-79l.2 79l.2-79l.2 27l.3-27l.2 105l.2-105h.2l.2 27l.2 78l.2-105h.5l.2 105l.2-105h.2l.2 79l.2-52l.2 78l.3-105h.2l.2 27l.2-27l.2 105l.2-26l.2 26l.3-78l.2 78l.2-105l.2 79h.2l.2 26l.2-105h.3l.2 27l.2 78l.2-105l.2 105l.2-105l.2 27l.2 78l.3-26l.2-52l.2 78l.2-105l.2 79l.2-79h.2l.3 105l.2-105l.2 79l.2-79l.2 53l.2 26l.2-79l.3 105l.2-52l.2 26l.2 26l.2-105l.2 53l.2-53l.2 27l.3 52l.2-79l.2 105h.2l.2-105l.2 79h.2l.3-79l.2 79l.2-79h.2l.2 79l.2 26h.2l.3-105l.2 79l.2 26h.2l.2-105l.2 105l.2-105l.2 105l.3-105l.2 53l.2 52l.2-105l.2 79l.2-79l.2 53l.3 52h1l.2-105l.3 105l.2-26l.2 26h.2l.2-105h.2l.2 79l.3 26l.2-105l.2 105l.2-26l.2-26l.2-53h.2l.2 27l.3 52l.2-79h.6l.2 105h.2l.3-26h.2l.2-79l.2 105l.2-105l.2 79l.2-79l.3 105l.2-26l.2 26h.2l.2-105l.2 79l.2-79l.2 53l.3 52l.2-105l.2 105l.2-105l.2 105l.2-105l.2 105l.3-26l.2-79l.2 79l.2-79h.2l.2 105l.2-105h.3l.2 105l.2-52l.2 52l.2-105l.2 105l.2-26l.2-79h.3l.2 105l.2-105l.2 105l.2-105l.2 79l.2 26l.3-105h.6l.2 105h.4l.3-52l.2 26h.4l.2 26h.2l.2-26l.3 26l.2-26l.2-79l.2 105l.2-78l.2-27l.2 105l.2-26l.3-79l.2 79l.2-79h.2l.2 79l.2-79l.2 27l.3 52l.2-79l.2 79l.2-79l.2 105l.2-105l.2 53l.3 52l.2-26l.2-79h.2l.2 79h.4l.2-79l.3 105l.2-105h.2l.2 105l.2-26l.2-26l.2-53l.3 105l.2-26l.2 26h.2l.2-26l.2 26h2.4l.2-26h.2l.2 26l.2-26h.7l.2-79l.2 105h.2l.2-26l.2 26l.3-52l.2 52l.2-52l.2-53h.2l.2 105h.2l.3-26l.2-79l.2 79l.2 26l.2-26l.2 26l.2-105h.2l.3 79l.2-79l.2 79l.2-26l.2 26h.2l.2-79h.5l.2 105l.2-26h.2l.2 26l.2-26l.3 26h.2l.2-105h.4l.2 105h.9l.2-105h.2l.2 105h.2l.2-105l.3 53l.2 26h.2l.2 26l.2-78l.2-27l.2 79l.3-79l.2 105l.2-78l.2-27l.2 105l.2-26l.2-52l.2 52l.3-79l.2 79h.2l.2-79l.2 105l.2-105l.2 105l.3-26h.4l.2 26l.2-26h.2l.2-79h.3l.2 27l.2-27h.2l.2 79l.2 26l.2-78l.3 52l.2 26l.2-105h.2l.2 53l.2-26l.2-27h.2l.3 79l.2-52l.2 78h.2l.2-52l.2 52h.2l.3-26l.2-79l.2 105l.2-105h.6l.3 105h.2l.2-105h.2l.2 105l.2-105l.2 105h.7l.2-26l.2-79l.2 79l.2 26h.7l.2-26h.2l.2 26l.2-26l.2 26l.3-105l.2 79l.2 26l.2-26l.2 26h.4l.3-105l.2 105l.2-105l.2 79l.2 26l.2-105h.4l.3 105l.2-105h.2l.2 79h.2l.2-52l.2 78l.3-105h.4l.2 79h.2l.2 26l.2-26l.3-79h.2l.2 105h.4l.2-26l.2-79l.2 105l.3-26h.2l.2-79l.2 105h.2l.2-26h.2l.3 26l.2-105h.2l.2 105l.2-52l.2-53h.2l.3 105l.2-105l.2 105l.2-105l.2 27l.2-27l.2 27l.2 78l.3-105l.2 105l.2-105l.2 105l.2-26l.2-79l.2 105l.3-105h.6l.2 79l.2 26h.2l.3-26l.2 26l.2-105l.2 105h.2l.2-105h.2l.3 105l.2-26l.2-79l.2 27l.2 78l.2-26l.2-79l.2 105l.3-105l.2 53l.2 52l.2-105l.2 105l.2-26l.2-26l.3 52l.2-105h.2l.2 105h.4l.2-52l.3 52l.2-52l.2-53h.2l.2 105l.2-26h.9l.2-79l.2 79h.4l.2 26l.3-78l.2 52l.2-79h.2l.2 105h.2l.2-105l.3 53l.2 52l.2-78l.2 52l.2-79h.9l.2 105l.2-26l.2 26l.2-105l.2 105l.2-52l.3 26l.2-79l.2 79l.2 26l.2-26l.2 26l.2-26l.3-52l.2 78l.2-105l.2 53l.2 26l.2-79l.2 105l.3-26l.2-79l.2 105l.2-105l.2 105l.2-52l.2-53l.2 105l.3-26l.2-26l.2-26l.2 78l.2-26l.2-79l.2 79l.3-79l.2 105l.2-26h.2l.2-52l.2-27h.9l.2 79l.2-79l.2 79l.2 26h.2l.3-105l.2 27l.2 78l.2-78l.2 78l.2-26l.2-26l.3-53l.2 105h.2l.2-52l.2-53h.2l.2 79l.3-26l.2-53h.2l.2 79l.2-79l.2 79l.2 26h.2l.3-105h.2l.2 79l.2-79l.2 105l.2-26h.5l.2 26l.2-78l.2-27l.2 27l.2-27l.2 79l.3-79l.2 53l.2-53l.2 79l.2-79l.2 105h.2l.3-105l.2 79l.2 26l.2-78l.2-27h.6l.3 79l.2 26h.4l.2 26h.4l.3-131h.4l.2 105h.2l.2-105h.2l.3 79h.2l.2 26l.2-105h.6l.2 79l.3-79l.2 105l.2-105l.2 105l.2-26l.2-79l.2 79l.3-79l.2 27l.2 78h.4l.2-52l.2-53l.3 105l.2-26l.2-79l.2 79l.2-79h.2l.2 79l.2-52l.3 78l.2-26l.2-79l.2 105h.9l.2-105l.2 79l.2-26l.2 26l.2 26l.2-52l.3 52h.2l.2-26l.2 26l.2-26l.2 26l.2-26h.3l.2 26l.2-26l.2 26h.2l.2-26l.2 26l.2-26l.3 26l.2-26l.2 26l.2-26l.2 26l.2-26h.5l.2-79l.2 105l.2-105l.2 79h.2l.2-79l.3 105h.4l.2-105l.2 105l.2-26l.2 26l.2-52l.3 52l.2-105h.2l.2 79h.2l.2-52l.2-27l.3 105l.2-105h.4l.2 79l.2-79l.2 53l.3 52h.2l.2-78l.2 26l.2-53h.2l.2 105l.2-26l.3-79l.2 79l.2 26l.2-105l.2 79h.7l.2 26l.2-105h.2l.2 79l.2 26l.2-26h.5l.2 26l.2-105l.2 105h.2l.2-105h.3l.2 105h.2l.2-78l.2-27l.2 105l.2-52l.2 52l.3-105l.2 79h.2l.2-79l.2 53l.2 52l.2-26l.3-79h.2l.2 79l.2-79l.2 105l.2-26l.2-79l.3 105l.2-105h.4l.2 79l.2 26h.2l.2-105l.3 79l.2-79l.2 105l.2-105h.4l.2 105h.7l.2-105l.2 79l.2-79l.2 105l.3-26l.2-79h.2l.2 105l.2-105l.2 53l.2 52l.2-78l.3 78l.2-26l.2-79l.2 79l.2 26l.2-26l.2 26l.3-26h.2l.2 26h.6l.2-26h.3l.2 26l.2-26l.2 26l.2-26h.2l.2 26l.3-26l.2 26l.2-26h.2l.2 26h.2l.2-105l.2 105h.5l.2-26l.2-79h.2l.2 79l.2 26l.3-78l.2 26l.2 52l.2-78l.2-27l.2 105l.2-26l.3-79l.2 105h.4l.2-105l.2 105h.2l.2-78l.3-27h.2l.2 79l.2-79l.2 105l.2-26h.2l.3-26l.2 52h.2l.2-105l.2 79h.2l.2-79l.3 79h.2l.2-26l.2 52h.2l.2-78l.2 52l.2 26h.3l.2-105h.2l.2 79l.2 26l.2-105l.2 105l.3-105l.2 105l.2-105h.2l.2 79h.2l.2-26l.3-53l.2 53l.2-53l.2 105l.2-26l.2-79l.2 79l.3-79l.2 53l.2 26l.2-79l.2 79l.2-26l.2-53h.2l.3 105l.2-105l.2 53l.2 26h.2l.2-79h.2l.3 53l.2 26l.2-79l.2 105h.2l.2-26l.2-52l.3 78h1.2l.2-26l.3 26l.2-105l.2 79l.2 26l.2-105h.2l.2 79l.3 26l.2-105h.6l.2 27l.2 52l.3 26h.2l.2-105l.2 53l.2 52h.4l.2-105l.3 105h.2l.2-26h.2l.2-79l.2 53l.2 26l.3-79h.2l.2 105h.2l.2-26l.2 26l.2-105h.3l.2 105l.2-105l.2 53l.2 52l.2-78l.2-27h.7l.2 79h.2l.2 26l.2-26l.2 26h.3l.2-105l.2 105h.2l.2-105l.2 53l.2 26l.3-79l.2 105h.2l.2-26l.2 26l.2-105h.7l.2 105l.2-26l.2-79h.2l.2 27l.2-27l.3 105h.4l.2-105l.2 105l.2-105l.2 105l.3-105l.2 53l.2 52l.2-105h1.1l.2 79l.2-79l.2 79l.2 26l.2-105l.2 105l.3-26l.2-79h.2l.2 79l.2 26l.2-52l.2-26l.3-27l.2 105l.2-105h.8l.3 53l.2-53l.2 105l.2-105h.4l.2 105l.3-26l.2-79h.2l.2 105l.2-26l.2-79h.2l.2 79l.3 26h.8l.2-105h.2l.3 79l.2-79l.2 105h.2l.2-78l.2 26l.2 52l.3-105l.2 27h.2l.2 52l.2-52l.2 78l.2-26l.2-52h.3l.2 26l.2 52l.2-26l.2-79h.4l.3 105h.4l.2-105l.2 105h.4l.3-105l.2 53l.2-53l.2 105h.2l.2-105l.2 105l.2-105l.3 27l.2 78h.2l.2-105l.2 105l.2-105l.2 105h.3l.2-78l.2 78l.2-105l.2 79l.2 26h.2l.3-52l.2-53l.2 105l.2-26l.2-26l.2-53h.2l.3 79h.2l.2-79h.2l.2 79l.2-79l.2 105l.2-105h.3l.2 53l.2-53l.2 105l.2-105h.2l.2 53l.3-26l.2 78l.2-105l.2 53l.2-26l.2 78l.2-78l.3 78l.2-105l.2 105h.4l.2-26l.2-79l.2 105l.3-52l.2 52l.2-26l.2 26h.2l.2-26h.2l.3 26l.2-78l.2 78l.2-105l.2 105l.2-105l.2 105l.3-105l.2 105h.4l.2-105l.2 105h.2l.2-105l.3 105l.2-52l.2 26l.2 26l.2-105l.2 79l.2 26l.3-105h.2l.2 105h.2l.2-105l.2 79l.2-26l.3 26l.2-79l.2 79l.2-79l.2 53l.2 52l.2-26l.3-79l.2 53l.2 26l.2 26l.2-105l.2 79h.9l.2 26l.2-26l.2 26h.2l.2-26l.3-79l.2 79l.2-26l.2-53h.4l.2 27h.3l.2 78h.6l.2-78h.2l.2 78l.3-105l.2 79l.2-26l.2 52l.2-105l.2 105h.2l.3-26h.2l.2-26l.2-53l.2 105l.2-105l.2 79l.3-79h.8l.2 105l.2-52l.2-53h.5l.2 79l.2 26l.2-105l.2 105l.2-105l.3 105l.2-26l.2-52l.2 78l.2-26l.2 26l.2-105h.3l.2 27l.2 52l.2-79l.2 105l.2-105l.2 105l.3 26h.4l.2-131l.2 105l.2-105h.9l.2 105l.2-105l.2 79l.2 26l.2-105l.3 105l.2-26l.2-79l.2 105l.2-105h.4l.3 105l.2-105h.2l.2 105l.2-105h.2l.2 79l.2-79h.3l.2 105l.2-105h.4l.2 105l.2-26l.3-26l.2 26h.2l.2 26h.2l.2-26h.2l.3-26l.2-53l.2 105l.2-26l.2-79h.2l.2 105l.3-105l.2 105l.2-105l.2 105l.2-78l.2 52h.2l.2 26l.3-26l.2 26l.2-78l.2 52l.2-52l.2 26l.2-53h.3l.2 53h.2l.2-26l.2 26l.2 26l.2 26l.3-52l.2 52l.2-105h.6l.2 105h.5l.2-52l.2 52h.2l.2-105l.2 79l.2 26l.3-26l.2-79l.2 79l.2 26l.2-26l.2 26l.2-105h.3l.2 105l.2-52l.2-53h.2l.2 105h.2l.2-26l.3 26l.2-105l.2 79h.2l.2-79l.2 105l.2-26h.3l.2 26l.2-105h.2l.2 105l.2-26h.2l.3-79h.8l.2 79l.2-79l.3 79l.2-79h.2l.2 79l.2 26l.2-78h.2l.2-27l.3 105h.2l.2-52l.2-53l.2 105l.2-105h.2l.3 105l.2-105l.2 79l.2 26h.2l.2-26l.2 26l.3-105l.2 79h.2l.2-79h.2l.2 79h.2l.2-52l.3 52l.2-79l.2 105h.8l.3-105h.2l.2 27l.2-27l.2 27l.2-27l.2 105h.3l.2-78l.2-27l.2 105l.2-26l.2 26h.2l.2-52l.3-53h.2l.2 53l.2 52h.2l.2-105h.2l.3 105l.2-105h.2l.2 105l.2-105l.2 27l.2-27h.9l.2 79h.2l.2-79l.3 105l.2-26l.2 26l.2-26l.2-52l.2 78l.2-26l.2-52l.3 52l.2-79l.2 79h.2l.2-79l.2 53l.2 26l.3 26l.2-105l.2 105l.2-26l.2-52l.2-27l.2 79l.3 26l.2-105h.2l.2 79l.2-79l.2 79l.2-79l.2 105l.3-105h.2l.2 105l.2-105l.2 27l.2 52l.2 26l.3-105l.2 79l.2-26l.2 52h.4l.2-105l.3 105h.2l.2-78l.2 78l.2-26h.2l.2-79l.2 79l.3 26l.2-105l.2 105l.2-105l.2 27l.2 52l.2-79h.3l.2 79h.2l.2 26l.2-105h.2l.2 105l.3-26l.2-79h.8l.2 27l.3 78l.2-26l.2-79l.2 79l.2 26l.2-26l.2-26l.2 52l.3-105h.2l.2 105h.4l.2-26l.2-79l.3 79l.2-79l.2 105h.2l.2-26l.2 26h.2l.3-105l.2 79l.2-79l.2 105h.2l.2-105l.2 53l.2 52l.3-26l.2 26h.2l.2-52l.2 52h.7l.2-26l.2 26l.2-26h.2l.2 26h.5l.2-105l.2 79h.2l.2-79h.6l.3 53l.2 52l.2-78l.2 52l.2-79l.2 105l.2-105l.3 105l.2-26h.2l.2 26l.2-105h.2l.2 105l.3-105h.2l.2 27l.2 52l.2-79l.2 79l.2-26l.3-53l.2 105l.2-105l.2 133h.4l.2-133l.2 105l.3-26l.2-26l.2 52l.2-105l.2 53l.2 52l.2-105h.7l.2 79l.2-79l.2 79h.7l.2-79l.2 79h.6l.2 26l.3-26l.2 26l.2-26l.2 26l.2-26h.2l.2 26l.3-26h.2l.2 26l.2-26h.2l.2 26l.2-26l.3 26h.4l.2-26l.2 26h.2l.2-26l.2 26l.3-26l.2 26h.2l.2-105h.2l.2 105l.2-78l.3-27h.2l.2 27l.2 26l.2-26h.2l.2 78h.5l.2-105l.2 79l.2-52l.2-27l.2 105h.5l.2-105h.2l.2 105h.4l.2-105l.3 79l.2-79h.4l.2 53l.2 52l.2-26l.3 26h.2l.2-26h.2l.2 26l.2-26l.2 26h.3l.2-26l.2 26h.2l.2-26l.2 26l.2-26h.2l.3 26h.2l.2-26h.2l.2 26l.2-26l.2 26h.5l.2-26h.2l.2 26h.2l.2-26h.3l.2 26h.2l.2-26l.2 26l.2-26h.2l.2 26h.7l.2-105l.2 105l.2-52l.2 26h.5l.2-26l.2 52l.2-26h.2l.2 26l.3-52l.2 26l.2 26h.2l.2-26l.2-79h.2l.3 79l.2 26l.2-78l.2-27l.2 105l.2-26l.2 26l.2-52l.3 52l.2-26h.8l.2 26h.7l.2-26l.2 26l.2-26l.2 26l.3 27h.4l.2-53l.2 26l.2-52l.2 26l.2 26h.5l.2-26l.2 26h.6l.3-26l.2 26l.2-78l.2 78l.2-26h.2l.2 26l.3-105h.2l.2 79h.4l.2-79h.4l.3 79h.2l.2 26h.2l.2-105l.2 27l.2 52l.3 26l.2-105l.2 105l.2-105l.2 27l.2-27h.5l.2 53l.2 26l.2-79l.2 105h.2l.2-105h.5l.2 105l.2-105h.2l.2 79h.4l.3-52l.2 78h.2l.2-105l.2 79h.4l.3 26h.4l.2-105h.6l.3 105h.2l.2-105l.2 105l.2 52h.4l.2-78h.3l.2-26l.2 52l.2-105h1.3l.2 79l.2 26l.2-26l.2-26l.3-53h.2l.2 27l.2 78h.2l.2-105h.2l.2 79l.3 26h.4l.2-105l.2 79h.2l.2-79l.3 105l.2-52h.2l.2 26l.2 26l.2-26l.2 26l.3-26h.2l.2 26l.2-26l.2 26l.2-26h.2l.3 26h.2l.2-26h.2l.2 26l.2-26h.2l.2-52l.3 78h.8l.2-26h.2l.3-79l.2 105h.2l.2-52l.2 52l.2-105l.2 79l.3 26l.2-105l.2 105l.2-105l.2 79l.2 26l.2-78h.2l.3 78l.2-26h.2l.2-79l.2 105l.2-52l.2-53l.3 105l.2-105l.2 79h.2l.2 26l.2-26h.2l.3 26l.2-26h.6l.2 26h.4l.3-26l.2 26h1l.3-26h.2l.2 26h.6l.2-52l.3-53l.2 79l.2-79l.2 79l.2 26h.4l.3-26l.2-79l.2 79l.2-79h.6l.2 105l.3-105l.2 79l.2-79l.2 105h.4l.2-105l.3 105l.2-26h.4l.2 26l.2-105l.2 79l.3 26l.2-52l.2 52l.2-105l.2 105l.2-105l.2 105l.2-26l.3 26l.2-52l.2 26h.4l.2-52l.2 78l.3-26l.2 26h.2l.2-78l.2-27h.4l.3 105l.2-105l.2 105l.2-105h.2l.2 79l.2-79l.2 79l.3-26l.2 26l.2-79l.2 53l.2 26h.2l.2-79l.3 105l.2-78l.2 78h.4l.2-26l.2-79l.3 105h.2l.2-52l.2 52l.2-26h.2l.2 26l.3-105l.2 79l.2-52l.2 78l.2-105l.2 105l.2-26l.2 26h.5l.2-26l.2 26l.2-26l.2-26l.2 52l.3-105l.2 105l.2-52l.2-53l.2 27l.2 78h.7l.2-52l.2-53l.2 79l.2-79l.2 105l.2-105l.3 79l.2 26h.6l.2-105h.2l.3 105l.2-78l.2 52l.2 26l.2-105l.2 105l.2-52l.3 26h.2l.2-79h.2l.2 105l.2-105l.2 79l.2 26l.3-52l.2 78h.4l.2-26l.2-105l.2 105l.3-105h.2l.2 79h.2l.2 26l.2-26h.2l.3 26h.2l.2-26h.6l.2 26h.7l.2-26l.2 26h.4l.2-26h.3l.2 26l.2-26l.2 26l.2-26l.2 26l.2-26h.3l.2 26h.2l.2-26l.2 26h.4l.3-26l.2 26l.2-26l.2-26l.2 52h.2l.2-26h.2l.3 26h.2l.2-26h.2l.2-26l.2 52h.2l.3-26l.2 26l.2-78l.2-27h.2l.2 105h.2l.3-26l.2 26h.2l.2-26l.2 26h.2l.2-26l.2 26l.3-26l.2 26h.4l.2-26h.2l.2 26h.3l.2-26h.2l.2 26l.2-26h.4l.3 26h.2l.2-26h.4l.2 26l.2-26h.7l.2 26h.2l.2-26l.2 26l.2-26l.3 26h.8l.2-26l.2 26l.3-26l.2 26h.2l.2-26l.2-26h.2l.2 52l.3-26l.2 26h.4l.2-52h.4l.2 26h.5l.2 26h.6l.2-26h.7l.2 26h.9l.2-52l.2 52h.4l.2-26h.4l.3 26h1l.2-26h.5l.2 26h.2l.2-26l.2 26l.2-26l.3 26l.2-26l.2 26l.2-26l.2-52l.2-27h.2l.3 105l.2-26h.2l.2 26h.4l.2-26h.2l.3 26h.2l.2-26h.2l.2 26l.2-26l.2 26h.7l.2-26l.2 26l.2-26l.2 26l.3-26h.6l.2-79l.2 105l.2-26l.2-52l.3-27l.2 105l.2-26l.2 26h.2l.2-26l.2 26l.3-26l.2 26h.8l.2-26l.3 26h.2l.2-52l.2 52l.2-26l.2 26h.7l.2-26l.2 26l.2-52l.2 26l.2 26h.5l.2-26l.2 26l.2-26h.2l.2 26h.2l.3-26l.2 26h.2l.2-26l.2-79h.2l.2 105h.5l.2-26h.2l.2 26l.2-26l.2 26l.2-105l.3 105l.2-26l.2 26h.4l.2-26h.5l.2 26h.2l.2-26l.2 26h.2l.2-26h.3l.2 26h.2l.2-26l.2 26h.6l.3-26l.2 26h.2l.2-26l.2 26h.4l.3-26h.2l.2 26l.2-78l.2 78l.2-26l.2 26l.3-105l.2 79l.2 26l.2-26h.2l.2 26l.2-26l.3-79l.2 53l.2 52l.2-26l.2 26h.2l.2-52l.2 52h.3l.2-26l.2-26l.2 26h1.1l.2 26l.2-26h.2l.2 26h.2l.3-26l.2 26h.6l.2-52l.2 26h.9l.2 26l.2-26l.2 26l.2-26l.3 26l.2-105l.2 105h.2l.2-78l.2 52l.2-79l.3 105l.2-105l.2 105l.2-105h.4l.2 79l.2-79h.7l.2 105h.2l.2-26h.5l.2 26l.2-26h.4l.2 26h.2l.3-52l.2 52h.4l.2-26l.2 26h.9l.2-26l.2-26l.2 52l.2-26l.2-26l.3 52l.2-105h.6l.2 79h.9l.2-52h.2l.2 78l.2-105l.3 105h.2l.2-26l.2-79l.2 105l.2-105l.2 27l.2-27l.3 105l.2-105h.2l.2 105l.2-105" stroke="#f00" stroke-linejoin="round"/>
<path d="M80 1051l.2 13l.2-26h.5l.2-26l.2 26l.2 26h.2l.2-26l.3-79h.2l.2 79l.2 26h.2l.2-105l.2 105l.2-26l.3-79l.2 105l.2-78l.2-27l.2 105l.2-52l.2-53l.3 105l.2-52l.2-53h.2l.2 79l.2 26l.2-26h.7l.2-79h.2l.2 79l.2-26l.2 52l.3-26h.2l.2-79l.2 79h.2l.2-79l.2 79l.3-79l.2 105l.2-105l.2 79l.2-85h.4l.3 85l.2 26h.2l.2-105l.2 53l.2-53h.4l.3 105l.2-26l.2-52l.2 78l.2-105h.4l.3 79l.2-79l.2 105l.2-26h.2l.2-79l.2 79l.3 26l.2-26h.4l.2 26l.2-26h.2l.3-79h.2l.2 53l.2 26l.2-79h.9l.2 105l.2-105l.2 105l.2-26l.2-79h.2l.3 105l.2-105l.2 105l.2-26l.2-79l.2 79l.2-52l.3-27h.4l.2 105l.2-26h.2l.2 26l.2-52l.3-26l.2-27h.2l.2 105h.2l.2-105l.2 105h.3l.2-52l.2 52l.2-105h.2l.2 105l.2-52l.3-53h.2l.2 105h.2l.2-105h.2l.2 105l.2-26l.3-79h.2l.2 105l.2-105h.2l.2 53l.2 52h.5l.2-105l.2 105h.2l.2-26l.2 26h.5l.2-52l.2-53l.2 79l.2 26l.2-26l.3-52l.2-27h.2l.2 105h.2l.2-105h.2l.2 79l.3-79h.2l.2 27l.2-27l.2 105h.7l.2-105l.2 105l.2-105l.2 105l.2-26h.2l.3 26l.2-52h.2l.2 26l.2-79l.2 105h.2l.2-105l.3 79l.2 26h.2l.2-105l.2 105l.2-26l.2 26l.3-26l.2 26l.2-26l.2-79l.2 79l.2-79l.2 27l.3-27l.2 105l.2-105h.2l.2 27l.2 78l.2-105h.5l.2 105l.2-105h.2l.2 79l.2-52l.2 78l.3-105h.2l.2 27l.2-27l.2 105l.2-26l.2 26l.3-78l.2 78l.2-105l.2 79h.2l.2 26l.2-105h.3l.2 27l.2 78l.2-105l.2 105l.2-105l.2 27l.2 78l.3-26l.2-52l.2 78l.2-105l.2 79l.2-79h.5l.2-6h.4l.2 59l.2 26l.2-79l.3 105l.2-52l.2 26l.2 26l.2-105l.2 53l.2-53l.2 27l.3 52l.2-79l.2 105h.2l.2-105l.2 79h.2l.3-79l.2 79l.2-79h.2l.2 79l.2 26h.2l.3-105l.2 79l.2 26h.2l.2-105l.2 105l.2-105l.2 105l.3-105l.2 53l.2 52l.2-105l.2 79l.2-79l.2 53l.3 52h1l.2-105h.3l.2 79l.2 26h.2l.2-105h.2l.2 79l.3 26l.2-105l.2 105l.2-26l.2-26l.2-53h.2l.2 27l.3 52l.2-79h.6l.2 105h.2l.3-26h.2l.2-79l.2 105l.2-105l.2 79l.2-79l.3 105l.2-26l.2 26h.2l.2-105l.2 79l.2-79l.2 53l.3 52l.2-105l.2 105l.2-105l.2 105l.2-105l.2 105l.3-26l.2-79l.2 79l.2-79h.9l.2 105l.2-52l.2 52l.2-105l.2 105l.2-26l.2-79h.3l.2 105l.2-105l.2 105l.2-105l.2 79l.2 26l.3-105h.6l.2 105h.4l.3-52l.2 26h.4l.2 26h.2l.2-26l.3 26l.2-26l.2-79l.2 105l.2-78l.2-27l.2 105l.2-26l.3-79l.2 79l.2-79h.2l.2 79l.2-79l.2 27l.3 52l.2-79l.2 79l.2-79l.2 105l.2-105l.2 53l.3 52l.2-26l.2-79h.2l.2 79h.4l.2-79l.3 105l.2-105h.2l.2 105l.2-26l.2-26l.2-53l.3 79l.2 26h.4l.2-26l.2 26h1.1l.2-26l.2 26l.2-26l.2 26l.3-26l.2 26l.2-26h1.1l.2 26l.2-105l.2 105h.2l.2-26l.2 26l.3-52l.2 52l.2-52l.2-53h.2l.2 105h.2l.3-26l.2-79l.2 79l.2 26l.2-105l.2 105l.2-105h.2l.3 79l.2-79l.2 79l.2-26l.2 26h.2l.2-79h.5l.2 105l.2-26h.2l.2 26l.2-26l.3 26h.2l.2-105h.4l.2 105h.9l.2-105h.2l.2 105h.2l.2-105l.3 53l.2 26h.2l.2 26l.2-78l.2-27l.2 79l.3-79l.2 105l.2-78l.2-27l.2 105l.2-26l.2-52l.2 52l.3-79l.2 79h.2l.2-79l.2 105l.2-105l.2 105l.3-26h.4l.2 26l.2-26h.2l.2-79l.3 79l.2-52l.2-27h.2l.2 79l.2 26l.2-78l.3 52l.2 26l.2-105h.2l.2 53l.2-26l.2-27h.2l.3 79l.2-52l.2-35h.4l.2 113h.2l.3-26l.2-79l.2 105l.2-105h.6l.3 105h.2l.2-105h.2l.2 105l.2-105l.2 105h.7l.2-26l.2-79l.2 79l.2-26l.2 52h.5l.2-26h.2l.2 26l.2-26l.2 26l.3-105l.2 79l.2 26l.2-26l.2 26h.4l.3-105l.2 79l.2-79l.2 79l.2 26l.2-105h.4l.3 79l.2-79h.2l.2 79h.2l.2-52l.2 78l.3-105h.4l.2 79h.2l.2 26l.2-26l.3-79h.2l.2 105h.4l.2-26l.2-79l.2 105l.3-26h.2l.2-79l.2 105h.2l.2-26h.2l.3 26l.2-105h.2l.2 105l.2-52l.2-53h.2l.3 105l.2-105l.2 105l.2-105l.2 27l.2-27l.2 27l.2 78l.3-105l.2 105l.2-105l.2 105l.2-26l.2-79l.2 105l.3-105h.6l.2 79l.2 26h.7l.2-105l.2 105h.2l.2-26l.2-79l.3 105l.2-26l.2-52h.2l.2 78l.2-26l.2-79l.2 105l.3-105l.2 53l.2 52l.2-105l.2 105l.2-26l.2-26l.3 52l.2-105h.2l.2 105h.4l.2-52l.3-26l.2 26l.2-53h.2l.2 105l.2-26h.9l.2-79l.2 79h.4l.2 26l.3-78l.2 52l.2-79h.2l.2 105h.2l.2-105l.3 53l.2 52l.2-78l.2 52l.2-79h.9l.2 105l.2-26l.2 26l.2-105l.2 105l.2-52l.3 26l.2-79l.2 79l.2 26l.2-26l.2 26l.2-26l.3-52l.2 78l.2-105l.2 53l.2 26l.2-79l.2 105l.3-26l.2-79l.2 105l.2-105l.2 105l.2-52l.2-53l.2 105l.3-26l.2-26l.2-26l.2 78l.2-26l.2-79l.2 79l.3-79l.2 105l.2-78l.2 52l.2-52l.2-27h.9l.2 79l.2-79l.2 79l.2 26h.2l.3-105l.2 27l.2 78l.2-78l.2 78l.2-26l.2-26l.3-53l.2 105h.2l.2-52l.2-53h.2l.2 79l.3-26l.2-53h.2l.2 79l.2-79l.2 79l.2 26h.2l.3-105h.2l.2 79l.2-79l.2 105l.2-26h.5l.2 26l.2-78l.2-27l.2 27l.2-27l.2 79l.3-79l.2 53l.2-53l.2 79l.2-79l.2 105h.2l.3-105l.2 79l.2 26l.2-78l.2-27h.6l.3 79l.2 26h.4l.2 28h.4l.3-133h.4l.2 53l.2 52l.2-105h.5l.2 79l.2 26l.2-105h.6l.2-3h.5l.2 3l.2 105l.2-26l.2-79l.2 79l.3-79l.2 27l.2 78h.4l.2-52l.2-53l.3 105l.2-26l.2-79l.2 79l.2-79h.2l.2 79l.2-52l.3 78l.2-26l.2-79l.2 105h.9l.2-105l.2 79l.2-26l.2 26l.2 26l.2-52l.3 26l.2 26l.2-26l.2 26l.2-26l.2 26l.2-26h.3l.2 26l.2-26h.2l.2 26l.2-26l.2 26h.2l.3-26l.2 26h.2l.2-26l.2 26l.2-26l.2-52l.3 52l.2-79l.2 105l.2-105l.2 79h.2l.2-79l.3 105h.4l.2-105l.2 105l.2-26l.2 26l.2-52l.3 52l.2-105h.2l.2 79l.2-79l.2 27l.2-27l.3 105l.2-105h.4l.2 79l.2-79l.2 53l.3 52h.2l.2-78l.2 26l.2-53h.2l.2 105l.2-26l.3-79l.2 79l.2 26l.2-105l.2 27l.2 52h.5l.2 26l.2-105h.2l.2 27l.2 78l.2-26h.5l.2 26l.2-105l.2 105h.2l.2-105h.3l.2 105h.2l.2-78l.2-27l.2 105l.2-52l.2 52l.3-105l.2 79h.2l.2-79l.2 53l.2 52l.2-26l.3-79h.2l.2 79l.2-79l.2 105l.2-26l.2-79l.3 105l.2-105h.2l.2 79h.2l.2 26h.2l.2-105l.3 79l.2-79l.2 105l.2-105h.4l.2 105h.7l.2-105l.2 79l.2-79l.2 105l.3-26l.2-79h.2l.2 105l.2-105l.2 53l.2 52l.2-78l.3 78l.2-26l.2-79l.2 105h.9l.2-26h.2l.2 26h.2l.2-26h.5l.2 26l.2-26l.2 26l.2-26h.2l.2 26l.3-26l.2 26h.2l.2-26l.2 26h.2l.2-105l.2 105h.5l.2-26l.2-79h.2l.2 79l.2 26l.3-78l.2 26l.2 52l.2-78l.2-27l.2 105l.2-26l.3-79l.2 105h.4l.2-105l.2 105h.2l.2-78l.3-27h.2l.2 79l.2-79l.2 105l.2-26h.2l.3-26l.2-53l.2 105l.2-105l.2 79l.2-79h.2l.3 79h.2l.2-26l.2 52h.2l.2-78l.2 52l.2 26h.3l.2-105h.2l.2 79l.2 26l.2-105l.2 105h.5l.2-105h.2l.2 79h.2l.2-26l.3-53l.2 53l.2-53l.2 105l.2-26l.2-79l.2 79l.3-79h.2l.2 79l.2-79l.2 79l.2-26l.2-53h.2l.3 105l.2-105l.2 53l.2 26h.2l.2-79h.2l.3 53l.2 26l.2-52l.2 78h.2l.2-26l.2-52l.3 78h1.2l.2-26l.3 26l.2-105l.2 79l.2 26l.2-105h.2l.2 79l.3 26h.2l.2-105h.4l.2 27l.2 52l.3 26h.2l.2-105l.2 53l.2-53l.2 105h.2l.2-105l.3 105h.2l.2-26h.2l.2-79l.2 53l.2 26l.3-79h.2l.2 105l.2-115h.4l.2 10h.3l.2 105l.2-105l.2 53l.2 52l.2-78l.2-27h.7l.2 79h.2l.2 26l.2-26l.2 26h.3l.2-105l.2 105h.2l.2-105l.2 53l.2 26l.3-79l.2 105h.2l.2-26l.2 26l.2-105h.7l.2 105l.2-26l.2 26l.2-105l.2 27l.2-27l.3 105h.4l.2-105l.2 105l.2-105l.2 105l.3-105l.2 53l.2 52l.2-105h1.1l.2 79l.2-79l.2 79l.2-52l.2-27l.2 105l.3-26l.2-79h.2l.2 79l.2 26l.2-52l.2-26l.3-27l.2 105l.2-105h.8l.3 53l.2-53l.2 53l.2-53h.4l.2 105l.3-26l.2-79h.2l.2 105l.2-26l.2-79h.2l.2 79l.3 26h.8l.2-105h.2l.3 79l.2-79l.2 105h.2l.2-78l.2 26l.2 52l.3-105l.2 27h.2l.2 52l.2-52l.2 78l.2-26l.2-52h.3l.2 26l.2 52l.2-26l.2-79h.4l.3 105h.4l.2-105l.2 105h.4l.3-105l.2 53l.2-53l.2 105h.2l.2-105l.2 105l.2-105l.3 27l.2 78h.2l.2-105l.2 105l.2-105l.2 105h.3l.2-78l.2 78l.2-105l.2 79l.2 26h.2l.3-52l.2-53l.2 105l.2-26l.2-26l.2-53h.2l.3 79h.2l.2-79l.2 53l.2 26l.2-79l.2 105l.2-105h.3l.2 53l.2-53l.2 105l.2-105h.2l.2 53l.3-26l.2 78l.2-105l.2 53l.2-26l.2 78l.2-78l.3 78l.2-105l.2 105h.4l.2-26l.2-79l.2 105l.3-52l.2 52l.2-26l.2 26h.2l.2-26h.2l.3 26l.2-78l.2 78l.2-105l.2 105l.2-105l.2 105l.3-105l.2 105h.4l.2-105l.2 105h.2l.2-105l.3 105l.2-52l.2 26l.2 26l.2-105l.2 79l.2 26l.3-105h.2l.2 105h.2l.2-105l.2 79l.2-26l.3 26l.2-79l.2 79l.2-79l.2 53l.2 52l.2-78l.3-27l.2 53l.2 26l.2 26l.2-105l.2 79h.9l.2 26l.2-26l.2-26l.2 52l.2-26l.3-79l.2 79l.2-26l.2-53h.4l.2 27h.3l.2 78h.6l.2-78h.2l.2 78l.3-105l.2 79l.2-26l.2 52l.2-105l.2 105h.2l.3-26h.2l.2-26l.2-53l.2 105l.2-105l.2 79l.3-79h.8l.2 105l.2-52l.2-53h.5l.2 79l.2 26l.2-105l.2 105l.2-105l.3 105l.2-26l.2-52l.2 78l.2-26l.2 26l.2-105h.3l.2 27l.2 52l.2-79l.2 105l.2-105l.2 105l.3 8h.4l.2-113l.2 105l.2-105h.9l.2 105l.2-105l.2 79l.2 26l.2-105l.3 105l.2-26l.2-79l.2 105l.2-105h.4l.3 105l.2-111h.4l.2 6h.2l.2 79l.2-79h.3l.2 105l.2-105h.4l.2 105l.2-26l.3-26l.2 26h.2l.2 26h.2l.2-26h.2l.3-26l.2-53l.2 105l.2-26l.2-79h.2l.2 105l.3-105l.2 105l.2-105l.2 105l.2-78l.2 52h.2l.2 26l.3-26l.2 26l.2-78l.2 52l.2-52l.2 26l.2-53h.3l.2 53h.2l.2-26l.2 26l.2 26l.2 26l.3-52l.2 52l.2-105l.2 27l.2-27h.2l.2 105h.5l.2-52l.2 52h.2l.2-105l.2 79l.2 26l.3-26l.2-79l.2 79l.2 26l.2-26l.2 26l.2-105h.3l.2 105l.2-52l.2-53h.2l.2 105h.2l.2-26l.3 26l.2-105l.2 79h.2l.2-79l.2 105l.2-26h.3l.2 26l.2-105h.2l.2 105l.2-26h.2l.3-79h.8l.2 79l.2-79l.3 79l.2-79h.2l.2 53l.2 52l.2-78h.2l.2-27l.3 105h.2l.2-52l.2-53l.2 105l.2-105h.2l.3 105l.2-105l.2 79l.2 26h.2l.2-26l.2 26l.3-105l.2 79h.2l.2-79h.2l.2 79h.2l.2-52l.3 52l.2-79l.2 105h.8l.3-105h.2l.2 27l.2-27l.2 27l.2-27l.2 105h.3l.2-78l.2-27l.2 105l.2-26l.2 26h.2l.2-52l.3-53h.2l.2 53l.2 52h.2l.2-105h.2l.3 105l.2-105h.2l.2 105l.2-105l.2 27l.2-27h.9l.2 27l.2 52l.2-79l.3 105l.2-26l.2 26l.2-26l.2-52l.2 78l.2-26l.2-52l.3 52l.2-79l.2 79h.2l.2-79l.2 53l.2 26l.3 26l.2-105l.2 105l.2-26l.2 26l.2-105l.2 79l.3 26l.2-105h.2l.2 79l.2-79l.2 79l.2-79l.2 105l.3-105h.2l.2 105l.2-105l.2 27l.2 52l.2 26l.3-105l.2 79l.2-26l.2 52l.2-105l.2 105l.2-105l.3 105h.2l.2-78l.2 78l.2-26h.2l.2-79l.2 79l.3 26l.2-105l.2 105l.2-105l.2 27l.2 52l.2-79h.3l.2 79h.2l.2 26l.2-105h.2l.2 105l.3-26l.2-79h.8l.2 27l.3 78l.2-26l.2-79l.2 79l.2 26l.2-78l.2 26l.2 52l.3-105h.2l.2 105h.4l.2-105h.2l.3 79l.2-79l.2 105h.2l.2-26l.2 26h.2l.3-105l.2 79l.2-79l.2 105h.2l.2-105l.2 53l.2 52l.3-26l.2 26h.2l.2-52l.2 52h.7l.2-26l.2 26l.2-26h.2l.2 26h.5l.2-105l.2 105l.2-26l.2-79h.6l.3 53l.2 52l.2-78l.2 52l.2-79l.2 105l.2-105l.3 105l.2-26h.2l.2 26l.2-105h.2l.2 105l.3-105h.2l.2 27l.2 52l.2-79l.2 79l.2-26l.3-53l.2 105l.2-105l.2 139h.4l.2-139l.2 105l.3-26l.2-26l.2 52l.2-105l.2 53l.2 52l.2-105h.7l.2 79l.2-79l.2 79h.7l.2-79l.2 79h.6l.2 26l.3-26h.2l.2 26h.2l.2-26h.2l.2 26l.3-26h.2l.2 26h1.3l.2-26l.2 26h.2l.2-26h.4l.3 26h.4l.2-105h.2l.2 105l.2-78l.3-27h.2l.2 27l.2 26l.2-26h.2l.2 78h.5l.2-105l.2 79l.2-52l.2-27l.2 105h.3l.2-26l.2-79h.2l.2 105h.4l.2-105l.3 79l.2-79h.4l.2 53l.2 52l.2-26h.3l.2 26l.2-26h.2l.2 26l.2-26l.2 26h.3l.2-26l.2 26l.2-26h.4l.2 26l.2-26l.3 26h.8l.2-26l.2 26h.3l.2-26h.6l.2 26h.2l.3-26l.2 26h.2l.2-26l.2 26l.2-26h.4l.3 26h.4l.2-105l.2 105l.2-52l.2 26h.5l.2-26l.2 52l.2-26h.2l.2 26l.3-52l.2-53l.2 105h.2l.2-26l.2-79h.2l.3 79l.2 26l.2-78l.2-27l.2 105l.2-26l.2 26l.2-52l.3 52l.2-26h.2l.2 26l.2-26h.2l.2 26h.7l.2-26l.2 26l.2-26l.2 26l.3 27h.4l.2-53l.2 26l.2-52l.2 26l.2 26h.5l.2-26h.2l.2 26l.2-26l.2 26l.3-26l.2 26l.2-78l.2 78l.2-26h.2l.2 26l.3-105h.2l.2 79h.4l.2-79h.4l.3 79h.2l.2 26h.4l.2-78l.2 52l.3 26l.2-105l.2 105l.2-105l.2 27l.2-27l.2 105l.3-105l.2 53l.2 26l.2-79l.2 105h.2l.2-105h.5l.2 105l.2-105h.2l.2 79h.4l.3-52l.2 78h.2l.2-105l.2 79h.4l.3 26h.4l.2-105h.6l.3 105h.2l.2-105l.2 105l.2 49h.4l.2-75h.3l.2-26l.2 52l.2-105h1.3l.2 79l.2 26l.2-26l.2-26l.3-53h.2l.2 27l.2 78h.2l.2-105h.2l.2 79l.3 26h.2l.2-52l.2-53l.2 79h.2l.2-79l.3 105l.2-52h.2l.2 26l.2 26l.2-26l.2 26l.3-26h.2l.2 26h.2l.2-26h.4l.3 26h.2l.2-26l.2 26h.4l.2-26l.2-52l.3 78h1l.2-26l.3-79l.2 105h.2l.2-52l.2 52l.2-105l.2 79l.3 26l.2-105l.2 27l.2-27l.2 79l.2 26l.2-78h.2l.3 78l.2-26h.2l.2-79l.2 105l.2-52l.2-53l.3 105l.2-105l.2 79h.2l.2 26l.2-26h.2l.3 26l.2-26l.2 26l.2-26l.2 26l.2-26h.2l.2 26l.3-26l.2 26h.2l.2-26h.2l.2 26h.2l.3-26h.4l.2 26l.2-26l.2 26l.2-52l.3-53l.2 79l.2-79l.2 79l.2 26h.4l.3-26l.2-79l.2 79l.2-79h.6l.2 105l.3-105l.2 79l.2-79l.2 105h.4l.2-105l.3 105l.2-26h.4l.2 26l.2-105l.2 79l.3 26l.2-52l.2 52l.2-105l.2 105l.2-105l.2 105l.2-26l.3 26l.2-52l.2 26h.4l.2-52l.2 78l.3-26l.2 26h.2l.2-78l.2-27h.4l.3 105l.2-105l.2 105l.2-105h.2l.2 79l.2-79l.2 79l.3-26l.2 26l.2-79l.2 53l.2 26h.2l.2-79l.3 105l.2-78l.2 78h.4l.2-26l.2-79l.3 105h.2l.2-52l.2 52l.2-26h.2l.2 26l.3-105l.2 79l.2-52l.2 78l.2-105l.2 105l.2-26l.2 26h.5l.2-26l.2 26l.2-26l.2-26l.2 52l.3-105l.2 105l.2-52l.2-53l.2 27l.2 78h.7l.2-52l.2-53l.2 27l.2-27l.2 105l.2-105l.3 79l.2 26h.6l.2-105h.2l.3 105l.2-78l.2 52l.2 26l.2-105l.2 105l.2-52l.3 26h.2l.2-79h.2l.2 105l.2-105l.2 79l.2 26l.3-52l.2 73h.4l.2-21l.2-105l.2 105l.3-105h.2l.2 105h.4l.2-26h.2l.3 26l.2-26l.2 26h.4l.2-26l.2 26h.7l.2-26l.2 26h.4l.2-26l.3 26l.2-26h.6l.2 26h1.7l.3-26l.2 26l.2-26l.2-26l.2 52h.2l.2-26h.2l.3 26h.6l.2-52l.2 52h.2l.3-26l.2 26l.2-78l.2-27h.2l.2 79l.2 26l.3-26l.2 26h.2l.2-26l.2 26h.2l.2-26h.2l.3 26h.6l.2-26l.2 26h.2l.3-26h1.2l.3 26h.2l.2-26h.4l.2 26l.2-26h.7l.2 26h.6l.2-26h.5l.2 26l.2-26l.2 26l.2-26h.5l.2 26h.2l.2-26l.2-26h.2l.2 52l.3-26l.2 26h.4l.2-52h.4l.2 26h.5l.2 26l.2-26l.2 26l.2-26l.2 26l.3-26h.2l.2 26h.2l.2-26l.2 26h.2l.3-26l.2-26l.2 52l.2-26l.2 26l.2-26h.4l.3 26h1l.2-26h.5l.2 26h.2l.2-26l.2 26l.2-26l.3 26l.2-26l.2 26l.2-26l.2-52l.2-27h.2l.3 105l.2-26l.2 26h.6l.2-26h.2l.3 26h.2l.2-26l.2 26h.4l.2-26l.3 26h.4l.2-26l.2 26l.2-26l.2 26h.3l.2-26h.4l.2-79l.2 105l.2-26l.2-52l.3-27l.2 105l.2-26l.2 26h.2l.2-26h.5l.2 26l.2-26l.2 26h.4l.2-26h.5l.2-26l.2 52h1.1l.2-26l.2 26l.2-52l.2 26h.2l.2 26h.5l.2-26h.4l.2 26l.2-26h.3l.2 26h.2l.2-26l.2-79h.2l.2 105h.5l.2-26h.2l.2 26l.2-26l.2 26l.2-105l.3 105h.4l.2-26l.2 26h.2l.2-26h.3l.2 26h.2l.2-26h.2l.2 26l.2-26h.5l.2 26l.2-26l.2 26h.6l.3-26l.2 26h.6l.2-26l.2 26l.3-26h.2l.2 26l.2-78l.2 78l.2-26l.2 26l.3-105l.2 79l.2 26l.2-26h.2l.2 26l.2-26l.3-79l.2 53l.2 52h.2l.2-26l.2 26l.2-52l.2 52l.3-52l.2 26l.2-26l.2 26h.4l.2 26l.3-26l.2-26l.2 26h.2l.2 26h.2l.2-26l.3 26h.8l.2-52l.2 26l.2 26l.3-26l.2 26l.2-26l.2 26l.2-26l.2 26l.2-26l.3 26l.2-105l.2 105h.2l.2-78l.2 52l.2-79l.3 105l.2-105l.2 105l.2-105h.4l.2 79l.2-79h.7l.2 105h.4l.2-26h.3l.2 26l.2-26h.4l.2 26h.2l.3-52l.2 52h.6l.2-26l.2 26h.7l.2-26h.2l.2 26l.2-26l.2-26l.3 52l.2-105h.6l.2 79h.9l.2-52h.2l.2 78l.2-105l.3 105h.2l.2-26l.2-79l.2 105l.2-105l.2 27l.2-27l.3 105l.2-105h.2l.2 105l.2-105" stroke="#00f" stroke-dasharray="12 11.6" stroke-linejoin="bevel"/>
</g>
<g font-size="23.1" fill="#000">
<g text-anchor="middle">
<text x="79.3" y="1172">0</text>
<text x="186.1" y="1172">500</text>
<text x="293" y="1172">1000</text>
<text x="399.9" y="1172">1500</text>
<text x="506.7" y="1172">2000</text>
<text x="613.5" y="1172">2500</text>
<text x="720.4" y="1172">3000</text>
</g><g text-anchor="end">
<text x="70.1" y="1149.6">0</text>
<text x="70.1" y="1097.5">2</text>
<text x="70.1" y="1045.4">4</text>
<text x="70.1" y="993.2">6</text>
<text x="70.1" y="941.1">8</text>
</g></g>
<g font-size="26" fill="#000" text-anchor="middle">
<text x="399.5" y="1205.6">Data samples</text>
<text transform="translate(36.6 1039.4) rotate(-90)">DC Value</text>
</g>
<rect x="547.9" y="945" width="156.8" height="57.3" fill="#fff" stroke="#1c1c1c" stroke-width="1.6"/>
<path d="M553.6 960.8h59.3" stroke="#f00" stroke-width="4.5" fill="none"/>
<path d="M553.6 987h59.3" stroke="#00f" stroke-width="4.5" stroke-dasharray="12 11.7" fill="none"/>
<g font-size="21" fill="#000"><text x="617.4" y="968.5">Actual</text><text x="617.4" y="994.5">Predicted</text></g>
<clipPath id="c7"><rect x="883.1" y="931.1" width="646" height="213.1"/></clipPath>
<path d="M885.4 933.4H1526.8V1141.9H885.4ZM885.4 1141.9v-7.2 M885.4 933.4v7.2M956.7 1141.9v-7.2 M956.7 933.4v7.2M1027.9 1141.9v-7.2 M1027.9 933.4v7.2M1099.2 1141.9v-7.2 M1099.2 933.4v7.2M1170.5 1141.9v-7.2 M1170.5 933.4v7.2M1241.7 1141.9v-7.2 M1241.7 933.4v7.2M1313 1141.9v-7.2 M1313 933.4v7.2M1384.3 1141.9v-7.2 M1384.3 933.4v7.2M1455.5 1141.9v-7.2 M1455.5 933.4v7.2M1526.8 1141.9v-7.2 M1526.8 933.4v7.2M885.4 1141.9h7.2 M1526.8 1141.9h-7.2M885.4 1072.4h7.2 M1526.8 1072.4h-7.2M885.4 1002.9h7.2 M1526.8 1002.9h-7.2M885.4 933.4h7.2 M1526.8 933.4h-7.2" fill="none" stroke="#111" stroke-width="1.4"/>
<g clip-path="url(#c7)" fill="none" stroke-width="4.5">
<path d="M886.1 982h.7l.7-6.9l.8-20.9l.7 20.9l.7-13.9l.7-7l.7 20.9l.7 6.9l.7-6.9l.7 6.9l.8-6.9l.7 6.9h1.4l.7-6.9l.7 6.9h1.4l.8-6.9l.7 6.9h1.4l.7-6.9l.7-20.9l.7 20.9l.7-20.9l.8 27.8l.7-6.9h.7l.7-20.9h.7l.7 20.9h1.4l.8-20.9h.7l.7 27.8l.7-20.8l.7-7l.7 27.8l.7-13.8l.7 13.8h4.3l.7-6.9h1.5l.7 6.9h.7l.7-6.9l.7 6.9l.7-20.8l.7-7l.7 14h.8l.7 13.8h.7l.7-6.9h1.4l.7 6.9l.7-6.9h1.5l.7 6.9h.7l.7-6.9l.7 6.9h2.2l.7-6.9h.7l.7-6.9h.7l.7-7l.7-7l.8 14l.7-14h.7l.7 27.8l.7-20.8h.7l.7-7h.7l.8 20.9l.7 6.9h1.4l.7-6.9l.7 6.9l.7-6.9l.7 6.9l.8-27.8l.7 27.8l.7-27.8h1.4l.7 27.8l.7-13.8h.7l.8 13.8l.7-27.8h.7l.7 27.8l.7-20.8l.7 7l.7 6.9l.7-6.9l.8-7l.7-7l.7 27.8l.7-20.8l.7 7l.7 13.8h.7l.7-27.8h.8l.7 27.8h.7l.7-6.9l.7 6.9h2.1l.8-20.8l.7 20.8h.7l.7-13.8l.7 13.8l.7-27.8l.7 27.8h.7l.8-6.9l.7-20.9l.7 14h.7l.7 6.9l.7-20.9h1.4l.8 27.8h.7l.7-6.9h.7l.7 6.9h1.4l.8-6.9l.7 6.9l.7-6.9l.7-20.9l.7 20.9l.7-20.9l.7 20.9l.7-20.9h.8l.7 27.8l.7-27.8l.7 20.9h.7l.7-20.9h.7l.7 27.8l.8-27.8l.7 27.8l.7-6.9l.7 6.9l.7-6.9l.7 6.9h4.3l.7-20.8l.7-7h.7l.7 27.8h.8l.7-13.8l.7-14h.7l.7 7l.7 20.8h1.4l.8-6.9l.7 6.9h4.2l.8-6.9h1.4l.7 6.9h.7l.7-6.9l.7-13.9l.7 13.9l.8-13.9l.7 13.9h1.4l.7 6.9l.7-6.9l.7 6.9l.7-6.9h1.5l.7 6.9h.7l.7-6.9l.7 6.9l.7-6.9l.8-20.9l.7 27.8h.7l.7-27.8l.7 20.9l.7-20.9h1.4l.8 7l.7-7h.7l.7 20.9l.7-20.9l.7 7l.7-7h1.5l.7 7l.7 20.8h.7l.7-27.8l.7 27.8l.7-6.9l.7 6.9l.8-6.9l.7 6.9h2.8l.7-6.9h2.9l.7-20.9l.7 27.8l.7-6.9l.7-6.9l.7 13.8l.8-13.8l.7-14l.7 27.8l.7-6.9l.7 6.9h.7l.7-6.9l.7 6.9h2.2l.7-6.9h.7l.7 6.9l.7-27.8h1.5l.7 20.9l.7-20.9h.7l.7 27.8l.7-6.9l.7 6.9l.7-6.9l.8 6.9l.7-6.9h1.4l.7-20.9l.7 20.9h.7l.7-20.9h.8l.7 14l.7 6.9h.7l.7-20.9l.7 27.8h.7l.8-6.9h.7l.7 6.9h1.4l.7-6.9l.7 6.9l.7-6.9l.8 6.9h.7l.7-6.9l.7-20.9h.7l.7 27.8h.7l.7-6.9l.8-20.9h.7l.7 20.9h.7l.7 6.9l.7-27.8l.7 14h.7l.8 13.8h.7l.7-27.8l.7 14l.7-14l.7 20.9h.7l.7 14.6l.8-7.7l.7-6.9h1.4l.7 6.9h.7l.7-6.9h1.5l.7 6.9l.7-20.8l.7 20.8l.7-27.8l.7 20.9l.7 6.9h.7l.8-6.9l.7 6.9h2.1l.7-6.9l.7 6.9h1.5l.7-6.9h.7l.7-20.9l.7 20.9l.7-20.9l.7 7l.7 20.8l.8-6.9l.7-20.9l.7 27.8h2.1l.7-6.9l.7-6.9l.8 6.9h.7l.7 6.9l.7-13.8l.7 6.9h.7l.7 6.9l.8-13.8l.7-14h1.4l.7 27.8h.7l.7-20.8l.7-7h.8l.7 14l.7-14l.7 27.8h3.6l.7-6.9h1.4l.7-20.9l.7 14l.7-14h.7l.8 20.9l.7-20.9l.7 27.8l.7-20.8l.7 13.9l.7-20.9l.7 20.9h1.5l.7 6.9l.7-6.9l.7 6.9l.7-27.8l.7 27.8h.7l.7-13.8l.8-7l.7 7l.7 13.8h1.4l.7-6.9h.7l.7 6.9h1.5l.7-6.9l.7-13.9l.7 20.8l.7-27.8h.7l.7 20.9l.8-20.9l.7 20.9l.7 6.9l.7-6.9h.7l.7 6.9h.7l.7-27.8h1.5l.7 27.8h.7l.7-6.9l.7 6.9h1.5l.7-6.9l.7 6.9l.7-6.9l.7 6.9h.7l.7-13.8l.7-14l.8 20.9l.7 6.9l.7-27.8l.7 7l.7 20.8h1.4l.7-6.9h1.5l.7 6.9l.7-6.9l.7 6.9h1.4l.7-6.9h.8l.7 6.9h.7l.7-27.8l.7 27.8h.7l.7-27.8h1.5l.7 27.8h.7l.7-27.8l.7 27.8l.7-13.8l.7-14l.7 7l.8 13.9l.7-20.9l.7 27.8l.7-27.8h2.1l.7 27.8l.8-6.9h.7l.7-20.9l.7 14l.7 13.8l.7-6.9l.7 6.9h1.5l.7-6.9l.7 6.9l.7-6.9l.7 6.9l.7-6.9h3.6l.7-20.9l.7 27.8l.7-6.9l.7 6.9l.8-27.8l.7 27.8l.7-6.9h1.4l.7 6.9h2.2l.7-6.9h.7l.7 6.9h.7l.7-6.9l.7-6.9l.7 6.9l.8 6.9l.7-20.8l.7-7l.7 20.9l.7-13.9l.7-7l.7 20.9l.7 6.9l.8-6.9l.7 6.9h.7l.7-27.8l.7 20.9l.7-20.9h.7l.7 7l.8 20.8l.7-6.9l.7 6.9h.7l.7-27.8l.7 7l.7-7l.7 27.8l.8-6.9l.7-20.9l.7 27.8l.7-6.9h1.4l.7 6.9h.7l.8-6.9l.7-6.9l.7-14h.7l.7 7h.7l.7 13.9h.7l.8-20.9l.7 14l.7 13.8h.7l.7-27.8h.7l.7 7l.7 13.9l.8 6.9l.7-27.8l.7 20.9h1.4l.7 6.9h1.4l.8-20.8l.7-7l.7 20.9h.7l.7-20.9l.7 7l.7 20.8l.8-6.9h.7l.7 6.9h.7l.7-13.8l.7 13.8l.7-6.9l.7 6.9l.8-6.9l.7-20.9l.7 20.9l.7 6.9l.7-20.8l.7 20.8h.7l.7-6.9h.8l.7 6.9h.7l.7-6.9l.7 6.9h.7l.7-6.9h2.9l.7 6.9h.7l.7-6.9h.7l.7 6.9l.8-13.8l.7-14l.7 7l.7-7h.7l.7 20.9l.7-20.9l.7 27.8l.8-20.8l.7 20.8l.7-27.8l.7 14l.7-14l.7 14l.7-7l.7 13.9h.8l.7-13.9l.7 20.8l.7-6.9h1.4l.7 6.9l.7-13.8l.8-14l.7 20.9l.7-20.9h.7l.7 20.9l.7 6.9l.7-27.8h1.5l.7 20.9l.7 6.9h.7l.7-6.9h1.4l.7-20.9l.8 20.9l.7 6.9h1.4l.7-6.9l.7 6.9h2.2l.7-6.9l.7 6.9l.7-6.9h.7l.7 6.9h2.2l.7-20.8l.7-7l.7 27.8l.7-6.9l.7 6.9h2.2l.7-6.9l.7 6.9h2.1l.7-6.9h.8l.7 6.9h1.4l.7-6.9l.7 6.9h.7l.7-6.9l.8 6.9l.7-6.9l.7 6.9h.7l.7-27.8l.7 27.8h.7l.7-6.9h.8l.7-20.9h.7l.7 27.8l.7-6.9l.7 6.9h.7l.7-6.9l.8 6.9l.7-6.9l.7 6.9h.7l.7-6.9l.7 6.9h.7l.7-6.9h1.5l.7 6.9h1.4l.7-6.9h.7l.7 6.9l.8-6.9h.7l.7 6.9h3.6l.7-6.9l.7 6.9l.7-6.9h.7l.7 6.9l.7-6.9l.7 6.9l.8-6.9l.7 6.9h2.1l.7-6.9h.7l.7 6.9h2.2l.7-6.9l.7 6.9l.7-6.9h.7l.7 6.9l.8-6.9h.7l.7 6.9l.7-6.9h3.6l.7 6.9l.7-6.9h.7l.7-6.9l.7 13.8l.7-6.9l.7 6.9l.8-6.9l.7 6.9l.7-6.9h.7l.7-20.9h3.6l.7 27.8l.7-27.8h1.4l.7 27.8l.7-27.8l.8 27.8l.7-6.9l.7 6.9l.7-6.9l.7 6.9l.7-6.9l.7 6.9l.7-6.9l.8 6.9h3.5l.7-6.9h.8l.7 6.9l.7-6.9h.7l.7 6.9h.7l.7-6.9h.7l.8-6.9h.7l.7 6.9h1.4l.7 6.9h1.4l.8-6.9l.7 6.9h.7l.7-6.9l.7 6.9h.7l.7-6.9l.7 6.9l.8-6.9h.7l.7 6.9l.7-6.9l.7 6.9h1.4l.7-6.9l.8 6.9l.7-6.9l.7-20.9h.7l.7 27.8h.7l.7-6.9l.7 6.9l.8-6.9l.7 6.9h2.1l.7-6.9l.7-10.4l.7 10.4h.8l.7 6.9h4.2l.8-6.9h1.4l.7 6.9h1.4l.7-6.9h1.5l.7 6.9h.7" stroke="#f00" stroke-linejoin="round"/>
<path d="M886.1 982.9l.7-.2l.7-7l.8-21.4l.7 21.4l.7-14.1l.7-6.8l.7 20.7l.7 6.8l.7-7l.7 7.5l.8-7.5l.7 6.5l.7 1l.7-.9l.7-.1l.7 .8l.7-1.2l.7 .1l.8-6.1l.7 5.3l.7 2.1l.7-.8l.7-7.6l.7-20.5l.7 21.7l.7-20.9l.8 26.9l.7-6.4l.7-.1l.7-20.4l.7-1.1l.7 21.5l.7-7.1l.7 6.8l.8-20.6l.7 186.3l.7-158.6l.7-20.7l.7-8.2l.7 29.3l.7-14.2l.7 14.7l.8-.8l.7 .6l.7-.3l.7-.3l.7-.4l.7 .8l.7-6.9l.7-.7l.8-6.1l.7 12.9h.7l.7-6.3l.7 7.9l.7-22.8l.7-6.3l.7 27.5l.8-14.2l.7 13.7l.7 .1l.7-6l.7-.8l.7 7.8l.7-.1l.7-7.2l.8 1h.7l.7 7.3l.7-1l.7-7.2l.7 7.1l.7-20.9l.7 20.8l.8 .5l.7-7.1l.7-.6l.7 6.9l.7-25.9l.7 19.7l.7-21.8l.8 14.6l.7-14.9l.7 1.5l.7 27.8l.7-21.8l.7-.1l.7 .9l.7-8.1l.8 20.5l.7 8.2h.7l.7 .8l.7-7.4l.7 6.2l.7-6.6l.7 6.4l.8-27.6l.7 27.9l.7-27.5l.7 .6l.7 27.3l.7-.4l.7-13.2l.7-.6l.8 13.5l.7-27.5l.7-8.3l.7 36.2l.7-19.5l.7 6.1l.7 5.8l.7-5.8l.8-7.4l.7-8.2l.7 29.3l.7-21l.7 7.9l.7 12.1l.7 .9l.7-28.3l.8 .1l.7 27.6l.7 .3l.7-7.6l.7 7.3l.7 .9l.7-1.2l.7-.1l.8-20l.7 21.8l.7-1l.7-14.7l.7 15.2l.7-27.4l.7 26.4l.7 .3l.8-13.5l.7-14.9l.7 13.8l.7 .3l.7 8.6l.7-21.5l.7 .4l.7-1.1l.8 28.2l.7-.8l.7-5.7l.7-.7l.7 6.9l.7-.1l.7 1.5l.8-29.1l.7 28.1l.7-7.1l.7-20.9l.7 6.9l.7-7.6l.7 22.1l.7-21.3l.8-.8l.7 28.3l.7-27.6l.7 20.6h.7l.7-20.9h.7l.7 28.2l.8-27.2l.7 26.3l.7-6.7l.7 7.1l.7-6.4l.7 6.9l.7-.3l.7-.5l.8 .7l.7-6.7l.7 5.9l.7 .9l.7-20.5l.7-7.6l.7 1l.7 7.9l.8 20l.7-14.9l.7-13.8l.7-.3l.7 7.3l.7 20.1l.7 .5l.7-20.3l.8 12.8l.7 7.9l.7 .2l.7-.6l.7 .9l.7-.4h.7l.7-.2l.8-6.7l.7 .2l.7-.6l.7 5.9l.7 1.9l.7-7.4l.7-14.3l.7 14.4l.8-14.3l.7 14.3l.7-.3l.7 .8l.7 5.2l.7-6l.7 7l.7-7.3l.8 .2l.7 .1l.7 7.1h.7l.7-7.2l.7 7.6l.7-8l.8-13.7l.7 20.7l.7 .3l.7-28.2l.7 20.1l.7-21l.7 1.7l.7-.8l.8 6.6l.7-6.9l.7 .7l.7 21.2l.7-21.8l.7 6.9l.7-6.7l.7 .5l.8-1.1l.7 8.1l.7 20.7l.7-.5l.7-27.4l.7 27.2l.7-5.6l.7 6.3l.8-6.9l.7 6.1l.7 .8l.7-14.4l.7 14.1l.7-27.8l.7 21.5l.7 .4l.8-1l.7-.2h.7l.7-20.2l.7 28.2l.7-8.1l.7-6.7l.7 14.9l.8-15l.7 .7l.7 12.8l.7-7.1l.7 7.8l.7-.5l.7-5.8l.7 6.9l.8 .4l.7-1.7l.7-6.4l.7-.2l.7-7.2l.7 14.7l.7-27.6h.7l.8 13l.7 7.8l.7-21.1l.7-.8l.7 28.9l.7-8.2l.7 7.8l.7-7.1l.8 6.7l.7-20.2l.7 13.8l.7-.1l.7-20.9l.7 21.2l.7-.7l.7-20.7h.8l.7 13.9l.7-14.2l.7 20.5l.7-20.7l.7 28.6l.7 .3l.8-7.2h1.4l.7-.3l.7 6.3l.7-5.9l.7 6.7l.7-8.4l.8 9.4l.7-1.1l.7-6l.7-21.9l.7 .8l.7 26.8l.7-20.2l.7 14l.8-20.6l.7-.8l.7 21.3l.7-.7l.7 6.5l.7-26.4l.7 14.9l.7-.6l.8 6.2l.7 6.8l.7-27.6l.7 12.8l.7-12.6l.7 20.6l.7 1.1l.7 5.1l.8 .9l.7-7.5l.7 .7l.7-.9l.7 7.8l.7-1.1l.7-6.1l.7-8.3l.8 8.3l.7 6.8l.7-21l.7 21.7l.7-29.6l.7 22.7l.7 5.6l.7 1l.8-8.4l.7 8l.7-.5h.7l.7 .5l.7-6.5l.7 6.3l.7 .2l.8-14.1l.7 7.6l.7-.5l.7-20.4l.7 20.7l.7-20.1l.7 5.8l.7 21.5l.8-7.2l.7-22.2l.7 29.4l.7-8.1l.7 7.4l.7-.2l.7-13.7l.7-.2l.8 7.3l.7 .1l.7 6.7l.7-13.4l.7 7l.7-1l.7 6.8l.8-12.9l.7-14.9l.7 .9l.7-.4l.7 26.8l.7 1.1l.7-21l.7-7.5l.8-.2l.7 15.4l.7 6.6l.7 6.3l.7 1.4l.7-.8l.7 .1l.7 .2h.8l.7-7.3l.7-12.4l.7-8.8l.7-.1l.7 14.7l.7-14.2l.7 .3l.8 20.3l.7-21l.7 28.5l.7-21.3l.7 14.6l.7-21.4l.7 21.2l.7 88.7l.8-88.9l.7 6.7l.7-7l.7 7.4l.7-27.8l.7 26.6l.7 .6l.7-13.3l.8-7.7l.7 7.5l.7 13.6l.7 .9l.7-.7l.7-5.6l.7-1.3l.7 6.9l.8 .8l.7-.7l.7-7.6l.7-12.8l.7 19.9l.7-28.4l.7 29.1l.7-7.4l.8-19.5l.7 12.6l.7 13.2l.7-6.3l.7-.4l.7 8l.7 .6l.7-27.4l.8-1l.7-.2l.7 28l.7-.4l.7-7.1l.7 6.8l.7-6.7l.8-6.2l.7 6.5l.7 6l.7-5.9l.7 5.5l.7 1.1l.7-13.4l.7-14.2l.8 20.6l.7-14.2l.7-6.4l.7 7.8l.7 19.2l.7 1.4l.7-1.6l.7-6.7l.8-.2l.7 2.1l.7 5.2l.7-6.4l.7 7.1l.7 .5l.7-1.1l.7-7.7l.8 1.5l.7 6.3l.7-.5l.7-27.2l.7 27.6l.7-.1l.7-27.7l.7-.4l.8-.3l.7 14.4l.7 13.8l.7-27.5l.7 27.1l.7-13.2l.7-13.8l.7 20.7l.8 1.3l.7-22.7l.7 28.4l.7-27.4l.7-1l.7-.2l.7 .3l.7 28.3l.8-6.8l.7-.1l.7 7.3l.7-14.3l.7 13.5l.7-6.8l.7 7.3l.7 .3l.8 .1l.7-6.8l.7 5.8l.7-5.8l.7-21.4l.7 21.2l.7 .1h.7l.8 .6l.7-1.2l.7-.4l.7-20.5l.7 28l.7-7.1l.7 .5l.8-21.2l.7 27.8l.7-6.6l.7-.9l.7 .8l.7 5.1l.7 2.4l.7-.5l.8-1.2l.7-5.2h.7l.7 5.8l.7 1.7l.7-2.2l.7-12.9l.7 5.9l.8 7.7l.7-19.7l.7-8.4l.7 22.4l.7-15.5l.7-7.2l.7 21l.7 7.6l.8-7.1l.7 7l.7-.1l.7-28.6l.7 7.6l.7-6.9l.7 .5l.7-.6l.8 .6l.7 20.1l.7 8.1l.7-.6l.7-28l.7 6.7l.7-5.6l.7 26.3l.8-6l.7-21.5l.7 28.1l.7-7.1l.7 .6l.7-.4l.7 6.4l.7 .4l.8-7.2l.7-6.3l.7-14l.7 7.5l.7-.5l.7-.1l.7 12.6l.7 1.1l.8-20.8l.7 14.1l.7 14l.7-.4l.7-28.2l.7 .1l.7 8l.7 13.8l.8 7.2l.7-29.1l.7 20.6l.7-.4l.7 .4l.7 7l.7 .2l.7 1.1l.8-21.6l.7 .8l.7 12.5l.7-.3l.7-19.3l.7 5.9l.7 21.9l.8-7.1l.7-1l.7 6.9l.7-13.4l.7 1.3l.7 13.2l.7-7.1l.7 7.5l.8-7.5l.7-20.5l.7 21.1l.7 7.5l.7-23.4l.7 21.6l.7 .6l.7-7.3l.8-.7l.7 7.3l.7 .3l.7-7.1l.7-20.6l.7 27.5l.7-7l.7 1l.8-.5l.7-13.7l.7 13l.7 7l.7 .7l.7-7.3l.7 .4l.7 6.9l.8-14.5l.7 15l.7-22.1l.7-6l.7 .6l.7 19.9l.7-20.4l.7 26.7l.8-20.4l.7 20.8l.7 .3l.7-13.6l.7-14.6l.7 14.5l.7-6.8l.7 12.8l.8 .6l.7-13.8l.7 21.4l.7-7.3l.7 .1l.7-.1l.7 6.4l.7-14.1l.8-11.8l.7 19l.7-20.3l.7-.6l.7 21.3l.7 7.8l.7-20.8l.7-8.6l.8 .3l.7 21.1l.7 8l.7-.3l.7-7.6l.7 .8l.7-1.4l.7-19.2l.8 13.4l.7 13.4l.7-13.8l.7-7l.7 12.2l.7 8.6l.7-.1l.8-.9l.7 2.6l.7-8.8l.7 7.5l.7-27.9l.7 21.3l.7-21.3l.7 27.7l.8 1l.7-.7l.7-14.2l.7-13.5l.7 27.1l.7-6.9l.7 7.9l.7-.4l.8-7.3l.7 6.7l.7-6.5l.7 6.4l.7 .3l.7-.4l.7 1.1l.7-8.5l.8 .8l.7 7.8l.7 .1l.7-3.3l.7-4.1l.7 6.3l.7 .7l.7-7.2l.8 5.9l.7-7l.7 7.7l.7 .4l.7-27.7l.7 27.5l.7-.3l.7-6l.8-.3l.7-.3l.7-.3l.7 6.1l.7-5.8l.7 7.3l.7-.6l.7-6.3l.8 6l.7-7.9l.7 8.9l.7 .4l.7-7.9l.7-.6l.7 8l.7-7.1l.8 .2l.7-1.1l.7 7.8l.7 .4l.7-.3l.7-6.2l.7-.5l.7 6.5l.8-7l.7 .1l.7 6.1l.7 1l.7 .5l.7-.9l.7 .9l.8-6.9l.7-1.3l.7 8.5l.7-8.3l.7 .1l.7 7.8l.7-8.1l.7 7.3l.8-6.9l.7 6.1l.7-.4l.7 1.4l.7 1.3l.7-8.7l.7-.2l.7 6.8l.8-6.5l.7 7.2l.7 .4l.7-7.5l.7 7.5l.7-7.4l.7 .8l.7 5.4l.8-5.6l.7-.2l.7 5.2l.7-6.2l.7 .9l.7 .4l.7-1.1l.7-.3l.8 .2l.7 7l.7-6.9l.7 .7l.7-8.5l.7 15.9l.7-8.3l.7 7.8l.8-6.7l.7 6.3l.7-7.5l.7-.1l.7-20.3l.7-.3l.7 1.4l.7-1.2l.8 .1l.7-1l.7 30.2l.7-29.2l.7 .9l.7-1.1l.7 27.1l.7-26.7l.8 27.3l.7-6.3l.7 7.5l.7-7.6l.7 6.6l.7-5.5l.7 5.5l.7-6.4l.8 6.5l.7 .4l.7 .1l.7-.5h.7l.7-.2l.7-6.3l.8-.6l.7 6.6l.7-5.8l.7-.1l.7 6.6l.7-.4l.7-6.2l.7-1.6l.8 15.9l.7-21.9l.7 7.3l.7 .1l.7 7.3l.7-.6l.7-.4l.7 1.9l.8-9.2l.7 8l.7 .3l.7-.5l.7 1.2l.7-1.2l.7-7.5l.7 8.2l.8-8.3l.7 .3l.7 8.2l.7-8.1l.7-.4l.7 7.6l.7-.5l.7-6.1l.8 6.7l.7-6.2l.7-20.4l.7-1.5l.7 29.1l.7-.9l.7-6.9l.7 7.2l.8-7.9l.7 7.4l.7 .8l.7-.5l.7-.1l.7-.8l.7-16.9l.7 11l.8-.9l.7 7.3l.7 .2l.7 .5l.7-.1l.7-.2l.7-.7l.7 .5l.8-6.8l.7-1l.7 1.2l.7 6.1l.7 .8l.7-6.5l.7-1.3h.7l.8 .5l.7 6.4l.7-.4" stroke="#00f" stroke-dasharray="12 11.6" stroke-linejoin="bevel"/>
</g>
<g font-size="23.1" fill="#000">
<g text-anchor="middle">
<text x="884.9" y="1172">0</text>
<text x="956.2" y="1172">100</text>
<text x="1027.4" y="1172">200</text>
<text x="1098.7" y="1172">300</text>
<text x="1170" y="1172">400</text>
<text x="1241.2" y="1172">500</text>
<text x="1312.5" y="1172">600</text>
<text x="1383.8" y="1172">700</text>
<text x="1455" y="1172">800</text>
<text x="1526.3" y="1172">900</text>
</g><g text-anchor="end">
<text x="875.7" y="1149.6">-20</text>
<text x="875.7" y="1080.1">-10</text>
<text x="875.7" y="1010.6">0</text>
<text x="875.7" y="941.1">10</text>
</g></g>
<g font-size="26" fill="#000" text-anchor="middle">
<text x="1205.3" y="1205.6">Data samples</text>
<text transform="translate(831.9 1039.5) rotate(-90)">DC Value</text>
</g>
<rect x="1359.6" y="1048.6" width="157" height="57.5" fill="#fff" stroke="#1c1c1c" stroke-width="1.6"/>
<path d="M1365.3 1064.4h59.3" stroke="#f00" stroke-width="4.5" fill="none"/>
<path d="M1365.3 1090.6h59.3" stroke="#00f" stroke-width="4.5" stroke-dasharray="12 11.7" fill="none"/>
<g font-size="21" fill="#000"><text x="1429.1" y="1072.1">Actual</text><text x="1429.1" y="1098.1">Predicted</text></g>
<clipPath id="c8"><rect x="77.5" y="1265.3" width="645.7" height="214.2"/></clipPath>
<path d="M79.8 1267.6H720.9V1477.2H79.8ZM79.8 1477.2v-7.2 M79.8 1267.6v7.2M159.9 1477.2v-7.2 M159.9 1267.6v7.2M240.1 1477.2v-7.2 M240.1 1267.6v7.2M320.2 1477.2v-7.2 M320.2 1267.6v7.2M400.4 1477.2v-7.2 M400.4 1267.6v7.2M480.5 1477.2v-7.2 M480.5 1267.6v7.2M560.6 1477.2v-7.2 M560.6 1267.6v7.2M640.8 1477.2v-7.2 M640.8 1267.6v7.2M720.9 1477.2v-7.2 M720.9 1267.6v7.2M79.8 1464.5h7.2 M720.9 1464.5h-7.2M79.8 1419h7.2 M720.9 1419h-7.2M79.8 1373.4h7.2 M720.9 1373.4h-7.2M79.8 1327.8h7.2 M720.9 1327.8h-7.2M79.8 1282.3h7.2 M720.9 1282.3h-7.2" fill="none" stroke="#111" stroke-width="1.4"/>
<g clip-path="url(#c8)" fill="none" stroke-width="4.5">
<path d="M80.6 1273.9l.8 .2l.8 .6l.8-.8l.8 .3h.8l.8 .8l.8-.8l.8 203.2l.8-203l.8-1l.8-.8l.8 1.1l.8-.3l.8-.8l.8 1l.8-.8l.8 1.7l.8-.5l.8-1.1l.8 .5l.8 .5l.8-.7l.8 .4l.8-.1l.8 .6l.8-.4l.8-.1l.8 .7l.8 1.1l.8-1.5l.8-1.8l.8 205.3h.8l.8-203.3l.8-.4l.9-.6h.8l.8-.2h.8l.8 1.5l.8-.5l.8 .4l.8-.7l.8 .6l.8 .4l.8-2.1l.8 1.5l.8 .4l.8-1.1l.8 1.5l.8-.5l.8 .1l.8 .9l.8 .5l.8-1.9l.8-2.2l.8 2.7l.8-1.1l.8 1.2l.8-1.8l.8 2.4l.8 .8l.8-1.8l.8-.5l.8-.9l.8 1.5h.8l.8-.2l.8-1.9l.8 3.1l.8-3.1l.8 1.8l.8 .7l.8-.4l.8-.4l.8 .7l.8-.6l.8-.5l.8-.1l.8 .9l.8-.1l.8-.2l.8-.6l.8 .5l.8-.8l.8 .5l.8 1.5l.8-1.9l.8 1.3l.8-.9l.8 93.9l.8-94.2l.8 .7l.8-.1l.8 1.3l.8-2.2l.8 1l.8-2l.8 1.1l.8 .5l.8 .2l.8-.2l.8 .3l.8-2.1l.8 3.1l.8-3l.8 1.3l.8 .4l.9 .2l.8-.5l.8-.2l.8 .6l.8-.4h.8l.8 1.1l.8-1l.8 1.3l.8 .9l.8-2.1l.8 .8l.8-1.7l.8 2.3l.8-1.6l.8 .9l.8-.4l.8 1l.8-3.1l.8 2.5l.8-1.7l.8 1.5l.8 91.3h.8l.8-92.3l.8 1.4l.8-.5l.8-.9l.8 .2l.8 1.5l.8-.5l.8-1.3l.8 1.5l.8-1.1l.8 .5l.8 1.1l.8-1.1l.8 .6l.8-.5l.8 .7l.8-1.1l.8 .5l.8-.7l.8 1.5l.8-.7l.8-.9l.8-.1l.8 .1l.8 .2l.8 1.1l.8-.8l.8-.2l.8 .3l.8-.3l.8 .8l.8-.9l.8 .8l.8-3.3l.8 .5l.8 1.8l.8 1.7l.8-.2l.8 .4l.8-2.6l.8 .1l.8 2l.8 .7l.8-.7l.8-.1l.8-.2l.8-.6l.8 1l.9-.6l.8-.4h1.6l.8 .7l.8-.3l.8-.6l.8 1.5l.8-1.7l.8 1l.8-1l.8 2l.8-1.6l.8 .7l.8-1.2l.8 .9l.8 .6l.8-1.3l.8 1.2l.8 .3l.8-.2h.8l.8-.1l.8-.1l.8-1.1l.8-.1l.8-.2l.8-.5l.8 94.9l.8-93.4l.8 93.4h.8l.8-93.5l.8 93.5l.8-93l.8 93h.8l.8-93.3l.8 93.3l.8-93.5l.8 .6l.8 .2l.8-.4l.8-.8l.8 2.1l.8-2.2l.8-.7l.8 .3l.8-.3l.8 2.3l.8-4.2l.8 1.9l.8 .9l.8-.6l.8 .7l.8-.3l.8 1.2l.8-.3l.8-6.9l.8 6.4l.8 .1l.8-.6l.8 1.2l.8 .6l.8-.6l.8-.4l.8-1.3l.8 1.8l.8-1.2l.8 .1l.8-.2l.8-1.2l.8 1.8l.9-.8l.8 1.5l.8-1.5l.8 .5l.8 1.1l.8 .8l.8-1.5h.8l.8-1.7l.8-.1l.8 2.4l.8-1.4l.8 .8h.8l.8 .8l.8-.7l.8-.5l.8 .7l.8-.9l.8 .4l.8-1.2l.8 .7l.8 .2l.8 .3l.8 .4l.8-1l.8 1.1l.8-1l.8 .6l.8-.1l.8-1.4l.8 .9h.8l.8 .9l.8-.3l.8-.2l.8 .7l.8 .2l.8-.9l.8-.8l.8 1.8l.8-.9l.8 .6l.8-.9l.8 .1l.8 1.2h.8l.8-1.2l.8 .2l.8-.2l.8-.1l.8-.1l.8-1.2l.8 1.4l.8 .2l.8 .3l.8-1.4l.8 .4l.8 1.2l.8 .3l.8 .1l.8-1.5l.8-.1l.8 .6l.8 1.6l.8-.4l.8-1.3l.8 .3l.8-.1l.8 .2l.8 .3l.8-.6l.8 .3l.9 1.1l.8-.8l.8-.6l.8 .5l.8-.8l.8-.8l.8 2.3l.8-3.4l.8 2.7l.8-.2l.8-.5l.8 1.4l.8-1.1l.8 .1l.8 .4l.8-.6l.8 .7l.8-.5l.8 1.1l.8-1.5l.8-.3l.8-.6l.8-1.7l.8 2.5l.8 .7l.8-.9l.8 1.8l.8-.6l.8-.5l.8-1.2l.8 2.4l.8-1.7l.8 .5l.8-.3l.8 .7l.8 .7l.8-2l.8 1.7l.8-.9l.8 .8l.8-.9l.8-.7l.8 .7l.8 .6l.8-.3l.8-.4l.8 1.4l.8-1.5l.8 .3l.8 .3l.8-.6h.8l.8 .4l.8 .1l.8 .3l.8-.7l.8-.9l.8 .8l.8-.2l.8 1.5l.8 .2l.8-1.6l.8 .9l.8-1.3l.8 1h.8l.8-2.3l.8 2.5l.8 1.3l.8-2.6l.8 1.2l.8-.5l.9 .7l.8-.1l.8-.2l.8-.6l.8 .2l.8 1.4l.8-1.6l.8 .4l.8 .1l.8-.7l.8 2.2l.8-1.7l.8 .2l.8-.6l.8 .2l.8-.3l.8 1.5l.8-1.5l.8 1.7l.8-5.4l.8 4.7l.8-.8l.8 .6l.8-.4l.8-.1l.8 .6l.8-.9l.8-2.6l.8 4.7l.8-.7l.8-.1l.8-.5l.8 .3l.8-.8l.8 .8l.8-1l.8 .3l.8 1.5l.8-1.1l.8 .4l.8-.9l.8-.7l.8 2.1l.8-.8l.8-1.9l.8 2.6l.8-1.3l.8 1.8l.8-1.3l.8 .2l.8 .6h.8l.8-1.5l.8 .7l.8-1.1l.8 1.6l.8-.3l.8-1.3l.8-.4l.8 .8l.8 .3l.8-.2l.8 .5l.8-1.6l.8 .8l.8 1.3l.8-1.5l.8 1.2l.8-.3l.8-.2l.8 1l.8-1.1l.8-1.2l.9 2.3l.8 .5l.8-1l.8 .1l.8-1.2l.8 1.7l.8-2.2l.8 2.2l.8-1.1l.8-1.3l.8 .5l.8 .4l.8 .7l.8-.2l.8 .7l.8-1.8l.8 1.6h.8l.8-.2h.8l.8-2.3l.8 2.3l.8 .1l.8-.7h.8l.8-2.5l.8 3.2l.8 1.6l.8-1.8l.8 .5l.8 .2l.8-1.4l.8 1.2l.8-.5l.8-1.2l.8 .6l.8 .6l.8 .3l.8-.3l.8 2.1l.8-2.7l.8 .6l.8-1l.8 .4l.8 .2l.8-1.4l.8 1.5h1.6l.8-1.6l.8 1.6l.8 2.2l.8-5.8l.8 3.9l.8-.5l.8 .5l.8 .6l.8 .2l.8-.7l.8-.4l.8-.8l.8-.1l.8 1.5h.8l.8-.3l.8 1.9l.8-2.8l.8 1.8l.8-.9l.8 .9l.8-.9l.8-.1l.8 .7l.9-1l.8 .5l.8-.7l.8 1.2l.8-.5l.8-.2l.8 .6l.8 1l.8-1.9l.8 .4l.8-.4l.8-2.4l.8-1.6l.8 3.9l.8 .5l.8-.7l.8 2.4l.8-1l.8 .2l.8 .1l.8-.5l.8-.5l.8-1.1l.8-1.3l.8 1.9l.8 .7l.8-1.5l.8 1.9l.8 .2l.8 87.2l.8-89.4l.8 1.7l.8-.1l.8-1.3l.8 1.9l.8-.1l.8-2.4l.8 3.5l.8-4.7l.8-.2l.8 4l.8-1.9l.8 1.7l.8-.1l.8-1.5l.8 .9l.8-1.1l.8 .5l.8 .7l.8-1.6l.8 1l.8 1l.8 .4l.8-2.6l.8 2.1l.8-.9l.8 .1l.8-.2l.8-.5l.8 3l.8-1.6l.8-.2l.8-1.2l.8 1.5l.8 .1l.8-1l.8 .9l.8-.9l.8-.6h.8l.8 1.7l.8 .9l.8-1.9l.9 .5l.8-1.4l.8 2.5l.8-1.7l.8 1l.8-.7l.8-.5l.8 .4l.8 .1l.8-.5l.8 .6l.8 .2l.8-1.2l.8 2.7l.8-2.2l.8-.7l.8 .9l.8-.3l.8-.3l.8 204.5h.8l.8-204l.8-1.3l.8 2.5l.8-.7l.8 .4l.8 .1l.8-.6l.8 .5l.8 .4l.8 .3l.8-2l.8-.6l.8 .1l.8 2.1l.8 .3l.8-.8l.8-.8l.8 .8l.8-1.3l.8 .3l.8 .6l.8 .8l.8-.3l.8-1.5l.8 1.5l.8-.1l.8 .7l.8-1.7l.8 .9l.8-.2l.8 1.3l.8-.8l.8 .5l.8-1l.8-1.1l.8-.9l.8 3.3l.8-1.3l.8-.4l.8 .9l.8-.1l.8-.5l.8 .3l.8-2.7l.8 3.4l.8-.1l.8-.7l.8-.7l.8 .3l.8 .6l.8-.5l.9 .9l.8-.5l.8 1l.8-.1l.8 1.1l.8-3.2l.8 .7l.8-.1h.8l.8 .3l.8 .1l.8 .5l.8-.8l.8-2.5l.8 3.1l.8 .1l.8 .3l.8-.6l.8 1l.8-.3l.8-.9l.8-.9l.8 1l.8 .2l.8-.5l.8-.3l.8-.4l.8-2.2l.8 2.4l.8 1.2l.8 1l.8-2.5l.8 .7l.8 .6l.8-.2l.8-.7l.8 .6l.8 1.4l.8-3.1l.8 .8l.8 .1l.8 .6l.8-.2l.8 1l.8-.8l.8 .6l.8 .6l.8-.2l.8-.3l.8-.5l.8 .1l.8-1.1l.8 1.8l.8-2l.8 .8l.8 .7l.8 .8l.8-1.5l.8 1.5l.8-2.1l.8 2l.8-1.5l.8 1l.8-1.7l.8 2.3l.8-1.1l.8 1l.8-1.5l.8-.2h.8" stroke="#f00" stroke-linejoin="round"/>
<path d="M80.6 1274.9l.8-.8l.8 .1l.8-.3l.8-.4l.8-.4l.8 2.4l.8-1.3l.8 203.2l.8-203.7l.8-.5l.8 1.7l.8-1l.8 .9l.8-1l.8 .8l.8-.8l.8 .2l.8 .2l.8 .6l.8-.1h.8l.8-.1l.8-.2l.8-.4l.8 .7l.8-1.2l.8 .6l.8 .1l.8 .4l.8-.7l.8-.6l.8 204.1h.8l.8-203.1l.8 .5l.9-.4l.8 1.2l.8-1.6l.8-.8h.8l.8 1.7l.8-1.4l.8 .6l.8 .3l.8 .8l.8 .2l.8-2l.8 1.4l.8-.6l.8 .1l.8 .6l.8-.9l.8 .2l.8-.9l.8 .1l.8 .6l.8-.7l.8 .6l.8-.7l.8 2.1l.8-.6l.8 .2l.8-.8l.8 .6l.8-1.4l.8 .6l.8-.2l.8-.3l.8 1.3l.8-.1l.8-2l.8 .1l.8 2.8l.8-.2l.8-.7l.8-1.6l.8 2.3l.8-.3l.8 .3l.8-1.2l.8-.3l.8 .2l.8 .6l.8-.7l.8-.3l.8 1.1l.8 .3l.8-.8l.8 .7l.8-1.8l.8 94.3l.8-94.5l.8 2.4l.8-.5l.8-.1l.8-.4l.8 .1l.8-.1l.8-.5l.8 .3l.8-.4l.8 .8l.8 .5l.8-.2l.8-.3l.8-.5l.8 .9l.8 .4l.9-1.1l.8 .1l.8 .1l.8-1l.8 .8l.8 .4l.8-.8l.8 .4l.8-.3l.8 .1l.8 .2l.8-.7l.8 .4l.8 .8l.8-1l.8 1l.8 .2l.8 .2l.8-.8l.8 .3l.8 .5l.8-1.7l.8 91.8h.8l.8-90.5l.8 .6l.8-2.5l.8 .7h.8l.8 1.2l.8-.7l.8 2.4l.8-2.3l.8 .1l.8 1l.8-.8l.8-1.4l.8 1.9l.8-2.2l.8 1.1l.8 1.1l.8-.7l.8-1.1l.8 .6l.8 .1l.8 .1l.8 .1l.8 2l.8-1.9l.8 .3l.8 .5l.8-1.9l.8 1.1l.8 .6l.8 .9l.8-1.2l.8 1.2l.8-.7l.8 .1l.8-1l.8 .1h.8l.8 .5l.8 .6l.8-1.1l.8-.3l.8-.4l.8-1.2l.8 2.2l.8-.3l.8 .3l.8-.6l.9 .3l.8-.5l.8 2l.8-.7l.8 .1l.8 .1l.8 .1l.8-.5l.8 .3l.8-.9l.8-.3l.8-.1l.8-.6l.8 .9l.8-.4l.8 .7l.8 .2l.8-.9l.8-.4l.8 1.7l.8-.1l.8-.8l.8 .4l.8-1.1l.8 1h.8l.8 1.1l.8-2.3l.8 94.3h.8l.8-93.1l.8 93.1l.8-92.3l.8 92.3h.8l.8-92.8l.8 92.8l.8-92.5l.8 92.5l.8-91.6l.8-.5l.8-1.8l.8 .9l.8-.2l.8 .3l.8-.8l.8 1.7l.8-1.5l.8-.3l.8-.3l.8 2l.8-1.1l.8-.9l.8 1.3l.8 .1l.8-.3l.8-.1l.8 .7l.8-1.2l.8 .6l.8-.2l.8-.1l.8-.2l.8 1.1l.8-.6l.8 1.6l.8-2.8l.8 1.2l.8-1l.8 .7l.8 .4l.8-1l.8-.9l.9 1.7l.8 1l.8-1.4l.8-.5l.8 .2l.8-.2l.8 .1l.8 1.5l.8-.7l.8-.3l.8-.6l.8 2.2l.8-2.2l.8 .7l.8-.8l.8 1.9l.8 .3l.8-.4l.8-.3l.8-.6l.8-1.5l.8 .2l.8 1l.8 .4l.8 .4l.8 .1l.8-1l.8 .7l.8-.3l.8 .7l.8-.9l.8-.2l.8 .2l.8-.1l.8 .7h.8l.8-.8l.8 1.3l.8-1.1l.8 .4l.8 .9l.8-.6l.8-.2l.8 .7l.8-.6l.8-.2l.8-.9l.8 1.3l.8-.5l.8 .7l.8-.7l.8-.2l.8-.2l.8-.6l.8 1.3l.8-.4l.8 .6h.8l.8-.6l.8-1l.8 1.2l.8 .1l.8-.9h.8l.8 1.1l.8-.1l.8 .7l.8-.7l.8 .3l.8-.7l.8 1.5l.8-.8l.8-.6l.9-.3l.8-.1l.8 .4l.8 .7l.8-.5l.8-.6l.8 .7l.8 .1l.8-1.1h.8l.8 .6h1.6l.8-.1l.8 .7l.8-.5h1.6l.8-.1l.8 .4l.8 .2l.8-.4l.8 .8l.8-1.1l.8 .5l.8-.7l.8-.5l.8 .1l.8-.5l.8 1.8l.8-.5l.8-1.2l.8 .5l.8 .1l.8 2.5l.8-1.4l.8-.9h.8l.8-1.1l.8 1.1l.8 .6l.8-.4l.8 1.4l.8-1.8h.8l.8 .6l.8 1.5l.8-.4l.8-.7l.8-.7l.8-.7l.8 .8l.8-.6l.8 1.1l.8-.7l.8 .3l.8-1l.8 2l.8-1.5l.8 .9l.8-1.2l.8 .7l.8-.5l.8 .8l.8-.1l.8 .4l.8-1.7l.8-.2l.8 2.4l.8-1.5l.8 1.1l.8-1.3l.9 .7l.8 .7l.8-1l.8-.4l.8 .2l.8 .3l.8 .2l.8-.1l.8 1.4l.8 .5l.8-1.7l.8-.5l.8-.6h.8l.8 1.5l.8-1.2l.8 1.7l.8-.9l.8 .5h.8l.8 .6l.8-1.5l.8-.1l.8 1.7l.8 .4l.8-1.5l.8-1.2l.8 1.3l.8-.5l.8 .8h.8l.8-.4l.8-.4l.8 .8l.8-.8l.8 1.3l.8-.9l.8 1.3l.8-.8l.8 .7l.8-1.1l.8-1.1l.8 .6l.8-2l.8 2.4l.8 .3l.8-.7l.8-1l.8 2.2l.8-1.2l.8 .3l.8 .6l.8 .4l.8 .3l.8-2.5l.8 .3l.8-.1l.8 1.2l.8-.6l.8 .5l.8-.4l.8 .5l.8-.5l.8-.5l.8 .4h.8l.8-.2l.8-.5l.8 .3l.8 1l.8 .9l.8-1.6l.8-.3l.9 .6l.8 1l.8-1.3l.8 .2l.8-.2l.8-.7l.8 .1l.8-.4l.8 .6l.8 .9l.8-.3l.8-1.2l.8 1.8l.8-.2l.8-.1l.8 1.4l.8-2.5l.8 1.3l.8 .4l.8-.1l.8 .5l.8-2.2l.8 1.8l.8-.9l.8 .6l.8 .2l.8-1.3l.8 .1l.8 1.3l.8-1.5l.8 1.4l.8-.8l.8-.2l.8 .5l.8 1.4l.8-1.2l.8-.8l.8 .8l.8-.2l.8-.1l.8 .2l.8 .2l.8-1.3l.8 1l.8-.2l.8 .4l.8 .2l.8 .6l.8-.6l.8 .6l.8-.7l.8-.3l.8-1l.8 1.8l.8-.3l.8-.7l.8 .5l.8-.9l.8 .2l.8-.8l.8-.3l.8 1.4l.8-.8h.8l.8 1.6l.8-.8l.8-1.3l.8 3.1l.8-1.5h.8l.8-.5l.8 .8h.8l.9-.9l.8 .9l.8-.4l.8-.8l.8-.9l.8 1.2l.8 .3l.8 .5l.8-1.8l.8 1.4l.8-.4l.8 1.2l.8-1.5l.8-.9l.8 1.4l.8 1.2l.8-1.3l.8-.2l.8 1.5l.8-2.6l.8 .4l.8 1.4l.8-.6l.8 .8l.8 .4l.8 .2l.8-.4l.8-.6h.8l.8 87.6l.8-87.7h.8l.8 .1l.8 .9l.8-.9l.8-.2l.8 1.9l.8-.9l.8-1.9l.8 .3l.8 .9l.8-.4l.8 1l.8-.8l.8 .2l.8 .9l.8-1.2l.8-.5l.8 1.8l.8-1.9l.8-.3l.8 1.4l.8 .6l.8-1.9l.8 1.9h.8l.8-1.7l.8 .5l.8 .5l.8-.1l.8-.6l.8 1l.8-1.1l.8 .7h.8l.8 .1l.8 .3l.8-1l.8 1.5l.8-1.9l.8 2.7l.8-2.2h1.7l.8-.1l.8-1.1l.8 1.4l.8-.7l.8 .5l.8-.5l.8 1.2l.8-.7l.8 .6l.8-.1l.8-.3l.8-.6l.8-.2l.8 1l.8-1.6l.8 .8l.8 .7l.8 .3l.8 202.9h.8l.8-203.4l.8 .7l.8-1.3l.8 1.6l.8-1.4l.8 .1h.8l.8 .4l.8 1l.8-1.1l.8 .5l.8 .4l.8-.6l.8 .6l.8-.4l.8 .8l.8-.6l.8-.5l.8 .2l.8-.7l.8 1.9l.8-.8h.8l.8-.8l.8 1l.8-.4l.8 .1l.8-2.4l.8 3l.8-1.5l.8 1.1l.8 .2l.8-.4l.8-.9l.8 1.6l.8 .5l.8-1.1l.8-2l.8 .5l.8 1h.8l.8 .5l.8-.1l.8-.7l.8-.2l.8-.4l.8 1l.8-.8l.8 1.9l.8 1.4l.8-1.8l.9-.4l.8 .2l.8 .1l.8 .3l.8-.5l.8-.7l.8 .1l.8 .7l.8-.2l.8-1.1l.8 .7l.8-2.5l.8 2.6l.8 .6l.8-1.6l.8 .4l.8 .2l.8-.1l.8-.4l.8 .8l.8 .1l.8 .5l.8-1.2l.8 .5l.8-.2l.8-.3l.8-.6l.8 2.3l.8-1.4l.8 1.1l.8-.8l.8-.3l.8 1l.8-1.3l.8 .5l.8 .1l.8 .3l.8-1.2l.8 1.3l.8-.7l.8 .5l.8 .6l.8-1.1l.8 .9l.8-1.7l.8 2.4l.8-2.1l.8 1.3h.8l.8-.7l.8 .1l.8-.2l.8-.4l.8 2.2l.8-1.3l.8 .3l.8-1.4l.8 2.9l.8-1.1l.8-1.9l.8-.2l.8 .9l.8-.1l.8 .4l.8 1l.8-.3l.8-.4l.8 1.9l.8-2.4l.8 .5" stroke="#00f" stroke-dasharray="12 11.6" stroke-linejoin="bevel"/>
</g>
<g font-size="23.1" fill="#000">
<g text-anchor="middle">
<text x="79.3" y="1507.3">0</text>
<text x="159.4" y="1507.3">100</text>
<text x="239.6" y="1507.3">200</text>
<text x="319.7" y="1507.3">300</text>
<text x="399.9" y="1507.3">400</text>
<text x="480" y="1507.3">500</text>
<text x="560.1" y="1507.3">600</text>
<text x="640.3" y="1507.3">700</text>
<text x="720.4" y="1507.3">800</text>
</g><g text-anchor="end">
<text x="70.1" y="1472.2">0.7</text>
<text x="70.1" y="1426.7">0.75</text>
<text x="70.1" y="1381.1">0.8</text>
<text x="70.1" y="1335.5">0.85</text>
<text x="70.1" y="1290">0.9</text>
</g></g>
<g font-size="26" fill="#000" text-anchor="middle">
<text x="399.5" y="1540.9">Data samples</text>
<text transform="translate(28.7 1373.3) rotate(-90)">ERF</text>
</g>
<rect x="547.9" y="1279.2" width="156.8" height="57.3" fill="#fff" stroke="#1c1c1c" stroke-width="1.6"/>
<path d="M553.6 1295h59.3" stroke="#f00" stroke-width="4.5" fill="none"/>
<path d="M553.6 1321.2h59.3" stroke="#00f" stroke-width="4.5" stroke-dasharray="12 11.7" fill="none"/>
<g font-size="21" fill="#000"><text x="617.4" y="1302.7">Actual</text><text x="617.4" y="1328.7">Predicted</text></g>
<clipPath id="c9"><rect x="883.1" y="1265.3" width="646" height="214.2"/></clipPath>
<path d="M885.4 1267.6H1526.8V1477.2H885.4ZM885.4 1477.2v-7.2 M885.4 1267.6v7.2M992.3 1477.2v-7.2 M992.3 1267.6v7.2M1099.2 1477.2v-7.2 M1099.2 1267.6v7.2M1206.1 1477.2v-7.2 M1206.1 1267.6v7.2M1313 1477.2v-7.2 M1313 1267.6v7.2M1419.9 1477.2v-7.2 M1419.9 1267.6v7.2M1526.8 1477.2v-7.2 M1526.8 1267.6v7.2M885.4 1464.5h7.2 M1526.8 1464.5h-7.2M885.4 1419h7.2 M1526.8 1419h-7.2M885.4 1373.4h7.2 M1526.8 1373.4h-7.2M885.4 1327.8h7.2 M1526.8 1327.8h-7.2M885.4 1282.3h7.2 M1526.8 1282.3h-7.2" fill="none" stroke="#111" stroke-width="1.4"/>
<g clip-path="url(#c9)" fill="none" stroke-width="4.5">
<path d="M887.5 1477.4l2.2-204.4l2.1 1.9l2.2-1.3l2.1-.5l2.1 1.1l2.2-.8l2.1 .1l2.1 .1l2.2 .2l2.1-.5l2.2-.7l2.1 1.8l2.1-1.6l2.2-.6l2.1 1l2.1 1.3l2.2-1l2.1-1.1l2.2 2.1l2.1 .7l2.1-.2l2.2-1.6l2.1-1.7l2.1 1l2.2-.5l2.1 1.3l2.2-1l2.1 1.3l2.1-.7l2.2 .7l2.1 .3l2.2-.6l2.1 .5l2.1-1.5l2.2 1l2.1-.2l2.1 .6l2.2-1.3l2.1 1.6l2.2-1.1l2.1 .8l2.1 .5l2.2-.4l2.1 .3l2.1-.5l2.2 .1l2.1-.5l2.2 88.5l2.1-88.2l2.1-.1l2.2-.2l2.1 .7l2.2-1.1l2.1-.1l2.1 .5l2.2-1.7l2.1 1.2l2.1 .8l2.2 .2l2.1-.1l2.2 .2l2.1-1.3l2.1 1.5l2.2-.5l2.1 .3l2.1-1.2l2.2 2l2.1-.9l2.2-.2l2.1-.3l2.1-.2l2.2 .6l2.1-1l2.2 .6l2.1-1.8l2.1 3.3l2.2-1.8l2.1 1.4l2.1-.2l2.2-2.3l2.1 .2l2.2 2.9l2.1-1.3l2.1-.1l2.2-2.8l2.1 .9l2.1-1.4l2.2 3l2.1 1.9l2.2-2.6l2.1 .7l2.1 .3l2.2 .5l2.1-1.2l2.1-.1l2.2 1.1l2.1-.5l2.2-.6l2.1 2.3l2.1-1.7l2.2 1.7l2.1-.8l2.2-1.2l2.1 .5l2.1 .2h2.2l2.1-1l2.1 .1l2.2 1.3l2.1-.9l2.2 .6l2.1-2.4l2.1 2.6l2.2-.3h2.1l2.1 .1l2.2-.5l2.1-.1l2.2 1.5l2.1-.8l2.1 .6l2.2-2.1l2.1-1l2.1 .9l2.2 .8l2.1-.5l2.2 .7l2.1-1.2l2.1 .8l2.2 .7l2.1 .7l2.2-.4l2.1-.7l2.1 1.2l2.2-.8l2.1-1.3l2.1 1.1l2.2-1.6l2.1 .4l2.2 1.5l2.1 .8l2.1-1l2.2 .3l2.1-.7l2.1-1l2.2 2.2l2.1-.6l2.2-.6l2.1-.6l2.1 .5l2.2 .1l2.1-.8l2.2 .7l2.1 .6l2.1-.2l2.2-6.2l2.1 5.8l2.1-.4l2.2 3.3l2.1-3.5l2.2 1.1l2.1-.5l2.1-.1l2.2 2.4l2.1-.9l2.1-.7l2.2 .4l2.1-.9l2.2 .6l2.1 1l2.1-1.9l2.2-.4l2.1 .5l2.2 1l2.1-.4l2.1-.6l2.2-.1l2.1-.3l2.1 1.1l2.2 .9l2.1-.6l2.2-1l2.1-.2l2.1-1.2l2.2 1.7l2.1-.1l2.1 .4l2.2 .1l2.1-.9l2.2 .3l2.1 .5l2.1 .7l2.2-.8l2.1 .2l2.1-1.3l2.2 .2l2.1-2.4l2.2 2.3l2.1 1.4l2.1-.6l2.2-.9l2.1 1.9l2.2-1l2.1 1l2.1 .7l2.2-2.4l2.1-3.3l2.1 4.8l2.2 .6l2.1-1l2.2-1.4l2.1-5.1l2.1 6.5l2.2 .3l2.1-.7l2.1 1.4l2.2-2.4l2.1 .7l2.2-.6l2.1 1.5l2.1-1.2l2.2 .2l2.1 1.8l2.1-1.4l2.2-.1l2.1 .7l2.2-.2l2.1-.6l2.1 .3l2.2 .8l2.1-1.3l2.2 .3h2.1l2.1 .1l2.2-.3l2.1 .6l2.1 .5l2.2-.1l2.1-1.5l2.2 2.6l2.1-2.1l2.1 1.6l2.2 .1l2.1-.5l2.1-.6l2.2-.8l2.1 2l2.2-2.8l2.1 .5l2.1 1l2.2 .2l2.1 .5" stroke="#f00" stroke-linejoin="round"/>
<path d="M887.5 1281.8l2.2-8.1l2.1-1.1l2.2 1.8l2.1-1.1l2.1 .5l2.2 .7l2.1-2.3l2.1 1.4l2.2-.3l2.1 1.4l2.2-.3l2.1-.7l2.1 .6l2.2-1l2.1 .1l2.1 1l2.2-.8l2.1 .2l2.2 171.1l2.1-170.2l2.1-.2l2.2-.9l2.1-.6l2.1 1.6l2.2-1.8l2.1 .8l2.2 1.2l2.1-1.3l2.1-.4l2.2 .5l2.1-1.7l2.2 1.6l2.1-.4l2.1 .7l2.2-.8l2.1 2.8l2.1-1.3l2.2-.4l2.1-.7l2.2 .2l2.1-.7l2.1 .6l2.2 .1l2.1 .3l2.1-.2l2.2-.6l2.1 .1l2.2 47.3l2.1-46.5l2.1 .4l2.2-.2l2.1-.7l2.2-1l2.1 1.1l2.1-.2l2.2 1.8l2.1-3.6l2.1 3.1l2.2-2.4l2.1 2l2.2-1.3l2.1 .1l2.1 .6l2.2 .2l2.1 .7l2.1-.8l2.2-.9l2.1 .6l2.2 1l2.1-1.7l2.1 2l2.2-1.2l2.1 .9l2.2-.1l2.1-1.5l2.1 1.3l2.2 .8l2.1-.8l2.1-1l2.2 1.2l2.1-1.6l2.2 .2l2.1 .7l2.1-.9l2.2-.5l2.1 3.1l2.1-2.6l2.2 .5l2.1 .8l2.2-.8l2.1 .2l2.1 .8l2.2-1.7l2.1 1.1l2.1-.9l2.2 1.2l2.1 1.1l2.2-1.5l2.1 .4l2.1 .8l2.2 .4l2.1-1.9l2.2-.5l2.1-.1l2.1 .7l2.2 .4l2.1-.2l2.1 .2l2.2-.7l2.1 1.1l2.2 .6l2.1-.8l2.1-.4l2.2 .4l2.1-.2l2.1-1.8l2.2 1.1l2.1 1.8l2.2-1.6l2.1 2.3l2.1-2.3l2.2 .1l2.1 .4l2.1 .8h2.2l2.1-1.1l2.2 .8l2.1-1.2l2.1 1.2l2.2-.2l2.1-.9l2.2 .6l2.1 .1l2.1-.3l2.2-.1l2.1 .4l2.1-.3l2.2 .3l2.1-.4l2.2 .1l2.1-.2l2.1-.3l2.2 1.5l2.1 .3l2.1-.9l2.2-.1l2.1-.5l2.2 1.4l2.1-1.2l2.1-.2l2.2 1.7l2.1-1.7l2.2-.7l2.1 1l2.1 .8l2.2-.2l2.1-.4l2.1 .3l2.2 2.2l2.1-3.8l2.2 1.6l2.1-.3l2.1-.9l2.2 .6l2.1 .6l2.1-.3l2.2-.5l2.1-.1l2.2 .7l2.1-.9l2.1 .1l2.2 1l2.1 .4l2.2-1.1l2.1-.2l2.1 .9h2.2l2.1-.8l2.1 .3l2.2-1l2.1 .7l2.2-1.6l2.1 1.6l2.1 1.1l2.2-.5l2.1-.1l2.1 1.3l2.2-2l2.1 .5l2.2 .1l2.1 .5l2.1 .4l2.2-.7l2.1 .5l2.1-.7l2.2 .7l2.1 .5l2.2-1.3l2.1-.1l2.1-.2l2.2 .4l2.1-1.2l2.2 1.7l2.1-1.4l2.1 1.7l2.2-.2l2.1-.3l2.1-.1l2.2-1.5l2.1 1.8l2.2 .5l2.1-1.6l2.1 .6l2.2 1.3l2.1-1.6l2.1-.5l2.2 1.1l2.1-1.6h2.2l2.1 1.9l2.1-1.3l2.2 2.4l2.1-1.8l2.1 .7l2.2-1.4l2.1 1.5l2.2-1.5l2.1 1.5l2.1-.4l2.2 .3l2.1-.8l2.2 1.3l2.1-1.6l2.1 1l2.2-2.3l2.1 2l2.1 .4l2.2-1l2.1 1.1l2.2-1.2l2.1 .9l2.1-.8l2.2 .4l2.1-.5l2.1 1.1l2.2-.1l2.1-1.7l2.2 .1l2.1 .3l2.1 1.3l2.2-1.5l2.1 1.3" stroke="#00f" stroke-dasharray="12 11.6" stroke-linejoin="bevel"/>
</g>
<g font-size="23.1" fill="#000">
<g text-anchor="middle">
<text x="884.9" y="1507.3">0</text>
<text x="991.8" y="1507.3">50</text>
<text x="1098.7" y="1507.3">100</text>
<text x="1205.6" y="1507.3">150</text>
<text x="1312.5" y="1507.3">200</text>
<text x="1419.4" y="1507.3">250</text>
<text x="1526.3" y="1507.3">300</text>
</g><g text-anchor="end">
<text x="875.7" y="1472.2">0.7</text>
<text x="875.7" y="1426.7">0.75</text>
<text x="875.7" y="1381.1">0.8</text>
<text x="875.7" y="1335.5">0.85</text>
<text x="875.7" y="1290">0.9</text>
</g></g>
<g font-size="26" fill="#000" text-anchor="middle">
<text x="1205.3" y="1540.9">Data samples</text>
<text transform="translate(831.6 1373.2) rotate(-90)">ERF</text>
</g>
<rect x="1353.8" y="1279.2" width="156.8" height="57.3" fill="#fff" stroke="#1c1c1c" stroke-width="1.6"/>
<path d="M1359.5 1295h59.3" stroke="#f00" stroke-width="4.5" fill="none"/>
<path d="M1359.5 1321.2h59.3" stroke="#00f" stroke-width="4.5" stroke-dasharray="12 11.7" fill="none"/>
<g font-size="21" fill="#000"><text x="1423.3" y="1302.7">Actual</text><text x="1423.3" y="1328.7">Predicted</text></g>
<clipPath id="c10"><rect x="77.5" y="1560.6" width="645.7" height="212.5"/></clipPath>
<path d="M79.8 1562.9H720.9V1770.8H79.8ZM79.8 1770.8v-7.2 M79.8 1562.9v7.2M159.9 1770.8v-7.2 M159.9 1562.9v7.2M240.1 1770.8v-7.2 M240.1 1562.9v7.2M320.2 1770.8v-7.2 M320.2 1562.9v7.2M400.4 1770.8v-7.2 M400.4 1562.9v7.2M480.5 1770.8v-7.2 M480.5 1562.9v7.2M560.6 1770.8v-7.2 M560.6 1562.9v7.2M640.8 1770.8v-7.2 M640.8 1562.9v7.2M720.9 1770.8v-7.2 M720.9 1562.9v7.2M79.8 1770.8h7.2 M720.9 1770.8h-7.2M79.8 1701.5h7.2 M720.9 1701.5h-7.2M79.8 1632.2h7.2 M720.9 1632.2h-7.2M79.8 1562.9h7.2 M720.9 1562.9h-7.2" fill="none" stroke="#111" stroke-width="1.4"/>
<g clip-path="url(#c10)" fill="none" stroke-width="4.5">
<path d="M80.6 1736.2h.8l.8-138.6l.8 138.6l.8-138.6l.8 34.6l.8-34.6l.8 138.6l.8-69.4l.8-69.2h.8l.8 69.2l.8 69.4l.8-138.6l.8 34.6l.8-34.6l.8 138.6l.8-138.6l.8 138.6h.8l.8-104l.8-34.6l.8 34.6l.8 104l.8-138.6h1.6l.8 138.6l.8-138.6h.8l.8 34.6l.8-34.6l.8 138.6h.8l.8-34.7l.8-103.9h3.3l.8 138.6l.8-138.6h.8l.8 138.6h1.6l.8-34.7l.8-103.9l.8 103.9h.8l.8 34.7l.8-34.7l.8 34.7l.8-34.7l.8 34.7l.8-34.7l.8 34.7l.8-34.7l.8 34.7l.8-34.7l.8 34.7l.8-34.7l.8 34.7l.8-34.7h1.6l.8-103.9l.8 103.9h1.6l.8 34.7l.8-34.7h.8l.8 34.7l.8-34.7l.8-69.3l.8 104h1.6l.8-34.7l.8 34.7l.8-34.7h.8l.8-103.9h.8l.8 138.6l.8-34.7h4l.8 34.7l.8-34.7l.8 34.7h1.6l.8-138.6l.8 103.9l.8-103.9l.8 138.6l.8-138.6l.8 103.9l.8 34.7l.8-104l.8 104h.8l.8-104l.8 104l.9-104l.8 69.3l.8-103.9l.8 138.6l.8-34.7h3.2l.8 34.7h.8l.8-34.7h.8l.8-103.9l.8 138.6h.8l.8-34.7l.8 34.7l.8-34.7h2.4l.8-34.7l.8 34.7l.8 34.7l.8-34.7l.8 34.7l.8-34.7l.8 34.7h.8l.8-34.7l.8-103.9l.8 103.9h.8l.8 34.7l.8-34.7h1.6l.8 34.7h.8l.8-138.6l.8 103.9l.8-103.9l.8 138.6h.8l.8-138.6l.8 103.9h.8l.8-103.9l.8 138.6l.8-34.7l.8 34.7l.8-34.7h.8l.8 34.7h.8l.8-34.7l.8-103.9l.8 138.6h.8l.8-34.7l.8 34.7h.8l.8-34.7l.8 34.7l.8-34.7l.8-69.3l.8 104h1.6l.8-34.7l.8 34.7l.9-34.7l.8-103.9l.8 103.9h.8l.8-103.9l.8 138.6l.8-34.7l.8 34.7l.8-34.7l.8 34.7h.8l.8-138.6l.8 138.6l.8-34.7l.8-103.9l.8 138.6h.8l.8-138.6l.8 138.6h.8l.8-138.6l.8 103.9l.8-103.9l.8 103.9h3.2l.8 34.7h1.6l.8-34.7l.8 34.7l.8-34.7h1.6l.8 34.7l.8-138.6l.8 138.6l.8-34.7l.8 34.7h1.6l.8-138.6l.8 138.6h.8l.8-34.7l.8 34.7l.8-69.4l.8 69.4h3.2l.8-34.7h2.4l.8 34.7l.8-138.6l.8 138.6l.8-34.7l.8-103.9l.8 138.6h1.6l.8-138.6l.8 138.6h1.6l.8-138.6l.8 103.9h.8l.9 34.7l.8-34.7h1.6l.8 34.7h.8l.8-34.7l.8 34.7h1.6l.8-138.6l.8 138.6h.8l.8-34.7h.8l.8 34.7l.8-104l.8 69.3h.8l.8 34.7h.8l.8-34.7h.8l.8 34.7h.8l.8-138.6l.8 103.9h.8l.8 34.7h.8l.8-138.6l.8 138.6l.8-34.7h.8l.8 34.7h.8l.8-34.7h.8l.8 34.7h1.6l.8-34.7l.8-103.9l.8 138.6l.8-34.7l.8 34.7l.8-34.7l.8 34.7h.8l.8-34.7l.8-103.9l.8 138.6h.8l.8-34.7l.8 34.7h.8l.8-34.7h.8l.8 34.7h.8l.8-138.6l.8 138.6l.8-34.7h.8l.8 34.7l.8 34.6l.8-138.6l.8 104h.8l.8-34.7h2.4l.9-69.3l.8 104h.8l.8-104l.8 69.3l.8 34.7l.8-104l.8 104h1.6l.8-138.6l.8 103.9l.8 34.7l.8-34.7l.8 34.7l.8-34.7h3.2l.8 34.7l.8-34.7l.8-103.9l.8 138.6l.8-34.7h.8l.8 34.7l.8-104l.8 69.3l.8 34.7l.8-34.7l.8 34.7h.8l.8-138.6l.8 103.9h.8l.8-103.9l.8 138.6l.8-34.7l.8-103.9l.8 138.6l.8-34.7l.8-103.9l.8 103.9h.8l.8-103.9l.8 138.6h.8l.8-138.6l.8 138.6h.8l.8-138.6l.8 138.6l.8-34.7l.8 34.7h.8l.8-34.7l.8 34.7l.8-34.7l.8 34.7l.8-138.6l.8 103.9l.8 34.7l.8-138.6l.8 103.9h.8l.8 34.7l.8-138.6l.8 103.9h1.6l.8-103.9h.9l.8 138.6l.8-34.7l.8 34.7h2.4l.8-34.7l.8 34.7l.8-34.7l.8 34.7l.8-34.7l.8 34.7l.8-34.7l.8 34.7l.8-34.7l.8 34.7h.8l.8-69.4l.8 34.7l.8 34.7l.8-34.7l.8 34.7h.8l.8-34.7l.8 69.3l.8-173.2l.8 138.6h.8l.8-34.7h2.4l.8 34.7h2.4l.8-138.6l.8 103.9h.8l.8 34.7l.8-34.7h3.2l.8 34.7l.8-34.7l.8 34.7h4l.8-34.7h.8l.8 34.7l.8-34.7l.8 34.7l.8-34.7h.8l.8 34.7l.8-34.7h4.8l.8 34.7h4.1l.8-34.7l.8 34.7l.8-104l.8 69.3l.8 34.7h.8l.8-34.7h1.6l.8 34.7l.8-34.7l.8 34.7h2.4l.8-34.7l.8 34.7h.8l.8-138.6l.8 103.9l.8 34.7h.8l.8-34.7h.8l.8 34.7l.8-34.7l.8 34.7l.8-34.7l.8 34.7h.8l.8-34.7h.8l.8-69.3l.8 104h.8l.8-104l.8 104h1.6l.8-34.7l.8 34.7h3.2l.8-34.7l.8 34.7l.8-34.7l.8 34.7l.8-34.7l.8 34.7l.8-34.7h.8l.8 34.7l.8-34.7l.8 34.7l.8-34.7h.8l.8 34.7h4l.8-104l.8 69.3l.8 34.7h.8l.8-138.6l.8 138.6h.8l.9-34.7h.8l.8 34.7h.8l.8-34.7l.8-69.3l.8 104h.8l.8-34.7l.8 34.7h.8l.8-34.7l.8-34.7l.8 69.4l.8-34.7h.8l.8 34.7l.8-34.7h.8l.8 34.7l.8-34.7h.8l.8 34.7l.8-34.7l.8 34.7h.8l.8-34.7l.8 34.7l.8-34.7l.8 34.7h.8l.8-34.7l.8-103.9l.8 138.6h.8l.8-138.6l.8 138.6l.8-34.7l.8 34.7l.8-34.7l.8 34.7l.8-34.7h.8l.8 34.7h.8l.8-34.7l.8 34.7h.8l.8-34.7l.8 34.7h1.6l.8-34.7l.8 34.7l.8-34.7l.8-103.9h1.6l.8 138.6l.8-138.6l.8 103.9h1.6l.8 34.7h1.6l.8-34.7h.8l.8-69.3h3.2l.9 69.3h1.6l.8-103.9l.8 138.6l.8-138.6l.8 138.6l.8-138.6l.8 103.9l.8-69.3l.8 69.3l.8-34.7l.8-34.6l.8 69.3l.8-69.3l.8 34.6l.8 34.7l.8 34.7l.8-104l.8 104l.8-104l.8 69.3l.8-69.3h.8l.8 104l.8-104h.8l.8 104l.8-104h.8l.8 104h3.2l.8-34.7h2.4l.8 34.7h2.4l.8-34.7l.8 34.7l.8-34.7h.8l.8 34.7h.8l.8-34.7l.8 34.7l.8-34.7l.8-69.3h2.4l.8 104l.8-104l.8 104l.8-34.7h2.4l.8-69.3l.8 69.3l.8-69.3l.8 69.3l.8-69.3l.8 69.3l.8-69.3l.8 104h.8l.9-34.7h.8l.8 34.7l.8-34.7l.8 34.7l.8-34.7h.8l.8-103.9h.8l.8 138.6l.8-34.7l.8-103.9h2.4l.8 138.6l.8-34.7l.8 34.7h.8l.8-34.7h2.4l.8 34.7h.8l.8-34.7l.8-69.3l.8 104h1.6l.8-104l.8 104l.8-104l.8 69.3l.8 34.7l.8-34.7l.8-69.3h1.6l.8 69.3l.8-69.3l.8 69.3l.8 34.7h.8l.8-34.7h1.6l.8-103.9h1.6l.8 103.9h.8l.8-103.9h2.4l.8 103.9l.8 34.7h.8l.8-34.7l.8 34.7l.8-104l.8 104h.8l.8-34.7h.8l.8-69.3l.8 104h.8l.8-104" stroke="#f00" stroke-linejoin="round"/>
<path d="M80.6 1736.2h.8l.8-138.6l.8 138.6l.8-138.6l.8 34.6l.8-34.6l.8 138.6l.8-69.4l.8-69.2h.8l.8 69.2l.8 69.4l.8-138.6l.8 34.6l.8-34.6l.8 138.6l.8-138.6l.8 138.6h.8l.8-104l.8-34.6l.8 34.6l.8 104l.8-138.6h1.6l.8 138.6l.8-138.6h.8l.8 34.6l.8-34.6l.8 138.6h.8l.8-34.7l.8-103.9h3.3l.8 138.6l.8-138.6h.8l.8 138.6h1.6l.8-34.7l.8-103.9l.8 103.9h.8l.8 34.7l.8-34.7l.8 34.7l.8-34.7l.8 34.7l.8-34.7l.8 34.7l.8-34.7l.8 34.7l.8-34.7l.8 34.7l.8-34.7l.8 34.7l.8-34.7h1.6l.8-103.9l.8 103.9h1.6l.8 34.7l.8-34.7h.8l.8 34.7l.8-34.7l.8-69.3l.8 104h1.6l.8-34.7l.8 34.7l.8-34.7h.8l.8-103.9h.8l.8 138.6l.8-34.7h4l.8 34.7l.8-34.7l.8 34.7h1.6l.8-138.6l.8 103.9l.8-103.9l.8 138.6l.8-138.6l.8 103.9l.8 34.7l.8-104l.8 104h.8l.8-104l.8 104l.9-104l.8 69.3l.8-103.9l.8 138.6l.8-34.7h3.2l.8 34.7h.8l.8-34.7h.8l.8-103.9l.8 138.6h.8l.8-34.7l.8 34.7l.8-34.7h2.4l.8-34.7l.8 34.7l.8 34.7l.8-34.7l.8 34.7l.8-34.7l.8 34.7h.8l.8-34.7l.8-103.9l.8 103.9h.8l.8 34.7l.8-34.7h1.6l.8 34.7h.8l.8-138.6l.8 103.9l.8-103.9l.8 138.6h.8l.8-138.6l.8 103.9h.8l.8-103.9l.8 138.6l.8-34.7l.8 34.7l.8-34.7h.8l.8 34.7h.8l.8-34.7l.8-103.9l.8 138.6h.8l.8-34.7l.8 34.7h.8l.8-34.7l.8 34.7l.8-34.7l.8-69.3l.8 104h1.6l.8-34.7l.8 34.7l.9-34.7l.8-103.9l.8 103.9h.8l.8-103.9l.8 138.6l.8-34.7l.8 34.7l.8-34.7l.8 34.7h.8l.8-138.6l.8 138.6l.8-34.7l.8-103.9l.8 138.6h.8l.8-138.6l.8 138.6h.8l.8-138.6l.8 103.9l.8-103.9l.8 103.9h3.2l.8 34.7h1.6l.8-34.7l.8 34.7l.8-34.7h1.6l.8 34.7l.8-138.6l.8 138.6l.8-34.7l.8 34.7h1.6l.8-138.6l.8 138.6h.8l.8-34.7l.8 34.7l.8-69.4l.8 69.4h3.2l.8-34.7h2.4l.8 34.7l.8-138.6l.8 138.6l.8-34.7l.8-103.9l.8 138.6h1.6l.8-138.6l.8 138.6h1.6l.8-138.6l.8 103.9h.8l.9 34.7l.8-34.7h1.6l.8 34.7h.8l.8-34.7l.8 34.7h1.6l.8-138.6l.8 138.6h.8l.8-34.7h.8l.8 34.7l.8-104l.8 69.3h.8l.8 34.7h.8l.8-34.7h.8l.8 34.7h.8l.8-138.6l.8 103.9h.8l.8 34.7h.8l.8-138.6l.8 138.6l.8-34.7h.8l.8 34.7h.8l.8-34.7h.8l.8 34.7h1.6l.8-34.7l.8-103.9l.8 138.6l.8-34.7l.8 34.7l.8-34.7l.8 34.7h.8l.8-34.7l.8-103.9l.8 138.6h.8l.8-34.7l.8 34.7h.8l.8-34.7h.8l.8 34.7h.8l.8-138.6l.8 138.6l.8-34.7h.8l.8 34.7l.8 34.6l.8-138.6l.8 104h.8l.8-34.7h2.4l.9-69.3l.8 104h.8l.8-104l.8 69.3l.8 34.7l.8-104l.8 104h1.6l.8-138.6l.8 103.9l.8 34.7l.8-34.7l.8 34.7l.8-34.7h3.2l.8 34.7l.8-34.7l.8-103.9l.8 138.6l.8-34.7h.8l.8 34.7l.8-104l.8 69.3l.8 34.7l.8-34.7l.8 34.7h.8l.8-138.6l.8 103.9h.8l.8-103.9l.8 138.6l.8-34.7l.8-103.9l.8 138.6l.8-34.7l.8-103.9l.8 103.9h.8l.8-103.9l.8 138.6h.8l.8-138.6l.8 138.6h.8l.8-138.6l.8 138.6l.8-34.7l.8 34.7h.8l.8-34.7l.8 34.7l.8-34.7l.8 34.7l.8-138.6l.8 103.9l.8 34.7l.8-138.6l.8 103.9h.8l.8 34.7l.8-138.6l.8 103.9h1.6l.8-103.9h.9l.8 138.6l.8-34.7l.8 34.7h2.4l.8-34.7l.8 34.7l.8-34.7l.8 34.7l.8-34.7l.8 34.7l.8-34.7l.8 34.7l.8-34.7l.8 34.7h.8l.8-69.4l.8 34.7l.8 34.7l.8-34.7l.8 34.7h.8l.8-34.7l.8 69.3l.8-173.2l.8 138.6h.8l.8-34.7h2.4l.8 34.7h2.4l.8-138.6l.8 103.9h.8l.8 34.7l.8-34.7h3.2l.8 34.7l.8-34.7l.8 34.7h4l.8-34.7h.8l.8 34.7l.8-34.7l.8 34.7l.8-34.7h.8l.8 34.7l.8-34.7h4.8l.8 34.7h4.1l.8-34.7l.8 34.7l.8-104l.8 69.3l.8 34.7h.8l.8-34.7h1.6l.8 34.7l.8-34.7l.8 34.7h2.4l.8-34.7l.8 34.7h.8l.8-138.6l.8 103.9l.8 34.7h.8l.8-34.7h.8l.8 34.7l.8-34.7l.8 34.7l.8-34.7l.8 34.7h.8l.8-34.7h.8l.8-69.3l.8 104h.8l.8-104l.8 104h1.6l.8-34.7l.8 34.7h3.2l.8-34.7l.8 34.7l.8-34.7l.8 34.7l.8-34.7l.8 34.7l.8-34.7h.8l.8 34.7l.8-34.7l.8 34.7l.8-34.7h.8l.8 34.7h4l.8-104l.8 69.3l.8 34.7h.8l.8-138.6l.8 138.6h.8l.9-34.7h.8l.8 34.7h.8l.8-34.7l.8-69.3l.8 104h.8l.8-34.7l.8 34.7h.8l.8-34.7l.8-34.7l.8 69.4l.8-34.7h.8l.8 34.7l.8-34.7h.8l.8 34.7l.8-34.7h.8l.8 34.7l.8-34.7l.8 34.7h.8l.8-34.7l.8 34.7l.8-34.7l.8 34.7h.8l.8-34.7l.8-103.9l.8 138.6h.8l.8-138.6l.8 138.6l.8-34.7l.8 34.7l.8-34.7l.8 34.7l.8-34.7h.8l.8 34.7h.8l.8-34.7l.8 34.7h.8l.8-34.7l.8 34.7h1.6l.8-34.7l.8 34.7l.8-34.7l.8-103.9h1.6l.8 138.6l.8-138.6l.8 103.9h1.6l.8 34.7h1.6l.8-34.7h.8l.8-69.3h3.2l.9 69.3h1.6l.8-103.9l.8 138.6l.8-138.6l.8 138.6l.8-138.6l.8 103.9l.8-69.3l.8 69.3l.8-34.7l.8-34.6l.8 69.3l.8-69.3l.8 34.6l.8 34.7l.8 34.7l.8-104l.8 104l.8-104l.8 69.3l.8-69.3h.8l.8 104l.8-104h.8l.8 104l.8-104h.8l.8 104h3.2l.8-34.7h2.4l.8 34.7h2.4l.8-34.7l.8 34.7l.8-34.7h.8l.8 34.7h.8l.8-34.7l.8 34.7l.8-34.7l.8-69.3h2.4l.8 104l.8-104l.8 104l.8-34.7h2.4l.8-69.3l.8 69.3l.8-69.3l.8 69.3l.8-69.3l.8 69.3l.8-69.3l.8 104h.8l.9-34.7h.8l.8 34.7l.8-34.7l.8 34.7l.8-34.7h.8l.8-103.9h.8l.8 138.6l.8-34.7l.8-103.9h2.4l.8 138.6l.8-34.7l.8 34.7h.8l.8-34.7h2.4l.8 34.7h.8l.8-34.7l.8-69.3l.8 104h1.6l.8-104l.8 104l.8-104l.8 69.3l.8 34.7l.8-34.7l.8-69.3h1.6l.8 69.3l.8-69.3l.8 69.3l.8 34.7h.8l.8-34.7h1.6l.8-103.9h1.6l.8 103.9h.8l.8-103.9h2.4l.8 103.9l.8 34.7h.8l.8-34.7l.8 34.7l.8-104l.8 104h.8l.8-34.7h.8l.8-69.3l.8 104h.8l.8-104" stroke="#00f" stroke-dasharray="12 11.6" stroke-linejoin="bevel"/>
</g>
<g font-size="23.1" fill="#000">
<g text-anchor="middle">
<text x="79.3" y="1800.9">0</text>
<text x="159.4" y="1800.9">100</text>
<text x="239.6" y="1800.9">200</text>
<text x="319.7" y="1800.9">300</text>
<text x="399.9" y="1800.9">400</text>
<text x="480" y="1800.9">500</text>
<text x="560.1" y="1800.9">600</text>
<text x="640.3" y="1800.9">700</text>
<text x="720.4" y="1800.9">800</text>
</g><g text-anchor="end">
<text x="70.1" y="1778.5">2</text>
<text x="70.1" y="1709.2">4</text>
<text x="70.1" y="1639.9">6</text>
<text x="70.1" y="1570.6">8</text>
</g></g>
<g font-size="26" fill="#000" text-anchor="middle">
<text x="399.5" y="1834.5">Data samples</text>
<text transform="translate(38 1669.2) rotate(-90)">DC Value</text>
</g>
<rect x="547.9" y="1574.5" width="156.8" height="57.3" fill="#fff" stroke="#1c1c1c" stroke-width="1.6"/>
<path d="M553.6 1590.3h59.3" stroke="#f00" stroke-width="4.5" fill="none"/>
<path d="M553.6 1616.5h59.3" stroke="#00f" stroke-width="4.5" stroke-dasharray="12 11.7" fill="none"/>
<g font-size="21" fill="#000"><text x="617.4" y="1598">Actual</text><text x="617.4" y="1624">Predicted</text></g>
<clipPath id="c11"><rect x="883.1" y="1560.6" width="646" height="212.5"/></clipPath>
<path d="M885.4 1562.9H1526.8V1770.8H885.4ZM885.4 1770.8v-7.2 M885.4 1562.9v7.2M992.3 1770.8v-7.2 M992.3 1562.9v7.2M1099.2 1770.8v-7.2 M1099.2 1562.9v7.2M1206.1 1770.8v-7.2 M1206.1 1562.9v7.2M1313 1770.8v-7.2 M1313 1562.9v7.2M1419.9 1770.8v-7.2 M1419.9 1562.9v7.2M1526.8 1770.8v-7.2 M1526.8 1562.9v7.2M885.4 1770.8h7.2 M1526.8 1770.8h-7.2M885.4 1701.5h7.2 M1526.8 1701.5h-7.2M885.4 1632.2h7.2 M1526.8 1632.2h-7.2M885.4 1562.9h7.2 M1526.8 1562.9h-7.2" fill="none" stroke="#111" stroke-width="1.4"/>
<g clip-path="url(#c11)" fill="none" stroke-width="4.5">
<path d="M887.5 1701.5h2.2l2.1 27.7l2.2-55.4l2.1 27.7l2.1-13.9l2.2 27.8l2.1-41.6l2.1 27.7l2.2-27.7l2.1 55.4l2.2-41.6l2.1 27.8l2.1-41.6l2.2 55.4h2.1l2.1-13.8l2.2-41.6l2.1 41.6l2.2 13.8l2.1-13.8l2.1 13.8h4.3l2.1-13.8l2.2 13.8h2.1l2.2-13.8l2.1 13.8l2.1-13.8l2.2 13.8l2.1-13.8l2.2 13.8l2.1-13.8l2.1-41.6l2.2 27.7l2.1 13.9l2.1-41.6l2.2 55.4h4.3l2.1-13.8l2.1 13.8l2.2-13.8l2.1-41.6l2.1 13.8l2.2 13.9l2.1-27.7h6.4l2.2 55.4h6.4l2.1-13.8h2.2l2.1 13.8h10.7l2.1-55.4l2.2 27.7l2.1 27.7h4.3l2.1-55.4l2.2 41.6h2.1l2.1 13.8h2.2l2.1-13.8l2.2 13.8l2.1-13.8l2.1-41.6l2.2 13.8l2.1 13.9l2.1-27.7l2.2 27.7l2.1 13.9h2.2l2.1 13.8l2.1-55.4l2.2 41.6h2.1l2.1 13.8h4.3l2.2-13.8l2.1-41.6l2.1 13.8l2.2 13.9l2.1-27.7l2.1 55.4l2.2-27.7l2.1-13.9l2.2 41.6l2.1-13.8l2.1-27.8l2.2 27.8h4.3l2.1 13.8l2.1-41.6l2.2 27.8h2.1l2.1 13.8h6.5l2.1-13.8l2.1-41.6l2.2 55.4h2.1l2.1-13.8h4.3l2.2 13.8h4.2l2.2-13.8h4.2l2.2 13.8h4.3l2.1-13.8l2.1 13.8l2.2-13.8l2.1 13.8l2.2-13.8h4.2l2.2 13.8l2.1-13.8h2.1l2.2 13.8l2.1-55.4l2.2 13.8l2.1 13.9l2.1-27.7l2.2 55.4h10.7l2.1-13.8h4.3l2.1 13.8l2.2-55.4l2.1 41.6l2.1 13.8h2.2l2.1-13.8l2.1 13.8l2.2-41.6l2.1 27.8l2.2 13.8h4.2l2.2-13.8h2.1l2.1 13.8h2.2l2.1-13.8l2.2 13.8h2.1l2.1-13.8l2.2 13.8h4.3l2.1-13.8h4.3l2.1 13.8l2.1-13.8l2.2 13.8l2.1-13.8h4.3l2.1 13.8h2.2l2.1-13.8h2.1l2.2 13.8h2.1l2.2-13.8h4.2l2.2 13.8h2.1l2.1-41.6l2.2 13.9l2.1-27.7l2.2 41.6h6.4l2.1 13.8h2.2l2.1-13.8h2.1l2.2 13.8h10.7l2.1-13.8l2.1 13.8l2.2-13.8h4.2l2.2-41.6l2.1 55.4h6.4l2.2-55.4l2.1 55.4h2.1l2.2-13.8h2.1l2.2-27.8l2.1 13.9l2.1-27.7l2.2 27.7l2.1 27.7l2.2-55.4l2.1 55.4l2.1-13.8l2.2 13.8h6.4l2.1-13.8l2.2 13.8h8.5l2.1-55.4l2.2 27.7l2.1-27.7l2.2 55.4h6.4l2.1-13.8" stroke="#f00" stroke-linejoin="round"/>
<path d="M887.5 1701.5l2.2 13.9l2.1 15.2l2.2-57.3l2.1 29.3l2.1-15.1l2.2 26.2l2.1-39.7l2.1 29.1l2.2-31.6l2.1-17.1l2.2 33l2.1 41.4l2.1-54.7l2.2 54.2l2.1 2.8l2.1-15.7l2.2-40l2.1 40.1l2.2-93l2.1 93.1l2.1 11.2l2.2 2.5l2.1 .9l2.1-15.3l2.2 14l2.1-14l2.2 .4l2.1 14l2.1-15.3l2.2 17.5l2.1-17.2l2.2 15.7l2.1-14.5l2.1-40.5l2.2 24.7l2.1 18.5l2.1-42.7l2.2 54.3l2.1-1.5l2.2-11.1l2.1-2.6l2.1 13.1l2.2 2.8l2.1-53.2l2.1 37l2.2-12.6l2.1-27.8l2.2-97.1l2.1 123.6l2.1-25.8l2.2 54.4l2.1 1.4l2.2-1.8l2.1 .7l2.1-14.6l2.2 1.6l2.1 12.6l2.1-.1l2.2-.4l2.1 .7l2.2 2.9l2.1-3.5l2.1-53.1l2.2 24.7l2.1 29.1h2.1l2.2 .9l2.1-58.8l2.2 45.1l2.1 10.9l2.1-.4l2.2-2.1l2.1-11.4l2.2 15.9l2.1-12.7l2.1-41.8l2.2 14.9l2.1 9.9l2.1-26.3l2.2 29.7l2.1 25.1l2.2-12.9l2.1-1.3l2.1-40.7l2.2 43.6l2.1-1.7l2.1 12.8l2.2 1.1l2.1-78.8l2.2 66.8l2.1-42.4l2.1 12.9l2.2 12.8l2.1-25.8l2.1 55.2l2.2-31.2l2.1-9.6l2.2 40.6l2.1-12.9l2.1-29l2.2 26.6h2.1l2.2 .5l2.1 12.7l2.1-39.8l2.2 26.8l2.1 2.3l2.1 11l2.2 2.3l2.1-2.6l2.2 3.2l2.1-15.7l2.1-41.6l2.2 55.5l2.1 .6l2.1-2.4l2.2-12.2l2.1 2.1l2.2 13l2.1-2.4l2.1 2.9l2.2-17.6l2.1 3l2.1 2.1l2.2 10l2.1 2.6l2.2 3.9l2.1-19.1l2.1 15.7l2.2-28.1l2.1 25.4l2.2-14.1l2.1 1.5l2.1 1.9l2.2 9.8l2.1-12.2l2.1 .1l2.2 16.1l2.1-56.6l2.2 12.7l2.1 14.3l2.1-28.2l2.2 57l2.1 1l2.1-2.8l2.2 .7l2.1-1.8l2.2-.3l2.1-11.8l2.1 .3l2.2-2.3l2.1 .5l2.2-39.1l2.1 37.8l2.1 16l2.2-68.9l2.1 57.3l2.1 12.5l2.2-42.8l2.1 14.1l2.2 26.2l2.1 .7l2.1 2.7l2.2-14.9l2.1 .2l2.1 14.3h2.2l2.1-13.5l2.2 13.9l2.1-1.2l2.1-14.5l2.2 12.6l2.1-10.9l2.2 13.4l2.1-10.3l2.1-4.1l2.2-.5l2.1 14.9l2.1-28.5l2.2 28.9l2.1-13.9l2.2 .9l2.1-37.4l2.1 38l2.2 9.6l2.1-13.4l2.1 15l2.2 .2l2.1-2.2l2.2-12.6l2.1 1.7l2.1-1l2.2-.4l2.1 .1l2.1-27.8l2.2 16.6l2.1-28.9l2.2 43.2l2.1-3.2l2.1 1l2.2-12.6l2.1 22.9l2.2 1.2l2.1-11.4l2.1-1.8l2.2 15.9l2.1-2.2l2.1 .2l2.2 1.8l2.1-1.5l2.2-1.7l2.1-12.8l2.1 16.9l2.2-16.1l2.1-.5l2.1 .7l2.2-42.8l2.1 57.9l2.2 2.3l2.1-5.4l2.1 3.7l2.2-56.8l2.1 57.4l2.1-3.3l2.2-11.2l2.1-1.7l2.2-27.5l2.1 11.8l2.1-28.3l2.2 29.3l2.1 27.3l2.2-54.3l2.1 55.4l2.1-12.3l2.2 11.9l2.1 3.6l2.1-4l2.2 1.1l2.1-13.7l2.2 12.2l2.1 4.2l2.1-1.2l2.2-2.1l2.1 1.2l2.1-56.7l2.2 28.9l2.1-26.5l2.2 39.4l2.1 .3l2.1 13.4h2.2l2.1-15.9" stroke="#00f" stroke-dasharray="12 11.6" stroke-linejoin="bevel"/>
</g>
<g font-size="23.1" fill="#000">
<g text-anchor="middle">
<text x="884.9" y="1800.9">0</text>
<text x="991.8" y="1800.9">50</text>
<text x="1098.7" y="1800.9">100</text>
<text x="1205.6" y="1800.9">150</text>
<text x="1312.5" y="1800.9">200</text>
<text x="1419.4" y="1800.9">250</text>
<text x="1526.3" y="1800.9">300</text>
</g><g text-anchor="end">
<text x="875.7" y="1778.5">0</text>
<text x="875.7" y="1709.2">5</text>
<text x="875.7" y="1639.9">10</text>
<text x="875.7" y="1570.6">15</text>
</g></g>
<g font-size="26" fill="#000" text-anchor="middle">
<text x="1205.3" y="1834.5">Data samples</text>
<text transform="translate(833.6 1669) rotate(-90)">DC Value</text>
</g>
<rect x="1353.8" y="1574.5" width="156.8" height="57.3" fill="#fff" stroke="#1c1c1c" stroke-width="1.6"/>
<path d="M1359.5 1590.3h59.3" stroke="#f00" stroke-width="4.5" fill="none"/>
<path d="M1359.5 1616.5h59.3" stroke="#00f" stroke-width="4.5" stroke-dasharray="12 11.7" fill="none"/>
<g font-size="21" fill="#000"><text x="1423.3" y="1598">Actual</text><text x="1423.3" y="1624">Predicted</text></g>
<clipPath id="c12"><rect x="69.1" y="1900.4" width="652.6" height="215.9"/></clipPath>
<path d="M71.4 1902.7H719.4V2114H71.4ZM71.4 2114v-7.3 M71.4 1902.7v7.3M164 2114v-7.3 M164 1902.7v7.3M256.5 2114v-7.3 M256.5 1902.7v7.3M349.1 2114v-7.3 M349.1 1902.7v7.3M441.7 2114v-7.3 M441.7 1902.7v7.3M534.3 2114v-7.3 M534.3 1902.7v7.3M626.8 2114v-7.3 M626.8 1902.7v7.3M719.4 2114v-7.3 M719.4 1902.7v7.3M71.4 2079.1h7.3 M719.4 2079.1h-7.3M71.4 1991.1h7.3 M719.4 1991.1h-7.3M71.4 1903.1h7.3 M719.4 1903.1h-7.3" fill="none" stroke="#111" stroke-width="1.4"/>
<g clip-path="url(#c12)" fill="none" stroke-width="4.55">
<path d="M76 1929.4l4.7-2.6l4.6 2l4.6-.4l4.6-.8l4.7 .7l4.6-.7l4.6 .4l4.7-.5l4.6 2.2l4.6-.2l4.6 .4l4.7-1.6l4.6 .7l4.6-1l4.7 .5l4.6 .1l4.6-1.7l4.6 1.3l4.7 .6l4.6 .8l4.6-1.9l4.7 .2l4.6 1.8l4.6-.8l4.6-.3l4.7-2.7l4.6 3.1l4.6-1.5l4.7 2.7l4.6-1.9l4.6-1.2l4.6 2.2l4.7-.1l4.6-.6l4.6-.3l4.7-2.4l4.6 4.2l4.6-.7l4.6-3.5l4.7 3.1l4.6-1.2l4.6 1.2l4.7 .1l4.6-2l4.6 1.7l4.6 .8l4.7-.8l4.6 .2l4.6-.9l4.7 .3l4.6-4.6l4.6 5.3l4.6 .1l4.7-1.6l4.6-.6l4.6 1.8l4.7-.5l4.6 .1l4.6 .8h9.3l4.6 1.3l4.6-1.1l4.7-1l4.6-.5l4.6 1l4.6-5.1l4.7 4.4l4.6-1.2l4.6 2.6l4.7-.2l4.6-.3l4.6-.8l4.6 1.2l4.7-1.1l4.6 1l4.6-1.1l4.7 .7l4.6 .1l4.6-1.1l4.6 1.8l4.7-.4l4.6-1.3h4.6l4.7 .5l4.6 2.1l4.6-2.6l4.6 .4l4.7 .6l4.6 1.4l4.6-2.5l4.7-.8l4.6 1.1l4.6-.7l4.6 1.7l4.7-.7l4.6 .7l4.6 .4l4.7-.6l4.6 .5l4.6-.2h4.6l4.7-.3l4.6-.1l4.6-.4l4.7 1.3l4.6-1.4l4.6 1.9l4.6-1.7h4.7l4.6 2.1l4.6-1.7l4.7-1.3l4.6 186h9.2l4.7-1.7l4.6 1.7h13.9l4.6-5.3l4.6 5.3h41.7l4.6-1.2l4.7 1.2h23.1" stroke="#f00" stroke-linejoin="round"/>
<path d="M76 1929l4.7-2.8l4.6 3.2l4.6-.7l4.6 .4l4.7-.5l4.6-1.5l4.6 1.6l4.7-1.5l4.6 1.9l4.6 .1l4.6 1l4.7-2.1l4.6 1.4l4.6-1.2l4.7-1.5l4.6 2.2l4.6-1.6l4.6 .7l4.7 .5l4.6 .5l4.6-.9l4.7 .5l4.6 1.7l4.6-2l4.6-.6l4.7-1.3l4.6 2.9l4.6-1.9l4.7 3.4l4.6-2.2l4.6-2.3l4.6 3.8l4.7-1.3l4.6-1.2l4.6 1.4l4.7-3.9l4.6 4.9l4.6-.3l4.6-4.5l4.7 3.7l4.6-1.1l4.6 1.6l4.7 .2l4.6-2.2l4.6 1.5l4.6 .1l4.7-.2l4.6-.1l4.6-.4l4.7-.4l4.6 .1l4.6 .1l4.6 .8l4.7-.3l4.6-1.6l4.6 2l4.7-1.5l4.6 .8l4.6 .2l4.6 .1l4.7 1l4.6 1l4.6-1.3l4.7-.3l4.6-3.5l4.6 3l4.6-.9l4.7 1.5l4.6-2.3l4.6 2.9l4.7 .7l4.6-.1l4.6-2.1l4.6 1.5l4.7-1.7l4.6 1.4l4.6-2l4.7 2.8l4.6-1.6l4.6-.1l4.6 1.9l4.7-1.7l4.6 .7l4.6-1.4l4.7 .7l4.6 1l4.6-.6l4.6-1l4.7 .5l4.6 1.8l4.6-2.5l4.7-.7l4.6 2l4.6-1.3l4.6 2.7l4.7-2.8l4.6 .8l4.6 2l4.7-2.5l4.6 1.5l4.6 .8l4.6-.5l4.7-1.3l4.6 .4l4.6 .3h4.7l4.6-.8l4.6 2.1l4.6-1.1l4.7-1.3l4.6 1.9l4.6-.4l4.7-1.8l4.6 185.8h9.2l4.7-1.7l4.6 1.7h13.9l4.6-5.3l4.6 5.3h41.7l4.6-1.2l4.7 1.2h23.1" stroke="#00f" stroke-dasharray="12.1 11.7" stroke-linejoin="bevel"/>
</g>
<g font-size="23.35" fill="#000">
<g text-anchor="middle">
<text x="70.9" y="2145.3">0</text>
<text x="163.5" y="2145.3">20</text>
<text x="256" y="2145.3">40</text>
<text x="348.6" y="2145.3">60</text>
<text x="441.2" y="2145.3">80</text>
<text x="533.8" y="2145.3">100</text>
<text x="626.3" y="2145.3">120</text>
<text x="718.9" y="2145.3">140</text>
</g><g text-anchor="end">
<text x="61.6" y="2086.9">0.6</text>
<text x="61.6" y="1998.9">0.65</text>
<text x="61.6" y="1910.8">0.7</text>
</g></g>
<g font-size="26.29" fill="#000" text-anchor="middle">
<text x="394.6" y="2178.8">Data samples</text>
<text transform="translate(16.8 2009.7) rotate(-90)">ERF</text>
</g>
<rect x="544.5" y="1914.4" width="158.5" height="57.9" fill="#fff" stroke="#1c1c1c" stroke-width="1.6"/>
<path d="M550.3 1930.4h60" stroke="#f00" stroke-width="4.55" fill="none"/>
<path d="M550.3 1956.9h60" stroke="#00f" stroke-width="4.55" stroke-dasharray="12.1 11.8" fill="none"/>
<g font-size="21.23" fill="#000"><text x="614.8" y="1938.2">Actual</text><text x="614.8" y="1964.5">Predicted</text></g>
<clipPath id="c13"><rect x="883.5" y="1900.4" width="652.9" height="215.9"/></clipPath>
<path d="M885.8 1902.7H1534.1V2114H885.8ZM885.8 2114v-7.3 M885.8 1902.7v7.3M1015.5 2114v-7.3 M1015.5 1902.7v7.3M1145.1 2114v-7.3 M1145.1 1902.7v7.3M1274.8 2114v-7.3 M1274.8 1902.7v7.3M1404.4 2114v-7.3 M1404.4 1902.7v7.3M1534.1 2114v-7.3 M1534.1 1902.7v7.3M885.8 2114h7.3 M1534.1 2114h-7.3M885.8 2046.2h7.3 M1534.1 2046.2h-7.3M885.8 1978.3h7.3 M1534.1 1978.3h-7.3M885.8 1910.5h7.3 M1534.1 1910.5h-7.3" fill="none" stroke="#111" stroke-width="1.4"/>
<g clip-path="url(#c13)" fill="none" stroke-width="4.55">
<path d="M898.8 2016.8h129.6l13-1.5l13 1.5h155.5l13-1l13 1h103.7l13-1l12.9 1h51.9l13 36.2h12.9l13-1.2l13 1.2h25.9" stroke="#f00" stroke-linejoin="round"/>
<path d="M898.8 2016.8h64.8l13-13.5l12.9 13.5h38.9l13-.3l13 .3h12.9l13 63.8l13-63.8h116.6l13-1l13 1h103.7l13-1l12.9 1h51.9l13 36.2h12.9l13-2.1l13-148.4l12.9 150.5h13" stroke="#00f" stroke-dasharray="12.1 11.7" stroke-linejoin="bevel"/>
</g>
<g font-size="23.35" fill="#000">
<g text-anchor="middle">
<text x="885.3" y="2144.4">0</text>
<text x="1015" y="2144.4">10</text>
<text x="1144.6" y="2144.4">20</text>
<text x="1274.3" y="2144.4">30</text>
<text x="1403.9" y="2144.4">40</text>
<text x="1533.6" y="2144.4">50</text>
</g><g text-anchor="end">
<text x="876" y="2121.8">0.4</text>
<text x="876" y="2054">0.6</text>
<text x="876" y="1986.1">0.8</text>
<text x="876" y="1918.3">1</text>
</g></g>
<g font-size="26.29" fill="#000" text-anchor="middle">
<text x="1209.1" y="2178.4">Data samples</text>
<text transform="translate(837.5 2012.5) rotate(-90)">ERF</text>
</g>
<rect x="1359.2" y="1914.4" width="158.5" height="57.9" fill="#fff" stroke="#1c1c1c" stroke-width="1.6"/>
<path d="M1365 1930.4h60" stroke="#f00" stroke-width="4.55" fill="none"/>
<path d="M1365 1956.9h60" stroke="#00f" stroke-width="4.55" stroke-dasharray="12.1 11.8" fill="none"/>
<g font-size="21.23" fill="#000"><text x="1429.5" y="1938.2">Actual</text><text x="1429.5" y="1964.5">Predicted</text></g>
<clipPath id="c14"><rect x="69.1" y="2198.9" width="652.6" height="214.9"/></clipPath>
<path d="M71.4 2201.2H719.4V2411.5H71.4ZM71.4 2411.5v-7.3 M71.4 2201.2v7.3M164 2411.5v-7.3 M164 2201.2v7.3M256.5 2411.5v-7.3 M256.5 2201.2v7.3M349.1 2411.5v-7.3 M349.1 2201.2v7.3M441.7 2411.5v-7.3 M441.7 2201.2v7.3M534.3 2411.5v-7.3 M534.3 2201.2v7.3M626.8 2411.5v-7.3 M626.8 2201.2v7.3M719.4 2411.5v-7.3 M719.4 2201.2v7.3M71.4 2411.5h7.3 M719.4 2411.5h-7.3M71.4 2341.4h7.3 M719.4 2341.4h-7.3M71.4 2271.3h7.3 M719.4 2271.3h-7.3M71.4 2201.2h7.3 M719.4 2201.2h-7.3" fill="none" stroke="#111" stroke-width="1.4"/>
<g clip-path="url(#c14)" fill="none" stroke-width="4.55">
<path d="M76 2341.4l4.7-105.2h4.6l4.6 105.2l4.6-105.2l4.7 35.1h13.9l4.6-35.1h13.9l4.6 35.1h4.6l4.7-35.1l4.6 35.1l4.6-35.1h4.6l4.7 35.1l4.6-35.1h13.9l4.6 140.2l4.6-140.2h9.3l4.6 105.2l4.7-105.2h13.8l4.7 35.1l4.6-35.1l4.6 35.1l4.7-35.1h4.6l4.6 35.1l4.6-35.1h23.2l4.6 140.2l4.6-140.2l4.7 175.3l4.6-35.1l4.6-140.2l4.7 140.2h4.6l4.6-140.2l4.6 140.2l4.7-140.2h4.6l4.6 140.2l4.7-140.2l4.6 140.2l4.6-140.2h9.3l4.6 105.2l4.6-105.2h13.9l4.6 70.2l4.7 70l4.6-140.2l4.6 35.1l4.7-35.1h18.5l4.6 35.1l4.6-35.1h23.2l4.6 35.1l4.6-35.1l4.7 35.1l4.6 105.1l4.6-140.2h9.3l4.6 105.2l4.6-105.2h9.3l4.6 105.2l4.6 35l4.7-105.1h4.6l4.6 105.1l4.7-140.2l4.6 35.1l4.6-35.1h9.3l4.6 140.2l4.6-140.2h23.2l4.6 35.1l4.6 105.1l4.7-52.5l4.6-52.6l4.6-35.1l4.6 35.1l4.7 140.2h4.6l4.6-175.3l4.7 35.1l4.6 70.1l4.6-70.1h46.3l4.6 140.2l4.7-140.2h23.1" stroke="#f00" stroke-linejoin="round"/>
<path d="M76 2341.4l4.7-105.2h4.6l4.6 105.2l4.6-105.2l4.7 35.1h13.9l4.6-35.1h13.9l4.6 35.1h4.6l4.7-35.1l4.6 35.1l4.6-35.1h4.6l4.7 35.1l4.6-35.1h13.9l4.6 140.2l4.6-140.2h9.3l4.6 105.2l4.7-105.2h13.8l4.7 35.1l4.6-35.1l4.6 35.1l4.7-35.1h4.6l4.6 35.1l4.6-35.1h23.2l4.6 140.2l4.6-140.2l4.7 175.3l4.6-35.1l4.6-140.2l4.7 140.2h4.6l4.6-140.2l4.6 140.2l4.7-140.2h4.6l4.6 140.2l4.7-140.2l4.6 140.2l4.6-140.2h9.3l4.6 105.2l4.6-105.2h13.9l4.6 70.2l4.7 70l4.6-140.2l4.6 35.1l4.7-35.1h18.5l4.6 35.1l4.6-35.1h23.2l4.6 35.1l4.6-35.1l4.7 35.1l4.6 105.1l4.6-140.2h9.3l4.6 105.2l4.6-105.2h9.3l4.6 105.2l4.6 35l4.7-105.1h4.6l4.6 105.1l4.7-140.2l4.6 35.1l4.6-35.1h9.3l4.6 140.2l4.6-140.2h23.2l4.6 35.1l4.6 105.1l4.7-52.5l4.6-52.6l4.6-35.1l4.6 35.1l4.7 140.2h4.6l4.6-175.3l4.7 35.1l4.6 70.1l4.6-70.1h46.3l4.6 140.2l4.7-140.2h23.1" stroke="#00f" stroke-dasharray="12.1 11.7" stroke-linejoin="bevel"/>
</g>
<g font-size="23.35" fill="#000">
<g text-anchor="middle">
<text x="70.9" y="2441.9">0</text>
<text x="163.5" y="2441.9">20</text>
<text x="256" y="2441.9">40</text>
<text x="348.6" y="2441.9">60</text>
<text x="441.2" y="2441.9">80</text>
<text x="533.8" y="2441.9">100</text>
<text x="626.3" y="2441.9">120</text>
<text x="718.9" y="2441.9">140</text>
</g><g text-anchor="end">
<text x="61.6" y="2419.3">2</text>
<text x="61.6" y="2349.2">4</text>
<text x="61.6" y="2279.1">6</text>
<text x="61.6" y="2209">8</text>
</g></g>
<g font-size="26.29" fill="#000" text-anchor="middle">
<text x="394.6" y="2475.9">Data samples</text>
<text transform="translate(29 2308.7) rotate(-90)">DC Value</text>
</g>
<rect x="544.5" y="2212.9" width="158.5" height="57.9" fill="#fff" stroke="#1c1c1c" stroke-width="1.6"/>
<path d="M550.3 2228.9h60" stroke="#f00" stroke-width="4.55" fill="none"/>
<path d="M550.3 2255.4h60" stroke="#00f" stroke-width="4.55" stroke-dasharray="12.1 11.8" fill="none"/>
<g font-size="21.23" fill="#000"><text x="614.8" y="2236.7">Actual</text><text x="614.8" y="2263">Predicted</text></g>
<clipPath id="c15"><rect x="883.5" y="2198.9" width="652.9" height="214.9"/></clipPath>
<path d="M885.8 2201.2H1534.1V2411.5H885.8ZM885.8 2411.5v-7.3 M885.8 2201.2v7.3M1015.5 2411.5v-7.3 M1015.5 2201.2v7.3M1145.1 2411.5v-7.3 M1145.1 2201.2v7.3M1274.8 2411.5v-7.3 M1274.8 2201.2v7.3M1404.4 2411.5v-7.3 M1404.4 2201.2v7.3M1534.1 2411.5v-7.3 M1534.1 2201.2v7.3M885.8 2381.2h7.3 M1534.1 2381.2h-7.3M885.8 2291.5h7.3 M1534.1 2291.5h-7.3M885.8 2201.7h7.3 M1534.1 2201.7h-7.3" fill="none" stroke="#111" stroke-width="1.4"/>
<g clip-path="url(#c15)" fill="none" stroke-width="4.55">
<path d="M898.8 2273.5l12.9 35.9l13-35.9l13-17.9h12.9l13 17.9h13l12.9-17.9l13 71.7l13-71.7h103.7l13 17.9l12.9-17.9l13 53.8l13-35.9l12.9 53.8l13-71.7h51.8l13 17.9l13-17.9l12.9 17.9h13l13-17.9h12.9l13 71.7l13-71.7h38.9l12.9 71.7l13-71.7l13 17.9h12.9l13 71.8l13-71.8h25.9" stroke="#f00" stroke-linejoin="round"/>
<path d="M898.8 2214.3l12.9 84l13-24.8l13-17.9h12.9l13 6.2l13 149.9l12.9-156.1l13 80.7l13-80.7h51.8l13 3.6l13-19.8l12.9 16.2h13l13 17.9l12.9-17.9l13 48.4l13-30.5l12.9 87.9l13-128.3l12.9 22.5h38.9l13 17.9l13-17.9l12.9 17.9h13l13-17.9l12.9-.4h13l13 .4h38.9l12.9 56.9l13-56.9l13 17.9h25.9l13 7.2l12.9-7.2h13" stroke="#00f" stroke-dasharray="12.1 11.7" stroke-linejoin="bevel"/>
</g>
<g font-size="23.35" fill="#000">
<g text-anchor="middle">
<text x="885.3" y="2441.9">0</text>
<text x="1015" y="2441.9">10</text>
<text x="1144.6" y="2441.9">20</text>
<text x="1274.3" y="2441.9">30</text>
<text x="1403.9" y="2441.9">40</text>
<text x="1533.6" y="2441.9">50</text>
</g><g text-anchor="end">
<text x="876" y="2389">0</text>
<text x="876" y="2299.2">5</text>
<text x="876" y="2209.5">10</text>
</g></g>
<g font-size="26.29" fill="#000" text-anchor="middle">
<text x="1209.1" y="2475.9">Data samples</text>
<text transform="translate(837.5 2308.5) rotate(-90)">DC Value</text>
</g>
<rect x="1359.2" y="2212.9" width="158.5" height="57.9" fill="#fff" stroke="#1c1c1c" stroke-width="1.6"/>
<path d="M1365 2228.9h60" stroke="#f00" stroke-width="4.55" fill="none"/>
<path d="M1365 2255.4h60" stroke="#00f" stroke-width="4.55" stroke-dasharray="12.1 11.8" fill="none"/>
<g font-size="21.23" fill="#000"><text x="1429.5" y="2236.7">Actual</text><text x="1429.5" y="2263">Predicted</text></g>
</svg></body></html>
